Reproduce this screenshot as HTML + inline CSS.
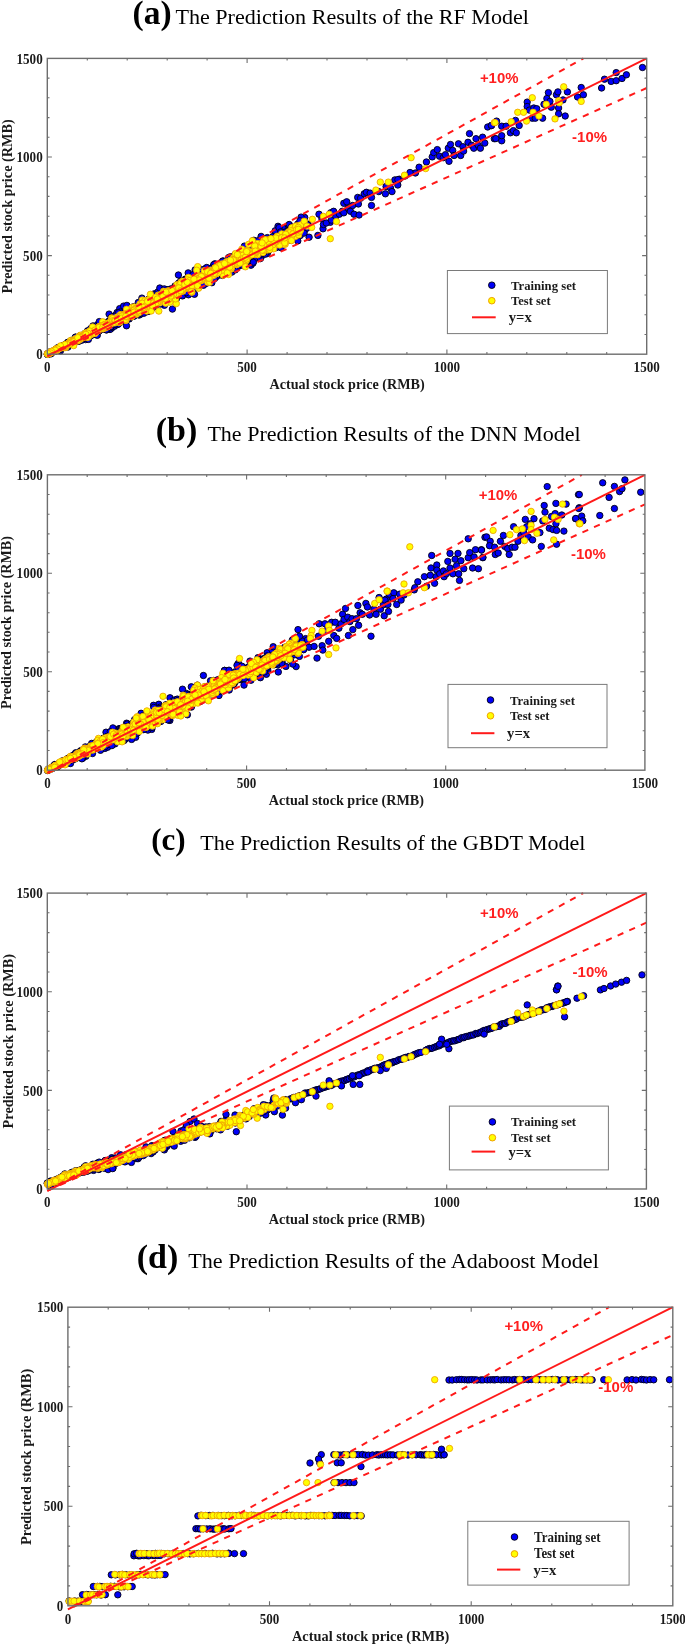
<!DOCTYPE html><html><head><meta charset="utf-8"><title>Prediction Results</title><style>html,body{margin:0;padding:0;background:#fff;width:685px;height:1644px;overflow:hidden}svg{display:block;filter:blur(0.35px)}</style></head><body><svg width="685" height="1644" viewBox="0 0 685 1644">
<rect width="685" height="1644" fill="#fff"/>
<g>
<g fill="#0000f8" stroke="#000010" stroke-width="0.9">
<circle cx="247.8" cy="256.2" r="3.2"/><circle cx="164" cy="299.9" r="3.2"/><circle cx="209.8" cy="270.4" r="3.2"/><circle cx="203.6" cy="273.8" r="3.2"/><circle cx="241.6" cy="254.4" r="3.2"/><circle cx="162.5" cy="296.9" r="3.2"/><circle cx="167" cy="289.6" r="3.2"/><circle cx="53.8" cy="350.7" r="3.2"/><circle cx="109" cy="323.1" r="3.2"/><circle cx="237.9" cy="260.5" r="3.2"/><circle cx="54.2" cy="350.7" r="3.2"/><circle cx="75.7" cy="339.3" r="3.2"/><circle cx="116.4" cy="318.7" r="3.2"/><circle cx="83" cy="337" r="3.2"/><circle cx="118.8" cy="323.5" r="3.2"/><circle cx="251.5" cy="253.1" r="3.2"/><circle cx="181.4" cy="285.1" r="3.2"/><circle cx="146.2" cy="304.9" r="3.2"/><circle cx="177.4" cy="292.5" r="3.2"/><circle cx="88.3" cy="333.4" r="3.2"/><circle cx="203.2" cy="275.5" r="3.2"/><circle cx="138.8" cy="311.4" r="3.2"/><circle cx="258.1" cy="249.5" r="3.2"/><circle cx="211.6" cy="269.4" r="3.2"/><circle cx="95.3" cy="329.4" r="3.2"/><circle cx="92.2" cy="328.9" r="3.2"/><circle cx="55.7" cy="349.6" r="3.2"/><circle cx="105.2" cy="327.8" r="3.2"/><circle cx="172.9" cy="289.8" r="3.2"/><circle cx="257" cy="245.5" r="3.2"/><circle cx="171.6" cy="291.7" r="3.2"/><circle cx="281.8" cy="242.3" r="3.2"/><circle cx="76.2" cy="338.6" r="3.2"/><circle cx="278" cy="234.8" r="3.2"/><circle cx="287.8" cy="226.6" r="3.2"/><circle cx="175.5" cy="289.3" r="3.2"/><circle cx="105.8" cy="324.1" r="3.2"/><circle cx="237.8" cy="266.8" r="3.2"/><circle cx="268.1" cy="240.5" r="3.2"/><circle cx="92.1" cy="330.6" r="3.2"/><circle cx="223.6" cy="264.9" r="3.2"/><circle cx="255.6" cy="250.9" r="3.2"/><circle cx="67.2" cy="344.8" r="3.2"/><circle cx="60" cy="347.9" r="3.2"/><circle cx="47.5" cy="354.3" r="3.2"/><circle cx="235.5" cy="261" r="3.2"/><circle cx="243.7" cy="252.2" r="3.2"/><circle cx="111.6" cy="319.9" r="3.2"/><circle cx="85.7" cy="339.6" r="3.2"/><circle cx="244.4" cy="246.1" r="3.2"/><circle cx="103.4" cy="326.8" r="3.2"/><circle cx="162.2" cy="294.7" r="3.2"/><circle cx="171.6" cy="295.1" r="3.2"/><circle cx="98" cy="327.1" r="3.2"/><circle cx="118.3" cy="317.3" r="3.2"/><circle cx="248.7" cy="254" r="3.2"/><circle cx="147.6" cy="305.1" r="3.2"/><circle cx="126" cy="313.9" r="3.2"/><circle cx="54.1" cy="351.6" r="3.2"/><circle cx="121.5" cy="317.4" r="3.2"/><circle cx="101.5" cy="328" r="3.2"/><circle cx="235.1" cy="260.9" r="3.2"/><circle cx="291.3" cy="237.1" r="3.2"/><circle cx="65.7" cy="344.7" r="3.2"/><circle cx="76" cy="340.9" r="3.2"/><circle cx="197.8" cy="277.8" r="3.2"/><circle cx="211.2" cy="271.9" r="3.2"/><circle cx="127" cy="316.9" r="3.2"/><circle cx="274.6" cy="239.8" r="3.2"/><circle cx="272.1" cy="237.8" r="3.2"/><circle cx="289.9" cy="240.1" r="3.2"/><circle cx="181.6" cy="284.6" r="3.2"/><circle cx="75.2" cy="339.5" r="3.2"/><circle cx="74" cy="341" r="3.2"/><circle cx="221.6" cy="268.4" r="3.2"/><circle cx="146.6" cy="304.4" r="3.2"/><circle cx="252" cy="251.1" r="3.2"/><circle cx="113.8" cy="320.6" r="3.2"/><circle cx="90.7" cy="332.6" r="3.2"/><circle cx="111.9" cy="323.1" r="3.2"/><circle cx="76.8" cy="339" r="3.2"/><circle cx="146" cy="308.1" r="3.2"/><circle cx="89.2" cy="334.6" r="3.2"/><circle cx="290.9" cy="234.7" r="3.2"/><circle cx="154.1" cy="302.7" r="3.2"/><circle cx="188.7" cy="285.7" r="3.2"/><circle cx="165.2" cy="297.7" r="3.2"/><circle cx="79.4" cy="338.8" r="3.2"/><circle cx="183.5" cy="284.4" r="3.2"/><circle cx="263.6" cy="252.9" r="3.2"/><circle cx="250.2" cy="253.4" r="3.2"/><circle cx="284.6" cy="232.1" r="3.2"/><circle cx="93.1" cy="332.6" r="3.2"/><circle cx="166" cy="295.1" r="3.2"/><circle cx="71.2" cy="341.8" r="3.2"/><circle cx="52.1" cy="351.8" r="3.2"/><circle cx="280.8" cy="237.9" r="3.2"/><circle cx="132.8" cy="312.4" r="3.2"/><circle cx="264" cy="245.4" r="3.2"/><circle cx="208" cy="271.4" r="3.2"/><circle cx="99.7" cy="327.2" r="3.2"/><circle cx="179.6" cy="289.1" r="3.2"/><circle cx="252" cy="250.1" r="3.2"/><circle cx="63.6" cy="347.6" r="3.2"/><circle cx="149.7" cy="305.6" r="3.2"/><circle cx="239.4" cy="259.9" r="3.2"/><circle cx="232.4" cy="263.5" r="3.2"/><circle cx="226.3" cy="264" r="3.2"/><circle cx="287.1" cy="236.2" r="3.2"/><circle cx="212.5" cy="272" r="3.2"/><circle cx="95.8" cy="331.8" r="3.2"/><circle cx="174.3" cy="295.5" r="3.2"/><circle cx="113.3" cy="321.7" r="3.2"/><circle cx="47.4" cy="354.1" r="3.2"/><circle cx="156.8" cy="302.2" r="3.2"/><circle cx="230.1" cy="261.4" r="3.2"/><circle cx="144.1" cy="301.6" r="3.2"/><circle cx="62.8" cy="346.7" r="3.2"/><circle cx="188.2" cy="282.1" r="3.2"/><circle cx="51.3" cy="352.3" r="3.2"/><circle cx="114.8" cy="322.3" r="3.2"/><circle cx="179.5" cy="289.9" r="3.2"/><circle cx="277.3" cy="238.6" r="3.2"/><circle cx="164.7" cy="299.7" r="3.2"/><circle cx="233.7" cy="265.9" r="3.2"/><circle cx="54.7" cy="350.5" r="3.2"/><circle cx="74.1" cy="341.7" r="3.2"/><circle cx="211.4" cy="274.4" r="3.2"/><circle cx="263.6" cy="240.5" r="3.2"/><circle cx="270" cy="239.1" r="3.2"/><circle cx="282.6" cy="238.6" r="3.2"/><circle cx="65" cy="345.3" r="3.2"/><circle cx="55.5" cy="350.2" r="3.2"/><circle cx="254.3" cy="246.9" r="3.2"/><circle cx="83.9" cy="334.8" r="3.2"/><circle cx="222" cy="268.2" r="3.2"/><circle cx="107.1" cy="324.6" r="3.2"/><circle cx="137.8" cy="309.8" r="3.2"/><circle cx="191" cy="282.5" r="3.2"/><circle cx="76.7" cy="339.4" r="3.2"/><circle cx="150.8" cy="301.9" r="3.2"/><circle cx="128.9" cy="309.5" r="3.2"/><circle cx="57.5" cy="348.4" r="3.2"/><circle cx="132" cy="313.6" r="3.2"/><circle cx="236.5" cy="265.1" r="3.2"/><circle cx="51.1" cy="352.8" r="3.2"/><circle cx="87.4" cy="338.8" r="3.2"/><circle cx="123.2" cy="317.6" r="3.2"/><circle cx="273" cy="245.4" r="3.2"/><circle cx="112.7" cy="319.8" r="3.2"/><circle cx="109.7" cy="323.1" r="3.2"/><circle cx="230.4" cy="263.6" r="3.2"/><circle cx="133.8" cy="315.9" r="3.2"/><circle cx="302.5" cy="222" r="3.2"/><circle cx="184.3" cy="290.1" r="3.2"/><circle cx="65.2" cy="345.8" r="3.2"/><circle cx="264.5" cy="250.9" r="3.2"/><circle cx="144.6" cy="307.7" r="3.2"/><circle cx="87.2" cy="334.1" r="3.2"/><circle cx="124.5" cy="313.2" r="3.2"/><circle cx="199.6" cy="283" r="3.2"/><circle cx="51.8" cy="352.2" r="3.2"/><circle cx="192.6" cy="285.9" r="3.2"/><circle cx="273" cy="240.6" r="3.2"/><circle cx="106" cy="323.4" r="3.2"/><circle cx="140" cy="304.8" r="3.2"/><circle cx="260.5" cy="246.3" r="3.2"/><circle cx="233.8" cy="258" r="3.2"/><circle cx="77.3" cy="340.9" r="3.2"/><circle cx="192.5" cy="282.7" r="3.2"/><circle cx="79.7" cy="337.6" r="3.2"/><circle cx="164.5" cy="296.8" r="3.2"/><circle cx="200.8" cy="274.4" r="3.2"/><circle cx="212" cy="272.8" r="3.2"/><circle cx="56.6" cy="350.6" r="3.2"/><circle cx="122.1" cy="315.3" r="3.2"/><circle cx="242.1" cy="258.8" r="3.2"/><circle cx="75.7" cy="340.3" r="3.2"/><circle cx="80.6" cy="338.1" r="3.2"/><circle cx="245.9" cy="252.3" r="3.2"/><circle cx="254" cy="250.3" r="3.2"/><circle cx="208.2" cy="277.3" r="3.2"/><circle cx="196.5" cy="284.7" r="3.2"/><circle cx="285.7" cy="237.6" r="3.2"/><circle cx="225.8" cy="272.1" r="3.2"/><circle cx="289.2" cy="224.5" r="3.2"/><circle cx="166.9" cy="292.7" r="3.2"/><circle cx="261.3" cy="256.5" r="3.2"/><circle cx="200.4" cy="277.2" r="3.2"/><circle cx="167.6" cy="292.1" r="3.2"/><circle cx="80.6" cy="337.8" r="3.2"/><circle cx="133.7" cy="311" r="3.2"/><circle cx="97.4" cy="330.4" r="3.2"/><circle cx="173.5" cy="291.1" r="3.2"/><circle cx="107" cy="323.1" r="3.2"/><circle cx="175.6" cy="293.2" r="3.2"/><circle cx="125.1" cy="316.7" r="3.2"/><circle cx="50.3" cy="353.2" r="3.2"/><circle cx="267.3" cy="253.5" r="3.2"/><circle cx="192.4" cy="281.4" r="3.2"/><circle cx="144" cy="305.5" r="3.2"/><circle cx="74" cy="341.5" r="3.2"/><circle cx="57.4" cy="349.9" r="3.2"/><circle cx="71.2" cy="343.6" r="3.2"/><circle cx="272.8" cy="241.6" r="3.2"/><circle cx="226" cy="262.5" r="3.2"/><circle cx="142.8" cy="308.7" r="3.2"/><circle cx="206.6" cy="275.9" r="3.2"/><circle cx="201.1" cy="275.6" r="3.2"/><circle cx="165.6" cy="297" r="3.2"/><circle cx="220.5" cy="268.3" r="3.2"/><circle cx="156.9" cy="296" r="3.2"/><circle cx="271.3" cy="244.9" r="3.2"/><circle cx="224.9" cy="265.7" r="3.2"/><circle cx="297" cy="226.4" r="3.2"/><circle cx="62.1" cy="346.3" r="3.2"/><circle cx="148.5" cy="299.3" r="3.2"/><circle cx="111.6" cy="328.2" r="3.2"/><circle cx="58.8" cy="348.5" r="3.2"/><circle cx="208" cy="277.2" r="3.2"/><circle cx="146.1" cy="305.2" r="3.2"/><circle cx="139.1" cy="315.1" r="3.2"/><circle cx="122.2" cy="317.4" r="3.2"/><circle cx="139.3" cy="309.8" r="3.2"/><circle cx="103.3" cy="323.4" r="3.2"/><circle cx="57.7" cy="349.2" r="3.2"/><circle cx="288" cy="234.4" r="3.2"/><circle cx="268.5" cy="250.8" r="3.2"/><circle cx="184.7" cy="288.8" r="3.2"/><circle cx="277.1" cy="237.7" r="3.2"/><circle cx="83.8" cy="336.2" r="3.2"/><circle cx="86.2" cy="333" r="3.2"/><circle cx="158.8" cy="301" r="3.2"/><circle cx="258.1" cy="251.3" r="3.2"/><circle cx="163.9" cy="296.3" r="3.2"/><circle cx="78.4" cy="338.3" r="3.2"/><circle cx="210.4" cy="271" r="3.2"/><circle cx="100.5" cy="328.4" r="3.2"/><circle cx="73.6" cy="341.6" r="3.2"/><circle cx="194.7" cy="283.1" r="3.2"/><circle cx="225.3" cy="270.6" r="3.2"/><circle cx="278.5" cy="242.8" r="3.2"/><circle cx="165.3" cy="299" r="3.2"/><circle cx="153.1" cy="301.5" r="3.2"/><circle cx="127" cy="316.8" r="3.2"/><circle cx="218.5" cy="272.5" r="3.2"/><circle cx="105.3" cy="323.9" r="3.2"/><circle cx="299.6" cy="225" r="3.2"/><circle cx="296.5" cy="232.1" r="3.2"/><circle cx="69.6" cy="344.1" r="3.2"/><circle cx="129.5" cy="315" r="3.2"/><circle cx="170.7" cy="290.1" r="3.2"/><circle cx="93.1" cy="332.5" r="3.2"/><circle cx="220.8" cy="273.5" r="3.2"/><circle cx="145.3" cy="304.9" r="3.2"/><circle cx="47.6" cy="354.1" r="3.2"/><circle cx="65.4" cy="346.5" r="3.2"/><circle cx="296.3" cy="237.7" r="3.2"/><circle cx="100.7" cy="327.8" r="3.2"/><circle cx="157.1" cy="304.4" r="3.2"/><circle cx="163.8" cy="297.6" r="3.2"/><circle cx="64.8" cy="345.9" r="3.2"/><circle cx="194.8" cy="280.4" r="3.2"/><circle cx="90.3" cy="335.8" r="3.2"/><circle cx="252" cy="256.2" r="3.2"/><circle cx="91.5" cy="335.2" r="3.2"/><circle cx="66.3" cy="344.9" r="3.2"/><circle cx="235.5" cy="260.9" r="3.2"/><circle cx="70.8" cy="343.9" r="3.2"/><circle cx="231.1" cy="260.2" r="3.2"/><circle cx="273" cy="239.6" r="3.2"/><circle cx="198.3" cy="279.8" r="3.2"/><circle cx="182.6" cy="283.8" r="3.2"/><circle cx="128" cy="312.9" r="3.2"/><circle cx="278" cy="226.3" r="3.2"/><circle cx="214.6" cy="271.6" r="3.2"/><circle cx="280.4" cy="245.6" r="3.2"/><circle cx="126.1" cy="317.9" r="3.2"/><circle cx="185.4" cy="289.9" r="3.2"/><circle cx="95.2" cy="329.7" r="3.2"/><circle cx="63.2" cy="346.8" r="3.2"/><circle cx="84.5" cy="334" r="3.2"/><circle cx="106.5" cy="326.5" r="3.2"/><circle cx="224.4" cy="270.3" r="3.2"/><circle cx="191.5" cy="285.5" r="3.2"/><circle cx="160.4" cy="301.4" r="3.2"/><circle cx="224" cy="266.2" r="3.2"/><circle cx="89.8" cy="334.9" r="3.2"/><circle cx="297.8" cy="223.9" r="3.2"/><circle cx="255.1" cy="250" r="3.2"/><circle cx="234.8" cy="255" r="3.2"/><circle cx="213" cy="275.4" r="3.2"/><circle cx="278" cy="237.8" r="3.2"/><circle cx="121.1" cy="318.1" r="3.2"/><circle cx="175.8" cy="292" r="3.2"/><circle cx="251" cy="265.2" r="3.2"/><circle cx="181.1" cy="292.6" r="3.2"/><circle cx="50.2" cy="353" r="3.2"/><circle cx="80" cy="338.4" r="3.2"/><circle cx="133.4" cy="306.8" r="3.2"/><circle cx="72.6" cy="341.8" r="3.2"/><circle cx="128.1" cy="313.6" r="3.2"/><circle cx="151.1" cy="308.4" r="3.2"/><circle cx="275.9" cy="239.3" r="3.2"/><circle cx="109.6" cy="321.9" r="3.2"/><circle cx="261.3" cy="247.5" r="3.2"/><circle cx="74" cy="340.1" r="3.2"/><circle cx="121.8" cy="314.9" r="3.2"/><circle cx="136.6" cy="311.8" r="3.2"/><circle cx="276" cy="247.7" r="3.2"/><circle cx="273.1" cy="236.5" r="3.2"/><circle cx="196.3" cy="274.1" r="3.2"/><circle cx="97.1" cy="330.5" r="3.2"/><circle cx="246.5" cy="252.8" r="3.2"/><circle cx="154.4" cy="293.8" r="3.2"/><circle cx="191.2" cy="290.4" r="3.2"/><circle cx="140.5" cy="314.2" r="3.2"/><circle cx="141.1" cy="302.7" r="3.2"/><circle cx="158.7" cy="298.7" r="3.2"/><circle cx="253.6" cy="249.3" r="3.2"/><circle cx="220.6" cy="270.4" r="3.2"/><circle cx="97.3" cy="328.3" r="3.2"/><circle cx="198.8" cy="274.1" r="3.2"/><circle cx="73.1" cy="340" r="3.2"/><circle cx="87.5" cy="333" r="3.2"/><circle cx="81.5" cy="338.2" r="3.2"/><circle cx="208.6" cy="275.3" r="3.2"/><circle cx="89.8" cy="334.1" r="3.2"/><circle cx="281.1" cy="247.8" r="3.2"/><circle cx="154" cy="303.8" r="3.2"/><circle cx="88.3" cy="334.8" r="3.2"/><circle cx="195.1" cy="269.9" r="3.2"/><circle cx="185.6" cy="284.1" r="3.2"/><circle cx="171.2" cy="292.9" r="3.2"/><circle cx="77.2" cy="339.8" r="3.2"/><circle cx="115.7" cy="319.1" r="3.2"/><circle cx="111.7" cy="322.6" r="3.2"/><circle cx="103.6" cy="325.1" r="3.2"/><circle cx="56.6" cy="349" r="3.2"/><circle cx="156.8" cy="302" r="3.2"/><circle cx="286.7" cy="235.1" r="3.2"/><circle cx="76.2" cy="340.5" r="3.2"/><circle cx="215.6" cy="266" r="3.2"/><circle cx="113.6" cy="321.1" r="3.2"/><circle cx="93" cy="325.9" r="3.2"/><circle cx="198.8" cy="275.6" r="3.2"/><circle cx="86.5" cy="332.6" r="3.2"/><circle cx="121.2" cy="316.2" r="3.2"/><circle cx="76.6" cy="339.1" r="3.2"/><circle cx="246.9" cy="255.3" r="3.2"/><circle cx="49.8" cy="353.3" r="3.2"/><circle cx="184.4" cy="290.7" r="3.2"/><circle cx="85" cy="333.4" r="3.2"/><circle cx="70.5" cy="343.3" r="3.2"/><circle cx="297.3" cy="230.8" r="3.2"/><circle cx="60.7" cy="348.4" r="3.2"/><circle cx="162.3" cy="293.1" r="3.2"/><circle cx="183.4" cy="283.1" r="3.2"/><circle cx="67.1" cy="344.5" r="3.2"/><circle cx="119.4" cy="320.5" r="3.2"/><circle cx="80.8" cy="339.1" r="3.2"/><circle cx="50.3" cy="352.5" r="3.2"/><circle cx="196.1" cy="279.7" r="3.2"/><circle cx="229" cy="262.7" r="3.2"/><circle cx="66.3" cy="345" r="3.2"/><circle cx="181.5" cy="288.9" r="3.2"/><circle cx="183.3" cy="288.6" r="3.2"/><circle cx="220.3" cy="270.7" r="3.2"/><circle cx="148.2" cy="302.4" r="3.2"/><circle cx="178.9" cy="286.3" r="3.2"/><circle cx="254.3" cy="250.4" r="3.2"/><circle cx="152.8" cy="302.9" r="3.2"/><circle cx="79.3" cy="338.8" r="3.2"/><circle cx="231.4" cy="261.6" r="3.2"/><circle cx="48" cy="353.9" r="3.2"/><circle cx="282.9" cy="238.5" r="3.2"/><circle cx="74.7" cy="339.8" r="3.2"/><circle cx="171.1" cy="299.9" r="3.2"/><circle cx="49.9" cy="352.8" r="3.2"/><circle cx="272.4" cy="243" r="3.2"/><circle cx="229.1" cy="269.1" r="3.2"/><circle cx="101.1" cy="326.8" r="3.2"/><circle cx="54.8" cy="350.1" r="3.2"/><circle cx="80.4" cy="337.7" r="3.2"/><circle cx="119.7" cy="308.6" r="3.2"/><circle cx="219.9" cy="264.8" r="3.2"/><circle cx="53.3" cy="351.2" r="3.2"/><circle cx="175.6" cy="290.9" r="3.2"/><circle cx="188.3" cy="284.7" r="3.2"/><circle cx="202.9" cy="276.5" r="3.2"/><circle cx="165.2" cy="295.2" r="3.2"/><circle cx="201.3" cy="269.5" r="3.2"/><circle cx="95.4" cy="329.4" r="3.2"/><circle cx="290.9" cy="237.5" r="3.2"/><circle cx="292.1" cy="232.3" r="3.2"/><circle cx="73.7" cy="343.5" r="3.2"/><circle cx="82.7" cy="337" r="3.2"/><circle cx="145" cy="306.2" r="3.2"/><circle cx="125.7" cy="313.7" r="3.2"/><circle cx="178" cy="289.1" r="3.2"/><circle cx="65.9" cy="344.6" r="3.2"/><circle cx="267.7" cy="246.6" r="3.2"/><circle cx="129.1" cy="318.9" r="3.2"/><circle cx="87.6" cy="333.7" r="3.2"/><circle cx="272.4" cy="241.2" r="3.2"/><circle cx="264.6" cy="250" r="3.2"/><circle cx="75.6" cy="337.3" r="3.2"/><circle cx="90.8" cy="331.5" r="3.2"/><circle cx="94.3" cy="331.8" r="3.2"/><circle cx="95.8" cy="328.6" r="3.2"/><circle cx="50.4" cy="352.6" r="3.2"/><circle cx="83.8" cy="337.2" r="3.2"/><circle cx="223.5" cy="266.1" r="3.2"/><circle cx="298.9" cy="230.6" r="3.2"/><circle cx="269.3" cy="241.5" r="3.2"/><circle cx="142.8" cy="309.3" r="3.2"/><circle cx="136" cy="310.5" r="3.2"/><circle cx="210.9" cy="272.7" r="3.2"/><circle cx="91.4" cy="334.2" r="3.2"/><circle cx="64.7" cy="346.2" r="3.2"/><circle cx="191.1" cy="285.3" r="3.2"/><circle cx="145.1" cy="303.6" r="3.2"/><circle cx="133.1" cy="312.6" r="3.2"/><circle cx="154.5" cy="298" r="3.2"/><circle cx="272.9" cy="242.3" r="3.2"/><circle cx="145.1" cy="306.9" r="3.2"/><circle cx="230.5" cy="256.8" r="3.2"/><circle cx="152.4" cy="299.9" r="3.2"/><circle cx="92.3" cy="331.8" r="3.2"/><circle cx="187.1" cy="283.9" r="3.2"/><circle cx="89.8" cy="333.8" r="3.2"/><circle cx="267.4" cy="237.6" r="3.2"/><circle cx="66.2" cy="344.6" r="3.2"/><circle cx="81.4" cy="336.3" r="3.2"/><circle cx="77" cy="340.2" r="3.2"/><circle cx="252.9" cy="263.2" r="3.2"/><circle cx="143.9" cy="313.2" r="3.2"/><circle cx="227.6" cy="263.1" r="3.2"/><circle cx="139" cy="313.9" r="3.2"/><circle cx="288.1" cy="230.4" r="3.2"/><circle cx="185.9" cy="291.8" r="3.2"/><circle cx="278.8" cy="240" r="3.2"/><circle cx="120.9" cy="318.2" r="3.2"/><circle cx="152" cy="304.7" r="3.2"/><circle cx="133.1" cy="311.9" r="3.2"/><circle cx="54.7" cy="350.5" r="3.2"/><circle cx="215.9" cy="269.5" r="3.2"/><circle cx="178.2" cy="292.6" r="3.2"/><circle cx="88.4" cy="334.2" r="3.2"/><circle cx="85.7" cy="335.5" r="3.2"/><circle cx="199.6" cy="281.1" r="3.2"/><circle cx="117.6" cy="319.8" r="3.2"/><circle cx="97.4" cy="324.8" r="3.2"/><circle cx="114.9" cy="323.6" r="3.2"/><circle cx="186.4" cy="280.8" r="3.2"/><circle cx="73.4" cy="341.1" r="3.2"/><circle cx="136.2" cy="307.9" r="3.2"/><circle cx="254.9" cy="248.4" r="3.2"/><circle cx="227.1" cy="263.7" r="3.2"/><circle cx="131.9" cy="312.3" r="3.2"/><circle cx="105.7" cy="327.6" r="3.2"/><circle cx="89.9" cy="334.1" r="3.2"/><circle cx="134.4" cy="310.9" r="3.2"/><circle cx="294" cy="230.7" r="3.2"/><circle cx="64.2" cy="345.3" r="3.2"/><circle cx="163.2" cy="303.7" r="3.2"/><circle cx="207.1" cy="274.3" r="3.2"/><circle cx="181.9" cy="286.5" r="3.2"/><circle cx="64.8" cy="346" r="3.2"/><circle cx="81.5" cy="336.9" r="3.2"/><circle cx="77.8" cy="340" r="3.2"/><circle cx="78.7" cy="340.4" r="3.2"/><circle cx="120.4" cy="315.3" r="3.2"/><circle cx="120.8" cy="317.6" r="3.2"/><circle cx="287" cy="236.7" r="3.2"/><circle cx="270.3" cy="244.6" r="3.2"/><circle cx="57.6" cy="349.1" r="3.2"/><circle cx="162.6" cy="300.2" r="3.2"/><circle cx="127.4" cy="317" r="3.2"/><circle cx="153.7" cy="302.5" r="3.2"/><circle cx="80.8" cy="339.5" r="3.2"/><circle cx="109.3" cy="325.5" r="3.2"/><circle cx="85.6" cy="334.8" r="3.2"/><circle cx="188.2" cy="272.9" r="3.2"/><circle cx="172.1" cy="295.9" r="3.2"/><circle cx="81.9" cy="338.1" r="3.2"/><circle cx="80.9" cy="336.3" r="3.2"/><circle cx="116.5" cy="320.7" r="3.2"/><circle cx="300.2" cy="235.6" r="3.2"/><circle cx="165.3" cy="292.2" r="3.2"/><circle cx="156.5" cy="301.8" r="3.2"/><circle cx="182.3" cy="287.8" r="3.2"/><circle cx="215.7" cy="270.2" r="3.2"/><circle cx="161.1" cy="302.5" r="3.2"/><circle cx="244.7" cy="256.5" r="3.2"/><circle cx="233.1" cy="268.3" r="3.2"/><circle cx="98.1" cy="329.9" r="3.2"/><circle cx="109.1" cy="314.1" r="3.2"/><circle cx="114.3" cy="321.5" r="3.2"/><circle cx="135.4" cy="311.9" r="3.2"/><circle cx="92.9" cy="328.5" r="3.2"/><circle cx="77.1" cy="338.2" r="3.2"/><circle cx="260.2" cy="244.7" r="3.2"/><circle cx="47.4" cy="354.2" r="3.2"/><circle cx="61.1" cy="347.7" r="3.2"/><circle cx="248.3" cy="250.9" r="3.2"/><circle cx="240.7" cy="258.9" r="3.2"/><circle cx="215.9" cy="272.9" r="3.2"/><circle cx="82.2" cy="336.6" r="3.2"/><circle cx="107.6" cy="323" r="3.2"/><circle cx="209.5" cy="280" r="3.2"/><circle cx="58.3" cy="349.1" r="3.2"/><circle cx="88.6" cy="333" r="3.2"/><circle cx="133.2" cy="314.3" r="3.2"/><circle cx="296.9" cy="236.1" r="3.2"/><circle cx="91.3" cy="332.3" r="3.2"/><circle cx="212" cy="278.1" r="3.2"/><circle cx="79.9" cy="335.8" r="3.2"/><circle cx="104.8" cy="327.5" r="3.2"/><circle cx="188.2" cy="289" r="3.2"/><circle cx="185.3" cy="279.1" r="3.2"/><circle cx="172" cy="291.9" r="3.2"/><circle cx="291.4" cy="227.1" r="3.2"/><circle cx="245.9" cy="255.7" r="3.2"/><circle cx="256.6" cy="258" r="3.2"/><circle cx="251.1" cy="253.4" r="3.2"/><circle cx="93.6" cy="333.7" r="3.2"/><circle cx="67.9" cy="347.1" r="3.2"/><circle cx="229.9" cy="263.2" r="3.2"/><circle cx="162.7" cy="292.7" r="3.2"/><circle cx="184.4" cy="286.8" r="3.2"/><circle cx="166.9" cy="297.5" r="3.2"/><circle cx="147.7" cy="311.6" r="3.2"/><circle cx="177" cy="286" r="3.2"/><circle cx="127.1" cy="315.9" r="3.2"/><circle cx="114.2" cy="318.5" r="3.2"/><circle cx="234.2" cy="259.2" r="3.2"/><circle cx="231.9" cy="272.1" r="3.2"/><circle cx="65.8" cy="344.8" r="3.2"/><circle cx="96.7" cy="332" r="3.2"/><circle cx="141" cy="306.2" r="3.2"/><circle cx="82.6" cy="338.1" r="3.2"/><circle cx="198.4" cy="287.6" r="3.2"/><circle cx="78.4" cy="339.4" r="3.2"/><circle cx="213.6" cy="269.1" r="3.2"/><circle cx="171.8" cy="292.1" r="3.2"/><circle cx="61" cy="346.9" r="3.2"/><circle cx="273" cy="238.5" r="3.2"/><circle cx="76.8" cy="340.7" r="3.2"/><circle cx="70.9" cy="341.7" r="3.2"/><circle cx="83.1" cy="335.5" r="3.2"/><circle cx="250.4" cy="254.9" r="3.2"/><circle cx="129.3" cy="314.5" r="3.2"/><circle cx="86.3" cy="335.8" r="3.2"/><circle cx="93" cy="327.2" r="3.2"/><circle cx="261.1" cy="236.4" r="3.2"/><circle cx="202.8" cy="276.4" r="3.2"/><circle cx="218.9" cy="272.8" r="3.2"/><circle cx="236.9" cy="259.7" r="3.2"/><circle cx="149" cy="311.1" r="3.2"/><circle cx="183.5" cy="281.7" r="3.2"/><circle cx="79.5" cy="336.4" r="3.2"/><circle cx="157.4" cy="303.6" r="3.2"/><circle cx="167.1" cy="300.1" r="3.2"/><circle cx="90" cy="333.2" r="3.2"/><circle cx="219.5" cy="268.5" r="3.2"/><circle cx="237.3" cy="261.9" r="3.2"/><circle cx="96.7" cy="330.1" r="3.2"/><circle cx="222.2" cy="266.1" r="3.2"/><circle cx="145.9" cy="306.6" r="3.2"/><circle cx="73.1" cy="341.4" r="3.2"/><circle cx="104.4" cy="325.5" r="3.2"/><circle cx="190.1" cy="285.2" r="3.2"/><circle cx="224.8" cy="266.7" r="3.2"/><circle cx="110.4" cy="323" r="3.2"/><circle cx="258.6" cy="241.1" r="3.2"/><circle cx="218.2" cy="265.6" r="3.2"/><circle cx="179.3" cy="287.7" r="3.2"/><circle cx="223.7" cy="266.2" r="3.2"/><circle cx="229.7" cy="269.1" r="3.2"/><circle cx="72.2" cy="341.5" r="3.2"/><circle cx="158.7" cy="297.2" r="3.2"/><circle cx="57.2" cy="349.3" r="3.2"/><circle cx="168.5" cy="293" r="3.2"/><circle cx="104.8" cy="326.3" r="3.2"/><circle cx="105" cy="322.5" r="3.2"/><circle cx="87.8" cy="331.4" r="3.2"/><circle cx="98.9" cy="328.8" r="3.2"/><circle cx="197.2" cy="274.4" r="3.2"/><circle cx="88.6" cy="332.9" r="3.2"/><circle cx="158.1" cy="300.2" r="3.2"/><circle cx="113.9" cy="319.7" r="3.2"/><circle cx="55.5" cy="349.8" r="3.2"/><circle cx="116.1" cy="322.1" r="3.2"/><circle cx="62.1" cy="347.1" r="3.2"/><circle cx="251.3" cy="250.1" r="3.2"/><circle cx="64.7" cy="345.6" r="3.2"/><circle cx="82.6" cy="336.1" r="3.2"/><circle cx="281.1" cy="241.1" r="3.2"/><circle cx="210.5" cy="270.7" r="3.2"/><circle cx="300.4" cy="225.5" r="3.2"/><circle cx="53.7" cy="351" r="3.2"/><circle cx="231.3" cy="265.9" r="3.2"/><circle cx="280.4" cy="239.2" r="3.2"/><circle cx="290.9" cy="233.5" r="3.2"/><circle cx="179.7" cy="287.7" r="3.2"/><circle cx="277.8" cy="239.2" r="3.2"/><circle cx="243.7" cy="258" r="3.2"/><circle cx="174.7" cy="292.6" r="3.2"/><circle cx="50.5" cy="352.8" r="3.2"/><circle cx="250" cy="253" r="3.2"/><circle cx="57.4" cy="348.4" r="3.2"/><circle cx="184" cy="287.2" r="3.2"/><circle cx="68.4" cy="343" r="3.2"/><circle cx="250.1" cy="254.9" r="3.2"/><circle cx="184.8" cy="284.1" r="3.2"/><circle cx="145.2" cy="303.7" r="3.2"/><circle cx="196.2" cy="282" r="3.2"/><circle cx="97.7" cy="330.9" r="3.2"/><circle cx="127.5" cy="310.1" r="3.2"/><circle cx="157.9" cy="296.1" r="3.2"/><circle cx="301.1" cy="229.9" r="3.2"/><circle cx="247.6" cy="253.5" r="3.2"/><circle cx="108.7" cy="321.4" r="3.2"/><circle cx="67.8" cy="342.3" r="3.2"/><circle cx="149.3" cy="306.8" r="3.2"/><circle cx="199.2" cy="278.5" r="3.2"/><circle cx="115.3" cy="317.6" r="3.2"/><circle cx="47.8" cy="353.7" r="3.2"/><circle cx="88.2" cy="334.9" r="3.2"/><circle cx="238.2" cy="258.9" r="3.2"/><circle cx="250" cy="255.3" r="3.2"/><circle cx="212.6" cy="267.2" r="3.2"/><circle cx="194.4" cy="280.6" r="3.2"/><circle cx="288.9" cy="237.7" r="3.2"/><circle cx="72.4" cy="340.6" r="3.2"/><circle cx="50.9" cy="353.9" r="3.2"/><circle cx="252.2" cy="255.3" r="3.2"/><circle cx="248.6" cy="257.1" r="3.2"/><circle cx="297.2" cy="235.7" r="3.2"/><circle cx="103.5" cy="327" r="3.2"/><circle cx="78.9" cy="338.6" r="3.2"/><circle cx="259.9" cy="249.6" r="3.2"/><circle cx="254.3" cy="249.3" r="3.2"/><circle cx="139.6" cy="304.4" r="3.2"/><circle cx="123.2" cy="315.3" r="3.2"/><circle cx="106.4" cy="326.5" r="3.2"/><circle cx="265.2" cy="254.2" r="3.2"/><circle cx="224.5" cy="267" r="3.2"/><circle cx="195.9" cy="275.5" r="3.2"/><circle cx="258.4" cy="252.4" r="3.2"/><circle cx="171.5" cy="295.2" r="3.2"/><circle cx="116.1" cy="315" r="3.2"/><circle cx="120.8" cy="320.7" r="3.2"/><circle cx="177.3" cy="290.4" r="3.2"/><circle cx="156.8" cy="294.9" r="3.2"/><circle cx="147" cy="305.7" r="3.2"/><circle cx="200.7" cy="283.3" r="3.2"/><circle cx="249.5" cy="254.8" r="3.2"/><circle cx="113" cy="323.5" r="3.2"/><circle cx="226.6" cy="271" r="3.2"/><circle cx="120.7" cy="319.2" r="3.2"/><circle cx="149.2" cy="304" r="3.2"/><circle cx="156.9" cy="301.8" r="3.2"/><circle cx="199.8" cy="276.4" r="3.2"/><circle cx="162.4" cy="291.2" r="3.2"/><circle cx="154.1" cy="300.7" r="3.2"/><circle cx="55" cy="350.2" r="3.2"/><circle cx="235.3" cy="265.3" r="3.2"/><circle cx="158.7" cy="298.1" r="3.2"/><circle cx="298.1" cy="228.5" r="3.2"/><circle cx="122.2" cy="318.6" r="3.2"/><circle cx="167.4" cy="295.7" r="3.2"/><circle cx="276" cy="244.5" r="3.2"/><circle cx="115.9" cy="315.7" r="3.2"/><circle cx="101.6" cy="325.4" r="3.2"/><circle cx="145.2" cy="301.1" r="3.2"/><circle cx="167.2" cy="293.1" r="3.2"/><circle cx="228.7" cy="257.5" r="3.2"/><circle cx="136.4" cy="308.8" r="3.2"/><circle cx="292.2" cy="235.4" r="3.2"/><circle cx="138.5" cy="309.9" r="3.2"/><circle cx="145.6" cy="304.7" r="3.2"/><circle cx="75.4" cy="339.1" r="3.2"/><circle cx="146.4" cy="306.7" r="3.2"/><circle cx="76.4" cy="340.2" r="3.2"/><circle cx="143.3" cy="300.4" r="3.2"/><circle cx="150.3" cy="308.4" r="3.2"/><circle cx="183.8" cy="287.8" r="3.2"/><circle cx="134.1" cy="307.3" r="3.2"/><circle cx="150.2" cy="302.5" r="3.2"/><circle cx="225.4" cy="262.7" r="3.2"/><circle cx="110.2" cy="321" r="3.2"/><circle cx="209.9" cy="273" r="3.2"/><circle cx="214.9" cy="263.8" r="3.2"/><circle cx="133.7" cy="309.2" r="3.2"/><circle cx="57.6" cy="349" r="3.2"/><circle cx="110" cy="323.6" r="3.2"/><circle cx="145.8" cy="306.9" r="3.2"/><circle cx="55.9" cy="350.2" r="3.2"/><circle cx="66.9" cy="344.1" r="3.2"/><circle cx="164.4" cy="305.3" r="3.2"/><circle cx="153.6" cy="300.6" r="3.2"/><circle cx="48.1" cy="354.2" r="3.2"/><circle cx="179.6" cy="289.8" r="3.2"/><circle cx="93.2" cy="331.6" r="3.2"/><circle cx="100.6" cy="328" r="3.2"/><circle cx="131.5" cy="312" r="3.2"/><circle cx="240.3" cy="261.8" r="3.2"/><circle cx="57.6" cy="350.1" r="3.2"/><circle cx="149" cy="302.3" r="3.2"/><circle cx="64.9" cy="347.2" r="3.2"/><circle cx="101.6" cy="329.6" r="3.2"/><circle cx="134.9" cy="314.3" r="3.2"/><circle cx="172.1" cy="294.5" r="3.2"/><circle cx="150.6" cy="304.3" r="3.2"/><circle cx="110" cy="329.5" r="3.2"/><circle cx="96.6" cy="328.8" r="3.2"/><circle cx="98.8" cy="325.6" r="3.2"/><circle cx="103" cy="326.8" r="3.2"/><circle cx="237.7" cy="266.6" r="3.2"/><circle cx="59.7" cy="347.4" r="3.2"/><circle cx="144.9" cy="309.5" r="3.2"/><circle cx="161.1" cy="297.6" r="3.2"/><circle cx="213.2" cy="272.4" r="3.2"/><circle cx="119.5" cy="315.8" r="3.2"/><circle cx="284.7" cy="239" r="3.2"/><circle cx="78.9" cy="341.3" r="3.2"/><circle cx="109.3" cy="320.9" r="3.2"/><circle cx="56.2" cy="349.2" r="3.2"/><circle cx="71" cy="341.8" r="3.2"/><circle cx="242" cy="261.1" r="3.2"/><circle cx="153.8" cy="303.4" r="3.2"/><circle cx="172.2" cy="294" r="3.2"/><circle cx="96" cy="330.7" r="3.2"/><circle cx="154.2" cy="303.6" r="3.2"/><circle cx="260.4" cy="243.9" r="3.2"/><circle cx="86.3" cy="336.3" r="3.2"/><circle cx="290.1" cy="232.7" r="3.2"/><circle cx="207.4" cy="277.2" r="3.2"/><circle cx="184.7" cy="280.2" r="3.2"/><circle cx="118" cy="318.7" r="3.2"/><circle cx="170.8" cy="288.9" r="3.2"/><circle cx="186" cy="279.9" r="3.2"/><circle cx="72.7" cy="340.7" r="3.2"/><circle cx="131.3" cy="312.1" r="3.2"/><circle cx="243.7" cy="251.7" r="3.2"/><circle cx="277.2" cy="234.9" r="3.2"/><circle cx="167.1" cy="292" r="3.2"/><circle cx="227.4" cy="268.8" r="3.2"/><circle cx="211.9" cy="282.7" r="3.2"/><circle cx="211.5" cy="268.5" r="3.2"/><circle cx="260.4" cy="258.6" r="3.2"/><circle cx="245.4" cy="256.6" r="3.2"/><circle cx="145.8" cy="302.7" r="3.2"/><circle cx="83.6" cy="335.7" r="3.2"/><circle cx="187" cy="279.8" r="3.2"/><circle cx="175.7" cy="288.8" r="3.2"/><circle cx="150.2" cy="302.4" r="3.2"/><circle cx="239.2" cy="254.5" r="3.2"/><circle cx="251.4" cy="254.5" r="3.2"/><circle cx="185.1" cy="290.2" r="3.2"/><circle cx="70.1" cy="343" r="3.2"/><circle cx="121.2" cy="319.9" r="3.2"/><circle cx="265.9" cy="250.7" r="3.2"/><circle cx="137.2" cy="309.8" r="3.2"/><circle cx="197" cy="277.4" r="3.2"/><circle cx="143.3" cy="307.1" r="3.2"/><circle cx="201" cy="278.9" r="3.2"/><circle cx="122" cy="319.1" r="3.2"/><circle cx="288.1" cy="235.7" r="3.2"/><circle cx="273.5" cy="238.6" r="3.2"/><circle cx="229.9" cy="262.3" r="3.2"/><circle cx="213.7" cy="264.7" r="3.2"/><circle cx="243.7" cy="257.2" r="3.2"/><circle cx="199.4" cy="278.9" r="3.2"/><circle cx="50.3" cy="351.7" r="3.2"/><circle cx="188.3" cy="290.9" r="3.2"/><circle cx="54.4" cy="350.6" r="3.2"/><circle cx="214.5" cy="273.7" r="3.2"/><circle cx="185.6" cy="288.7" r="3.2"/><circle cx="143.1" cy="306.3" r="3.2"/><circle cx="67.6" cy="342.8" r="3.2"/><circle cx="58.1" cy="348.1" r="3.2"/><circle cx="215.5" cy="275.4" r="3.2"/><circle cx="157.8" cy="292" r="3.2"/><circle cx="75.7" cy="341.8" r="3.2"/><circle cx="150" cy="306.3" r="3.2"/><circle cx="143.9" cy="305.2" r="3.2"/><circle cx="161.2" cy="289.9" r="3.2"/><circle cx="194.8" cy="282" r="3.2"/><circle cx="280.2" cy="240.7" r="3.2"/><circle cx="120.4" cy="319.4" r="3.2"/><circle cx="211.7" cy="272.4" r="3.2"/><circle cx="58.2" cy="348.8" r="3.2"/><circle cx="146.1" cy="305.6" r="3.2"/><circle cx="109.9" cy="325.1" r="3.2"/><circle cx="96.3" cy="329.2" r="3.2"/><circle cx="114" cy="321" r="3.2"/><circle cx="159.7" cy="297.8" r="3.2"/><circle cx="120" cy="320.2" r="3.2"/><circle cx="87.6" cy="330.8" r="3.2"/><circle cx="64.2" cy="345.9" r="3.2"/><circle cx="280" cy="243" r="3.2"/><circle cx="76.4" cy="341.2" r="3.2"/><circle cx="93.6" cy="331.2" r="3.2"/><circle cx="109.4" cy="327.3" r="3.2"/><circle cx="56.1" cy="350.7" r="3.2"/><circle cx="114.5" cy="326.2" r="3.2"/><circle cx="281.6" cy="236" r="3.2"/><circle cx="266.7" cy="244.5" r="3.2"/><circle cx="295.9" cy="234.8" r="3.2"/><circle cx="304.2" cy="230.9" r="3.2"/><circle cx="114.6" cy="319.1" r="3.2"/><circle cx="224.7" cy="262.2" r="3.2"/><circle cx="77.1" cy="337.5" r="3.2"/><circle cx="93.4" cy="331.2" r="3.2"/><circle cx="141.9" cy="304.4" r="3.2"/><circle cx="71" cy="341.5" r="3.2"/><circle cx="303.5" cy="228.3" r="3.2"/><circle cx="98.1" cy="329.7" r="3.2"/><circle cx="65.6" cy="344.3" r="3.2"/><circle cx="93.5" cy="331.5" r="3.2"/><circle cx="195.3" cy="281.4" r="3.2"/><circle cx="242.8" cy="265.5" r="3.2"/><circle cx="206.7" cy="274" r="3.2"/><circle cx="116.5" cy="314.8" r="3.2"/><circle cx="249" cy="252.3" r="3.2"/><circle cx="76.2" cy="339.8" r="3.2"/><circle cx="60.4" cy="351" r="3.2"/><circle cx="229.6" cy="265.2" r="3.2"/><circle cx="195.9" cy="279.8" r="3.2"/><circle cx="188.9" cy="285.4" r="3.2"/><circle cx="88" cy="333.7" r="3.2"/><circle cx="91" cy="335.2" r="3.2"/><circle cx="75.9" cy="338.2" r="3.2"/><circle cx="198.1" cy="285.5" r="3.2"/><circle cx="290.4" cy="237.2" r="3.2"/><circle cx="261" cy="249.3" r="3.2"/><circle cx="117.4" cy="318.2" r="3.2"/><circle cx="146.1" cy="308.5" r="3.2"/><circle cx="248.6" cy="254.9" r="3.2"/><circle cx="98.8" cy="331" r="3.2"/><circle cx="171.4" cy="292.5" r="3.2"/><circle cx="232.4" cy="262.4" r="3.2"/><circle cx="156.2" cy="301.7" r="3.2"/><circle cx="166.4" cy="299.4" r="3.2"/><circle cx="161.9" cy="298" r="3.2"/><circle cx="232.3" cy="261" r="3.2"/><circle cx="249.3" cy="256.8" r="3.2"/><circle cx="55.9" cy="349.9" r="3.2"/><circle cx="228.9" cy="265.7" r="3.2"/><circle cx="101.8" cy="324.4" r="3.2"/><circle cx="150.4" cy="306.2" r="3.2"/><circle cx="179.4" cy="288.6" r="3.2"/><circle cx="265.3" cy="243.4" r="3.2"/><circle cx="58.4" cy="348.9" r="3.2"/><circle cx="133.9" cy="316.3" r="3.2"/><circle cx="99.7" cy="329" r="3.2"/><circle cx="260.3" cy="243.5" r="3.2"/><circle cx="203.4" cy="276" r="3.2"/><circle cx="205.7" cy="268.4" r="3.2"/><circle cx="179.7" cy="287.6" r="3.2"/><circle cx="172.4" cy="290.7" r="3.2"/><circle cx="167.8" cy="297.1" r="3.2"/><circle cx="191.2" cy="284" r="3.2"/><circle cx="60.5" cy="349.3" r="3.2"/><circle cx="109.8" cy="323.1" r="3.2"/><circle cx="63.1" cy="347.2" r="3.2"/><circle cx="114.9" cy="320" r="3.2"/><circle cx="277.8" cy="239.4" r="3.2"/><circle cx="222.2" cy="271.2" r="3.2"/><circle cx="137.6" cy="308.9" r="3.2"/><circle cx="243.9" cy="255.8" r="3.2"/><circle cx="220.2" cy="270.2" r="3.2"/><circle cx="222.5" cy="269.1" r="3.2"/><circle cx="135.1" cy="312.4" r="3.2"/><circle cx="297.5" cy="230.2" r="3.2"/><circle cx="126.1" cy="315.8" r="3.2"/><circle cx="123.6" cy="306.1" r="3.2"/><circle cx="180.5" cy="283.3" r="3.2"/><circle cx="190" cy="282.2" r="3.2"/><circle cx="213.7" cy="272.8" r="3.2"/><circle cx="63.7" cy="346.9" r="3.2"/><circle cx="211" cy="274.4" r="3.2"/><circle cx="109" cy="322.4" r="3.2"/><circle cx="59.4" cy="348.7" r="3.2"/><circle cx="111.8" cy="324.6" r="3.2"/><circle cx="212" cy="270.3" r="3.2"/><circle cx="168.7" cy="292" r="3.2"/><circle cx="60.1" cy="348" r="3.2"/><circle cx="134.9" cy="307.7" r="3.2"/><circle cx="256.4" cy="247.7" r="3.2"/><circle cx="293.8" cy="230.2" r="3.2"/><circle cx="59.1" cy="348.8" r="3.2"/><circle cx="292.7" cy="236.9" r="3.2"/><circle cx="202.5" cy="279.4" r="3.2"/><circle cx="68" cy="345.6" r="3.2"/><circle cx="106.4" cy="325.4" r="3.2"/><circle cx="93.3" cy="332.6" r="3.2"/><circle cx="157.3" cy="296.5" r="3.2"/><circle cx="51.6" cy="352.1" r="3.2"/><circle cx="117.4" cy="321.9" r="3.2"/><circle cx="56.2" cy="349.3" r="3.2"/><circle cx="223.2" cy="264.5" r="3.2"/><circle cx="124" cy="313.9" r="3.2"/><circle cx="67.7" cy="343.7" r="3.2"/><circle cx="168.4" cy="293.4" r="3.2"/><circle cx="120.2" cy="311.9" r="3.2"/><circle cx="205.1" cy="277.2" r="3.2"/><circle cx="205.5" cy="278.2" r="3.2"/><circle cx="211.6" cy="273.2" r="3.2"/><circle cx="198.3" cy="277.2" r="3.2"/><circle cx="92.4" cy="332.4" r="3.2"/><circle cx="276.2" cy="244.6" r="3.2"/><circle cx="62.3" cy="347.4" r="3.2"/><circle cx="47.9" cy="354.4" r="3.2"/><circle cx="223.2" cy="271.6" r="3.2"/><circle cx="237.8" cy="255.9" r="3.2"/><circle cx="101.2" cy="328.7" r="3.2"/><circle cx="302.4" cy="231.4" r="3.2"/><circle cx="270.6" cy="246.7" r="3.2"/><circle cx="283.5" cy="229.3" r="3.2"/><circle cx="125.1" cy="321.6" r="3.2"/><circle cx="269.4" cy="239" r="3.2"/><circle cx="199.6" cy="279.3" r="3.2"/><circle cx="268" cy="243.6" r="3.2"/><circle cx="80.6" cy="337.8" r="3.2"/><circle cx="80.5" cy="337.1" r="3.2"/><circle cx="288" cy="233.6" r="3.2"/><circle cx="232.1" cy="262" r="3.2"/><circle cx="60.8" cy="347.1" r="3.2"/><circle cx="51.1" cy="352.1" r="3.2"/><circle cx="59.9" cy="348.3" r="3.2"/><circle cx="260.1" cy="254.9" r="3.2"/><circle cx="146.7" cy="304.3" r="3.2"/><circle cx="150.6" cy="304.6" r="3.2"/><circle cx="114.5" cy="322.3" r="3.2"/><circle cx="75.4" cy="337.1" r="3.2"/><circle cx="129" cy="318.9" r="3.2"/><circle cx="70" cy="343.3" r="3.2"/><circle cx="141.4" cy="302.3" r="3.2"/><circle cx="202.5" cy="282.5" r="3.2"/><circle cx="150.9" cy="304" r="3.2"/><circle cx="158.1" cy="299" r="3.2"/><circle cx="294.9" cy="228.8" r="3.2"/><circle cx="255.6" cy="251.5" r="3.2"/><circle cx="81.7" cy="340.2" r="3.2"/><circle cx="162.7" cy="296.9" r="3.2"/><circle cx="144" cy="305.4" r="3.2"/><circle cx="304.7" cy="217.5" r="3.2"/><circle cx="286.1" cy="234.5" r="3.2"/><circle cx="276.2" cy="238.4" r="3.2"/><circle cx="290.9" cy="231.8" r="3.2"/><circle cx="87.6" cy="334.5" r="3.2"/><circle cx="145" cy="303.1" r="3.2"/><circle cx="117.8" cy="324.5" r="3.2"/><circle cx="301.1" cy="217.1" r="3.2"/><circle cx="99.7" cy="327" r="3.2"/><circle cx="127.4" cy="318.8" r="3.2"/><circle cx="232.7" cy="264.4" r="3.2"/><circle cx="217.3" cy="274.4" r="3.2"/><circle cx="233.6" cy="262.9" r="3.2"/><circle cx="193.5" cy="278.6" r="3.2"/><circle cx="207.2" cy="271.4" r="3.2"/><circle cx="58.9" cy="350.2" r="3.2"/><circle cx="269.6" cy="240.8" r="3.2"/><circle cx="242.9" cy="258.7" r="3.2"/><circle cx="110.3" cy="327.8" r="3.2"/><circle cx="232.6" cy="261.9" r="3.2"/><circle cx="231.9" cy="263" r="3.2"/><circle cx="68.5" cy="344.2" r="3.2"/><circle cx="95.7" cy="328.9" r="3.2"/><circle cx="257.2" cy="252.4" r="3.2"/><circle cx="52.9" cy="351.8" r="3.2"/><circle cx="84.3" cy="336.3" r="3.2"/><circle cx="283" cy="228.3" r="3.2"/><circle cx="93.9" cy="330.8" r="3.2"/><circle cx="64.8" cy="346.2" r="3.2"/><circle cx="287.1" cy="231.6" r="3.2"/><circle cx="179.3" cy="293" r="3.2"/><circle cx="282.1" cy="237.6" r="3.2"/><circle cx="114.6" cy="316.9" r="3.2"/><circle cx="272.5" cy="242" r="3.2"/><circle cx="53.4" cy="351.5" r="3.2"/><circle cx="223.6" cy="270" r="3.2"/><circle cx="244.3" cy="256.3" r="3.2"/><circle cx="153.1" cy="304.1" r="3.2"/><circle cx="223" cy="263.8" r="3.2"/><circle cx="79.6" cy="338.8" r="3.2"/><circle cx="103.4" cy="325.4" r="3.2"/><circle cx="258" cy="251.8" r="3.2"/><circle cx="193.3" cy="278.9" r="3.2"/><circle cx="77.5" cy="341.2" r="3.2"/><circle cx="183.2" cy="284.7" r="3.2"/><circle cx="162.2" cy="300.1" r="3.2"/><circle cx="275.4" cy="243.7" r="3.2"/><circle cx="246.8" cy="257.9" r="3.2"/><circle cx="189.1" cy="284.5" r="3.2"/><circle cx="146.5" cy="304.4" r="3.2"/><circle cx="117.1" cy="312.5" r="3.2"/><circle cx="297.5" cy="231.5" r="3.2"/><circle cx="48.7" cy="353.5" r="3.2"/><circle cx="134.1" cy="308.5" r="3.2"/><circle cx="266.1" cy="242.5" r="3.2"/><circle cx="205.2" cy="273.7" r="3.2"/><circle cx="147" cy="300.3" r="3.2"/><circle cx="68.7" cy="342.6" r="3.2"/><circle cx="151.7" cy="299.6" r="3.2"/><circle cx="73.1" cy="340.9" r="3.2"/><circle cx="71.6" cy="341.7" r="3.2"/><circle cx="123.7" cy="314.5" r="3.2"/><circle cx="66.6" cy="344.6" r="3.2"/><circle cx="299.7" cy="228.5" r="3.2"/><circle cx="230.3" cy="266.3" r="3.2"/><circle cx="128.6" cy="314" r="3.2"/><circle cx="181.3" cy="285" r="3.2"/><circle cx="120.1" cy="317.2" r="3.2"/><circle cx="186.5" cy="287.3" r="3.2"/><circle cx="191.7" cy="284.3" r="3.2"/><circle cx="122.4" cy="317.6" r="3.2"/><circle cx="188.6" cy="287.7" r="3.2"/><circle cx="216.7" cy="276.4" r="3.2"/><circle cx="123" cy="316.3" r="3.2"/><circle cx="113.1" cy="322.4" r="3.2"/><circle cx="70.5" cy="342.2" r="3.2"/><circle cx="253.3" cy="262.2" r="3.2"/><circle cx="126.5" cy="325.8" r="3.2"/><circle cx="159.2" cy="301.2" r="3.2"/><circle cx="269.8" cy="249.1" r="3.2"/><circle cx="254.5" cy="244.8" r="3.2"/><circle cx="96.1" cy="330.5" r="3.2"/><circle cx="97.6" cy="329.3" r="3.2"/><circle cx="153.1" cy="300.2" r="3.2"/><circle cx="52.4" cy="351.6" r="3.2"/><circle cx="210.7" cy="271.7" r="3.2"/><circle cx="72.9" cy="342.4" r="3.2"/><circle cx="175.1" cy="293.9" r="3.2"/><circle cx="244.1" cy="256.1" r="3.2"/><circle cx="52.6" cy="351.8" r="3.2"/><circle cx="97.3" cy="335.3" r="3.2"/><circle cx="179.9" cy="290.5" r="3.2"/><circle cx="54.6" cy="350.5" r="3.2"/><circle cx="111.9" cy="322.7" r="3.2"/><circle cx="254.2" cy="251.6" r="3.2"/><circle cx="89.8" cy="334.1" r="3.2"/><circle cx="105.1" cy="327.4" r="3.2"/><circle cx="239.5" cy="255.1" r="3.2"/><circle cx="74.8" cy="340.8" r="3.2"/><circle cx="111" cy="326.8" r="3.2"/><circle cx="154.7" cy="294.8" r="3.2"/><circle cx="203.7" cy="274.2" r="3.2"/><circle cx="207.4" cy="277.3" r="3.2"/><circle cx="220.1" cy="271" r="3.2"/><circle cx="188.2" cy="284.3" r="3.2"/><circle cx="256.7" cy="249.2" r="3.2"/><circle cx="120.7" cy="318.8" r="3.2"/><circle cx="113.3" cy="318.8" r="3.2"/><circle cx="269.5" cy="246.8" r="3.2"/><circle cx="141.9" cy="298.1" r="3.2"/><circle cx="86.5" cy="335.7" r="3.2"/><circle cx="143.4" cy="307.4" r="3.2"/><circle cx="131.3" cy="316.9" r="3.2"/><circle cx="106.9" cy="325.1" r="3.2"/><circle cx="134.6" cy="309.9" r="3.2"/><circle cx="152.2" cy="301.9" r="3.2"/><circle cx="51.3" cy="352" r="3.2"/><circle cx="165.6" cy="294.8" r="3.2"/><circle cx="275.2" cy="230.8" r="3.2"/><circle cx="70" cy="344.2" r="3.2"/><circle cx="113.4" cy="322.4" r="3.2"/><circle cx="82.6" cy="337.1" r="3.2"/><circle cx="245.8" cy="254.4" r="3.2"/><circle cx="161.8" cy="299.7" r="3.2"/><circle cx="81.1" cy="337.2" r="3.2"/><circle cx="194.7" cy="286.4" r="3.2"/><circle cx="191.5" cy="285" r="3.2"/><circle cx="78.2" cy="338.5" r="3.2"/><circle cx="224.6" cy="270.6" r="3.2"/><circle cx="268" cy="249.8" r="3.2"/><circle cx="80.1" cy="338.4" r="3.2"/><circle cx="195.5" cy="279.3" r="3.2"/><circle cx="83.6" cy="337.2" r="3.2"/><circle cx="96.5" cy="329.9" r="3.2"/><circle cx="235.3" cy="259.1" r="3.2"/><circle cx="139.1" cy="308.1" r="3.2"/><circle cx="169.4" cy="296.1" r="3.2"/><circle cx="57.7" cy="349.1" r="3.2"/><circle cx="233.6" cy="262.7" r="3.2"/><circle cx="54.9" cy="351.3" r="3.2"/><circle cx="234" cy="267.4" r="3.2"/><circle cx="233.7" cy="261.9" r="3.2"/><circle cx="235.2" cy="269.9" r="3.2"/><circle cx="177.6" cy="293.3" r="3.2"/><circle cx="146.7" cy="305.3" r="3.2"/><circle cx="60.1" cy="346.8" r="3.2"/><circle cx="200.6" cy="282.2" r="3.2"/><circle cx="229.3" cy="266.8" r="3.2"/><circle cx="165.1" cy="296.4" r="3.2"/><circle cx="111" cy="322" r="3.2"/><circle cx="99.1" cy="331" r="3.2"/><circle cx="70" cy="342.4" r="3.2"/><circle cx="64.8" cy="344.9" r="3.2"/><circle cx="184.3" cy="285.5" r="3.2"/><circle cx="165.7" cy="292.8" r="3.2"/><circle cx="199.3" cy="276.8" r="3.2"/><circle cx="59.8" cy="348" r="3.2"/><circle cx="196" cy="276.7" r="3.2"/><circle cx="268.1" cy="241" r="3.2"/><circle cx="87.5" cy="335.3" r="3.2"/><circle cx="90.5" cy="332.3" r="3.2"/><circle cx="159.8" cy="288" r="3.2"/><circle cx="211.3" cy="269.8" r="3.2"/><circle cx="279.6" cy="235.1" r="3.2"/><circle cx="63.5" cy="345.6" r="3.2"/><circle cx="152.7" cy="301.9" r="3.2"/><circle cx="198.9" cy="282.8" r="3.2"/><circle cx="63.1" cy="347.4" r="3.2"/><circle cx="154.7" cy="306.5" r="3.2"/><circle cx="92.5" cy="334.8" r="3.2"/><circle cx="261" cy="253" r="3.2"/><circle cx="184.4" cy="285.7" r="3.2"/><circle cx="156.6" cy="297.8" r="3.2"/><circle cx="66.6" cy="346" r="3.2"/><circle cx="279.1" cy="227.6" r="3.2"/><circle cx="179.4" cy="291.6" r="3.2"/><circle cx="266.3" cy="242" r="3.2"/><circle cx="52.2" cy="351.9" r="3.2"/><circle cx="251.1" cy="255.1" r="3.2"/><circle cx="91.2" cy="331.4" r="3.2"/><circle cx="73.5" cy="341.4" r="3.2"/><circle cx="170.7" cy="289.9" r="3.2"/><circle cx="181.3" cy="292.7" r="3.2"/><circle cx="215.2" cy="274.5" r="3.2"/><circle cx="54.5" cy="350.1" r="3.2"/><circle cx="256.5" cy="252.3" r="3.2"/><circle cx="258.7" cy="246.2" r="3.2"/><circle cx="250.7" cy="254.1" r="3.2"/><circle cx="161.5" cy="303.4" r="3.2"/><circle cx="204.4" cy="272.4" r="3.2"/><circle cx="156.8" cy="297.9" r="3.2"/><circle cx="131.6" cy="314.2" r="3.2"/><circle cx="100.4" cy="330" r="3.2"/><circle cx="73.6" cy="341.8" r="3.2"/><circle cx="91.5" cy="331" r="3.2"/><circle cx="272" cy="244.3" r="3.2"/><circle cx="133.4" cy="309.4" r="3.2"/><circle cx="124.3" cy="316.2" r="3.2"/><circle cx="172.4" cy="309.1" r="3.2"/><circle cx="280.7" cy="231.9" r="3.2"/><circle cx="50" cy="353" r="3.2"/><circle cx="90.1" cy="331.7" r="3.2"/><circle cx="269.8" cy="240.7" r="3.2"/><circle cx="75.7" cy="340.3" r="3.2"/><circle cx="97.3" cy="331.7" r="3.2"/><circle cx="61.8" cy="346.2" r="3.2"/><circle cx="175" cy="286" r="3.2"/><circle cx="245.3" cy="256.9" r="3.2"/><circle cx="48.2" cy="354" r="3.2"/><circle cx="248" cy="257.5" r="3.2"/><circle cx="290.2" cy="235.9" r="3.2"/><circle cx="52.7" cy="351.6" r="3.2"/><circle cx="165.9" cy="296.8" r="3.2"/><circle cx="218.4" cy="272.1" r="3.2"/><circle cx="57.7" cy="347.7" r="3.2"/><circle cx="117.1" cy="321" r="3.2"/><circle cx="206.1" cy="283.4" r="3.2"/><circle cx="231.7" cy="263.3" r="3.2"/><circle cx="187.9" cy="287.6" r="3.2"/><circle cx="120.2" cy="322.3" r="3.2"/><circle cx="103.9" cy="327.2" r="3.2"/><circle cx="209.9" cy="270.3" r="3.2"/><circle cx="180" cy="288" r="3.2"/><circle cx="191.9" cy="283.9" r="3.2"/><circle cx="239" cy="261.5" r="3.2"/><circle cx="127.6" cy="313.1" r="3.2"/><circle cx="50.9" cy="352.3" r="3.2"/><circle cx="121.2" cy="321.2" r="3.2"/><circle cx="133.1" cy="308.4" r="3.2"/><circle cx="232.6" cy="258.7" r="3.2"/><circle cx="184.8" cy="284.6" r="3.2"/><circle cx="257.2" cy="250.4" r="3.2"/><circle cx="254.3" cy="244" r="3.2"/><circle cx="303.4" cy="222.1" r="3.2"/><circle cx="129.4" cy="315.7" r="3.2"/><circle cx="107.7" cy="327.1" r="3.2"/><circle cx="99.3" cy="321.6" r="3.2"/><circle cx="180.6" cy="281.2" r="3.2"/><circle cx="76.1" cy="341.3" r="3.2"/><circle cx="195.6" cy="282.1" r="3.2"/><circle cx="68.3" cy="343.3" r="3.2"/><circle cx="97.3" cy="331.1" r="3.2"/><circle cx="143.6" cy="307.3" r="3.2"/><circle cx="252.6" cy="252" r="3.2"/><circle cx="138.3" cy="302.5" r="3.2"/><circle cx="252.3" cy="249.3" r="3.2"/><circle cx="158.7" cy="295.8" r="3.2"/><circle cx="134.2" cy="312.4" r="3.2"/><circle cx="65.2" cy="346" r="3.2"/><circle cx="223.1" cy="268.3" r="3.2"/><circle cx="193" cy="284.9" r="3.2"/><circle cx="217.2" cy="268.9" r="3.2"/><circle cx="74.7" cy="341.1" r="3.2"/><circle cx="123.7" cy="314.9" r="3.2"/><circle cx="183.4" cy="280.6" r="3.2"/><circle cx="195.1" cy="276.1" r="3.2"/><circle cx="63.9" cy="345.6" r="3.2"/><circle cx="84.6" cy="336.9" r="3.2"/><circle cx="235.4" cy="260" r="3.2"/><circle cx="82.7" cy="336.6" r="3.2"/><circle cx="231.1" cy="259.9" r="3.2"/><circle cx="232.1" cy="263.9" r="3.2"/><circle cx="178.4" cy="275" r="3.2"/><circle cx="204.3" cy="272.1" r="3.2"/><circle cx="277.1" cy="236.6" r="3.2"/><circle cx="59.1" cy="347.6" r="3.2"/><circle cx="275.6" cy="239.3" r="3.2"/><circle cx="82.3" cy="335.9" r="3.2"/><circle cx="63.6" cy="345.3" r="3.2"/><circle cx="132.8" cy="313" r="3.2"/><circle cx="65.5" cy="345.2" r="3.2"/><circle cx="271.8" cy="246.5" r="3.2"/><circle cx="82.4" cy="337" r="3.2"/><circle cx="220.6" cy="266.7" r="3.2"/><circle cx="231.5" cy="268.5" r="3.2"/><circle cx="164.4" cy="297.7" r="3.2"/><circle cx="223.2" cy="260.9" r="3.2"/><circle cx="260.7" cy="250.6" r="3.2"/><circle cx="292" cy="231.8" r="3.2"/><circle cx="267.5" cy="241.9" r="3.2"/><circle cx="164.2" cy="297.7" r="3.2"/><circle cx="145.3" cy="306.1" r="3.2"/><circle cx="156.1" cy="299.8" r="3.2"/><circle cx="210.4" cy="270.7" r="3.2"/><circle cx="172.9" cy="290.1" r="3.2"/><circle cx="159.8" cy="296.5" r="3.2"/><circle cx="70.6" cy="342.8" r="3.2"/><circle cx="161.9" cy="299.7" r="3.2"/><circle cx="128.7" cy="311.4" r="3.2"/><circle cx="131.9" cy="314.1" r="3.2"/><circle cx="94.9" cy="329.2" r="3.2"/><circle cx="113.7" cy="324.6" r="3.2"/><circle cx="120.8" cy="316.8" r="3.2"/><circle cx="176.1" cy="297.3" r="3.2"/><circle cx="126.9" cy="314" r="3.2"/><circle cx="72.4" cy="341" r="3.2"/><circle cx="231.4" cy="257.4" r="3.2"/><circle cx="179.8" cy="287.6" r="3.2"/><circle cx="216.3" cy="270.7" r="3.2"/><circle cx="178.4" cy="283.3" r="3.2"/><circle cx="82.4" cy="337.9" r="3.2"/><circle cx="280.9" cy="241.5" r="3.2"/><circle cx="201.4" cy="278.2" r="3.2"/><circle cx="106.7" cy="329.9" r="3.2"/><circle cx="81" cy="337.6" r="3.2"/><circle cx="80.1" cy="338.9" r="3.2"/><circle cx="124.7" cy="314.7" r="3.2"/><circle cx="229.6" cy="267.2" r="3.2"/><circle cx="233.4" cy="265.7" r="3.2"/><circle cx="154.5" cy="302.7" r="3.2"/><circle cx="200.6" cy="276.9" r="3.2"/><circle cx="206.7" cy="267.5" r="3.2"/><circle cx="203.2" cy="281.7" r="3.2"/><circle cx="194.5" cy="294.3" r="3.2"/><circle cx="105.4" cy="324.9" r="3.2"/><circle cx="100.5" cy="329.1" r="3.2"/><circle cx="227.5" cy="266.2" r="3.2"/><circle cx="179.8" cy="283.9" r="3.2"/><circle cx="74.3" cy="340.4" r="3.2"/><circle cx="89.2" cy="335" r="3.2"/><circle cx="124.3" cy="317.7" r="3.2"/><circle cx="106.6" cy="324.3" r="3.2"/><circle cx="95.1" cy="329.8" r="3.2"/><circle cx="142.2" cy="306" r="3.2"/><circle cx="57.8" cy="348.4" r="3.2"/><circle cx="176.4" cy="298.8" r="3.2"/><circle cx="298" cy="229.8" r="3.2"/><circle cx="131.1" cy="315.1" r="3.2"/><circle cx="80.1" cy="338.1" r="3.2"/><circle cx="299.7" cy="223" r="3.2"/><circle cx="204.4" cy="280.6" r="3.2"/><circle cx="262.8" cy="248.3" r="3.2"/><circle cx="253.9" cy="240.3" r="3.2"/><circle cx="281.7" cy="239.7" r="3.2"/><circle cx="128.5" cy="307.7" r="3.2"/><circle cx="301.6" cy="229.2" r="3.2"/><circle cx="180.5" cy="288.1" r="3.2"/><circle cx="58.7" cy="348.9" r="3.2"/><circle cx="134.2" cy="311.9" r="3.2"/><circle cx="182.5" cy="295.9" r="3.2"/><circle cx="75.1" cy="341.1" r="3.2"/><circle cx="257.9" cy="249" r="3.2"/><circle cx="233" cy="262.3" r="3.2"/><circle cx="277" cy="242.2" r="3.2"/><circle cx="164.3" cy="288.9" r="3.2"/><circle cx="194.4" cy="281.5" r="3.2"/><circle cx="188.5" cy="294.8" r="3.2"/><circle cx="55.8" cy="349.3" r="3.2"/><circle cx="134" cy="313.4" r="3.2"/><circle cx="104.6" cy="326.1" r="3.2"/><circle cx="123.6" cy="317.6" r="3.2"/><circle cx="225.1" cy="265.1" r="3.2"/><circle cx="199.8" cy="281.9" r="3.2"/><circle cx="239.1" cy="262.5" r="3.2"/><circle cx="114.3" cy="316.3" r="3.2"/><circle cx="258" cy="240.8" r="3.2"/><circle cx="161.6" cy="301.9" r="3.2"/><circle cx="297.3" cy="225.8" r="3.2"/><circle cx="176.2" cy="290.3" r="3.2"/><circle cx="232.6" cy="265.6" r="3.2"/><circle cx="195.2" cy="275.7" r="3.2"/><circle cx="179.1" cy="287.6" r="3.2"/><circle cx="250.6" cy="251.8" r="3.2"/><circle cx="177" cy="289.9" r="3.2"/><circle cx="59.9" cy="348" r="3.2"/><circle cx="136.5" cy="311" r="3.2"/><circle cx="189.4" cy="285.8" r="3.2"/><circle cx="113.2" cy="322.9" r="3.2"/><circle cx="155" cy="297.3" r="3.2"/><circle cx="123.2" cy="316.1" r="3.2"/><circle cx="219.7" cy="269.4" r="3.2"/><circle cx="111" cy="319.6" r="3.2"/><circle cx="186.1" cy="281.2" r="3.2"/><circle cx="277.6" cy="237.6" r="3.2"/><circle cx="151.5" cy="305.8" r="3.2"/><circle cx="106.2" cy="329.9" r="3.2"/><circle cx="294.8" cy="236.1" r="3.2"/><circle cx="292.2" cy="238.9" r="3.2"/><circle cx="210.7" cy="277.1" r="3.2"/><circle cx="203.9" cy="279.5" r="3.2"/><circle cx="88.4" cy="339.4" r="3.2"/><circle cx="242.6" cy="258.9" r="3.2"/><circle cx="192.1" cy="279.9" r="3.2"/><circle cx="271.5" cy="247.9" r="3.2"/><circle cx="224.8" cy="269.2" r="3.2"/><circle cx="57.5" cy="348.7" r="3.2"/><circle cx="263.5" cy="252.6" r="3.2"/><circle cx="130.7" cy="313.6" r="3.2"/><circle cx="259.2" cy="249" r="3.2"/><circle cx="250.8" cy="255.3" r="3.2"/><circle cx="123.8" cy="319.9" r="3.2"/><circle cx="141.6" cy="302.5" r="3.2"/><circle cx="71.3" cy="342" r="3.2"/><circle cx="62.3" cy="347" r="3.2"/><circle cx="89.1" cy="335.7" r="3.2"/><circle cx="149.1" cy="303.6" r="3.2"/><circle cx="121.6" cy="317.6" r="3.2"/><circle cx="297.8" cy="240.9" r="3.2"/><circle cx="115.1" cy="324.2" r="3.2"/><circle cx="117.3" cy="320.4" r="3.2"/><circle cx="219.7" cy="265.2" r="3.2"/><circle cx="132.2" cy="308.2" r="3.2"/><circle cx="62.6" cy="346.7" r="3.2"/><circle cx="143.8" cy="309" r="3.2"/><circle cx="148.2" cy="304.2" r="3.2"/><circle cx="222.4" cy="275.4" r="3.2"/><circle cx="80.8" cy="336.2" r="3.2"/><circle cx="59.5" cy="347.7" r="3.2"/><circle cx="134.2" cy="311.8" r="3.2"/><circle cx="115.4" cy="320.2" r="3.2"/><circle cx="175.7" cy="286.4" r="3.2"/><circle cx="111.2" cy="317.4" r="3.2"/><circle cx="172.5" cy="295.7" r="3.2"/><circle cx="279.3" cy="236.9" r="3.2"/><circle cx="104.6" cy="326.3" r="3.2"/><circle cx="152.4" cy="307.9" r="3.2"/><circle cx="245.4" cy="262.9" r="3.2"/><circle cx="118.5" cy="312.8" r="3.2"/><circle cx="51.6" cy="352.3" r="3.2"/><circle cx="189.3" cy="281.5" r="3.2"/><circle cx="146.1" cy="305.7" r="3.2"/><circle cx="84.2" cy="337.9" r="3.2"/><circle cx="256.7" cy="247.3" r="3.2"/><circle cx="154.9" cy="296" r="3.2"/><circle cx="220" cy="264.4" r="3.2"/><circle cx="214.7" cy="278.4" r="3.2"/><circle cx="262.4" cy="252.9" r="3.2"/><circle cx="134.4" cy="311.2" r="3.2"/><circle cx="270.3" cy="243.5" r="3.2"/><circle cx="306.4" cy="225.1" r="3.2"/><circle cx="91.1" cy="333.8" r="3.2"/><circle cx="233.2" cy="263.4" r="3.2"/><circle cx="71.3" cy="340.6" r="3.2"/><circle cx="89" cy="334.2" r="3.2"/><circle cx="115.1" cy="321" r="3.2"/><circle cx="115.8" cy="321.3" r="3.2"/><circle cx="220.2" cy="270.8" r="3.2"/><circle cx="246.1" cy="262.3" r="3.2"/><circle cx="91.3" cy="330.8" r="3.2"/><circle cx="157.4" cy="303.9" r="3.2"/><circle cx="294.9" cy="231.8" r="3.2"/><circle cx="97.5" cy="328.2" r="3.2"/><circle cx="130.1" cy="314.3" r="3.2"/><circle cx="185" cy="286.8" r="3.2"/><circle cx="103.3" cy="326.3" r="3.2"/><circle cx="268.4" cy="240.8" r="3.2"/><circle cx="287.9" cy="238.1" r="3.2"/><circle cx="74.9" cy="341.1" r="3.2"/><circle cx="285.2" cy="232.5" r="3.2"/><circle cx="108" cy="324.1" r="3.2"/><circle cx="254" cy="254" r="3.2"/><circle cx="137" cy="309.6" r="3.2"/><circle cx="47.4" cy="353.9" r="3.2"/><circle cx="85" cy="335.4" r="3.2"/><circle cx="126.9" cy="305.4" r="3.2"/><circle cx="125.7" cy="312.2" r="3.2"/><circle cx="58.7" cy="349.3" r="3.2"/><circle cx="298.9" cy="232.7" r="3.2"/><circle cx="264.8" cy="251" r="3.2"/><circle cx="126.2" cy="311.2" r="3.2"/><circle cx="203.5" cy="285.3" r="3.2"/><circle cx="306.1" cy="226.6" r="3.2"/><circle cx="161.3" cy="300.7" r="3.2"/><circle cx="132.8" cy="312.3" r="3.2"/><circle cx="117.2" cy="320.4" r="3.2"/><circle cx="94.8" cy="331" r="3.2"/><circle cx="242.5" cy="258.9" r="3.2"/><circle cx="296.9" cy="230.3" r="3.2"/><circle cx="191.8" cy="282.4" r="3.2"/><circle cx="274.7" cy="243.2" r="3.2"/><circle cx="56.6" cy="348.9" r="3.2"/><circle cx="68.6" cy="343.8" r="3.2"/><circle cx="85.1" cy="334.8" r="3.2"/><circle cx="268" cy="244.4" r="3.2"/><circle cx="239" cy="259.2" r="3.2"/><circle cx="54.2" cy="351.6" r="3.2"/><circle cx="181.4" cy="290" r="3.2"/><circle cx="85" cy="336.3" r="3.2"/><circle cx="117" cy="320.6" r="3.2"/><circle cx="193" cy="274.7" r="3.2"/><circle cx="126.9" cy="316.1" r="3.2"/><circle cx="246.1" cy="262.3" r="3.2"/><circle cx="288.7" cy="235.8" r="3.2"/><circle cx="49.1" cy="353.1" r="3.2"/><circle cx="250.7" cy="255.5" r="3.2"/><circle cx="74.9" cy="340.3" r="3.2"/><circle cx="290.6" cy="238.9" r="3.2"/><circle cx="228.8" cy="264.7" r="3.2"/><circle cx="128.9" cy="310.9" r="3.2"/><circle cx="141.1" cy="307.3" r="3.2"/><circle cx="90.8" cy="328.5" r="3.2"/><circle cx="246.5" cy="259.3" r="3.2"/><circle cx="48.5" cy="353.2" r="3.2"/><circle cx="104.3" cy="325.7" r="3.2"/><circle cx="140.4" cy="306.8" r="3.2"/><circle cx="224.1" cy="265.6" r="3.2"/><circle cx="172.3" cy="294.7" r="3.2"/><circle cx="207" cy="277.5" r="3.2"/><circle cx="87.1" cy="332.1" r="3.2"/><circle cx="55.3" cy="350.2" r="3.2"/><circle cx="137.9" cy="308.3" r="3.2"/><circle cx="299" cy="231.8" r="3.2"/><circle cx="211.3" cy="268.3" r="3.2"/><circle cx="262.3" cy="249.5" r="3.2"/><circle cx="160.4" cy="304" r="3.2"/><circle cx="285.2" cy="232.1" r="3.2"/><circle cx="296.9" cy="230.5" r="3.2"/><circle cx="285" cy="234.1" r="3.2"/><circle cx="179.3" cy="286.9" r="3.2"/><circle cx="288.6" cy="235.5" r="3.2"/><circle cx="189.1" cy="283.8" r="3.2"/><circle cx="111.1" cy="322.5" r="3.2"/><circle cx="119.6" cy="322.3" r="3.2"/><circle cx="195.8" cy="287.7" r="3.2"/><circle cx="212.5" cy="273.7" r="3.2"/><circle cx="301.9" cy="227.2" r="3.2"/><circle cx="227.6" cy="266.2" r="3.2"/><circle cx="74.8" cy="340.6" r="3.2"/><circle cx="288.5" cy="238.4" r="3.2"/><circle cx="183.5" cy="286.4" r="3.2"/><circle cx="222.4" cy="261.3" r="3.2"/><circle cx="164" cy="290.9" r="3.2"/><circle cx="186.3" cy="292.6" r="3.2"/><circle cx="49.2" cy="353.4" r="3.2"/><circle cx="78.9" cy="338.3" r="3.2"/><circle cx="127.9" cy="312.2" r="3.2"/><circle cx="180.4" cy="289.4" r="3.2"/><circle cx="216.9" cy="269.9" r="3.2"/><circle cx="214.3" cy="267.6" r="3.2"/><circle cx="72.4" cy="342.4" r="3.2"/><circle cx="194.1" cy="278" r="3.2"/><circle cx="255.7" cy="250.8" r="3.2"/><circle cx="114.1" cy="322.7" r="3.2"/><circle cx="53.3" cy="351.3" r="3.2"/><circle cx="83.8" cy="337.8" r="3.2"/><circle cx="170" cy="291.2" r="3.2"/><circle cx="204.7" cy="271.3" r="3.2"/><circle cx="66.9" cy="345.7" r="3.2"/><circle cx="301.3" cy="224.1" r="3.2"/><circle cx="106.3" cy="326.9" r="3.2"/><circle cx="106.8" cy="326.4" r="3.2"/><circle cx="152" cy="299.7" r="3.2"/><circle cx="146.5" cy="310.4" r="3.2"/><circle cx="52.1" cy="351.8" r="3.2"/><circle cx="226.4" cy="266.7" r="3.2"/><circle cx="306.8" cy="228.2" r="3.2"/><circle cx="197.5" cy="282.2" r="3.2"/><circle cx="296.4" cy="235.7" r="3.2"/><circle cx="104.6" cy="326.3" r="3.2"/><circle cx="304.1" cy="233.1" r="3.2"/><circle cx="105.1" cy="324.6" r="3.2"/><circle cx="143.9" cy="306.8" r="3.2"/><circle cx="66.2" cy="344.9" r="3.2"/><circle cx="265.9" cy="249.4" r="3.2"/><circle cx="59.3" cy="349.5" r="3.2"/><circle cx="51.8" cy="352.1" r="3.2"/><circle cx="273" cy="247.7" r="3.2"/><circle cx="197.3" cy="281.3" r="3.2"/><circle cx="289.8" cy="232.9" r="3.2"/><circle cx="82.7" cy="338.5" r="3.2"/><circle cx="309.1" cy="237.2" r="3.2"/><circle cx="317.9" cy="235.4" r="3.2"/><circle cx="323" cy="228.8" r="3.2"/><circle cx="330.3" cy="222.3" r="3.2"/><circle cx="308" cy="224.1" r="3.2"/><circle cx="300" cy="220.8" r="3.2"/><circle cx="307.3" cy="224.5" r="3.2"/><circle cx="319" cy="214.2" r="3.2"/><circle cx="321.9" cy="218.6" r="3.2"/><circle cx="323.4" cy="224.5" r="3.2"/><circle cx="326.3" cy="223" r="3.2"/><circle cx="330.7" cy="212.8" r="3.2"/><circle cx="333.6" cy="211.3" r="3.2"/><circle cx="331.4" cy="220.1" r="3.2"/><circle cx="335.8" cy="216.4" r="3.2"/><circle cx="339.4" cy="214.2" r="3.2"/><circle cx="342.3" cy="211.3" r="3.2"/><circle cx="343.8" cy="203.3" r="3.2"/><circle cx="346.7" cy="201.8" r="3.2"/><circle cx="348.2" cy="208.4" r="3.2"/><circle cx="343.8" cy="212.8" r="3.2"/><circle cx="350.4" cy="211.3" r="3.2"/><circle cx="352.6" cy="205.5" r="3.2"/><circle cx="354" cy="214.2" r="3.2"/><circle cx="358.4" cy="204" r="3.2"/><circle cx="359.1" cy="215" r="3.2"/><circle cx="357.7" cy="197.4" r="3.2"/><circle cx="360.6" cy="198.2" r="3.2"/><circle cx="364.2" cy="193.8" r="3.2"/><circle cx="366.4" cy="192.3" r="3.2"/><circle cx="370.1" cy="193.1" r="3.2"/><circle cx="371.5" cy="205.5" r="3.2"/><circle cx="371.5" cy="197.4" r="3.2"/><circle cx="378.8" cy="191.6" r="3.2"/><circle cx="385.4" cy="193.8" r="3.2"/><circle cx="386.1" cy="186.5" r="3.2"/><circle cx="390.5" cy="188" r="3.2"/><circle cx="392" cy="191.6" r="3.2"/><circle cx="394.9" cy="179.9" r="3.2"/><circle cx="397.8" cy="185" r="3.2"/><circle cx="399.3" cy="179.2" r="3.2"/><circle cx="415.4" cy="173" r="3.2"/><circle cx="419.1" cy="167.2" r="3.2"/><circle cx="426.4" cy="162" r="3.2"/><circle cx="432.2" cy="156.9" r="3.2"/><circle cx="433.7" cy="152.6" r="3.2"/><circle cx="437.3" cy="149.6" r="3.2"/><circle cx="439.5" cy="156.2" r="3.2"/><circle cx="443.2" cy="157.7" r="3.2"/><circle cx="445.4" cy="154.7" r="3.2"/><circle cx="448.3" cy="148.2" r="3.2"/><circle cx="450.5" cy="144.5" r="3.2"/><circle cx="452.7" cy="150.4" r="3.2"/><circle cx="449" cy="161.3" r="3.2"/><circle cx="454.1" cy="155.5" r="3.2"/><circle cx="458.5" cy="143.8" r="3.2"/><circle cx="460.7" cy="155.5" r="3.2"/><circle cx="462.9" cy="146.7" r="3.2"/><circle cx="463.6" cy="151.1" r="3.2"/><circle cx="468" cy="142.3" r="3.2"/><circle cx="469.5" cy="133.6" r="3.2"/><circle cx="471.6" cy="145.3" r="3.2"/><circle cx="473.8" cy="148.2" r="3.2"/><circle cx="476" cy="138.7" r="3.2"/><circle cx="478.2" cy="145.3" r="3.2"/><circle cx="480.4" cy="148.2" r="3.2"/><circle cx="482.6" cy="137.2" r="3.2"/><circle cx="484.8" cy="143.1" r="3.2"/><circle cx="487.7" cy="127" r="3.2"/><circle cx="491.4" cy="125.5" r="3.2"/><circle cx="494.3" cy="138.7" r="3.2"/><circle cx="397.9" cy="179.6" r="3.2"/><circle cx="405" cy="176" r="3.2"/><circle cx="410" cy="172.5" r="3.2"/><circle cx="491.5" cy="125.5" r="3.2"/><circle cx="496.6" cy="121.1" r="3.2"/><circle cx="495.8" cy="138.6" r="3.2"/><circle cx="501.7" cy="140.8" r="3.2"/><circle cx="501.7" cy="135.7" r="3.2"/><circle cx="501.7" cy="126.2" r="3.2"/><circle cx="506.1" cy="126.2" r="3.2"/><circle cx="510.4" cy="132.8" r="3.2"/><circle cx="513.4" cy="130.6" r="3.2"/><circle cx="516.3" cy="132.8" r="3.2"/><circle cx="515.5" cy="120.4" r="3.2"/><circle cx="519.2" cy="125.5" r="3.2"/><circle cx="527.2" cy="102.1" r="3.2"/><circle cx="527.2" cy="106.5" r="3.2"/><circle cx="529.4" cy="110.1" r="3.2"/><circle cx="532.3" cy="118.2" r="3.2"/><circle cx="533.8" cy="108" r="3.2"/><circle cx="536.7" cy="108.7" r="3.2"/><circle cx="535.3" cy="118.2" r="3.2"/><circle cx="542.6" cy="118.2" r="3.2"/><circle cx="544" cy="104.3" r="3.2"/><circle cx="546.9" cy="98.5" r="3.2"/><circle cx="548.4" cy="92.6" r="3.2"/><circle cx="549.9" cy="101.4" r="3.2"/><circle cx="551.3" cy="107.2" r="3.2"/><circle cx="556.4" cy="94.8" r="3.2"/><circle cx="557.9" cy="91.9" r="3.2"/><circle cx="558.6" cy="108" r="3.2"/><circle cx="558.6" cy="113.8" r="3.2"/><circle cx="563" cy="99.9" r="3.2"/><circle cx="565.2" cy="116" r="3.2"/><circle cx="567.4" cy="91.9" r="3.2"/><circle cx="577.6" cy="97" r="3.2"/><circle cx="581.2" cy="87.5" r="3.2"/><circle cx="583.4" cy="94.8" r="3.2"/><circle cx="601.6" cy="88" r="3.2"/><circle cx="604.5" cy="79.2" r="3.2"/><circle cx="611.1" cy="81.4" r="3.2"/><circle cx="616.2" cy="72.6" r="3.2"/><circle cx="616.2" cy="80.7" r="3.2"/><circle cx="622" cy="78.5" r="3.2"/><circle cx="626.4" cy="74.8" r="3.2"/><circle cx="642.5" cy="67.5" r="3.2"/>
</g>
<g fill="#ffff00" stroke="#f0a000" stroke-width="0.85">
<circle cx="169.9" cy="302.2" r="3.2"/><circle cx="184.7" cy="285.1" r="3.2"/><circle cx="58.6" cy="348.8" r="3.2"/><circle cx="266" cy="241" r="3.2"/><circle cx="80.3" cy="338.2" r="3.2"/><circle cx="166.4" cy="299.7" r="3.2"/><circle cx="260.9" cy="249.7" r="3.2"/><circle cx="102.6" cy="326.6" r="3.2"/><circle cx="68.7" cy="343.5" r="3.2"/><circle cx="280.4" cy="242" r="3.2"/><circle cx="92.8" cy="333.4" r="3.2"/><circle cx="217.6" cy="268" r="3.2"/><circle cx="92.7" cy="332.5" r="3.2"/><circle cx="140.2" cy="306.3" r="3.2"/><circle cx="259.7" cy="249.6" r="3.2"/><circle cx="178.4" cy="289.3" r="3.2"/><circle cx="61" cy="347.7" r="3.2"/><circle cx="132.2" cy="307.4" r="3.2"/><circle cx="60.8" cy="347.6" r="3.2"/><circle cx="191.6" cy="283.2" r="3.2"/><circle cx="65.7" cy="347.5" r="3.2"/><circle cx="271.7" cy="241" r="3.2"/><circle cx="94.9" cy="331.7" r="3.2"/><circle cx="197.8" cy="275.5" r="3.2"/><circle cx="190.1" cy="286.3" r="3.2"/><circle cx="100" cy="327.9" r="3.2"/><circle cx="131.6" cy="316.8" r="3.2"/><circle cx="281.7" cy="233.9" r="3.2"/><circle cx="284.3" cy="236.2" r="3.2"/><circle cx="78.7" cy="338.8" r="3.2"/><circle cx="197.7" cy="266.6" r="3.2"/><circle cx="78.6" cy="338.2" r="3.2"/><circle cx="109.1" cy="325.8" r="3.2"/><circle cx="160.8" cy="294.4" r="3.2"/><circle cx="98.8" cy="329.5" r="3.2"/><circle cx="50.5" cy="353" r="3.2"/><circle cx="65.5" cy="345.2" r="3.2"/><circle cx="76.9" cy="341.1" r="3.2"/><circle cx="79" cy="338" r="3.2"/><circle cx="70.9" cy="342.2" r="3.2"/><circle cx="82.6" cy="335.6" r="3.2"/><circle cx="102.7" cy="328.9" r="3.2"/><circle cx="231" cy="260.6" r="3.2"/><circle cx="248.7" cy="244.3" r="3.2"/><circle cx="286.3" cy="234.9" r="3.2"/><circle cx="81.6" cy="337.7" r="3.2"/><circle cx="299.2" cy="229.5" r="3.2"/><circle cx="265.6" cy="248.6" r="3.2"/><circle cx="287.6" cy="233.8" r="3.2"/><circle cx="52.9" cy="351.7" r="3.2"/><circle cx="289.9" cy="235.3" r="3.2"/><circle cx="130.6" cy="312.7" r="3.2"/><circle cx="83.9" cy="335.1" r="3.2"/><circle cx="208.7" cy="271.4" r="3.2"/><circle cx="110.9" cy="321.3" r="3.2"/><circle cx="280.6" cy="237.8" r="3.2"/><circle cx="182.9" cy="290.7" r="3.2"/><circle cx="135.1" cy="313.3" r="3.2"/><circle cx="82.4" cy="336.4" r="3.2"/><circle cx="83" cy="336.3" r="3.2"/><circle cx="293.5" cy="234" r="3.2"/><circle cx="76.1" cy="340.2" r="3.2"/><circle cx="163.6" cy="291.3" r="3.2"/><circle cx="251.4" cy="253.1" r="3.2"/><circle cx="47.4" cy="353.8" r="3.2"/><circle cx="226.5" cy="265.8" r="3.2"/><circle cx="226.4" cy="261.8" r="3.2"/><circle cx="66.8" cy="344.9" r="3.2"/><circle cx="142.8" cy="304.3" r="3.2"/><circle cx="289.5" cy="236.9" r="3.2"/><circle cx="219.2" cy="264.9" r="3.2"/><circle cx="267.4" cy="247.2" r="3.2"/><circle cx="96" cy="331.9" r="3.2"/><circle cx="246.5" cy="252.7" r="3.2"/><circle cx="114" cy="320.9" r="3.2"/><circle cx="101.6" cy="327.3" r="3.2"/><circle cx="181.1" cy="285.9" r="3.2"/><circle cx="56.8" cy="349.4" r="3.2"/><circle cx="262.6" cy="247.3" r="3.2"/><circle cx="241.6" cy="256.2" r="3.2"/><circle cx="256.5" cy="250.8" r="3.2"/><circle cx="146.7" cy="302.6" r="3.2"/><circle cx="271" cy="242.8" r="3.2"/><circle cx="143.7" cy="306.4" r="3.2"/><circle cx="162" cy="295.6" r="3.2"/><circle cx="159.5" cy="302.9" r="3.2"/><circle cx="242.5" cy="260.1" r="3.2"/><circle cx="111.3" cy="322.4" r="3.2"/><circle cx="61.8" cy="346.6" r="3.2"/><circle cx="65.1" cy="345" r="3.2"/><circle cx="240.1" cy="260.7" r="3.2"/><circle cx="158.6" cy="301.7" r="3.2"/><circle cx="90.8" cy="332.3" r="3.2"/><circle cx="271.9" cy="243.7" r="3.2"/><circle cx="258.6" cy="247.3" r="3.2"/><circle cx="65.6" cy="345.1" r="3.2"/><circle cx="105.3" cy="326.5" r="3.2"/><circle cx="141.8" cy="303.1" r="3.2"/><circle cx="246.2" cy="260.7" r="3.2"/><circle cx="210.8" cy="270.2" r="3.2"/><circle cx="290.9" cy="238.6" r="3.2"/><circle cx="98.9" cy="328.1" r="3.2"/><circle cx="271" cy="243.1" r="3.2"/><circle cx="63.3" cy="346.1" r="3.2"/><circle cx="282.6" cy="239.2" r="3.2"/><circle cx="184" cy="285.4" r="3.2"/><circle cx="191.9" cy="292.2" r="3.2"/><circle cx="182.6" cy="291.2" r="3.2"/><circle cx="86.1" cy="335.7" r="3.2"/><circle cx="153.3" cy="300.6" r="3.2"/><circle cx="69.4" cy="342.4" r="3.2"/><circle cx="63.8" cy="346.4" r="3.2"/><circle cx="146.6" cy="311.1" r="3.2"/><circle cx="64.9" cy="346" r="3.2"/><circle cx="278.7" cy="238.3" r="3.2"/><circle cx="77.4" cy="339.1" r="3.2"/><circle cx="175.1" cy="289.1" r="3.2"/><circle cx="260.6" cy="248.9" r="3.2"/><circle cx="201" cy="280.3" r="3.2"/><circle cx="155.4" cy="303.1" r="3.2"/><circle cx="174.8" cy="293.2" r="3.2"/><circle cx="162.2" cy="295.2" r="3.2"/><circle cx="57.8" cy="348.9" r="3.2"/><circle cx="142.3" cy="300" r="3.2"/><circle cx="71.8" cy="341.7" r="3.2"/><circle cx="207.8" cy="282.3" r="3.2"/><circle cx="268.5" cy="239.7" r="3.2"/><circle cx="136.4" cy="314.3" r="3.2"/><circle cx="230.5" cy="262.2" r="3.2"/><circle cx="214.3" cy="271.9" r="3.2"/><circle cx="239.2" cy="258.1" r="3.2"/><circle cx="57.1" cy="350.2" r="3.2"/><circle cx="269.6" cy="242.8" r="3.2"/><circle cx="142.1" cy="307.7" r="3.2"/><circle cx="205.6" cy="274.3" r="3.2"/><circle cx="188.5" cy="283.9" r="3.2"/><circle cx="223.3" cy="264.2" r="3.2"/><circle cx="138.4" cy="308.5" r="3.2"/><circle cx="106.1" cy="323.8" r="3.2"/><circle cx="64" cy="347.8" r="3.2"/><circle cx="196.7" cy="270.2" r="3.2"/><circle cx="84.1" cy="335.2" r="3.2"/><circle cx="233.6" cy="257.4" r="3.2"/><circle cx="193.2" cy="280" r="3.2"/><circle cx="233.4" cy="262.1" r="3.2"/><circle cx="192.3" cy="282.2" r="3.2"/><circle cx="145.7" cy="305.3" r="3.2"/><circle cx="263.5" cy="249" r="3.2"/><circle cx="120.8" cy="315" r="3.2"/><circle cx="242.1" cy="255.6" r="3.2"/><circle cx="224.8" cy="267.3" r="3.2"/><circle cx="261.3" cy="249.7" r="3.2"/><circle cx="286.7" cy="236.9" r="3.2"/><circle cx="77" cy="339.2" r="3.2"/><circle cx="281.5" cy="241.5" r="3.2"/><circle cx="225.5" cy="266.6" r="3.2"/><circle cx="223.6" cy="270.6" r="3.2"/><circle cx="271.2" cy="241" r="3.2"/><circle cx="207.8" cy="270.7" r="3.2"/><circle cx="79.9" cy="339.2" r="3.2"/><circle cx="118.4" cy="319" r="3.2"/><circle cx="75.2" cy="338.8" r="3.2"/><circle cx="74.5" cy="340.5" r="3.2"/><circle cx="49.5" cy="353" r="3.2"/><circle cx="260.5" cy="246.5" r="3.2"/><circle cx="56.5" cy="349.1" r="3.2"/><circle cx="241.9" cy="249.1" r="3.2"/><circle cx="232.7" cy="260.8" r="3.2"/><circle cx="51.7" cy="352" r="3.2"/><circle cx="125.6" cy="316" r="3.2"/><circle cx="126.6" cy="309.3" r="3.2"/><circle cx="160.1" cy="299.1" r="3.2"/><circle cx="298.6" cy="231" r="3.2"/><circle cx="228.5" cy="274.5" r="3.2"/><circle cx="292.8" cy="229.6" r="3.2"/><circle cx="161.1" cy="299.8" r="3.2"/><circle cx="213.4" cy="275.6" r="3.2"/><circle cx="214.6" cy="271.9" r="3.2"/><circle cx="118.5" cy="318.6" r="3.2"/><circle cx="116" cy="319.3" r="3.2"/><circle cx="139.9" cy="307.9" r="3.2"/><circle cx="270.3" cy="244.5" r="3.2"/><circle cx="123.5" cy="314.7" r="3.2"/><circle cx="182.6" cy="288.9" r="3.2"/><circle cx="66.4" cy="345.1" r="3.2"/><circle cx="233.5" cy="262" r="3.2"/><circle cx="206.1" cy="275.5" r="3.2"/><circle cx="286.3" cy="237.2" r="3.2"/><circle cx="50.3" cy="353" r="3.2"/><circle cx="168.4" cy="295.4" r="3.2"/><circle cx="249.5" cy="254.9" r="3.2"/><circle cx="170.9" cy="295.9" r="3.2"/><circle cx="225.7" cy="267.9" r="3.2"/><circle cx="61.7" cy="346.8" r="3.2"/><circle cx="294.7" cy="231.5" r="3.2"/><circle cx="87.4" cy="335.6" r="3.2"/><circle cx="209.8" cy="273.8" r="3.2"/><circle cx="207.4" cy="275.8" r="3.2"/><circle cx="201.2" cy="279" r="3.2"/><circle cx="76.9" cy="338.8" r="3.2"/><circle cx="150.6" cy="298.3" r="3.2"/><circle cx="92.8" cy="333.7" r="3.2"/><circle cx="263.3" cy="250.7" r="3.2"/><circle cx="165.7" cy="303.2" r="3.2"/><circle cx="75.7" cy="340.6" r="3.2"/><circle cx="277.2" cy="236.2" r="3.2"/><circle cx="181.2" cy="285.4" r="3.2"/><circle cx="273.8" cy="243" r="3.2"/><circle cx="92.3" cy="330.5" r="3.2"/><circle cx="80.9" cy="335.6" r="3.2"/><circle cx="134.2" cy="307" r="3.2"/><circle cx="295.3" cy="236.5" r="3.2"/><circle cx="140.2" cy="303.7" r="3.2"/><circle cx="191.8" cy="280.4" r="3.2"/><circle cx="195.7" cy="283" r="3.2"/><circle cx="76.9" cy="339.6" r="3.2"/><circle cx="276.1" cy="245" r="3.2"/><circle cx="105.1" cy="328.1" r="3.2"/><circle cx="120.3" cy="314.7" r="3.2"/><circle cx="106.5" cy="323.6" r="3.2"/><circle cx="119.9" cy="322.3" r="3.2"/><circle cx="210" cy="274.2" r="3.2"/><circle cx="288.7" cy="231.7" r="3.2"/><circle cx="173.3" cy="293.1" r="3.2"/><circle cx="279.2" cy="241.4" r="3.2"/><circle cx="59.7" cy="348.1" r="3.2"/><circle cx="125.7" cy="320.3" r="3.2"/><circle cx="66.7" cy="345.7" r="3.2"/><circle cx="134.7" cy="310.1" r="3.2"/><circle cx="71.6" cy="341.9" r="3.2"/><circle cx="77.5" cy="338.1" r="3.2"/><circle cx="209.7" cy="282.3" r="3.2"/><circle cx="224.6" cy="268.8" r="3.2"/><circle cx="89.1" cy="335.8" r="3.2"/><circle cx="158.1" cy="295.2" r="3.2"/><circle cx="66.5" cy="344.7" r="3.2"/><circle cx="157.4" cy="299.3" r="3.2"/><circle cx="107.1" cy="327" r="3.2"/><circle cx="239.5" cy="263" r="3.2"/><circle cx="162.7" cy="295.1" r="3.2"/><circle cx="154.6" cy="297.9" r="3.2"/><circle cx="73.2" cy="340.7" r="3.2"/><circle cx="259.9" cy="249.6" r="3.2"/><circle cx="244.9" cy="255.4" r="3.2"/><circle cx="76.1" cy="340.3" r="3.2"/><circle cx="107.9" cy="324.8" r="3.2"/><circle cx="185.6" cy="283.3" r="3.2"/><circle cx="277.9" cy="239.6" r="3.2"/><circle cx="168.1" cy="295.8" r="3.2"/><circle cx="163.1" cy="298" r="3.2"/><circle cx="200.8" cy="280.7" r="3.2"/><circle cx="146.7" cy="304.4" r="3.2"/><circle cx="72.9" cy="342.6" r="3.2"/><circle cx="226.7" cy="267.2" r="3.2"/><circle cx="197.8" cy="281.2" r="3.2"/><circle cx="168.5" cy="297.3" r="3.2"/><circle cx="153.8" cy="301.1" r="3.2"/><circle cx="84.5" cy="334.5" r="3.2"/><circle cx="101.2" cy="326.7" r="3.2"/><circle cx="297.6" cy="225.7" r="3.2"/><circle cx="222.3" cy="271.3" r="3.2"/><circle cx="202.6" cy="276.3" r="3.2"/><circle cx="185.7" cy="288.5" r="3.2"/><circle cx="94.3" cy="330.1" r="3.2"/><circle cx="187.4" cy="287.5" r="3.2"/><circle cx="135.5" cy="311.9" r="3.2"/><circle cx="284.4" cy="240.1" r="3.2"/><circle cx="267.6" cy="244.5" r="3.2"/><circle cx="119.1" cy="319.1" r="3.2"/><circle cx="257.1" cy="249.5" r="3.2"/><circle cx="272.2" cy="241.5" r="3.2"/><circle cx="133.3" cy="314.7" r="3.2"/><circle cx="179.8" cy="288.2" r="3.2"/><circle cx="182" cy="287.3" r="3.2"/><circle cx="160.3" cy="295.9" r="3.2"/><circle cx="285.9" cy="240.7" r="3.2"/><circle cx="55.5" cy="350" r="3.2"/><circle cx="161.6" cy="296.4" r="3.2"/><circle cx="249" cy="253" r="3.2"/><circle cx="166" cy="296.7" r="3.2"/><circle cx="117.8" cy="320.3" r="3.2"/><circle cx="218.8" cy="268.7" r="3.2"/><circle cx="212.8" cy="274.7" r="3.2"/><circle cx="120.6" cy="318.9" r="3.2"/><circle cx="93.4" cy="331.3" r="3.2"/><circle cx="99.8" cy="328.7" r="3.2"/><circle cx="92.2" cy="333.2" r="3.2"/><circle cx="140.8" cy="308.3" r="3.2"/><circle cx="79.3" cy="337.1" r="3.2"/><circle cx="238.8" cy="261.1" r="3.2"/><circle cx="243.8" cy="260.7" r="3.2"/><circle cx="146.7" cy="306.2" r="3.2"/><circle cx="205.6" cy="277.6" r="3.2"/><circle cx="89.6" cy="333.7" r="3.2"/><circle cx="256.4" cy="250.7" r="3.2"/><circle cx="237.9" cy="257.1" r="3.2"/><circle cx="125.9" cy="316.9" r="3.2"/><circle cx="152.5" cy="303.7" r="3.2"/><circle cx="257.5" cy="254.7" r="3.2"/><circle cx="290.1" cy="238.8" r="3.2"/><circle cx="246.6" cy="250.6" r="3.2"/><circle cx="82.3" cy="337.9" r="3.2"/><circle cx="106.2" cy="324.2" r="3.2"/><circle cx="87.1" cy="333.1" r="3.2"/><circle cx="104" cy="327" r="3.2"/><circle cx="231.2" cy="269" r="3.2"/><circle cx="144.2" cy="306.5" r="3.2"/><circle cx="217.3" cy="273" r="3.2"/><circle cx="184.9" cy="284.7" r="3.2"/><circle cx="257.5" cy="243.5" r="3.2"/><circle cx="216.3" cy="272.1" r="3.2"/><circle cx="145.7" cy="304.1" r="3.2"/><circle cx="122.3" cy="317.2" r="3.2"/><circle cx="207.5" cy="273.9" r="3.2"/><circle cx="47.8" cy="354.1" r="3.2"/><circle cx="216.6" cy="269.5" r="3.2"/><circle cx="98.6" cy="327" r="3.2"/><circle cx="285.2" cy="244.2" r="3.2"/><circle cx="267.4" cy="250" r="3.2"/><circle cx="59.9" cy="348.1" r="3.2"/><circle cx="50.6" cy="352.2" r="3.2"/><circle cx="206.3" cy="273.3" r="3.2"/><circle cx="95.4" cy="329.6" r="3.2"/><circle cx="64.5" cy="345.4" r="3.2"/><circle cx="51.5" cy="351.9" r="3.2"/><circle cx="80.4" cy="335.2" r="3.2"/><circle cx="140.2" cy="305.7" r="3.2"/><circle cx="236.7" cy="264.7" r="3.2"/><circle cx="289.3" cy="239.6" r="3.2"/><circle cx="273.9" cy="243.2" r="3.2"/><circle cx="213.3" cy="270.1" r="3.2"/><circle cx="177" cy="294.2" r="3.2"/><circle cx="237.8" cy="254.6" r="3.2"/><circle cx="154.2" cy="298" r="3.2"/><circle cx="108.1" cy="325.7" r="3.2"/><circle cx="173.5" cy="291.9" r="3.2"/><circle cx="243.2" cy="257.8" r="3.2"/><circle cx="71.4" cy="342.4" r="3.2"/><circle cx="62.4" cy="347.1" r="3.2"/><circle cx="115.7" cy="321.8" r="3.2"/><circle cx="254.4" cy="253.7" r="3.2"/><circle cx="189.5" cy="286.9" r="3.2"/><circle cx="147.8" cy="304.5" r="3.2"/><circle cx="198.1" cy="278.7" r="3.2"/><circle cx="118.3" cy="320.4" r="3.2"/><circle cx="110.6" cy="322.3" r="3.2"/><circle cx="182.1" cy="287.1" r="3.2"/><circle cx="300.5" cy="229.7" r="3.2"/><circle cx="58" cy="348.9" r="3.2"/><circle cx="53.1" cy="351.4" r="3.2"/><circle cx="70.7" cy="340.4" r="3.2"/><circle cx="295.2" cy="230.1" r="3.2"/><circle cx="277.9" cy="239.9" r="3.2"/><circle cx="135.5" cy="308.4" r="3.2"/><circle cx="288.3" cy="234" r="3.2"/><circle cx="91.4" cy="333.6" r="3.2"/><circle cx="298.7" cy="234.9" r="3.2"/><circle cx="198.4" cy="279.6" r="3.2"/><circle cx="166.1" cy="296.3" r="3.2"/><circle cx="90.4" cy="330.7" r="3.2"/><circle cx="243.5" cy="257.9" r="3.2"/><circle cx="285" cy="236.1" r="3.2"/><circle cx="61.2" cy="347.2" r="3.2"/><circle cx="122.6" cy="316.4" r="3.2"/><circle cx="229" cy="264.9" r="3.2"/><circle cx="196.5" cy="280" r="3.2"/><circle cx="159.4" cy="297.5" r="3.2"/><circle cx="118.4" cy="322" r="3.2"/><circle cx="89.7" cy="334.2" r="3.2"/><circle cx="209.4" cy="272.4" r="3.2"/><circle cx="193.7" cy="280.3" r="3.2"/><circle cx="144.1" cy="309.6" r="3.2"/><circle cx="228.4" cy="262.4" r="3.2"/><circle cx="84.2" cy="335.7" r="3.2"/><circle cx="238.3" cy="260.5" r="3.2"/><circle cx="59.6" cy="348.1" r="3.2"/><circle cx="168.9" cy="293" r="3.2"/><circle cx="244.4" cy="259.9" r="3.2"/><circle cx="217.1" cy="272" r="3.2"/><circle cx="189.6" cy="283.4" r="3.2"/><circle cx="78" cy="340.8" r="3.2"/><circle cx="97.4" cy="329.8" r="3.2"/><circle cx="264.7" cy="249.9" r="3.2"/><circle cx="211.2" cy="274.5" r="3.2"/><circle cx="69.9" cy="343.6" r="3.2"/><circle cx="198.6" cy="288.2" r="3.2"/><circle cx="182.2" cy="290.8" r="3.2"/><circle cx="54.2" cy="350.5" r="3.2"/><circle cx="82.3" cy="337.8" r="3.2"/><circle cx="92.8" cy="331.2" r="3.2"/><circle cx="97.6" cy="328.2" r="3.2"/><circle cx="66.8" cy="345.7" r="3.2"/><circle cx="171.2" cy="290.3" r="3.2"/><circle cx="120.6" cy="317.6" r="3.2"/><circle cx="225.2" cy="263.9" r="3.2"/><circle cx="102.7" cy="321.8" r="3.2"/><circle cx="147" cy="303.7" r="3.2"/><circle cx="108" cy="326.5" r="3.2"/><circle cx="65.7" cy="345.1" r="3.2"/><circle cx="120.9" cy="317.3" r="3.2"/><circle cx="291.8" cy="227.7" r="3.2"/><circle cx="51.1" cy="352" r="3.2"/><circle cx="250.4" cy="251.6" r="3.2"/><circle cx="216.5" cy="273.8" r="3.2"/><circle cx="64.8" cy="345.5" r="3.2"/><circle cx="175.8" cy="297.4" r="3.2"/><circle cx="240.6" cy="255.3" r="3.2"/><circle cx="223.1" cy="266.1" r="3.2"/><circle cx="90.5" cy="332.9" r="3.2"/><circle cx="104" cy="326" r="3.2"/><circle cx="135.7" cy="313.1" r="3.2"/><circle cx="293.3" cy="233.7" r="3.2"/><circle cx="55" cy="350" r="3.2"/><circle cx="283.7" cy="237.1" r="3.2"/><circle cx="210.5" cy="277" r="3.2"/><circle cx="130.4" cy="315.7" r="3.2"/><circle cx="191.6" cy="278.8" r="3.2"/><circle cx="149.2" cy="305" r="3.2"/><circle cx="291.4" cy="236.8" r="3.2"/><circle cx="214" cy="272.8" r="3.2"/><circle cx="259.6" cy="246.7" r="3.2"/><circle cx="133.8" cy="313.1" r="3.2"/><circle cx="216.8" cy="273.6" r="3.2"/><circle cx="191.5" cy="281.6" r="3.2"/><circle cx="272.8" cy="247" r="3.2"/><circle cx="146.6" cy="301.8" r="3.2"/><circle cx="178.6" cy="288.3" r="3.2"/><circle cx="204.7" cy="273.5" r="3.2"/><circle cx="153.6" cy="303.7" r="3.2"/><circle cx="62.3" cy="345.9" r="3.2"/><circle cx="152.9" cy="303.1" r="3.2"/><circle cx="126" cy="315.6" r="3.2"/><circle cx="150.4" cy="294.3" r="3.2"/><circle cx="70.8" cy="343.6" r="3.2"/><circle cx="186.4" cy="286.2" r="3.2"/><circle cx="200.8" cy="276" r="3.2"/><circle cx="109" cy="322.8" r="3.2"/><circle cx="236.1" cy="261.9" r="3.2"/><circle cx="99.4" cy="327" r="3.2"/><circle cx="245.4" cy="266.8" r="3.2"/><circle cx="168.3" cy="290.8" r="3.2"/><circle cx="151.6" cy="307" r="3.2"/><circle cx="262" cy="250.5" r="3.2"/><circle cx="120" cy="319.3" r="3.2"/><circle cx="237" cy="260.7" r="3.2"/><circle cx="183.1" cy="286.1" r="3.2"/><circle cx="295.3" cy="226.9" r="3.2"/><circle cx="70.2" cy="342.7" r="3.2"/><circle cx="79.4" cy="338.8" r="3.2"/><circle cx="130" cy="314.3" r="3.2"/><circle cx="111.4" cy="323.4" r="3.2"/><circle cx="202.5" cy="276.2" r="3.2"/><circle cx="182.1" cy="287.7" r="3.2"/><circle cx="149.4" cy="305.1" r="3.2"/><circle cx="234" cy="262.9" r="3.2"/><circle cx="203.1" cy="278.5" r="3.2"/><circle cx="230.9" cy="261.1" r="3.2"/><circle cx="182.6" cy="281.3" r="3.2"/><circle cx="143.9" cy="308.3" r="3.2"/><circle cx="207.2" cy="273.7" r="3.2"/><circle cx="137.9" cy="309.6" r="3.2"/><circle cx="168.8" cy="293.8" r="3.2"/><circle cx="225.9" cy="268" r="3.2"/><circle cx="113.1" cy="319.2" r="3.2"/><circle cx="124.4" cy="314.4" r="3.2"/><circle cx="291.1" cy="231.7" r="3.2"/><circle cx="203.1" cy="277.9" r="3.2"/><circle cx="168.8" cy="299.4" r="3.2"/><circle cx="196.2" cy="280.3" r="3.2"/><circle cx="128.8" cy="314.1" r="3.2"/><circle cx="202" cy="278.8" r="3.2"/><circle cx="100.1" cy="326.2" r="3.2"/><circle cx="260.9" cy="249.4" r="3.2"/><circle cx="95.3" cy="332.2" r="3.2"/><circle cx="47.8" cy="354.1" r="3.2"/><circle cx="119.6" cy="319.3" r="3.2"/><circle cx="48" cy="353.7" r="3.2"/><circle cx="56.6" cy="349.8" r="3.2"/><circle cx="149.3" cy="305.6" r="3.2"/><circle cx="176.4" cy="292.3" r="3.2"/><circle cx="130.2" cy="313" r="3.2"/><circle cx="96.5" cy="331.6" r="3.2"/><circle cx="57.3" cy="348.7" r="3.2"/><circle cx="204.3" cy="273.5" r="3.2"/><circle cx="141.3" cy="304.3" r="3.2"/><circle cx="65.5" cy="344.7" r="3.2"/><circle cx="138.2" cy="310" r="3.2"/><circle cx="245.2" cy="257" r="3.2"/><circle cx="56.8" cy="349.5" r="3.2"/><circle cx="155" cy="301.2" r="3.2"/><circle cx="262.2" cy="247.8" r="3.2"/><circle cx="85.7" cy="335.1" r="3.2"/><circle cx="232.1" cy="264.3" r="3.2"/><circle cx="123.5" cy="317.6" r="3.2"/><circle cx="97.4" cy="329.3" r="3.2"/><circle cx="123.9" cy="316.4" r="3.2"/><circle cx="197.4" cy="281.7" r="3.2"/><circle cx="163.5" cy="298.4" r="3.2"/><circle cx="79.4" cy="338.2" r="3.2"/><circle cx="68.3" cy="343.2" r="3.2"/><circle cx="91.3" cy="333.4" r="3.2"/><circle cx="135.9" cy="308.8" r="3.2"/><circle cx="96.7" cy="330.3" r="3.2"/><circle cx="144.8" cy="300.7" r="3.2"/><circle cx="119.1" cy="317" r="3.2"/><circle cx="223.3" cy="275.2" r="3.2"/><circle cx="104.8" cy="325.6" r="3.2"/><circle cx="171.5" cy="293.2" r="3.2"/><circle cx="291" cy="230.8" r="3.2"/><circle cx="283.4" cy="241.5" r="3.2"/><circle cx="256.9" cy="250.5" r="3.2"/><circle cx="172.5" cy="293.2" r="3.2"/><circle cx="130.2" cy="315.3" r="3.2"/><circle cx="210.8" cy="273.2" r="3.2"/><circle cx="129.5" cy="314.7" r="3.2"/><circle cx="168.2" cy="294.6" r="3.2"/><circle cx="298.4" cy="232.2" r="3.2"/><circle cx="233.2" cy="260.4" r="3.2"/><circle cx="120.6" cy="319.3" r="3.2"/><circle cx="269.3" cy="248.3" r="3.2"/><circle cx="162.1" cy="294.8" r="3.2"/><circle cx="131.3" cy="310.9" r="3.2"/><circle cx="84.7" cy="333.6" r="3.2"/><circle cx="60.6" cy="347.6" r="3.2"/><circle cx="90" cy="334.8" r="3.2"/><circle cx="126.6" cy="318" r="3.2"/><circle cx="239.3" cy="261.9" r="3.2"/><circle cx="121" cy="318.3" r="3.2"/><circle cx="197.8" cy="281" r="3.2"/><circle cx="56.3" cy="350.4" r="3.2"/><circle cx="139.3" cy="312.4" r="3.2"/><circle cx="268.9" cy="247.3" r="3.2"/><circle cx="117.3" cy="316.9" r="3.2"/><circle cx="248.2" cy="256.7" r="3.2"/><circle cx="262.9" cy="245.6" r="3.2"/><circle cx="72.5" cy="341.3" r="3.2"/><circle cx="167.4" cy="294.1" r="3.2"/><circle cx="110.1" cy="323.9" r="3.2"/><circle cx="283.9" cy="241.7" r="3.2"/><circle cx="216.9" cy="268.4" r="3.2"/><circle cx="64.6" cy="346.8" r="3.2"/><circle cx="284" cy="244.2" r="3.2"/><circle cx="82.2" cy="338" r="3.2"/><circle cx="85.2" cy="336.4" r="3.2"/><circle cx="179.1" cy="292.8" r="3.2"/><circle cx="103.5" cy="327.1" r="3.2"/><circle cx="75.8" cy="340.3" r="3.2"/><circle cx="142.8" cy="306" r="3.2"/><circle cx="266.5" cy="246.6" r="3.2"/><circle cx="209" cy="273" r="3.2"/><circle cx="252.1" cy="254.1" r="3.2"/><circle cx="139" cy="310.2" r="3.2"/><circle cx="82.7" cy="335.8" r="3.2"/><circle cx="99.6" cy="328.7" r="3.2"/><circle cx="176.3" cy="303.6" r="3.2"/><circle cx="169" cy="295.5" r="3.2"/><circle cx="206.9" cy="274" r="3.2"/><circle cx="108.8" cy="325" r="3.2"/><circle cx="295.7" cy="226.1" r="3.2"/><circle cx="91.2" cy="331.5" r="3.2"/><circle cx="149" cy="301.3" r="3.2"/><circle cx="47.8" cy="354" r="3.2"/><circle cx="61.8" cy="347" r="3.2"/><circle cx="279.7" cy="245.1" r="3.2"/><circle cx="85.8" cy="333.2" r="3.2"/><circle cx="202.1" cy="280.1" r="3.2"/><circle cx="266.1" cy="245.8" r="3.2"/><circle cx="89.9" cy="332.7" r="3.2"/><circle cx="157.5" cy="296.2" r="3.2"/><circle cx="215.2" cy="272.3" r="3.2"/><circle cx="127.5" cy="313.8" r="3.2"/><circle cx="62.6" cy="346.7" r="3.2"/><circle cx="50.9" cy="352.4" r="3.2"/><circle cx="204.6" cy="274.6" r="3.2"/><circle cx="263.3" cy="246.6" r="3.2"/><circle cx="97.6" cy="328.9" r="3.2"/><circle cx="126.6" cy="313.7" r="3.2"/><circle cx="137.3" cy="311.4" r="3.2"/><circle cx="208.5" cy="275.6" r="3.2"/><circle cx="231.3" cy="267.7" r="3.2"/><circle cx="50.5" cy="352.9" r="3.2"/><circle cx="188.4" cy="277.4" r="3.2"/><circle cx="150.4" cy="304.2" r="3.2"/><circle cx="126.1" cy="316.8" r="3.2"/><circle cx="236.3" cy="258.2" r="3.2"/><circle cx="80.1" cy="339.4" r="3.2"/><circle cx="76.1" cy="341" r="3.2"/><circle cx="92.1" cy="331.4" r="3.2"/><circle cx="255.2" cy="254.2" r="3.2"/><circle cx="125.6" cy="315.9" r="3.2"/><circle cx="276" cy="241.9" r="3.2"/><circle cx="300.1" cy="231" r="3.2"/><circle cx="90.7" cy="333.3" r="3.2"/><circle cx="235.6" cy="263.6" r="3.2"/><circle cx="300.6" cy="224.9" r="3.2"/><circle cx="222.8" cy="267.2" r="3.2"/><circle cx="235.5" cy="258.4" r="3.2"/><circle cx="114.8" cy="318.8" r="3.2"/><circle cx="129.2" cy="314.5" r="3.2"/><circle cx="58" cy="349.5" r="3.2"/><circle cx="242" cy="256.1" r="3.2"/><circle cx="215.1" cy="267.8" r="3.2"/><circle cx="181.3" cy="288.2" r="3.2"/><circle cx="92.3" cy="332.6" r="3.2"/><circle cx="158" cy="296.1" r="3.2"/><circle cx="104.4" cy="325.6" r="3.2"/><circle cx="77.3" cy="340.5" r="3.2"/><circle cx="147.5" cy="305.6" r="3.2"/><circle cx="104" cy="327.5" r="3.2"/><circle cx="100.2" cy="327.5" r="3.2"/><circle cx="197.2" cy="279.4" r="3.2"/><circle cx="176.8" cy="284.8" r="3.2"/><circle cx="220" cy="265.9" r="3.2"/><circle cx="54.3" cy="350.7" r="3.2"/><circle cx="281" cy="239.9" r="3.2"/><circle cx="83" cy="336.6" r="3.2"/><circle cx="125.1" cy="317.2" r="3.2"/><circle cx="197.3" cy="284.6" r="3.2"/><circle cx="267" cy="247.7" r="3.2"/><circle cx="140.2" cy="306.9" r="3.2"/><circle cx="181" cy="282.1" r="3.2"/><circle cx="181" cy="287.9" r="3.2"/><circle cx="202.8" cy="275.4" r="3.2"/><circle cx="82.3" cy="336.9" r="3.2"/><circle cx="165.8" cy="295.4" r="3.2"/><circle cx="85.3" cy="336.4" r="3.2"/><circle cx="255.3" cy="252.7" r="3.2"/><circle cx="176.2" cy="289.3" r="3.2"/><circle cx="178.3" cy="289.9" r="3.2"/><circle cx="289.7" cy="232.7" r="3.2"/><circle cx="233.8" cy="259.1" r="3.2"/><circle cx="95.3" cy="331.7" r="3.2"/><circle cx="271.1" cy="245.3" r="3.2"/><circle cx="49" cy="353.4" r="3.2"/><circle cx="100" cy="326.1" r="3.2"/><circle cx="124.8" cy="317.3" r="3.2"/><circle cx="60.7" cy="347.4" r="3.2"/><circle cx="79.1" cy="337.7" r="3.2"/><circle cx="284.2" cy="240.4" r="3.2"/><circle cx="124.2" cy="314.9" r="3.2"/><circle cx="226.3" cy="267.2" r="3.2"/><circle cx="132.2" cy="313.3" r="3.2"/><circle cx="133" cy="313.3" r="3.2"/><circle cx="214.9" cy="268.1" r="3.2"/><circle cx="229.1" cy="267.2" r="3.2"/><circle cx="111.5" cy="322.8" r="3.2"/><circle cx="102.7" cy="327.4" r="3.2"/><circle cx="128.1" cy="314.2" r="3.2"/><circle cx="53.1" cy="351.1" r="3.2"/><circle cx="68.3" cy="343.7" r="3.2"/><circle cx="247.4" cy="255.3" r="3.2"/><circle cx="240.3" cy="261" r="3.2"/><circle cx="91.8" cy="333.7" r="3.2"/><circle cx="192.5" cy="285.6" r="3.2"/><circle cx="127.4" cy="315.5" r="3.2"/><circle cx="175.5" cy="298.9" r="3.2"/><circle cx="180.8" cy="290.2" r="3.2"/><circle cx="63.9" cy="346.4" r="3.2"/><circle cx="124.2" cy="315.7" r="3.2"/><circle cx="49.9" cy="352.5" r="3.2"/><circle cx="105.4" cy="327" r="3.2"/><circle cx="111.7" cy="317.9" r="3.2"/><circle cx="118.1" cy="319.1" r="3.2"/><circle cx="266.9" cy="247.6" r="3.2"/><circle cx="213.3" cy="275.1" r="3.2"/><circle cx="232.7" cy="259.8" r="3.2"/><circle cx="162.4" cy="295.6" r="3.2"/><circle cx="54.1" cy="350.4" r="3.2"/><circle cx="175.3" cy="293.7" r="3.2"/><circle cx="260" cy="249.9" r="3.2"/><circle cx="286.3" cy="239.4" r="3.2"/><circle cx="186.1" cy="286.2" r="3.2"/><circle cx="133" cy="313.4" r="3.2"/><circle cx="159.3" cy="299.8" r="3.2"/><circle cx="222.8" cy="270.1" r="3.2"/><circle cx="296.4" cy="229.8" r="3.2"/><circle cx="178.4" cy="288.7" r="3.2"/><circle cx="195.1" cy="280.3" r="3.2"/><circle cx="171.9" cy="294.1" r="3.2"/><circle cx="245.4" cy="257.6" r="3.2"/><circle cx="148.2" cy="304.2" r="3.2"/><circle cx="151.6" cy="304.9" r="3.2"/><circle cx="269.3" cy="244.3" r="3.2"/><circle cx="204.3" cy="270.7" r="3.2"/><circle cx="120.9" cy="320" r="3.2"/><circle cx="125.5" cy="315.2" r="3.2"/><circle cx="86.2" cy="334" r="3.2"/><circle cx="197.9" cy="280.7" r="3.2"/><circle cx="257.6" cy="249.5" r="3.2"/><circle cx="191.3" cy="291.8" r="3.2"/><circle cx="179.4" cy="284.7" r="3.2"/><circle cx="273.6" cy="248.8" r="3.2"/><circle cx="151.1" cy="311" r="3.2"/><circle cx="78.6" cy="338.7" r="3.2"/><circle cx="260.5" cy="248.7" r="3.2"/><circle cx="152.4" cy="300.5" r="3.2"/><circle cx="259.6" cy="248.6" r="3.2"/><circle cx="64.3" cy="346.2" r="3.2"/><circle cx="208" cy="278" r="3.2"/><circle cx="180.8" cy="283.2" r="3.2"/><circle cx="280" cy="238.5" r="3.2"/><circle cx="260.2" cy="249.3" r="3.2"/><circle cx="285.5" cy="234" r="3.2"/><circle cx="242.4" cy="255.4" r="3.2"/><circle cx="118.5" cy="317.7" r="3.2"/><circle cx="86.2" cy="334.8" r="3.2"/><circle cx="157.4" cy="299" r="3.2"/><circle cx="132" cy="311.5" r="3.2"/><circle cx="248.7" cy="256.2" r="3.2"/><circle cx="208.4" cy="271.5" r="3.2"/><circle cx="80.6" cy="338.4" r="3.2"/><circle cx="64.3" cy="346.2" r="3.2"/><circle cx="162.1" cy="294.8" r="3.2"/><circle cx="221.4" cy="264" r="3.2"/><circle cx="71.6" cy="342.8" r="3.2"/><circle cx="155.1" cy="298.2" r="3.2"/><circle cx="169.4" cy="291.3" r="3.2"/><circle cx="118.6" cy="318.4" r="3.2"/><circle cx="166.3" cy="294.9" r="3.2"/><circle cx="63.4" cy="346.8" r="3.2"/><circle cx="142.1" cy="308.9" r="3.2"/><circle cx="186" cy="284.3" r="3.2"/><circle cx="195.6" cy="283.4" r="3.2"/><circle cx="254.9" cy="245.1" r="3.2"/><circle cx="155" cy="302.2" r="3.2"/><circle cx="70.1" cy="343.6" r="3.2"/><circle cx="201.3" cy="280.1" r="3.2"/><circle cx="78.7" cy="336.8" r="3.2"/><circle cx="264.4" cy="247.1" r="3.2"/><circle cx="190.4" cy="283.9" r="3.2"/><circle cx="241.2" cy="260.1" r="3.2"/><circle cx="182.6" cy="289.2" r="3.2"/><circle cx="256.4" cy="251.2" r="3.2"/><circle cx="64.5" cy="345.7" r="3.2"/><circle cx="112.5" cy="322.4" r="3.2"/><circle cx="125.9" cy="320.3" r="3.2"/><circle cx="255.6" cy="251.9" r="3.2"/><circle cx="82.5" cy="336.9" r="3.2"/><circle cx="150.8" cy="303.1" r="3.2"/><circle cx="263.4" cy="248" r="3.2"/><circle cx="125.2" cy="319.2" r="3.2"/><circle cx="263" cy="252.5" r="3.2"/><circle cx="197.5" cy="279.2" r="3.2"/><circle cx="51.2" cy="351.9" r="3.2"/><circle cx="166.9" cy="295.1" r="3.2"/><circle cx="90.5" cy="333.6" r="3.2"/><circle cx="111.2" cy="320.6" r="3.2"/><circle cx="62" cy="347.7" r="3.2"/><circle cx="131.1" cy="314.7" r="3.2"/><circle cx="181.9" cy="288" r="3.2"/><circle cx="254.9" cy="247.1" r="3.2"/><circle cx="141.1" cy="306.7" r="3.2"/><circle cx="53" cy="351.7" r="3.2"/><circle cx="48.7" cy="353.2" r="3.2"/><circle cx="89.7" cy="334.1" r="3.2"/><circle cx="202.5" cy="278.1" r="3.2"/><circle cx="182.7" cy="289.2" r="3.2"/><circle cx="263.8" cy="250.2" r="3.2"/><circle cx="284.7" cy="242.9" r="3.2"/><circle cx="175.9" cy="294.4" r="3.2"/><circle cx="117.8" cy="321" r="3.2"/><circle cx="268.7" cy="247.3" r="3.2"/><circle cx="215" cy="269.8" r="3.2"/><circle cx="259.5" cy="248.1" r="3.2"/><circle cx="71.2" cy="341.8" r="3.2"/><circle cx="263.8" cy="244.8" r="3.2"/><circle cx="144.6" cy="306.6" r="3.2"/><circle cx="73.7" cy="345.6" r="3.2"/><circle cx="178.8" cy="287.9" r="3.2"/><circle cx="112.6" cy="322.3" r="3.2"/><circle cx="131.4" cy="315.1" r="3.2"/><circle cx="189.8" cy="282.1" r="3.2"/><circle cx="158.9" cy="297.9" r="3.2"/><circle cx="286.9" cy="236.6" r="3.2"/><circle cx="194.5" cy="279.2" r="3.2"/><circle cx="209" cy="274.9" r="3.2"/><circle cx="101" cy="327.6" r="3.2"/><circle cx="72.3" cy="341.7" r="3.2"/><circle cx="172.9" cy="295.3" r="3.2"/><circle cx="185.1" cy="283.8" r="3.2"/><circle cx="118.6" cy="319.7" r="3.2"/><circle cx="88.1" cy="335.6" r="3.2"/><circle cx="221.1" cy="265.2" r="3.2"/><circle cx="104.5" cy="324.6" r="3.2"/><circle cx="207.6" cy="271.8" r="3.2"/><circle cx="130.5" cy="312.2" r="3.2"/><circle cx="117.7" cy="320" r="3.2"/><circle cx="163.4" cy="292.8" r="3.2"/><circle cx="120.2" cy="316.3" r="3.2"/><circle cx="139.8" cy="304.4" r="3.2"/><circle cx="124.2" cy="315.5" r="3.2"/><circle cx="113" cy="322.6" r="3.2"/><circle cx="65.9" cy="345.5" r="3.2"/><circle cx="231.9" cy="264.2" r="3.2"/><circle cx="272.8" cy="244.8" r="3.2"/><circle cx="195.4" cy="281.1" r="3.2"/><circle cx="86.7" cy="335.4" r="3.2"/><circle cx="78.4" cy="340.1" r="3.2"/><circle cx="218.8" cy="264.3" r="3.2"/><circle cx="187.5" cy="279.9" r="3.2"/><circle cx="91.5" cy="334.2" r="3.2"/><circle cx="82.5" cy="337.1" r="3.2"/><circle cx="235.4" cy="253.6" r="3.2"/><circle cx="292.9" cy="233.9" r="3.2"/><circle cx="86.2" cy="332.7" r="3.2"/><circle cx="218.3" cy="271.3" r="3.2"/><circle cx="255" cy="250.1" r="3.2"/><circle cx="70.5" cy="342.6" r="3.2"/><circle cx="269.7" cy="249.6" r="3.2"/><circle cx="57.2" cy="349.6" r="3.2"/><circle cx="114.5" cy="320.6" r="3.2"/><circle cx="263.9" cy="239.6" r="3.2"/><circle cx="149.6" cy="303.8" r="3.2"/><circle cx="252" cy="254.9" r="3.2"/><circle cx="59.1" cy="348" r="3.2"/><circle cx="112.6" cy="318.6" r="3.2"/><circle cx="298.3" cy="227.4" r="3.2"/><circle cx="199.3" cy="278.1" r="3.2"/><circle cx="66.5" cy="344.6" r="3.2"/><circle cx="218.6" cy="272.2" r="3.2"/><circle cx="62.8" cy="346.2" r="3.2"/><circle cx="150.3" cy="303.6" r="3.2"/><circle cx="243.5" cy="258.3" r="3.2"/><circle cx="159.6" cy="301.6" r="3.2"/><circle cx="235.9" cy="262" r="3.2"/><circle cx="172.7" cy="295.5" r="3.2"/><circle cx="265.4" cy="239.7" r="3.2"/><circle cx="134.2" cy="310.2" r="3.2"/><circle cx="159.7" cy="299.5" r="3.2"/><circle cx="216.4" cy="270.8" r="3.2"/><circle cx="274.8" cy="241.9" r="3.2"/><circle cx="129.7" cy="312.9" r="3.2"/><circle cx="113" cy="320.7" r="3.2"/><circle cx="114.3" cy="322.9" r="3.2"/><circle cx="285.7" cy="234.3" r="3.2"/><circle cx="126" cy="317.4" r="3.2"/><circle cx="223.2" cy="267.1" r="3.2"/><circle cx="102.3" cy="327.4" r="3.2"/><circle cx="275.8" cy="237.9" r="3.2"/><circle cx="157.8" cy="302.9" r="3.2"/><circle cx="93.6" cy="332.4" r="3.2"/><circle cx="90.8" cy="332.7" r="3.2"/><circle cx="126.1" cy="313.9" r="3.2"/><circle cx="118.3" cy="318.4" r="3.2"/><circle cx="81.9" cy="336.9" r="3.2"/><circle cx="84" cy="335.4" r="3.2"/><circle cx="209" cy="278.2" r="3.2"/><circle cx="60.7" cy="347.1" r="3.2"/><circle cx="247.3" cy="250.8" r="3.2"/><circle cx="246.7" cy="256.3" r="3.2"/><circle cx="153.6" cy="302.9" r="3.2"/><circle cx="219.8" cy="265.6" r="3.2"/><circle cx="91.5" cy="332.9" r="3.2"/><circle cx="281.8" cy="237.7" r="3.2"/><circle cx="65" cy="344.6" r="3.2"/><circle cx="88.8" cy="334.5" r="3.2"/><circle cx="103.6" cy="325.3" r="3.2"/><circle cx="114.7" cy="320.5" r="3.2"/><circle cx="101.3" cy="328.4" r="3.2"/><circle cx="94.2" cy="332.9" r="3.2"/><circle cx="260.1" cy="245.8" r="3.2"/><circle cx="87.3" cy="337.5" r="3.2"/><circle cx="92.6" cy="327" r="3.2"/><circle cx="52.7" cy="351.4" r="3.2"/><circle cx="89.7" cy="331" r="3.2"/><circle cx="246.7" cy="259" r="3.2"/><circle cx="135" cy="313.2" r="3.2"/><circle cx="171.5" cy="295.3" r="3.2"/><circle cx="262.3" cy="250.1" r="3.2"/><circle cx="101.4" cy="326.1" r="3.2"/><circle cx="199.4" cy="281.1" r="3.2"/><circle cx="158.7" cy="297.2" r="3.2"/><circle cx="87.8" cy="333.2" r="3.2"/><circle cx="85.5" cy="335.1" r="3.2"/><circle cx="186.8" cy="285.5" r="3.2"/><circle cx="165.5" cy="298.5" r="3.2"/><circle cx="194.5" cy="279" r="3.2"/><circle cx="284.6" cy="237.9" r="3.2"/><circle cx="60.5" cy="345.9" r="3.2"/><circle cx="304.2" cy="221.2" r="3.2"/><circle cx="156.1" cy="303.3" r="3.2"/><circle cx="55.9" cy="348.9" r="3.2"/><circle cx="232.9" cy="260.2" r="3.2"/><circle cx="298.4" cy="229.3" r="3.2"/><circle cx="156.6" cy="302.9" r="3.2"/><circle cx="254.7" cy="245.8" r="3.2"/><circle cx="115.3" cy="320.3" r="3.2"/><circle cx="95.1" cy="330" r="3.2"/><circle cx="167.7" cy="293.7" r="3.2"/><circle cx="240" cy="263.1" r="3.2"/><circle cx="229.9" cy="260.8" r="3.2"/><circle cx="140.1" cy="309.7" r="3.2"/><circle cx="173.6" cy="294.2" r="3.2"/><circle cx="214.3" cy="273.4" r="3.2"/><circle cx="237.4" cy="254.6" r="3.2"/><circle cx="145.6" cy="305.5" r="3.2"/><circle cx="162.2" cy="295" r="3.2"/><circle cx="103.7" cy="325.3" r="3.2"/><circle cx="190.1" cy="280.4" r="3.2"/><circle cx="98.4" cy="330.6" r="3.2"/><circle cx="49.8" cy="352.9" r="3.2"/><circle cx="142.3" cy="303.3" r="3.2"/><circle cx="118.4" cy="322.2" r="3.2"/><circle cx="187.3" cy="286.1" r="3.2"/><circle cx="171.2" cy="295.5" r="3.2"/><circle cx="81.4" cy="337.9" r="3.2"/><circle cx="180.8" cy="290.8" r="3.2"/><circle cx="57.7" cy="349" r="3.2"/><circle cx="134.3" cy="312.1" r="3.2"/><circle cx="146.3" cy="308.4" r="3.2"/><circle cx="170.8" cy="296" r="3.2"/><circle cx="155.8" cy="297.3" r="3.2"/><circle cx="131.9" cy="316.3" r="3.2"/><circle cx="75.6" cy="340.3" r="3.2"/><circle cx="117.3" cy="321.3" r="3.2"/><circle cx="169.3" cy="293.9" r="3.2"/><circle cx="194.6" cy="280.8" r="3.2"/><circle cx="232.7" cy="261.6" r="3.2"/><circle cx="127.9" cy="313" r="3.2"/><circle cx="139.1" cy="306.4" r="3.2"/><circle cx="245.4" cy="257.3" r="3.2"/><circle cx="201.7" cy="276.3" r="3.2"/><circle cx="52" cy="351.8" r="3.2"/><circle cx="201.4" cy="276.5" r="3.2"/><circle cx="105.6" cy="327.3" r="3.2"/><circle cx="146.5" cy="306.8" r="3.2"/><circle cx="48.5" cy="353.8" r="3.2"/><circle cx="227.9" cy="261.9" r="3.2"/><circle cx="145" cy="306.3" r="3.2"/><circle cx="83.1" cy="336.9" r="3.2"/><circle cx="74.4" cy="341.1" r="3.2"/><circle cx="134.2" cy="312.2" r="3.2"/><circle cx="72.2" cy="342.3" r="3.2"/><circle cx="158.9" cy="299.2" r="3.2"/><circle cx="72.1" cy="341.9" r="3.2"/><circle cx="72.7" cy="341.9" r="3.2"/><circle cx="99.1" cy="327.4" r="3.2"/><circle cx="80.3" cy="337.7" r="3.2"/><circle cx="125.5" cy="319.4" r="3.2"/><circle cx="122" cy="316" r="3.2"/><circle cx="88.1" cy="337.1" r="3.2"/><circle cx="162.8" cy="296.5" r="3.2"/><circle cx="246.6" cy="251.6" r="3.2"/><circle cx="215.6" cy="267.7" r="3.2"/><circle cx="269.8" cy="247.3" r="3.2"/><circle cx="184.8" cy="284.6" r="3.2"/><circle cx="142.6" cy="307.7" r="3.2"/><circle cx="158.8" cy="311.1" r="3.2"/><circle cx="157.1" cy="303.2" r="3.2"/><circle cx="95.1" cy="333.4" r="3.2"/><circle cx="166.1" cy="292.1" r="3.2"/><circle cx="86" cy="335" r="3.2"/><circle cx="126.6" cy="316.9" r="3.2"/><circle cx="210.7" cy="273.3" r="3.2"/><circle cx="194.8" cy="285.6" r="3.2"/><circle cx="143.2" cy="307.5" r="3.2"/><circle cx="121.3" cy="318.2" r="3.2"/><circle cx="233.3" cy="260.1" r="3.2"/><circle cx="125.7" cy="316.5" r="3.2"/><circle cx="147.8" cy="300" r="3.2"/><circle cx="199.3" cy="280" r="3.2"/><circle cx="187.3" cy="282.3" r="3.2"/><circle cx="271" cy="238.6" r="3.2"/><circle cx="291.5" cy="240.6" r="3.2"/><circle cx="255.4" cy="251.1" r="3.2"/><circle cx="227.3" cy="272.9" r="3.2"/><circle cx="138.4" cy="310.8" r="3.2"/><circle cx="171.9" cy="290.6" r="3.2"/><circle cx="70.6" cy="343.7" r="3.2"/><circle cx="157.3" cy="299" r="3.2"/><circle cx="229.8" cy="267.1" r="3.2"/><circle cx="230.5" cy="260.2" r="3.2"/><circle cx="55.3" cy="350.2" r="3.2"/><circle cx="47.4" cy="353.9" r="3.2"/><circle cx="192" cy="285.6" r="3.2"/><circle cx="155.8" cy="304.5" r="3.2"/><circle cx="85.9" cy="334.4" r="3.2"/><circle cx="261.2" cy="246.3" r="3.2"/><circle cx="147.6" cy="301.4" r="3.2"/><circle cx="138.8" cy="306.8" r="3.2"/><circle cx="193.9" cy="279.2" r="3.2"/><circle cx="51.4" cy="351.4" r="3.2"/><circle cx="102.9" cy="327.2" r="3.2"/><circle cx="262.1" cy="242.9" r="3.2"/><circle cx="105.2" cy="326.3" r="3.2"/><circle cx="306.9" cy="226.1" r="3.2"/><circle cx="50.4" cy="352.9" r="3.2"/><circle cx="252.4" cy="240.6" r="3.2"/><circle cx="224.5" cy="263.5" r="3.2"/><circle cx="73.9" cy="341.7" r="3.2"/><circle cx="197.5" cy="285.7" r="3.2"/><circle cx="48.1" cy="353.6" r="3.2"/><circle cx="77.8" cy="337.7" r="3.2"/><circle cx="152.7" cy="305.8" r="3.2"/><circle cx="107.4" cy="325.6" r="3.2"/><circle cx="330.3" cy="238.7" r="3.2"/><circle cx="312.4" cy="219.3" r="3.2"/><circle cx="311.7" cy="227.4" r="3.2"/><circle cx="323.4" cy="216.4" r="3.2"/><circle cx="329.2" cy="214.2" r="3.2"/><circle cx="336.5" cy="221.5" r="3.2"/><circle cx="375.9" cy="190.1" r="3.2"/><circle cx="380.3" cy="182.1" r="3.2"/><circle cx="388.3" cy="182.1" r="3.2"/><circle cx="411.1" cy="157.7" r="3.2"/><circle cx="404.5" cy="175.2" r="3.2"/><circle cx="425.7" cy="168.6" r="3.2"/><circle cx="494.3" cy="122.6" r="3.2"/><circle cx="495.1" cy="122.6" r="3.2"/><circle cx="511.2" cy="121.8" r="3.2"/><circle cx="517.7" cy="112.3" r="3.2"/><circle cx="523.6" cy="112.3" r="3.2"/><circle cx="526.5" cy="121.1" r="3.2"/><circle cx="532.3" cy="97.7" r="3.2"/><circle cx="533.1" cy="112.3" r="3.2"/><circle cx="538.9" cy="116" r="3.2"/><circle cx="546.2" cy="104.3" r="3.2"/><circle cx="555" cy="118.9" r="3.2"/><circle cx="558.6" cy="100.7" r="3.2"/><circle cx="559.3" cy="102.8" r="3.2"/><circle cx="563.7" cy="86.8" r="3.2"/><circle cx="581.2" cy="101.4" r="3.2"/>
</g>
</g>
<g stroke="#ff1a1a" stroke-width="2" fill="none">
<line x1="47.3" y1="356" x2="583.4" y2="58.4" stroke-dasharray="6.3 6.428" stroke-dashoffset="0.15"/>
<line x1="47.3" y1="356" x2="646.7" y2="88" stroke-dasharray="6.3 6.428" stroke-dashoffset="-1.15"/>
<line x1="47.3" y1="356" x2="646.7" y2="58.4"/>
</g>
<rect x="47.3" y="58.4" width="599.4" height="295.8" fill="none" stroke="#6e6e6e" stroke-width="1.4"/>
<path d="M87.3 354.2v-2.2M87.3 58.4v2.2M47.3 334.5h2.2M646.7 334.5h-2.2M127.2 354.2v-2.2M127.2 58.4v2.2M47.3 314.8h2.2M646.7 314.8h-2.2M167.2 354.2v-2.2M167.2 58.4v2.2M47.3 295h2.2M646.7 295h-2.2M207.1 354.2v-2.2M207.1 58.4v2.2M47.3 275.3h2.2M646.7 275.3h-2.2M247.1 354.2v-4.6M247.1 58.4v4.6M47.3 255.6h4.6M646.7 255.6h-4.6M287.1 354.2v-2.2M287.1 58.4v2.2M47.3 235.9h2.2M646.7 235.9h-2.2M327 354.2v-2.2M327 58.4v2.2M47.3 216.2h2.2M646.7 216.2h-2.2M367 354.2v-2.2M367 58.4v2.2M47.3 196.4h2.2M646.7 196.4h-2.2M406.9 354.2v-2.2M406.9 58.4v2.2M47.3 176.7h2.2M646.7 176.7h-2.2M446.9 354.2v-4.6M446.9 58.4v4.6M47.3 157h4.6M646.7 157h-4.6M486.9 354.2v-2.2M486.9 58.4v2.2M47.3 137.3h2.2M646.7 137.3h-2.2M526.8 354.2v-2.2M526.8 58.4v2.2M47.3 117.6h2.2M646.7 117.6h-2.2M566.8 354.2v-2.2M566.8 58.4v2.2M47.3 97.8h2.2M646.7 97.8h-2.2M606.7 354.2v-2.2M606.7 58.4v2.2M47.3 78.1h2.2M646.7 78.1h-2.2" stroke="#6e6e6e" stroke-width="1.1" fill="none"/>
<g font-family="Liberation Serif" font-weight="bold" font-size="14.6" fill="#1a1a1a"><text x="47.3" y="372.1" text-anchor="middle" textLength="6.5" lengthAdjust="spacingAndGlyphs">0</text><text x="42.7" y="359.3" text-anchor="end" textLength="6.5" lengthAdjust="spacingAndGlyphs">0</text><text x="247.1" y="372.1" text-anchor="middle" textLength="19.6" lengthAdjust="spacingAndGlyphs">500</text><text x="42.7" y="260.7" text-anchor="end" textLength="19.6" lengthAdjust="spacingAndGlyphs">500</text><text x="446.9" y="372.1" text-anchor="middle" textLength="26.2" lengthAdjust="spacingAndGlyphs">1000</text><text x="42.7" y="162.1" text-anchor="end" textLength="26.2" lengthAdjust="spacingAndGlyphs">1000</text><text x="646.7" y="372.1" text-anchor="middle" textLength="26.2" lengthAdjust="spacingAndGlyphs">1500</text><text x="42.7" y="63.5" text-anchor="end" textLength="26.2" lengthAdjust="spacingAndGlyphs">1500</text></g>
<text x="269.5" y="388.6" font-family="Liberation Serif" font-weight="bold" font-size="15.0" fill="#1a1a1a" textLength="155.2" lengthAdjust="spacingAndGlyphs">Actual stock price (RMB)</text>
<text transform="translate(12.3 293.5) rotate(-90)" font-family="Liberation Serif" font-weight="bold" font-size="14.8" fill="#1a1a1a" textLength="174.3" lengthAdjust="spacingAndGlyphs">Predicted stock price (RMB)</text>
<text x="132.6" y="24" font-family="Liberation Serif" font-weight="bold" font-size="33.5" fill="#000">(a)</text>
<text x="175.4" y="24" font-family="Liberation Serif" font-size="22" fill="#000" textLength="353.6" lengthAdjust="spacingAndGlyphs">The Prediction Results of the RF Model</text>
<g font-family="Liberation Sans" font-weight="bold" font-size="14.4" fill="#ff2020"><text x="479.9" y="82.8" textLength="38.6" lengthAdjust="spacingAndGlyphs">+10%</text><text x="572.1" y="141.9" textLength="35" lengthAdjust="spacingAndGlyphs">-10%</text></g>
<rect x="447.4" y="270.5" width="160" height="63.1" fill="#fff" stroke="#7a7a7a" stroke-width="1"/>
<circle cx="491.8" cy="285.2" r="3.3" fill="#0000f8" stroke="#000010" stroke-width="0.9"/>
<circle cx="491.8" cy="300.7" r="3.3" fill="#ffff00" stroke="#f0a000" stroke-width="1.0"/>
<line x1="472" y1="317.3" x2="495.7" y2="317.3" stroke="#ff1a1a" stroke-width="2"/>
<g font-family="Liberation Serif" font-weight="bold" font-size="12.7" fill="#1a1a1a"><text x="511" y="289.7" font-size="13.5" textLength="65" lengthAdjust="spacingAndGlyphs">Training set</text><text x="511" y="305.2" font-size="13.5" textLength="39.6" lengthAdjust="spacingAndGlyphs">Test set</text><text x="508.8" y="322.3" font-size="14.6">y=x</text></g>
<g>
<g fill="#0000f8" stroke="#000010" stroke-width="0.9">
<circle cx="177.5" cy="707.7" r="3.2"/><circle cx="174.8" cy="705.1" r="3.2"/><circle cx="240" cy="679.6" r="3.2"/><circle cx="143.6" cy="721.3" r="3.2"/><circle cx="213.2" cy="688.2" r="3.2"/><circle cx="101.9" cy="743.6" r="3.2"/><circle cx="298.3" cy="641.1" r="3.2"/><circle cx="264" cy="664.6" r="3.2"/><circle cx="99.8" cy="740.3" r="3.2"/><circle cx="51.2" cy="768" r="3.2"/><circle cx="187.3" cy="696.8" r="3.2"/><circle cx="203.8" cy="699.2" r="3.2"/><circle cx="200.3" cy="698.3" r="3.2"/><circle cx="76.2" cy="755" r="3.2"/><circle cx="199.1" cy="688.6" r="3.2"/><circle cx="227.9" cy="676.3" r="3.2"/><circle cx="124.2" cy="732.2" r="3.2"/><circle cx="230.6" cy="685.8" r="3.2"/><circle cx="182.4" cy="704.6" r="3.2"/><circle cx="139.9" cy="716.9" r="3.2"/><circle cx="298.1" cy="643.6" r="3.2"/><circle cx="142.6" cy="728" r="3.2"/><circle cx="222.4" cy="687.1" r="3.2"/><circle cx="221.5" cy="685.9" r="3.2"/><circle cx="283.4" cy="655.5" r="3.2"/><circle cx="144.8" cy="724.4" r="3.2"/><circle cx="119.5" cy="736.5" r="3.2"/><circle cx="103.1" cy="744.8" r="3.2"/><circle cx="198.7" cy="698.7" r="3.2"/><circle cx="72.4" cy="758.6" r="3.2"/><circle cx="109.2" cy="737.7" r="3.2"/><circle cx="156.5" cy="712.4" r="3.2"/><circle cx="183.8" cy="706.2" r="3.2"/><circle cx="73.8" cy="757" r="3.2"/><circle cx="105.4" cy="741" r="3.2"/><circle cx="168.8" cy="712.8" r="3.2"/><circle cx="69.6" cy="759.3" r="3.2"/><circle cx="118.5" cy="735" r="3.2"/><circle cx="104.3" cy="741.7" r="3.2"/><circle cx="165.4" cy="716.2" r="3.2"/><circle cx="234.5" cy="675.3" r="3.2"/><circle cx="92.6" cy="747.2" r="3.2"/><circle cx="150.6" cy="716.9" r="3.2"/><circle cx="122" cy="734.7" r="3.2"/><circle cx="247.7" cy="667.4" r="3.2"/><circle cx="110" cy="736.8" r="3.2"/><circle cx="184.7" cy="703.3" r="3.2"/><circle cx="160.9" cy="721.4" r="3.2"/><circle cx="51.2" cy="768.5" r="3.2"/><circle cx="202.6" cy="694.5" r="3.2"/><circle cx="125.3" cy="739" r="3.2"/><circle cx="197" cy="699.3" r="3.2"/><circle cx="88.9" cy="752.7" r="3.2"/><circle cx="123" cy="737" r="3.2"/><circle cx="150.2" cy="716.1" r="3.2"/><circle cx="269.1" cy="659.1" r="3.2"/><circle cx="74.3" cy="754.6" r="3.2"/><circle cx="123.6" cy="729" r="3.2"/><circle cx="78.9" cy="754.4" r="3.2"/><circle cx="56.4" cy="765.2" r="3.2"/><circle cx="191" cy="700.2" r="3.2"/><circle cx="115" cy="733.4" r="3.2"/><circle cx="174" cy="708.3" r="3.2"/><circle cx="107.7" cy="740.6" r="3.2"/><circle cx="78.6" cy="757.3" r="3.2"/><circle cx="175.1" cy="706.7" r="3.2"/><circle cx="131.3" cy="732.1" r="3.2"/><circle cx="217.6" cy="690.4" r="3.2"/><circle cx="130.8" cy="731.1" r="3.2"/><circle cx="147.2" cy="724" r="3.2"/><circle cx="116.4" cy="736.7" r="3.2"/><circle cx="106" cy="732.2" r="3.2"/><circle cx="166.3" cy="712.6" r="3.2"/><circle cx="292.1" cy="644.8" r="3.2"/><circle cx="193.3" cy="692.4" r="3.2"/><circle cx="120.3" cy="728.5" r="3.2"/><circle cx="235" cy="677.6" r="3.2"/><circle cx="189.5" cy="694.6" r="3.2"/><circle cx="219.1" cy="682" r="3.2"/><circle cx="261.3" cy="662.6" r="3.2"/><circle cx="181.3" cy="703.2" r="3.2"/><circle cx="213.6" cy="680.5" r="3.2"/><circle cx="95.5" cy="745" r="3.2"/><circle cx="160.6" cy="711.8" r="3.2"/><circle cx="136.6" cy="724.7" r="3.2"/><circle cx="269.7" cy="662.2" r="3.2"/><circle cx="122" cy="731.9" r="3.2"/><circle cx="103.3" cy="743.5" r="3.2"/><circle cx="103.8" cy="739.8" r="3.2"/><circle cx="218.5" cy="682.6" r="3.2"/><circle cx="126.6" cy="723.2" r="3.2"/><circle cx="117.7" cy="732.1" r="3.2"/><circle cx="215.6" cy="687.7" r="3.2"/><circle cx="55.7" cy="766.4" r="3.2"/><circle cx="131.8" cy="729.4" r="3.2"/><circle cx="159.7" cy="716.3" r="3.2"/><circle cx="207.3" cy="687.1" r="3.2"/><circle cx="78.8" cy="753.2" r="3.2"/><circle cx="232.6" cy="676" r="3.2"/><circle cx="52.6" cy="767.3" r="3.2"/><circle cx="131.6" cy="728" r="3.2"/><circle cx="241.8" cy="674" r="3.2"/><circle cx="241.7" cy="670.3" r="3.2"/><circle cx="275.4" cy="657.5" r="3.2"/><circle cx="61.3" cy="763.2" r="3.2"/><circle cx="262.3" cy="664.8" r="3.2"/><circle cx="105.4" cy="745.9" r="3.2"/><circle cx="243.4" cy="674" r="3.2"/><circle cx="84.6" cy="750.3" r="3.2"/><circle cx="210.9" cy="691.1" r="3.2"/><circle cx="113.5" cy="735.8" r="3.2"/><circle cx="94.1" cy="747.2" r="3.2"/><circle cx="53.7" cy="765.7" r="3.2"/><circle cx="281.9" cy="656.8" r="3.2"/><circle cx="78.9" cy="753.1" r="3.2"/><circle cx="249.5" cy="669.7" r="3.2"/><circle cx="173.7" cy="706.6" r="3.2"/><circle cx="114.3" cy="734.7" r="3.2"/><circle cx="281.5" cy="654.7" r="3.2"/><circle cx="142.5" cy="722.1" r="3.2"/><circle cx="178.5" cy="707" r="3.2"/><circle cx="99.3" cy="746.8" r="3.2"/><circle cx="282.9" cy="649.1" r="3.2"/><circle cx="63.5" cy="763.5" r="3.2"/><circle cx="86.3" cy="752.5" r="3.2"/><circle cx="211.3" cy="693.8" r="3.2"/><circle cx="47.9" cy="770.2" r="3.2"/><circle cx="62.1" cy="764" r="3.2"/><circle cx="49.3" cy="769.1" r="3.2"/><circle cx="273.3" cy="657.6" r="3.2"/><circle cx="250.2" cy="671.2" r="3.2"/><circle cx="154" cy="715.7" r="3.2"/><circle cx="256.7" cy="665.8" r="3.2"/><circle cx="198.8" cy="700.8" r="3.2"/><circle cx="67.9" cy="760.7" r="3.2"/><circle cx="147.9" cy="719" r="3.2"/><circle cx="135.7" cy="737.3" r="3.2"/><circle cx="230" cy="677.9" r="3.2"/><circle cx="84.9" cy="750.3" r="3.2"/><circle cx="222.5" cy="681.6" r="3.2"/><circle cx="98.5" cy="745.1" r="3.2"/><circle cx="246.1" cy="669.2" r="3.2"/><circle cx="166.4" cy="708.7" r="3.2"/><circle cx="159.6" cy="716.3" r="3.2"/><circle cx="235.9" cy="677.1" r="3.2"/><circle cx="233.2" cy="681.5" r="3.2"/><circle cx="183.2" cy="712.7" r="3.2"/><circle cx="115" cy="740.3" r="3.2"/><circle cx="90.2" cy="749.8" r="3.2"/><circle cx="57.2" cy="766.4" r="3.2"/><circle cx="202.5" cy="690.6" r="3.2"/><circle cx="105.4" cy="740.7" r="3.2"/><circle cx="217.7" cy="688.6" r="3.2"/><circle cx="146.6" cy="722.7" r="3.2"/><circle cx="241.3" cy="676.8" r="3.2"/><circle cx="114.4" cy="737.6" r="3.2"/><circle cx="122.7" cy="739.1" r="3.2"/><circle cx="260" cy="670.1" r="3.2"/><circle cx="105.3" cy="738.5" r="3.2"/><circle cx="193" cy="698" r="3.2"/><circle cx="113.5" cy="738.6" r="3.2"/><circle cx="255.7" cy="664.9" r="3.2"/><circle cx="132.8" cy="733.1" r="3.2"/><circle cx="50.9" cy="768.4" r="3.2"/><circle cx="63.2" cy="763.1" r="3.2"/><circle cx="121.1" cy="734.3" r="3.2"/><circle cx="160.6" cy="707.2" r="3.2"/><circle cx="141.4" cy="720.4" r="3.2"/><circle cx="93.4" cy="748.4" r="3.2"/><circle cx="93.6" cy="747" r="3.2"/><circle cx="151.7" cy="729.4" r="3.2"/><circle cx="260.1" cy="668" r="3.2"/><circle cx="181.2" cy="708.8" r="3.2"/><circle cx="61.5" cy="762.6" r="3.2"/><circle cx="66.7" cy="760.7" r="3.2"/><circle cx="65.5" cy="761" r="3.2"/><circle cx="234.9" cy="678.6" r="3.2"/><circle cx="182.5" cy="702.1" r="3.2"/><circle cx="140" cy="722.7" r="3.2"/><circle cx="194.5" cy="701.2" r="3.2"/><circle cx="70.2" cy="758.2" r="3.2"/><circle cx="293.2" cy="647.5" r="3.2"/><circle cx="251.5" cy="669.6" r="3.2"/><circle cx="152.1" cy="715.4" r="3.2"/><circle cx="290.5" cy="660.2" r="3.2"/><circle cx="116.9" cy="735.7" r="3.2"/><circle cx="126.1" cy="732.8" r="3.2"/><circle cx="80.2" cy="753.1" r="3.2"/><circle cx="159.3" cy="718.6" r="3.2"/><circle cx="266.3" cy="667.9" r="3.2"/><circle cx="70.6" cy="758.5" r="3.2"/><circle cx="255.3" cy="668.7" r="3.2"/><circle cx="106.8" cy="741.7" r="3.2"/><circle cx="156.9" cy="716.7" r="3.2"/><circle cx="270.2" cy="657.1" r="3.2"/><circle cx="156" cy="715.8" r="3.2"/><circle cx="110.3" cy="744.6" r="3.2"/><circle cx="60.7" cy="764" r="3.2"/><circle cx="220.6" cy="685.2" r="3.2"/><circle cx="75.7" cy="757.1" r="3.2"/><circle cx="111.4" cy="733.3" r="3.2"/><circle cx="287.2" cy="653.4" r="3.2"/><circle cx="47.5" cy="770.5" r="3.2"/><circle cx="201.3" cy="698.2" r="3.2"/><circle cx="131.7" cy="728.2" r="3.2"/><circle cx="128" cy="728.7" r="3.2"/><circle cx="199.8" cy="695.7" r="3.2"/><circle cx="130.1" cy="730" r="3.2"/><circle cx="158.8" cy="704.3" r="3.2"/><circle cx="118.8" cy="735.2" r="3.2"/><circle cx="294.4" cy="648.6" r="3.2"/><circle cx="59.3" cy="765.3" r="3.2"/><circle cx="69.6" cy="758.6" r="3.2"/><circle cx="109.9" cy="736.5" r="3.2"/><circle cx="237.3" cy="674.8" r="3.2"/><circle cx="191.3" cy="686.8" r="3.2"/><circle cx="175.5" cy="706.2" r="3.2"/><circle cx="71.3" cy="758" r="3.2"/><circle cx="93.8" cy="747.7" r="3.2"/><circle cx="274.9" cy="657.8" r="3.2"/><circle cx="229.5" cy="676.6" r="3.2"/><circle cx="147.9" cy="730.1" r="3.2"/><circle cx="180.5" cy="705.9" r="3.2"/><circle cx="65.7" cy="760" r="3.2"/><circle cx="122.8" cy="733.7" r="3.2"/><circle cx="78.4" cy="755.6" r="3.2"/><circle cx="293" cy="649.5" r="3.2"/><circle cx="256" cy="666.2" r="3.2"/><circle cx="121.8" cy="733.9" r="3.2"/><circle cx="48.3" cy="770.2" r="3.2"/><circle cx="106.2" cy="738.8" r="3.2"/><circle cx="162.9" cy="710.2" r="3.2"/><circle cx="114" cy="737.1" r="3.2"/><circle cx="223.4" cy="682.9" r="3.2"/><circle cx="152.2" cy="716.9" r="3.2"/><circle cx="59.3" cy="764" r="3.2"/><circle cx="242.3" cy="670.1" r="3.2"/><circle cx="102.7" cy="742.7" r="3.2"/><circle cx="140.1" cy="720.2" r="3.2"/><circle cx="48.2" cy="769.9" r="3.2"/><circle cx="134.9" cy="727.8" r="3.2"/><circle cx="81.4" cy="753.3" r="3.2"/><circle cx="134.5" cy="733.5" r="3.2"/><circle cx="251.6" cy="663" r="3.2"/><circle cx="293.7" cy="648.8" r="3.2"/><circle cx="193.1" cy="695" r="3.2"/><circle cx="132" cy="729.3" r="3.2"/><circle cx="99.6" cy="744.5" r="3.2"/><circle cx="161.2" cy="717.4" r="3.2"/><circle cx="236.7" cy="677.2" r="3.2"/><circle cx="179.3" cy="710.2" r="3.2"/><circle cx="285.9" cy="666.4" r="3.2"/><circle cx="72.3" cy="755.8" r="3.2"/><circle cx="123" cy="732.4" r="3.2"/><circle cx="129.2" cy="734.9" r="3.2"/><circle cx="206" cy="690.6" r="3.2"/><circle cx="171.2" cy="710.5" r="3.2"/><circle cx="247.2" cy="676.3" r="3.2"/><circle cx="217.1" cy="689.1" r="3.2"/><circle cx="154.8" cy="722.1" r="3.2"/><circle cx="128.8" cy="732.9" r="3.2"/><circle cx="280.8" cy="654.7" r="3.2"/><circle cx="201.7" cy="695.8" r="3.2"/><circle cx="92.2" cy="746.2" r="3.2"/><circle cx="93.8" cy="747" r="3.2"/><circle cx="185.7" cy="704.8" r="3.2"/><circle cx="197.3" cy="685.1" r="3.2"/><circle cx="122.6" cy="734.6" r="3.2"/><circle cx="220.3" cy="680.6" r="3.2"/><circle cx="109.5" cy="739.9" r="3.2"/><circle cx="285" cy="654" r="3.2"/><circle cx="236.3" cy="676" r="3.2"/><circle cx="202.5" cy="694.4" r="3.2"/><circle cx="223.9" cy="682.7" r="3.2"/><circle cx="205.8" cy="687.7" r="3.2"/><circle cx="224.5" cy="670.4" r="3.2"/><circle cx="131.3" cy="728.3" r="3.2"/><circle cx="141.5" cy="724.5" r="3.2"/><circle cx="251.8" cy="668.3" r="3.2"/><circle cx="171.4" cy="707.5" r="3.2"/><circle cx="233.9" cy="676.1" r="3.2"/><circle cx="210.9" cy="690.5" r="3.2"/><circle cx="118.8" cy="728.8" r="3.2"/><circle cx="276.5" cy="656.7" r="3.2"/><circle cx="235.4" cy="681.5" r="3.2"/><circle cx="160.7" cy="711.1" r="3.2"/><circle cx="85.3" cy="746.9" r="3.2"/><circle cx="289.9" cy="654.1" r="3.2"/><circle cx="126.9" cy="733.3" r="3.2"/><circle cx="235.5" cy="673.7" r="3.2"/><circle cx="110.3" cy="739.1" r="3.2"/><circle cx="92.8" cy="748.1" r="3.2"/><circle cx="290.4" cy="655.9" r="3.2"/><circle cx="212.4" cy="688.1" r="3.2"/><circle cx="82.8" cy="754" r="3.2"/><circle cx="92.1" cy="751.6" r="3.2"/><circle cx="66.1" cy="760.1" r="3.2"/><circle cx="224.1" cy="683.2" r="3.2"/><circle cx="219" cy="695.5" r="3.2"/><circle cx="153.5" cy="715.8" r="3.2"/><circle cx="189.3" cy="704.5" r="3.2"/><circle cx="104.2" cy="744.9" r="3.2"/><circle cx="212.6" cy="686.8" r="3.2"/><circle cx="295.9" cy="650.6" r="3.2"/><circle cx="85.9" cy="756.3" r="3.2"/><circle cx="170" cy="697.8" r="3.2"/><circle cx="179.5" cy="699.9" r="3.2"/><circle cx="105.6" cy="744.6" r="3.2"/><circle cx="55.5" cy="766" r="3.2"/><circle cx="135.2" cy="724.9" r="3.2"/><circle cx="189" cy="706" r="3.2"/><circle cx="53.2" cy="767.2" r="3.2"/><circle cx="173.2" cy="709.3" r="3.2"/><circle cx="47.9" cy="769.6" r="3.2"/><circle cx="275.6" cy="650.9" r="3.2"/><circle cx="104" cy="741.2" r="3.2"/><circle cx="69.5" cy="759" r="3.2"/><circle cx="93.8" cy="747.5" r="3.2"/><circle cx="119.7" cy="729.8" r="3.2"/><circle cx="223.2" cy="687.5" r="3.2"/><circle cx="60.2" cy="763.7" r="3.2"/><circle cx="85.1" cy="751.4" r="3.2"/><circle cx="249" cy="671.7" r="3.2"/><circle cx="59.4" cy="763.4" r="3.2"/><circle cx="172.3" cy="713.3" r="3.2"/><circle cx="239.7" cy="674.5" r="3.2"/><circle cx="48.5" cy="769.8" r="3.2"/><circle cx="72.2" cy="759.4" r="3.2"/><circle cx="162.9" cy="712.3" r="3.2"/><circle cx="69.7" cy="759.9" r="3.2"/><circle cx="151.5" cy="721.1" r="3.2"/><circle cx="85.5" cy="751.7" r="3.2"/><circle cx="210.9" cy="687.8" r="3.2"/><circle cx="234.2" cy="683.6" r="3.2"/><circle cx="95.1" cy="744.6" r="3.2"/><circle cx="163" cy="713.3" r="3.2"/><circle cx="87.1" cy="752.4" r="3.2"/><circle cx="186.8" cy="703.2" r="3.2"/><circle cx="257.2" cy="663.3" r="3.2"/><circle cx="147.1" cy="718.3" r="3.2"/><circle cx="111.3" cy="739.7" r="3.2"/><circle cx="151.3" cy="725.9" r="3.2"/><circle cx="84.4" cy="751.4" r="3.2"/><circle cx="77.2" cy="755.2" r="3.2"/><circle cx="126.2" cy="732.2" r="3.2"/><circle cx="85.3" cy="753.1" r="3.2"/><circle cx="215.9" cy="682.2" r="3.2"/><circle cx="216.3" cy="683.4" r="3.2"/><circle cx="182" cy="700.8" r="3.2"/><circle cx="132.3" cy="728.7" r="3.2"/><circle cx="171.9" cy="709.4" r="3.2"/><circle cx="191.9" cy="693.7" r="3.2"/><circle cx="52.2" cy="768.3" r="3.2"/><circle cx="183.1" cy="703.3" r="3.2"/><circle cx="50.9" cy="768.9" r="3.2"/><circle cx="205.9" cy="693.8" r="3.2"/><circle cx="56.4" cy="766.4" r="3.2"/><circle cx="153.5" cy="714.5" r="3.2"/><circle cx="297.8" cy="646.3" r="3.2"/><circle cx="110.5" cy="735.7" r="3.2"/><circle cx="224.8" cy="687" r="3.2"/><circle cx="88.2" cy="751.9" r="3.2"/><circle cx="226.4" cy="687" r="3.2"/><circle cx="169.9" cy="720.4" r="3.2"/><circle cx="108.4" cy="740.6" r="3.2"/><circle cx="149.2" cy="719.1" r="3.2"/><circle cx="76.1" cy="756.6" r="3.2"/><circle cx="195.9" cy="694.9" r="3.2"/><circle cx="72.2" cy="758" r="3.2"/><circle cx="278.4" cy="651.4" r="3.2"/><circle cx="69.5" cy="758.2" r="3.2"/><circle cx="179.7" cy="705" r="3.2"/><circle cx="196.4" cy="694.9" r="3.2"/><circle cx="223.9" cy="684.7" r="3.2"/><circle cx="220.3" cy="681.5" r="3.2"/><circle cx="301.2" cy="640.7" r="3.2"/><circle cx="71.2" cy="757.8" r="3.2"/><circle cx="217" cy="685.2" r="3.2"/><circle cx="149.2" cy="722.1" r="3.2"/><circle cx="243.2" cy="671.2" r="3.2"/><circle cx="110" cy="741.6" r="3.2"/><circle cx="68.5" cy="759.8" r="3.2"/><circle cx="97.1" cy="743.8" r="3.2"/><circle cx="137.8" cy="729.6" r="3.2"/><circle cx="264.7" cy="664.9" r="3.2"/><circle cx="206.5" cy="687.1" r="3.2"/><circle cx="106.4" cy="741.7" r="3.2"/><circle cx="118.9" cy="729.6" r="3.2"/><circle cx="109.3" cy="739.1" r="3.2"/><circle cx="214.6" cy="685.3" r="3.2"/><circle cx="66.3" cy="762.3" r="3.2"/><circle cx="261.7" cy="671" r="3.2"/><circle cx="227.7" cy="677.4" r="3.2"/><circle cx="137.1" cy="725.8" r="3.2"/><circle cx="136" cy="723.4" r="3.2"/><circle cx="166.4" cy="712.8" r="3.2"/><circle cx="236.7" cy="678.4" r="3.2"/><circle cx="279.5" cy="657.8" r="3.2"/><circle cx="273" cy="662" r="3.2"/><circle cx="117.1" cy="738.2" r="3.2"/><circle cx="132.1" cy="731.9" r="3.2"/><circle cx="223.1" cy="680.2" r="3.2"/><circle cx="294.6" cy="654.8" r="3.2"/><circle cx="222.1" cy="680.4" r="3.2"/><circle cx="172.7" cy="702.8" r="3.2"/><circle cx="124.2" cy="731.9" r="3.2"/><circle cx="295.1" cy="649.8" r="3.2"/><circle cx="115.9" cy="735.6" r="3.2"/><circle cx="171.9" cy="704.6" r="3.2"/><circle cx="202.8" cy="690.6" r="3.2"/><circle cx="231.3" cy="680.4" r="3.2"/><circle cx="267.1" cy="652.7" r="3.2"/><circle cx="197.9" cy="691.7" r="3.2"/><circle cx="126.8" cy="729.7" r="3.2"/><circle cx="160.3" cy="707.1" r="3.2"/><circle cx="274" cy="655.6" r="3.2"/><circle cx="240.7" cy="679.5" r="3.2"/><circle cx="66.2" cy="760.9" r="3.2"/><circle cx="291.5" cy="646.8" r="3.2"/><circle cx="191.4" cy="707.1" r="3.2"/><circle cx="144" cy="723.2" r="3.2"/><circle cx="112.9" cy="735.7" r="3.2"/><circle cx="208.4" cy="691.3" r="3.2"/><circle cx="243.1" cy="674.1" r="3.2"/><circle cx="187.5" cy="695.3" r="3.2"/><circle cx="153.2" cy="719.2" r="3.2"/><circle cx="160.1" cy="713.5" r="3.2"/><circle cx="148.1" cy="725.9" r="3.2"/><circle cx="277.7" cy="664.8" r="3.2"/><circle cx="289.3" cy="652" r="3.2"/><circle cx="202.8" cy="690.5" r="3.2"/><circle cx="51.5" cy="768.2" r="3.2"/><circle cx="162.1" cy="718.2" r="3.2"/><circle cx="200.5" cy="693" r="3.2"/><circle cx="59.7" cy="763.7" r="3.2"/><circle cx="54.2" cy="767.6" r="3.2"/><circle cx="99.4" cy="748.3" r="3.2"/><circle cx="157.9" cy="708.3" r="3.2"/><circle cx="154.2" cy="716.1" r="3.2"/><circle cx="57.7" cy="766.7" r="3.2"/><circle cx="123.9" cy="731.8" r="3.2"/><circle cx="158.5" cy="716.7" r="3.2"/><circle cx="239" cy="667.2" r="3.2"/><circle cx="79.3" cy="754.6" r="3.2"/><circle cx="137.7" cy="728" r="3.2"/><circle cx="110.6" cy="738.5" r="3.2"/><circle cx="97.4" cy="744.4" r="3.2"/><circle cx="144.7" cy="725.1" r="3.2"/><circle cx="272" cy="657.3" r="3.2"/><circle cx="186.5" cy="698.3" r="3.2"/><circle cx="243.5" cy="671.3" r="3.2"/><circle cx="280" cy="661.2" r="3.2"/><circle cx="102.1" cy="748.4" r="3.2"/><circle cx="182.9" cy="702.8" r="3.2"/><circle cx="282.2" cy="662.5" r="3.2"/><circle cx="252.2" cy="663.5" r="3.2"/><circle cx="64.4" cy="762.2" r="3.2"/><circle cx="242.4" cy="670.1" r="3.2"/><circle cx="165" cy="714" r="3.2"/><circle cx="168.3" cy="707.8" r="3.2"/><circle cx="292.5" cy="649.1" r="3.2"/><circle cx="188.3" cy="702" r="3.2"/><circle cx="215.2" cy="691.3" r="3.2"/><circle cx="266.4" cy="674.3" r="3.2"/><circle cx="89.6" cy="750" r="3.2"/><circle cx="113.1" cy="735.2" r="3.2"/><circle cx="63" cy="762.2" r="3.2"/><circle cx="94.7" cy="746.1" r="3.2"/><circle cx="70.2" cy="758.3" r="3.2"/><circle cx="242.5" cy="675.4" r="3.2"/><circle cx="132.4" cy="727.5" r="3.2"/><circle cx="186.3" cy="693.4" r="3.2"/><circle cx="100.5" cy="743" r="3.2"/><circle cx="117.8" cy="733.5" r="3.2"/><circle cx="245.5" cy="670.7" r="3.2"/><circle cx="199.8" cy="696.4" r="3.2"/><circle cx="231.8" cy="679.4" r="3.2"/><circle cx="68.2" cy="763.1" r="3.2"/><circle cx="91.6" cy="752.1" r="3.2"/><circle cx="81.7" cy="752" r="3.2"/><circle cx="57.3" cy="766.9" r="3.2"/><circle cx="64.2" cy="762" r="3.2"/><circle cx="108" cy="742" r="3.2"/><circle cx="145.9" cy="722" r="3.2"/><circle cx="124.7" cy="732.3" r="3.2"/><circle cx="169.7" cy="707.6" r="3.2"/><circle cx="173.1" cy="708" r="3.2"/><circle cx="164.2" cy="713.2" r="3.2"/><circle cx="161.7" cy="716.6" r="3.2"/><circle cx="225.5" cy="681.5" r="3.2"/><circle cx="269.1" cy="665.1" r="3.2"/><circle cx="81.7" cy="751.3" r="3.2"/><circle cx="172.7" cy="701.1" r="3.2"/><circle cx="285.5" cy="650.7" r="3.2"/><circle cx="53.4" cy="766.9" r="3.2"/><circle cx="186.8" cy="694.8" r="3.2"/><circle cx="209.6" cy="692.2" r="3.2"/><circle cx="253.3" cy="666.7" r="3.2"/><circle cx="47.9" cy="770" r="3.2"/><circle cx="149.8" cy="718.7" r="3.2"/><circle cx="153.5" cy="705.3" r="3.2"/><circle cx="285" cy="656.2" r="3.2"/><circle cx="210.8" cy="689.7" r="3.2"/><circle cx="188.4" cy="698.3" r="3.2"/><circle cx="106.9" cy="736.5" r="3.2"/><circle cx="160.4" cy="714.7" r="3.2"/><circle cx="226.3" cy="687.7" r="3.2"/><circle cx="80.4" cy="750.9" r="3.2"/><circle cx="288" cy="650.8" r="3.2"/><circle cx="214.1" cy="688.7" r="3.2"/><circle cx="220.9" cy="684.2" r="3.2"/><circle cx="274.3" cy="659.7" r="3.2"/><circle cx="57.7" cy="765.5" r="3.2"/><circle cx="219.1" cy="680.8" r="3.2"/><circle cx="148.9" cy="721.2" r="3.2"/><circle cx="156.1" cy="716.4" r="3.2"/><circle cx="47.6" cy="770.1" r="3.2"/><circle cx="155.7" cy="719.7" r="3.2"/><circle cx="244.6" cy="675.2" r="3.2"/><circle cx="61.6" cy="764.3" r="3.2"/><circle cx="102.3" cy="743.8" r="3.2"/><circle cx="145.1" cy="722.1" r="3.2"/><circle cx="292.3" cy="640.1" r="3.2"/><circle cx="175.5" cy="701" r="3.2"/><circle cx="291.3" cy="649.5" r="3.2"/><circle cx="104.9" cy="741.8" r="3.2"/><circle cx="134.7" cy="730.6" r="3.2"/><circle cx="101.2" cy="740" r="3.2"/><circle cx="130.7" cy="726.2" r="3.2"/><circle cx="114.6" cy="737.7" r="3.2"/><circle cx="234.7" cy="679.5" r="3.2"/><circle cx="261.2" cy="661.9" r="3.2"/><circle cx="119.1" cy="730.7" r="3.2"/><circle cx="190.7" cy="702.6" r="3.2"/><circle cx="131.6" cy="739.4" r="3.2"/><circle cx="230.2" cy="684.4" r="3.2"/><circle cx="100" cy="741.2" r="3.2"/><circle cx="181.8" cy="711.4" r="3.2"/><circle cx="247.7" cy="672.6" r="3.2"/><circle cx="233.2" cy="679.1" r="3.2"/><circle cx="251.8" cy="669.6" r="3.2"/><circle cx="196.3" cy="698.1" r="3.2"/><circle cx="76.2" cy="755.1" r="3.2"/><circle cx="204" cy="697.3" r="3.2"/><circle cx="271.4" cy="658" r="3.2"/><circle cx="166.1" cy="711.9" r="3.2"/><circle cx="147.6" cy="723.2" r="3.2"/><circle cx="258.1" cy="664" r="3.2"/><circle cx="130.9" cy="725.1" r="3.2"/><circle cx="254.9" cy="675" r="3.2"/><circle cx="120" cy="730.9" r="3.2"/><circle cx="90.7" cy="747.5" r="3.2"/><circle cx="176.3" cy="700" r="3.2"/><circle cx="254.5" cy="663.7" r="3.2"/><circle cx="148.3" cy="721.8" r="3.2"/><circle cx="62.5" cy="762.6" r="3.2"/><circle cx="88.1" cy="752.6" r="3.2"/><circle cx="230.2" cy="680" r="3.2"/><circle cx="186.8" cy="702.4" r="3.2"/><circle cx="71.7" cy="759" r="3.2"/><circle cx="201.5" cy="696.2" r="3.2"/><circle cx="51.3" cy="768.5" r="3.2"/><circle cx="272.3" cy="650.4" r="3.2"/><circle cx="213.2" cy="692" r="3.2"/><circle cx="75.3" cy="757.7" r="3.2"/><circle cx="71.8" cy="757" r="3.2"/><circle cx="102.9" cy="744.2" r="3.2"/><circle cx="100.5" cy="741.5" r="3.2"/><circle cx="233.7" cy="683.8" r="3.2"/><circle cx="252.1" cy="670.9" r="3.2"/><circle cx="166.1" cy="710.7" r="3.2"/><circle cx="51" cy="768.8" r="3.2"/><circle cx="303" cy="644.5" r="3.2"/><circle cx="243.6" cy="669" r="3.2"/><circle cx="49.5" cy="768.9" r="3.2"/><circle cx="239.8" cy="677" r="3.2"/><circle cx="271.9" cy="664.5" r="3.2"/><circle cx="127.4" cy="731.8" r="3.2"/><circle cx="61.7" cy="763" r="3.2"/><circle cx="136.2" cy="725.6" r="3.2"/><circle cx="187.7" cy="696.5" r="3.2"/><circle cx="89.2" cy="749.4" r="3.2"/><circle cx="241.3" cy="676.7" r="3.2"/><circle cx="278.3" cy="672" r="3.2"/><circle cx="297.1" cy="650.5" r="3.2"/><circle cx="242.4" cy="678.9" r="3.2"/><circle cx="141.1" cy="713.3" r="3.2"/><circle cx="70.5" cy="763.5" r="3.2"/><circle cx="229" cy="679.1" r="3.2"/><circle cx="174.5" cy="700" r="3.2"/><circle cx="49.1" cy="769.9" r="3.2"/><circle cx="73.8" cy="757.4" r="3.2"/><circle cx="226.2" cy="679" r="3.2"/><circle cx="104.9" cy="748.4" r="3.2"/><circle cx="251.7" cy="667.7" r="3.2"/><circle cx="179.6" cy="704.3" r="3.2"/><circle cx="167" cy="708.4" r="3.2"/><circle cx="76.5" cy="753.9" r="3.2"/><circle cx="132.7" cy="729.9" r="3.2"/><circle cx="239.1" cy="676.6" r="3.2"/><circle cx="69.8" cy="758.6" r="3.2"/><circle cx="193.7" cy="697.2" r="3.2"/><circle cx="305" cy="644.3" r="3.2"/><circle cx="217.3" cy="682.8" r="3.2"/><circle cx="48.6" cy="769.5" r="3.2"/><circle cx="290.8" cy="647.3" r="3.2"/><circle cx="78.4" cy="754.7" r="3.2"/><circle cx="88.7" cy="749.7" r="3.2"/><circle cx="128.3" cy="728.1" r="3.2"/><circle cx="259" cy="666.7" r="3.2"/><circle cx="234.9" cy="674.2" r="3.2"/><circle cx="223.7" cy="677.4" r="3.2"/><circle cx="284.4" cy="650.7" r="3.2"/><circle cx="204.1" cy="696.6" r="3.2"/><circle cx="107.1" cy="742.8" r="3.2"/><circle cx="134.2" cy="728.9" r="3.2"/><circle cx="48.2" cy="769.4" r="3.2"/><circle cx="104" cy="741.4" r="3.2"/><circle cx="108.2" cy="742.2" r="3.2"/><circle cx="163" cy="718.3" r="3.2"/><circle cx="177.8" cy="706.9" r="3.2"/><circle cx="129.6" cy="727.5" r="3.2"/><circle cx="61.8" cy="763" r="3.2"/><circle cx="248.7" cy="669.9" r="3.2"/><circle cx="229.5" cy="686.4" r="3.2"/><circle cx="112" cy="735.9" r="3.2"/><circle cx="100.3" cy="746.4" r="3.2"/><circle cx="96.1" cy="746.1" r="3.2"/><circle cx="65.6" cy="761.3" r="3.2"/><circle cx="74.1" cy="759.1" r="3.2"/><circle cx="288.6" cy="652.6" r="3.2"/><circle cx="231.8" cy="677.8" r="3.2"/><circle cx="279.8" cy="654.8" r="3.2"/><circle cx="252.7" cy="666.9" r="3.2"/><circle cx="148.3" cy="727.7" r="3.2"/><circle cx="207.5" cy="686.3" r="3.2"/><circle cx="179.6" cy="707.8" r="3.2"/><circle cx="121" cy="738.1" r="3.2"/><circle cx="53.6" cy="767.4" r="3.2"/><circle cx="161" cy="713.9" r="3.2"/><circle cx="298.6" cy="644.9" r="3.2"/><circle cx="298.1" cy="646" r="3.2"/><circle cx="75.7" cy="752.8" r="3.2"/><circle cx="183.3" cy="700.4" r="3.2"/><circle cx="107.2" cy="737.1" r="3.2"/><circle cx="107.9" cy="742" r="3.2"/><circle cx="150.2" cy="718.6" r="3.2"/><circle cx="196.7" cy="697.5" r="3.2"/><circle cx="182.5" cy="689.2" r="3.2"/><circle cx="190.8" cy="704.2" r="3.2"/><circle cx="52.8" cy="767.2" r="3.2"/><circle cx="295.4" cy="646.3" r="3.2"/><circle cx="185.1" cy="704.2" r="3.2"/><circle cx="243.2" cy="673.8" r="3.2"/><circle cx="109.5" cy="740.5" r="3.2"/><circle cx="168.1" cy="712.5" r="3.2"/><circle cx="92.9" cy="750.8" r="3.2"/><circle cx="127" cy="732.2" r="3.2"/><circle cx="152.1" cy="719.7" r="3.2"/><circle cx="272.1" cy="659" r="3.2"/><circle cx="237.4" cy="677.6" r="3.2"/><circle cx="245.6" cy="671.8" r="3.2"/><circle cx="127.1" cy="724" r="3.2"/><circle cx="55.5" cy="765.9" r="3.2"/><circle cx="274.1" cy="664.8" r="3.2"/><circle cx="48.4" cy="769.7" r="3.2"/><circle cx="134.3" cy="725.3" r="3.2"/><circle cx="167.3" cy="715.8" r="3.2"/><circle cx="123.9" cy="739.2" r="3.2"/><circle cx="179.3" cy="708.4" r="3.2"/><circle cx="200.3" cy="694" r="3.2"/><circle cx="112.6" cy="735.1" r="3.2"/><circle cx="158.3" cy="712.4" r="3.2"/><circle cx="114.9" cy="736.1" r="3.2"/><circle cx="268.8" cy="657.9" r="3.2"/><circle cx="289" cy="651.8" r="3.2"/><circle cx="107" cy="744.5" r="3.2"/><circle cx="146" cy="716.5" r="3.2"/><circle cx="85.8" cy="750" r="3.2"/><circle cx="208.7" cy="688" r="3.2"/><circle cx="70" cy="758.5" r="3.2"/><circle cx="267" cy="655.9" r="3.2"/><circle cx="157.3" cy="719.4" r="3.2"/><circle cx="173.5" cy="708.5" r="3.2"/><circle cx="144.4" cy="725.4" r="3.2"/><circle cx="142.7" cy="728.8" r="3.2"/><circle cx="237.3" cy="673.8" r="3.2"/><circle cx="85.9" cy="751.6" r="3.2"/><circle cx="264.4" cy="669.6" r="3.2"/><circle cx="232.8" cy="679.2" r="3.2"/><circle cx="165" cy="711.5" r="3.2"/><circle cx="62.7" cy="760.7" r="3.2"/><circle cx="81.2" cy="757.2" r="3.2"/><circle cx="124.4" cy="737.9" r="3.2"/><circle cx="66.2" cy="760.5" r="3.2"/><circle cx="162.6" cy="707.4" r="3.2"/><circle cx="160.6" cy="715.2" r="3.2"/><circle cx="299.5" cy="645.4" r="3.2"/><circle cx="133.1" cy="726.8" r="3.2"/><circle cx="248.1" cy="672.4" r="3.2"/><circle cx="289" cy="654.7" r="3.2"/><circle cx="284" cy="655.2" r="3.2"/><circle cx="284.7" cy="649.4" r="3.2"/><circle cx="146.1" cy="725.2" r="3.2"/><circle cx="297.9" cy="641.2" r="3.2"/><circle cx="111.6" cy="737.3" r="3.2"/><circle cx="203.4" cy="690.7" r="3.2"/><circle cx="95.5" cy="747.7" r="3.2"/><circle cx="137.4" cy="724.9" r="3.2"/><circle cx="122.5" cy="736.2" r="3.2"/><circle cx="147.2" cy="721.6" r="3.2"/><circle cx="261.5" cy="662.8" r="3.2"/><circle cx="196.9" cy="696.8" r="3.2"/><circle cx="192.8" cy="700" r="3.2"/><circle cx="92.5" cy="746.4" r="3.2"/><circle cx="164" cy="716.7" r="3.2"/><circle cx="230.1" cy="677.3" r="3.2"/><circle cx="249.7" cy="666.6" r="3.2"/><circle cx="296.4" cy="643.3" r="3.2"/><circle cx="99.7" cy="745.1" r="3.2"/><circle cx="152.1" cy="727.4" r="3.2"/><circle cx="90.8" cy="747.2" r="3.2"/><circle cx="52.5" cy="767.6" r="3.2"/><circle cx="154.3" cy="719.6" r="3.2"/><circle cx="212.4" cy="693.8" r="3.2"/><circle cx="252.6" cy="671.6" r="3.2"/><circle cx="206.5" cy="688.7" r="3.2"/><circle cx="51.6" cy="768.6" r="3.2"/><circle cx="284.9" cy="655.8" r="3.2"/><circle cx="226.2" cy="682.1" r="3.2"/><circle cx="121.8" cy="738" r="3.2"/><circle cx="60.1" cy="763.1" r="3.2"/><circle cx="276.8" cy="655.1" r="3.2"/><circle cx="273.4" cy="655.1" r="3.2"/><circle cx="220.6" cy="680.4" r="3.2"/><circle cx="93" cy="748.2" r="3.2"/><circle cx="189.3" cy="700" r="3.2"/><circle cx="250.9" cy="666.8" r="3.2"/><circle cx="241.3" cy="673.7" r="3.2"/><circle cx="253.5" cy="664.8" r="3.2"/><circle cx="218.5" cy="691.7" r="3.2"/><circle cx="203.4" cy="693.9" r="3.2"/><circle cx="49.2" cy="769.7" r="3.2"/><circle cx="240.8" cy="678.5" r="3.2"/><circle cx="104.8" cy="739.9" r="3.2"/><circle cx="55.6" cy="765.7" r="3.2"/><circle cx="250.9" cy="665.5" r="3.2"/><circle cx="101.2" cy="742.4" r="3.2"/><circle cx="143.5" cy="718" r="3.2"/><circle cx="81.4" cy="755.2" r="3.2"/><circle cx="133.5" cy="732.5" r="3.2"/><circle cx="214.7" cy="693.4" r="3.2"/><circle cx="154.3" cy="718.4" r="3.2"/><circle cx="218.4" cy="686" r="3.2"/><circle cx="232.6" cy="675.4" r="3.2"/><circle cx="224.4" cy="680" r="3.2"/><circle cx="155.2" cy="717.7" r="3.2"/><circle cx="172" cy="709.5" r="3.2"/><circle cx="185" cy="701.4" r="3.2"/><circle cx="210.9" cy="687.7" r="3.2"/><circle cx="92" cy="748.2" r="3.2"/><circle cx="85.8" cy="749.4" r="3.2"/><circle cx="94" cy="747.6" r="3.2"/><circle cx="230.9" cy="677.6" r="3.2"/><circle cx="119.8" cy="736.9" r="3.2"/><circle cx="145.4" cy="719.3" r="3.2"/><circle cx="54.8" cy="765" r="3.2"/><circle cx="72.7" cy="756.9" r="3.2"/><circle cx="125.5" cy="734" r="3.2"/><circle cx="229.6" cy="679.6" r="3.2"/><circle cx="300.5" cy="649.9" r="3.2"/><circle cx="125.5" cy="728.8" r="3.2"/><circle cx="122.2" cy="732.3" r="3.2"/><circle cx="91.7" cy="743.4" r="3.2"/><circle cx="82.9" cy="758" r="3.2"/><circle cx="247.3" cy="671.1" r="3.2"/><circle cx="251.2" cy="673.6" r="3.2"/><circle cx="78.4" cy="756.1" r="3.2"/><circle cx="59.4" cy="764.7" r="3.2"/><circle cx="48.1" cy="769.8" r="3.2"/><circle cx="257" cy="669.2" r="3.2"/><circle cx="297.9" cy="649.7" r="3.2"/><circle cx="103.4" cy="738.2" r="3.2"/><circle cx="211.4" cy="689.9" r="3.2"/><circle cx="200" cy="694.8" r="3.2"/><circle cx="100.5" cy="750.3" r="3.2"/><circle cx="214" cy="693.1" r="3.2"/><circle cx="276.4" cy="659.7" r="3.2"/><circle cx="188.5" cy="700.3" r="3.2"/><circle cx="267.8" cy="670.2" r="3.2"/><circle cx="94.4" cy="745.6" r="3.2"/><circle cx="117.1" cy="736.6" r="3.2"/><circle cx="110.8" cy="739.3" r="3.2"/><circle cx="98.9" cy="745.9" r="3.2"/><circle cx="113.5" cy="735.7" r="3.2"/><circle cx="114.7" cy="741.9" r="3.2"/><circle cx="121" cy="734.1" r="3.2"/><circle cx="264.5" cy="667.2" r="3.2"/><circle cx="296.1" cy="666.6" r="3.2"/><circle cx="98.4" cy="746.8" r="3.2"/><circle cx="148.1" cy="718.9" r="3.2"/><circle cx="203" cy="692.6" r="3.2"/><circle cx="224.2" cy="683.3" r="3.2"/><circle cx="204.3" cy="694.4" r="3.2"/><circle cx="187.4" cy="700.8" r="3.2"/><circle cx="282.1" cy="654" r="3.2"/><circle cx="204.9" cy="688.8" r="3.2"/><circle cx="222.8" cy="684.5" r="3.2"/><circle cx="240" cy="675.6" r="3.2"/><circle cx="143.2" cy="723" r="3.2"/><circle cx="92.2" cy="749.5" r="3.2"/><circle cx="136.2" cy="726.8" r="3.2"/><circle cx="144.2" cy="722.8" r="3.2"/><circle cx="269.4" cy="658.2" r="3.2"/><circle cx="140.4" cy="725" r="3.2"/><circle cx="76.9" cy="753.8" r="3.2"/><circle cx="235.3" cy="671.8" r="3.2"/><circle cx="237.2" cy="679.6" r="3.2"/><circle cx="130.8" cy="735.6" r="3.2"/><circle cx="222" cy="686" r="3.2"/><circle cx="143.2" cy="719.5" r="3.2"/><circle cx="137" cy="728" r="3.2"/><circle cx="152.1" cy="724.9" r="3.2"/><circle cx="135.3" cy="723.6" r="3.2"/><circle cx="84.1" cy="752.3" r="3.2"/><circle cx="259.2" cy="664" r="3.2"/><circle cx="86.7" cy="752.4" r="3.2"/><circle cx="85.7" cy="754.6" r="3.2"/><circle cx="125.6" cy="735.4" r="3.2"/><circle cx="51.1" cy="768" r="3.2"/><circle cx="55.2" cy="766.5" r="3.2"/><circle cx="200.2" cy="695.2" r="3.2"/><circle cx="90.2" cy="749.1" r="3.2"/><circle cx="94.5" cy="748.2" r="3.2"/><circle cx="157.4" cy="716.5" r="3.2"/><circle cx="94.5" cy="746.1" r="3.2"/><circle cx="293.2" cy="643.7" r="3.2"/><circle cx="124.1" cy="740.5" r="3.2"/><circle cx="177.3" cy="709.7" r="3.2"/><circle cx="263" cy="661.1" r="3.2"/><circle cx="168.8" cy="708.3" r="3.2"/><circle cx="113.5" cy="733.2" r="3.2"/><circle cx="189.7" cy="706.8" r="3.2"/><circle cx="143.4" cy="715.6" r="3.2"/><circle cx="269.4" cy="660.1" r="3.2"/><circle cx="214.1" cy="685.2" r="3.2"/><circle cx="260.7" cy="670.7" r="3.2"/><circle cx="57.2" cy="765.7" r="3.2"/><circle cx="137.3" cy="724.7" r="3.2"/><circle cx="223.1" cy="681" r="3.2"/><circle cx="74.6" cy="757.6" r="3.2"/><circle cx="162.5" cy="713.3" r="3.2"/><circle cx="162" cy="713.5" r="3.2"/><circle cx="204.9" cy="693.7" r="3.2"/><circle cx="53.4" cy="766.5" r="3.2"/><circle cx="164" cy="718.4" r="3.2"/><circle cx="250.1" cy="676.4" r="3.2"/><circle cx="185.7" cy="703.4" r="3.2"/><circle cx="55.2" cy="765.6" r="3.2"/><circle cx="176.2" cy="706.7" r="3.2"/><circle cx="288" cy="657.1" r="3.2"/><circle cx="169.8" cy="710.8" r="3.2"/><circle cx="73.2" cy="757.1" r="3.2"/><circle cx="96.4" cy="745.5" r="3.2"/><circle cx="196.8" cy="695.6" r="3.2"/><circle cx="224.9" cy="682.3" r="3.2"/><circle cx="220.1" cy="683" r="3.2"/><circle cx="145.3" cy="719.9" r="3.2"/><circle cx="189.1" cy="696" r="3.2"/><circle cx="299.4" cy="656.4" r="3.2"/><circle cx="146.5" cy="719.6" r="3.2"/><circle cx="284.7" cy="647.2" r="3.2"/><circle cx="169.7" cy="705.6" r="3.2"/><circle cx="172.3" cy="711.1" r="3.2"/><circle cx="165.2" cy="712.5" r="3.2"/><circle cx="50.8" cy="768.3" r="3.2"/><circle cx="187.4" cy="698.6" r="3.2"/><circle cx="118.2" cy="740.3" r="3.2"/><circle cx="185.9" cy="699.3" r="3.2"/><circle cx="88.7" cy="747.9" r="3.2"/><circle cx="247.7" cy="673.9" r="3.2"/><circle cx="162.6" cy="715.7" r="3.2"/><circle cx="260.8" cy="662.3" r="3.2"/><circle cx="161.8" cy="711.6" r="3.2"/><circle cx="134.4" cy="726.1" r="3.2"/><circle cx="71.9" cy="759.7" r="3.2"/><circle cx="192.7" cy="693" r="3.2"/><circle cx="54.9" cy="766.4" r="3.2"/><circle cx="53.1" cy="767.4" r="3.2"/><circle cx="71" cy="758.2" r="3.2"/><circle cx="234.5" cy="677.6" r="3.2"/><circle cx="266.1" cy="657.8" r="3.2"/><circle cx="238.4" cy="663.1" r="3.2"/><circle cx="129.7" cy="728" r="3.2"/><circle cx="197.2" cy="696.2" r="3.2"/><circle cx="111.2" cy="738.3" r="3.2"/><circle cx="107.6" cy="739.1" r="3.2"/><circle cx="65.9" cy="761.5" r="3.2"/><circle cx="60.3" cy="763.4" r="3.2"/><circle cx="303" cy="643.8" r="3.2"/><circle cx="298" cy="643.6" r="3.2"/><circle cx="287.2" cy="653" r="3.2"/><circle cx="229.2" cy="690" r="3.2"/><circle cx="246.9" cy="669.4" r="3.2"/><circle cx="177.3" cy="713.2" r="3.2"/><circle cx="55.8" cy="765.2" r="3.2"/><circle cx="111.2" cy="732.2" r="3.2"/><circle cx="114.2" cy="737.9" r="3.2"/><circle cx="182.7" cy="703.1" r="3.2"/><circle cx="285.9" cy="655.7" r="3.2"/><circle cx="81.2" cy="752.7" r="3.2"/><circle cx="293.1" cy="650" r="3.2"/><circle cx="262.9" cy="664.9" r="3.2"/><circle cx="270.5" cy="660" r="3.2"/><circle cx="198.1" cy="688.7" r="3.2"/><circle cx="159.9" cy="716.5" r="3.2"/><circle cx="198.8" cy="695" r="3.2"/><circle cx="122.1" cy="730.6" r="3.2"/><circle cx="117.3" cy="739.4" r="3.2"/><circle cx="272" cy="663.9" r="3.2"/><circle cx="160.5" cy="715" r="3.2"/><circle cx="214.2" cy="684.7" r="3.2"/><circle cx="126.6" cy="729.5" r="3.2"/><circle cx="142.6" cy="724.9" r="3.2"/><circle cx="278.2" cy="656" r="3.2"/><circle cx="84.2" cy="752.8" r="3.2"/><circle cx="112.5" cy="738.2" r="3.2"/><circle cx="211.9" cy="691.4" r="3.2"/><circle cx="193.1" cy="694.5" r="3.2"/><circle cx="57.8" cy="764.5" r="3.2"/><circle cx="250.6" cy="677.3" r="3.2"/><circle cx="50.5" cy="768.8" r="3.2"/><circle cx="71.7" cy="758.5" r="3.2"/><circle cx="51.8" cy="767.7" r="3.2"/><circle cx="86" cy="751.8" r="3.2"/><circle cx="126.1" cy="729" r="3.2"/><circle cx="182.7" cy="701.8" r="3.2"/><circle cx="189.1" cy="704.5" r="3.2"/><circle cx="118.4" cy="733.6" r="3.2"/><circle cx="112.9" cy="727.9" r="3.2"/><circle cx="129.9" cy="728.2" r="3.2"/><circle cx="140.5" cy="725.4" r="3.2"/><circle cx="80.7" cy="752.7" r="3.2"/><circle cx="174" cy="707.6" r="3.2"/><circle cx="75.9" cy="756.5" r="3.2"/><circle cx="67.3" cy="758.9" r="3.2"/><circle cx="159" cy="715.9" r="3.2"/><circle cx="75.9" cy="754.6" r="3.2"/><circle cx="217.8" cy="679.7" r="3.2"/><circle cx="174.6" cy="705.6" r="3.2"/><circle cx="225.9" cy="685.5" r="3.2"/><circle cx="250" cy="661.1" r="3.2"/><circle cx="306.1" cy="643.7" r="3.2"/><circle cx="211.9" cy="688.8" r="3.2"/><circle cx="121.3" cy="734.9" r="3.2"/><circle cx="167.4" cy="715.1" r="3.2"/><circle cx="176.7" cy="707.1" r="3.2"/><circle cx="135.6" cy="729.6" r="3.2"/><circle cx="54.5" cy="767" r="3.2"/><circle cx="129.1" cy="731.8" r="3.2"/><circle cx="305.2" cy="639.9" r="3.2"/><circle cx="143.6" cy="728.9" r="3.2"/><circle cx="296" cy="650.2" r="3.2"/><circle cx="168.4" cy="709.2" r="3.2"/><circle cx="95.8" cy="748.6" r="3.2"/><circle cx="174.5" cy="712.1" r="3.2"/><circle cx="183.2" cy="704.8" r="3.2"/><circle cx="114.9" cy="739.6" r="3.2"/><circle cx="134.8" cy="731.4" r="3.2"/><circle cx="85" cy="751.2" r="3.2"/><circle cx="228.8" cy="674.3" r="3.2"/><circle cx="158.1" cy="710.4" r="3.2"/><circle cx="300.5" cy="640.8" r="3.2"/><circle cx="90.9" cy="746.3" r="3.2"/><circle cx="161.8" cy="714.1" r="3.2"/><circle cx="245.9" cy="668.5" r="3.2"/><circle cx="108.3" cy="740" r="3.2"/><circle cx="53.9" cy="767" r="3.2"/><circle cx="75.5" cy="758.8" r="3.2"/><circle cx="100.7" cy="744.5" r="3.2"/><circle cx="99" cy="744" r="3.2"/><circle cx="237" cy="665.3" r="3.2"/><circle cx="176.5" cy="704.4" r="3.2"/><circle cx="78.1" cy="755.4" r="3.2"/><circle cx="254.9" cy="667.1" r="3.2"/><circle cx="107.7" cy="747.2" r="3.2"/><circle cx="233.2" cy="684.7" r="3.2"/><circle cx="280" cy="649.6" r="3.2"/><circle cx="249.9" cy="667.9" r="3.2"/><circle cx="227.1" cy="680.4" r="3.2"/><circle cx="164.7" cy="709.2" r="3.2"/><circle cx="139.7" cy="723.1" r="3.2"/><circle cx="173.3" cy="706.4" r="3.2"/><circle cx="185.6" cy="702.8" r="3.2"/><circle cx="281.6" cy="663.3" r="3.2"/><circle cx="78.1" cy="755.7" r="3.2"/><circle cx="145.4" cy="720.4" r="3.2"/><circle cx="285.2" cy="649.8" r="3.2"/><circle cx="151.5" cy="723.7" r="3.2"/><circle cx="244.5" cy="670.7" r="3.2"/><circle cx="215.1" cy="688.3" r="3.2"/><circle cx="241.4" cy="671.7" r="3.2"/><circle cx="108.8" cy="739.3" r="3.2"/><circle cx="281.4" cy="651.4" r="3.2"/><circle cx="125.5" cy="732" r="3.2"/><circle cx="148.3" cy="725" r="3.2"/><circle cx="164" cy="716.7" r="3.2"/><circle cx="169.1" cy="705.4" r="3.2"/><circle cx="140.8" cy="727.4" r="3.2"/><circle cx="145.8" cy="724.7" r="3.2"/><circle cx="252.9" cy="668.5" r="3.2"/><circle cx="64.3" cy="761.3" r="3.2"/><circle cx="201.9" cy="694.1" r="3.2"/><circle cx="207.3" cy="686.9" r="3.2"/><circle cx="288.5" cy="646.2" r="3.2"/><circle cx="136.9" cy="728.3" r="3.2"/><circle cx="255.1" cy="667" r="3.2"/><circle cx="137.6" cy="733" r="3.2"/><circle cx="54.7" cy="766.4" r="3.2"/><circle cx="134.6" cy="719.6" r="3.2"/><circle cx="80.4" cy="751.4" r="3.2"/><circle cx="54.8" cy="764.5" r="3.2"/><circle cx="253" cy="671.7" r="3.2"/><circle cx="183" cy="699.9" r="3.2"/><circle cx="133.2" cy="723.3" r="3.2"/><circle cx="162.1" cy="712.8" r="3.2"/><circle cx="58.8" cy="765.3" r="3.2"/><circle cx="118.7" cy="739.4" r="3.2"/><circle cx="77.5" cy="755.3" r="3.2"/><circle cx="108.3" cy="738.9" r="3.2"/><circle cx="173.2" cy="709" r="3.2"/><circle cx="83.6" cy="752.6" r="3.2"/><circle cx="92.5" cy="753.5" r="3.2"/><circle cx="159.3" cy="721.8" r="3.2"/><circle cx="181.2" cy="708.2" r="3.2"/><circle cx="86.7" cy="750.7" r="3.2"/><circle cx="71.4" cy="759.7" r="3.2"/><circle cx="142.2" cy="719.3" r="3.2"/><circle cx="239.5" cy="669.7" r="3.2"/><circle cx="57.3" cy="765.1" r="3.2"/><circle cx="220.2" cy="686" r="3.2"/><circle cx="179" cy="709.2" r="3.2"/><circle cx="131.6" cy="728.1" r="3.2"/><circle cx="224.7" cy="670.4" r="3.2"/><circle cx="96.7" cy="746.9" r="3.2"/><circle cx="257.2" cy="671.6" r="3.2"/><circle cx="201.9" cy="693.8" r="3.2"/><circle cx="132.2" cy="725.8" r="3.2"/><circle cx="162.6" cy="708.8" r="3.2"/><circle cx="58.1" cy="765.4" r="3.2"/><circle cx="62.3" cy="762" r="3.2"/><circle cx="55.1" cy="765.7" r="3.2"/><circle cx="198.8" cy="694.1" r="3.2"/><circle cx="155" cy="715.3" r="3.2"/><circle cx="100.5" cy="746.1" r="3.2"/><circle cx="177.3" cy="699.1" r="3.2"/><circle cx="155.6" cy="713.9" r="3.2"/><circle cx="305.6" cy="638.6" r="3.2"/><circle cx="56.6" cy="764.4" r="3.2"/><circle cx="78.3" cy="754.8" r="3.2"/><circle cx="187.4" cy="701.1" r="3.2"/><circle cx="196.5" cy="689.4" r="3.2"/><circle cx="205.6" cy="689.5" r="3.2"/><circle cx="84.4" cy="751.6" r="3.2"/><circle cx="169.8" cy="704.2" r="3.2"/><circle cx="61.8" cy="762.6" r="3.2"/><circle cx="65.6" cy="761.3" r="3.2"/><circle cx="108" cy="744.5" r="3.2"/><circle cx="115.4" cy="738.7" r="3.2"/><circle cx="52.4" cy="767.9" r="3.2"/><circle cx="87.6" cy="750.7" r="3.2"/><circle cx="146" cy="716.5" r="3.2"/><circle cx="240.9" cy="676.3" r="3.2"/><circle cx="120.7" cy="733.8" r="3.2"/><circle cx="185.9" cy="702.7" r="3.2"/><circle cx="61.7" cy="763.1" r="3.2"/><circle cx="252.2" cy="673.1" r="3.2"/><circle cx="174" cy="710.3" r="3.2"/><circle cx="48.5" cy="769.3" r="3.2"/><circle cx="153.8" cy="707.4" r="3.2"/><circle cx="235" cy="677.2" r="3.2"/><circle cx="278.9" cy="654.3" r="3.2"/><circle cx="119.3" cy="735.6" r="3.2"/><circle cx="85.9" cy="753.5" r="3.2"/><circle cx="281.9" cy="656.1" r="3.2"/><circle cx="300.6" cy="644.8" r="3.2"/><circle cx="274.8" cy="656.7" r="3.2"/><circle cx="70.3" cy="757" r="3.2"/><circle cx="259.3" cy="667.9" r="3.2"/><circle cx="135.4" cy="726.3" r="3.2"/><circle cx="147.7" cy="716.3" r="3.2"/><circle cx="106" cy="740.9" r="3.2"/><circle cx="237.9" cy="676.5" r="3.2"/><circle cx="229.1" cy="678.2" r="3.2"/><circle cx="79.1" cy="753.2" r="3.2"/><circle cx="69.6" cy="759.5" r="3.2"/><circle cx="182.4" cy="703" r="3.2"/><circle cx="111" cy="739.4" r="3.2"/><circle cx="53" cy="767.1" r="3.2"/><circle cx="294.4" cy="652.3" r="3.2"/><circle cx="201.4" cy="698.3" r="3.2"/><circle cx="206.3" cy="699" r="3.2"/><circle cx="280.9" cy="659.1" r="3.2"/><circle cx="152.2" cy="722.3" r="3.2"/><circle cx="255.4" cy="668.8" r="3.2"/><circle cx="208.9" cy="693.9" r="3.2"/><circle cx="181.1" cy="711.5" r="3.2"/><circle cx="55.9" cy="765.2" r="3.2"/><circle cx="92.4" cy="745.5" r="3.2"/><circle cx="200.4" cy="701.4" r="3.2"/><circle cx="194.9" cy="696.6" r="3.2"/><circle cx="88.5" cy="749.7" r="3.2"/><circle cx="271" cy="659.8" r="3.2"/><circle cx="64.6" cy="761" r="3.2"/><circle cx="51.3" cy="769" r="3.2"/><circle cx="108" cy="741.5" r="3.2"/><circle cx="136.7" cy="725.5" r="3.2"/><circle cx="96.6" cy="741.7" r="3.2"/><circle cx="127.4" cy="731.9" r="3.2"/><circle cx="224.1" cy="675" r="3.2"/><circle cx="149.4" cy="724.6" r="3.2"/><circle cx="59.5" cy="764.5" r="3.2"/><circle cx="200.8" cy="694" r="3.2"/><circle cx="188.4" cy="703.5" r="3.2"/><circle cx="106.1" cy="743.4" r="3.2"/><circle cx="73.1" cy="758.2" r="3.2"/><circle cx="194.7" cy="698.7" r="3.2"/><circle cx="219.3" cy="690.8" r="3.2"/><circle cx="276.6" cy="656.8" r="3.2"/><circle cx="212.5" cy="689.8" r="3.2"/><circle cx="261.5" cy="662.2" r="3.2"/><circle cx="277.8" cy="658.8" r="3.2"/><circle cx="208.7" cy="688" r="3.2"/><circle cx="273.5" cy="657.8" r="3.2"/><circle cx="79.9" cy="753.8" r="3.2"/><circle cx="257" cy="668" r="3.2"/><circle cx="168.8" cy="720" r="3.2"/><circle cx="82.2" cy="751.8" r="3.2"/><circle cx="177.1" cy="707.3" r="3.2"/><circle cx="69.1" cy="759.1" r="3.2"/><circle cx="97.5" cy="747" r="3.2"/><circle cx="287.9" cy="647.5" r="3.2"/><circle cx="87.8" cy="751" r="3.2"/><circle cx="297.6" cy="647.8" r="3.2"/><circle cx="68.5" cy="758.7" r="3.2"/><circle cx="59" cy="763.6" r="3.2"/><circle cx="120.2" cy="731.9" r="3.2"/><circle cx="67.7" cy="760" r="3.2"/><circle cx="67.8" cy="760.3" r="3.2"/><circle cx="169.4" cy="713.9" r="3.2"/><circle cx="68.9" cy="759.1" r="3.2"/><circle cx="281.5" cy="658.1" r="3.2"/><circle cx="86.1" cy="749.7" r="3.2"/><circle cx="84.4" cy="752.6" r="3.2"/><circle cx="196.6" cy="696.8" r="3.2"/><circle cx="48.6" cy="769.2" r="3.2"/><circle cx="257.2" cy="668.1" r="3.2"/><circle cx="66.7" cy="759.5" r="3.2"/><circle cx="179.2" cy="705.7" r="3.2"/><circle cx="110.9" cy="738.4" r="3.2"/><circle cx="88.1" cy="748.2" r="3.2"/><circle cx="146.2" cy="721.2" r="3.2"/><circle cx="63.5" cy="762" r="3.2"/><circle cx="107.5" cy="736.5" r="3.2"/><circle cx="281.2" cy="655.3" r="3.2"/><circle cx="189.5" cy="697.9" r="3.2"/><circle cx="170" cy="712.8" r="3.2"/><circle cx="142.7" cy="723.3" r="3.2"/><circle cx="275.5" cy="654.9" r="3.2"/><circle cx="137.8" cy="721.8" r="3.2"/><circle cx="100.1" cy="741.6" r="3.2"/><circle cx="121.7" cy="734.6" r="3.2"/><circle cx="76.2" cy="756.9" r="3.2"/><circle cx="104.4" cy="739.6" r="3.2"/><circle cx="137.3" cy="722.2" r="3.2"/><circle cx="105.9" cy="739.1" r="3.2"/><circle cx="188.7" cy="704.4" r="3.2"/><circle cx="62.2" cy="763" r="3.2"/><circle cx="209" cy="691.6" r="3.2"/><circle cx="93.2" cy="749.1" r="3.2"/><circle cx="102" cy="744.8" r="3.2"/><circle cx="137.7" cy="722.6" r="3.2"/><circle cx="263.8" cy="664.7" r="3.2"/><circle cx="258" cy="657.6" r="3.2"/><circle cx="101.9" cy="743.6" r="3.2"/><circle cx="225.5" cy="682.5" r="3.2"/><circle cx="85.7" cy="749.5" r="3.2"/><circle cx="102.1" cy="743.2" r="3.2"/><circle cx="212.1" cy="686.6" r="3.2"/><circle cx="288" cy="651.6" r="3.2"/><circle cx="156.7" cy="716.5" r="3.2"/><circle cx="245.6" cy="669.4" r="3.2"/><circle cx="240.1" cy="674" r="3.2"/><circle cx="151.3" cy="715.8" r="3.2"/><circle cx="82.2" cy="750" r="3.2"/><circle cx="219.3" cy="684.1" r="3.2"/><circle cx="63.2" cy="762" r="3.2"/><circle cx="156.9" cy="719.7" r="3.2"/><circle cx="273.5" cy="658.5" r="3.2"/><circle cx="306" cy="641.5" r="3.2"/><circle cx="104.8" cy="741.6" r="3.2"/><circle cx="148.7" cy="719.1" r="3.2"/><circle cx="86" cy="749.8" r="3.2"/><circle cx="206.5" cy="697.7" r="3.2"/><circle cx="231.8" cy="681.4" r="3.2"/><circle cx="104.4" cy="741.2" r="3.2"/><circle cx="158" cy="708.8" r="3.2"/><circle cx="91.9" cy="748" r="3.2"/><circle cx="196.5" cy="694.8" r="3.2"/><circle cx="53.6" cy="766.7" r="3.2"/><circle cx="241.1" cy="669.9" r="3.2"/><circle cx="52.8" cy="767.6" r="3.2"/><circle cx="100.6" cy="744.3" r="3.2"/><circle cx="185.6" cy="700.5" r="3.2"/><circle cx="144.8" cy="723" r="3.2"/><circle cx="234.4" cy="675.4" r="3.2"/><circle cx="291.5" cy="644.8" r="3.2"/><circle cx="176.3" cy="705.7" r="3.2"/><circle cx="148" cy="721.5" r="3.2"/><circle cx="142.6" cy="726.1" r="3.2"/><circle cx="203" cy="698.2" r="3.2"/><circle cx="266.5" cy="668.6" r="3.2"/><circle cx="291" cy="651.9" r="3.2"/><circle cx="54.3" cy="767.3" r="3.2"/><circle cx="181.1" cy="700.2" r="3.2"/><circle cx="138" cy="726" r="3.2"/><circle cx="68.5" cy="760.1" r="3.2"/><circle cx="276.3" cy="663.6" r="3.2"/><circle cx="267.2" cy="662.9" r="3.2"/><circle cx="202.8" cy="696.2" r="3.2"/><circle cx="267.1" cy="661.7" r="3.2"/><circle cx="62.6" cy="763" r="3.2"/><circle cx="167.6" cy="719.8" r="3.2"/><circle cx="131.1" cy="724" r="3.2"/><circle cx="132.4" cy="728.3" r="3.2"/><circle cx="105.1" cy="746.6" r="3.2"/><circle cx="86.3" cy="751.8" r="3.2"/><circle cx="127.2" cy="731.7" r="3.2"/><circle cx="114.8" cy="736.8" r="3.2"/><circle cx="225.7" cy="685.8" r="3.2"/><circle cx="259.2" cy="659.5" r="3.2"/><circle cx="208.2" cy="690.7" r="3.2"/><circle cx="205.1" cy="686.7" r="3.2"/><circle cx="102.6" cy="742.2" r="3.2"/><circle cx="240.7" cy="670.7" r="3.2"/><circle cx="143.1" cy="723.4" r="3.2"/><circle cx="271.4" cy="660.8" r="3.2"/><circle cx="282" cy="650.8" r="3.2"/><circle cx="268.9" cy="658" r="3.2"/><circle cx="207.7" cy="689.1" r="3.2"/><circle cx="131.6" cy="732.8" r="3.2"/><circle cx="227.2" cy="679.7" r="3.2"/><circle cx="131.8" cy="728.7" r="3.2"/><circle cx="61.3" cy="763" r="3.2"/><circle cx="142.2" cy="729.4" r="3.2"/><circle cx="74.1" cy="756.5" r="3.2"/><circle cx="281.9" cy="655.9" r="3.2"/><circle cx="260.4" cy="677.7" r="3.2"/><circle cx="77" cy="754.5" r="3.2"/><circle cx="91.1" cy="747.9" r="3.2"/><circle cx="130.8" cy="730" r="3.2"/><circle cx="273.2" cy="646.7" r="3.2"/><circle cx="115" cy="743.9" r="3.2"/><circle cx="164.5" cy="708.8" r="3.2"/><circle cx="254.6" cy="668.2" r="3.2"/><circle cx="220.2" cy="683.8" r="3.2"/><circle cx="258.5" cy="671.4" r="3.2"/><circle cx="189.6" cy="697.6" r="3.2"/><circle cx="113" cy="738.2" r="3.2"/><circle cx="303.6" cy="649.7" r="3.2"/><circle cx="288.5" cy="650.1" r="3.2"/><circle cx="174.5" cy="704.6" r="3.2"/><circle cx="208.3" cy="690.1" r="3.2"/><circle cx="178.4" cy="709.2" r="3.2"/><circle cx="63.3" cy="762.9" r="3.2"/><circle cx="100.2" cy="744" r="3.2"/><circle cx="102.8" cy="740.9" r="3.2"/><circle cx="286.6" cy="654.6" r="3.2"/><circle cx="267.2" cy="666.6" r="3.2"/><circle cx="171.3" cy="706.8" r="3.2"/><circle cx="225.3" cy="685.6" r="3.2"/><circle cx="172.9" cy="706.3" r="3.2"/><circle cx="131.1" cy="728.4" r="3.2"/><circle cx="84.2" cy="755.7" r="3.2"/><circle cx="287" cy="647.7" r="3.2"/><circle cx="133.5" cy="722.8" r="3.2"/><circle cx="286.7" cy="648.5" r="3.2"/><circle cx="263.1" cy="658.8" r="3.2"/><circle cx="239.6" cy="672.7" r="3.2"/><circle cx="203.4" cy="675.5" r="3.2"/><circle cx="178.3" cy="700.3" r="3.2"/><circle cx="269.8" cy="659.7" r="3.2"/><circle cx="160.4" cy="716.8" r="3.2"/><circle cx="264.9" cy="663.6" r="3.2"/><circle cx="282.4" cy="653.4" r="3.2"/><circle cx="178.2" cy="709" r="3.2"/><circle cx="223.5" cy="681.3" r="3.2"/><circle cx="168.6" cy="712" r="3.2"/><circle cx="247.4" cy="669" r="3.2"/><circle cx="48.5" cy="769.8" r="3.2"/><circle cx="75.9" cy="754.7" r="3.2"/><circle cx="113.2" cy="735.1" r="3.2"/><circle cx="293.3" cy="645.7" r="3.2"/><circle cx="89.8" cy="746.2" r="3.2"/><circle cx="86.1" cy="753" r="3.2"/><circle cx="174.6" cy="704.7" r="3.2"/><circle cx="106.6" cy="740.1" r="3.2"/><circle cx="248.6" cy="675.9" r="3.2"/><circle cx="172.7" cy="709" r="3.2"/><circle cx="90.5" cy="749.1" r="3.2"/><circle cx="148.4" cy="718.9" r="3.2"/><circle cx="244.3" cy="678.8" r="3.2"/><circle cx="63.6" cy="762.5" r="3.2"/><circle cx="242.7" cy="672.9" r="3.2"/><circle cx="165.9" cy="704.7" r="3.2"/><circle cx="148.8" cy="717.9" r="3.2"/><circle cx="70.1" cy="759.4" r="3.2"/><circle cx="110.4" cy="741.5" r="3.2"/><circle cx="59" cy="764.1" r="3.2"/><circle cx="156.8" cy="711.8" r="3.2"/><circle cx="64.2" cy="761.2" r="3.2"/><circle cx="171.4" cy="711.6" r="3.2"/><circle cx="193.7" cy="696.1" r="3.2"/><circle cx="224.2" cy="688.6" r="3.2"/><circle cx="176.7" cy="703.4" r="3.2"/><circle cx="122.8" cy="734" r="3.2"/><circle cx="94.7" cy="748.2" r="3.2"/><circle cx="294.8" cy="651.9" r="3.2"/><circle cx="111.9" cy="745.6" r="3.2"/><circle cx="78.5" cy="753" r="3.2"/><circle cx="262.1" cy="662.5" r="3.2"/><circle cx="188" cy="704.3" r="3.2"/><circle cx="184.2" cy="705.6" r="3.2"/><circle cx="68.3" cy="758.1" r="3.2"/><circle cx="80" cy="754.5" r="3.2"/><circle cx="98.5" cy="743.7" r="3.2"/><circle cx="56.6" cy="766.2" r="3.2"/><circle cx="185.8" cy="705.4" r="3.2"/><circle cx="103" cy="742.8" r="3.2"/><circle cx="170.5" cy="710" r="3.2"/><circle cx="90" cy="747.6" r="3.2"/><circle cx="83.6" cy="753.6" r="3.2"/><circle cx="92.7" cy="747.2" r="3.2"/><circle cx="239" cy="678.1" r="3.2"/><circle cx="187.4" cy="714.8" r="3.2"/><circle cx="77.5" cy="753.8" r="3.2"/><circle cx="59.7" cy="763.4" r="3.2"/><circle cx="132" cy="725.3" r="3.2"/><circle cx="130.2" cy="728.4" r="3.2"/><circle cx="101.2" cy="745.1" r="3.2"/><circle cx="250.1" cy="672.3" r="3.2"/><circle cx="69.1" cy="759" r="3.2"/><circle cx="96.1" cy="747.2" r="3.2"/><circle cx="143.8" cy="719.6" r="3.2"/><circle cx="176.3" cy="702.1" r="3.2"/><circle cx="303.5" cy="643" r="3.2"/><circle cx="66.8" cy="759.8" r="3.2"/><circle cx="79.9" cy="755.4" r="3.2"/><circle cx="266.4" cy="659.9" r="3.2"/><circle cx="154.8" cy="714.4" r="3.2"/><circle cx="110.2" cy="739.2" r="3.2"/><circle cx="54.3" cy="766.8" r="3.2"/><circle cx="236.4" cy="678.3" r="3.2"/><circle cx="273.6" cy="657.1" r="3.2"/><circle cx="129.3" cy="732.4" r="3.2"/><circle cx="244" cy="685.1" r="3.2"/><circle cx="78.7" cy="754.9" r="3.2"/><circle cx="259.8" cy="668.9" r="3.2"/><circle cx="111.5" cy="738.1" r="3.2"/><circle cx="266.4" cy="667.6" r="3.2"/><circle cx="166" cy="714.3" r="3.2"/><circle cx="263.1" cy="659.5" r="3.2"/><circle cx="87.1" cy="750.5" r="3.2"/><circle cx="182.4" cy="704.2" r="3.2"/><circle cx="103.3" cy="742.9" r="3.2"/><circle cx="188.9" cy="703.9" r="3.2"/><circle cx="52.1" cy="768.5" r="3.2"/><circle cx="269.6" cy="656.7" r="3.2"/><circle cx="136.1" cy="727.2" r="3.2"/><circle cx="123.3" cy="731.2" r="3.2"/><circle cx="148.7" cy="717" r="3.2"/><circle cx="302.1" cy="644.8" r="3.2"/><circle cx="143.7" cy="729.6" r="3.2"/><circle cx="250.8" cy="671.9" r="3.2"/><circle cx="95.2" cy="746.5" r="3.2"/><circle cx="160.8" cy="716.1" r="3.2"/><circle cx="78.8" cy="753.3" r="3.2"/><circle cx="76.8" cy="755.5" r="3.2"/><circle cx="73.3" cy="756.4" r="3.2"/><circle cx="282.4" cy="651.5" r="3.2"/><circle cx="110.3" cy="731.6" r="3.2"/><circle cx="225" cy="680.9" r="3.2"/><circle cx="264.4" cy="671.9" r="3.2"/><circle cx="102.4" cy="744.1" r="3.2"/><circle cx="253.4" cy="672.2" r="3.2"/><circle cx="49.6" cy="769.5" r="3.2"/><circle cx="65.6" cy="761.2" r="3.2"/><circle cx="197.7" cy="688.6" r="3.2"/><circle cx="251.7" cy="667.4" r="3.2"/><circle cx="248.9" cy="666.7" r="3.2"/><circle cx="292.4" cy="648.1" r="3.2"/><circle cx="140.1" cy="724.3" r="3.2"/><circle cx="213.4" cy="688.4" r="3.2"/><circle cx="77.7" cy="754.5" r="3.2"/><circle cx="48.9" cy="768.6" r="3.2"/><circle cx="299.1" cy="645.6" r="3.2"/><circle cx="211.9" cy="689.6" r="3.2"/><circle cx="279.2" cy="650.7" r="3.2"/><circle cx="183.1" cy="704.3" r="3.2"/><circle cx="302.4" cy="641.1" r="3.2"/><circle cx="88.8" cy="751.8" r="3.2"/><circle cx="244.9" cy="669.7" r="3.2"/><circle cx="251" cy="680.2" r="3.2"/><circle cx="55" cy="767.5" r="3.2"/><circle cx="127" cy="726.6" r="3.2"/><circle cx="81.9" cy="758.8" r="3.2"/><circle cx="50.4" cy="769" r="3.2"/><circle cx="264" cy="667.3" r="3.2"/><circle cx="106.4" cy="739" r="3.2"/><circle cx="71.8" cy="758.2" r="3.2"/><circle cx="275.1" cy="660" r="3.2"/><circle cx="75.8" cy="753.9" r="3.2"/><circle cx="225.2" cy="684.5" r="3.2"/><circle cx="150.7" cy="716.8" r="3.2"/><circle cx="274.2" cy="661" r="3.2"/><circle cx="149.2" cy="719.8" r="3.2"/><circle cx="293.4" cy="652.1" r="3.2"/><circle cx="100.9" cy="745.7" r="3.2"/><circle cx="211.3" cy="690.1" r="3.2"/><circle cx="130.5" cy="728.6" r="3.2"/><circle cx="67.7" cy="760" r="3.2"/><circle cx="195" cy="700.1" r="3.2"/><circle cx="218.3" cy="681.4" r="3.2"/><circle cx="197.5" cy="697.4" r="3.2"/><circle cx="194.9" cy="699.8" r="3.2"/><circle cx="241.9" cy="666.2" r="3.2"/><circle cx="278" cy="660.4" r="3.2"/><circle cx="198.4" cy="696" r="3.2"/><circle cx="165" cy="714.2" r="3.2"/><circle cx="210.5" cy="680.8" r="3.2"/><circle cx="101.9" cy="742.6" r="3.2"/><circle cx="52.2" cy="767.7" r="3.2"/><circle cx="136.2" cy="728.7" r="3.2"/><circle cx="238.6" cy="669.6" r="3.2"/><circle cx="223" cy="680.3" r="3.2"/><circle cx="245.3" cy="670.4" r="3.2"/><circle cx="193.7" cy="691.9" r="3.2"/><circle cx="77" cy="754.9" r="3.2"/><circle cx="286.6" cy="654.8" r="3.2"/><circle cx="69.6" cy="760.4" r="3.2"/><circle cx="89.3" cy="747.7" r="3.2"/><circle cx="52.8" cy="767" r="3.2"/><circle cx="88.9" cy="749.6" r="3.2"/><circle cx="55.8" cy="766.6" r="3.2"/><circle cx="205.5" cy="687.6" r="3.2"/><circle cx="232.7" cy="673.2" r="3.2"/><circle cx="292.8" cy="664.1" r="3.2"/><circle cx="140.1" cy="728.6" r="3.2"/><circle cx="284.8" cy="652.9" r="3.2"/><circle cx="118.8" cy="738.3" r="3.2"/><circle cx="59.4" cy="764.3" r="3.2"/><circle cx="146.2" cy="717.8" r="3.2"/><circle cx="254.2" cy="668.7" r="3.2"/><circle cx="208.6" cy="692.8" r="3.2"/><circle cx="73.3" cy="759.4" r="3.2"/><circle cx="193.7" cy="697.6" r="3.2"/><circle cx="76.6" cy="756.2" r="3.2"/><circle cx="90.5" cy="750.7" r="3.2"/><circle cx="305.1" cy="643.9" r="3.2"/><circle cx="200.9" cy="693.7" r="3.2"/><circle cx="123" cy="740.4" r="3.2"/><circle cx="78.5" cy="755.4" r="3.2"/><circle cx="269.6" cy="663.9" r="3.2"/><circle cx="255.8" cy="671.9" r="3.2"/><circle cx="222.4" cy="687.4" r="3.2"/><circle cx="63.9" cy="762.8" r="3.2"/><circle cx="214.9" cy="686.8" r="3.2"/><circle cx="165.1" cy="708.1" r="3.2"/><circle cx="229" cy="670.2" r="3.2"/><circle cx="82.8" cy="751" r="3.2"/><circle cx="298" cy="629.6" r="3.2"/><circle cx="299.5" cy="636.2" r="3.2"/><circle cx="307.5" cy="639.9" r="3.2"/><circle cx="309" cy="647.2" r="3.2"/><circle cx="314.1" cy="646.4" r="3.2"/><circle cx="317" cy="658.1" r="3.2"/><circle cx="319.2" cy="623.8" r="3.2"/><circle cx="318.5" cy="636.2" r="3.2"/><circle cx="322.1" cy="645.7" r="3.2"/><circle cx="322.8" cy="650.1" r="3.2"/><circle cx="325" cy="623.8" r="3.2"/><circle cx="326.5" cy="630.4" r="3.2"/><circle cx="328.7" cy="641.3" r="3.2"/><circle cx="331.6" cy="622.3" r="3.2"/><circle cx="333.8" cy="635.5" r="3.2"/><circle cx="335.3" cy="622.3" r="3.2"/><circle cx="336.7" cy="638.4" r="3.2"/><circle cx="338.9" cy="628.2" r="3.2"/><circle cx="341.1" cy="623.8" r="3.2"/><circle cx="342.6" cy="614.3" r="3.2"/><circle cx="344" cy="619.4" r="3.2"/><circle cx="345.5" cy="608.5" r="3.2"/><circle cx="347.7" cy="617.2" r="3.2"/><circle cx="348.4" cy="635.5" r="3.2"/><circle cx="349.9" cy="621.6" r="3.2"/><circle cx="352.8" cy="629.6" r="3.2"/><circle cx="352" cy="618.7" r="3.2"/><circle cx="356.4" cy="618.7" r="3.2"/><circle cx="357.9" cy="605.5" r="3.2"/><circle cx="358.6" cy="625.3" r="3.2"/><circle cx="360.1" cy="612.8" r="3.2"/><circle cx="362.3" cy="614.3" r="3.2"/><circle cx="365.9" cy="603.4" r="3.2"/><circle cx="367.4" cy="607" r="3.2"/><circle cx="369.6" cy="615" r="3.2"/><circle cx="371" cy="636.2" r="3.2"/><circle cx="373.9" cy="609.2" r="3.2"/><circle cx="376.1" cy="614.3" r="3.2"/><circle cx="379.1" cy="597.5" r="3.2"/><circle cx="380.5" cy="609.2" r="3.2"/><circle cx="383.4" cy="604.8" r="3.2"/><circle cx="384.2" cy="615.8" r="3.2"/><circle cx="386.4" cy="599" r="3.2"/><circle cx="388.5" cy="611.4" r="3.2"/><circle cx="385" cy="600.1" r="3.2"/><circle cx="387.9" cy="604.5" r="3.2"/><circle cx="389.4" cy="594.2" r="3.2"/><circle cx="393.8" cy="592.8" r="3.2"/><circle cx="393" cy="598.6" r="3.2"/><circle cx="396.7" cy="604.5" r="3.2"/><circle cx="399.6" cy="594.2" r="3.2"/><circle cx="401.1" cy="600.1" r="3.2"/><circle cx="404" cy="595" r="3.2"/><circle cx="414.2" cy="589.9" r="3.2"/><circle cx="414.9" cy="587.7" r="3.2"/><circle cx="417.8" cy="581.8" r="3.2"/><circle cx="424.4" cy="576.7" r="3.2"/><circle cx="426.6" cy="586.2" r="3.2"/><circle cx="430.3" cy="575.3" r="3.2"/><circle cx="431" cy="568" r="3.2"/><circle cx="431.7" cy="555.5" r="3.2"/><circle cx="434.6" cy="583.3" r="3.2"/><circle cx="436.1" cy="576.7" r="3.2"/><circle cx="436.8" cy="565" r="3.2"/><circle cx="436.8" cy="570.1" r="3.2"/><circle cx="439.7" cy="573.8" r="3.2"/><circle cx="443.4" cy="570.9" r="3.2"/><circle cx="444.1" cy="576.7" r="3.2"/><circle cx="446.3" cy="573.8" r="3.2"/><circle cx="447.8" cy="561.4" r="3.2"/><circle cx="450" cy="553.4" r="3.2"/><circle cx="450" cy="568" r="3.2"/><circle cx="452.9" cy="573.8" r="3.2"/><circle cx="455.1" cy="559.2" r="3.2"/><circle cx="456.5" cy="565.8" r="3.2"/><circle cx="458" cy="553.4" r="3.2"/><circle cx="458.7" cy="573.8" r="3.2"/><circle cx="460.9" cy="560.7" r="3.2"/><circle cx="459.5" cy="580.4" r="3.2"/><circle cx="463.8" cy="568.7" r="3.2"/><circle cx="468.2" cy="538.8" r="3.2"/><circle cx="468.2" cy="557.7" r="3.2"/><circle cx="469.7" cy="552.6" r="3.2"/><circle cx="472.6" cy="568" r="3.2"/><circle cx="474.1" cy="557" r="3.2"/><circle cx="475.5" cy="549.7" r="3.2"/><circle cx="478.4" cy="568.7" r="3.2"/><circle cx="481.4" cy="549.7" r="3.2"/><circle cx="482.8" cy="557.7" r="3.2"/><circle cx="485" cy="537.3" r="3.2"/><circle cx="481.5" cy="550.1" r="3.2"/><circle cx="482.9" cy="557.4" r="3.2"/><circle cx="486.6" cy="536.9" r="3.2"/><circle cx="490.2" cy="541.3" r="3.2"/><circle cx="489.5" cy="545.7" r="3.2"/><circle cx="494.6" cy="547.2" r="3.2"/><circle cx="495.3" cy="554.5" r="3.2"/><circle cx="498.2" cy="553" r="3.2"/><circle cx="500.4" cy="541.3" r="3.2"/><circle cx="503.4" cy="535.5" r="3.2"/><circle cx="504.8" cy="546.4" r="3.2"/><circle cx="507.7" cy="548.6" r="3.2"/><circle cx="509.2" cy="554.5" r="3.2"/><circle cx="512.1" cy="547.2" r="3.2"/><circle cx="513.6" cy="526.7" r="3.2"/><circle cx="515" cy="547.2" r="3.2"/><circle cx="518" cy="541.3" r="3.2"/><circle cx="520.9" cy="535.5" r="3.2"/><circle cx="523.8" cy="532.6" r="3.2"/><circle cx="525.3" cy="519.4" r="3.2"/><circle cx="526.7" cy="526.7" r="3.2"/><circle cx="528.2" cy="536.9" r="3.2"/><circle cx="530.4" cy="523.8" r="3.2"/><circle cx="532.6" cy="539.9" r="3.2"/><circle cx="534" cy="518.7" r="3.2"/><circle cx="539.9" cy="532.6" r="3.2"/><circle cx="541.3" cy="546.4" r="3.2"/><circle cx="542.8" cy="520.9" r="3.2"/><circle cx="544.2" cy="505.5" r="3.2"/><circle cx="545" cy="512.1" r="3.2"/><circle cx="547.2" cy="486.6" r="3.2"/><circle cx="549.3" cy="528.2" r="3.2"/><circle cx="551.5" cy="516.5" r="3.2"/><circle cx="553" cy="529.6" r="3.2"/><circle cx="555.2" cy="513.6" r="3.2"/><circle cx="555.9" cy="503.4" r="3.2"/><circle cx="555.9" cy="523.8" r="3.2"/><circle cx="556.6" cy="530.4" r="3.2"/><circle cx="556.6" cy="544.2" r="3.2"/><circle cx="561.8" cy="515" r="3.2"/><circle cx="563.9" cy="531.1" r="3.2"/><circle cx="566.1" cy="504.1" r="3.2"/><circle cx="575.6" cy="518.7" r="3.2"/><circle cx="578.5" cy="494.6" r="3.2"/><circle cx="579.3" cy="507.7" r="3.2"/><circle cx="579.3" cy="494.5" r="3.2"/><circle cx="578.8" cy="508.5" r="3.2"/><circle cx="575.8" cy="518.5" r="3.2"/><circle cx="581.7" cy="516.1" r="3.2"/><circle cx="582.8" cy="520.8" r="3.2"/><circle cx="599.8" cy="515.5" r="3.2"/><circle cx="602.7" cy="482.8" r="3.2"/><circle cx="609.1" cy="497.4" r="3.2"/><circle cx="614.4" cy="486.4" r="3.2"/><circle cx="614.4" cy="508.5" r="3.2"/><circle cx="619.6" cy="491.6" r="3.2"/><circle cx="622" cy="488.7" r="3.2"/><circle cx="624.9" cy="479.9" r="3.2"/><circle cx="640.7" cy="492.2" r="3.2"/>
</g>
<g fill="#ffff00" stroke="#f0a000" stroke-width="0.85">
<circle cx="117.6" cy="741.8" r="3.2"/><circle cx="187.9" cy="701.1" r="3.2"/><circle cx="128.2" cy="728.4" r="3.2"/><circle cx="57.5" cy="765.1" r="3.2"/><circle cx="235.1" cy="673.6" r="3.2"/><circle cx="70" cy="758.9" r="3.2"/><circle cx="296.5" cy="646.3" r="3.2"/><circle cx="151" cy="716.3" r="3.2"/><circle cx="239.5" cy="658.5" r="3.2"/><circle cx="101.3" cy="741.7" r="3.2"/><circle cx="172.4" cy="705.3" r="3.2"/><circle cx="233.3" cy="677" r="3.2"/><circle cx="201.8" cy="699.6" r="3.2"/><circle cx="220" cy="686" r="3.2"/><circle cx="185.9" cy="713.8" r="3.2"/><circle cx="79.5" cy="755.9" r="3.2"/><circle cx="161.9" cy="716.9" r="3.2"/><circle cx="158.6" cy="716.7" r="3.2"/><circle cx="157.6" cy="715.8" r="3.2"/><circle cx="288.1" cy="649.6" r="3.2"/><circle cx="179" cy="708.9" r="3.2"/><circle cx="98.8" cy="746.2" r="3.2"/><circle cx="244.5" cy="671.8" r="3.2"/><circle cx="195.4" cy="692.5" r="3.2"/><circle cx="283.7" cy="651" r="3.2"/><circle cx="149.9" cy="720.1" r="3.2"/><circle cx="205.5" cy="690" r="3.2"/><circle cx="263.7" cy="665.1" r="3.2"/><circle cx="78.5" cy="753.4" r="3.2"/><circle cx="102.1" cy="743.6" r="3.2"/><circle cx="276.7" cy="661.1" r="3.2"/><circle cx="63.6" cy="762.4" r="3.2"/><circle cx="251.5" cy="665.5" r="3.2"/><circle cx="195.8" cy="692.4" r="3.2"/><circle cx="149.3" cy="716.7" r="3.2"/><circle cx="152" cy="722.3" r="3.2"/><circle cx="52.8" cy="767.8" r="3.2"/><circle cx="75.8" cy="756.2" r="3.2"/><circle cx="296.1" cy="649.7" r="3.2"/><circle cx="184.9" cy="707.8" r="3.2"/><circle cx="157.5" cy="714.2" r="3.2"/><circle cx="85" cy="751.9" r="3.2"/><circle cx="114.3" cy="735.9" r="3.2"/><circle cx="105.7" cy="743.4" r="3.2"/><circle cx="61.8" cy="764.1" r="3.2"/><circle cx="99.5" cy="744.5" r="3.2"/><circle cx="177.7" cy="715.3" r="3.2"/><circle cx="253.7" cy="677.7" r="3.2"/><circle cx="171.6" cy="711.6" r="3.2"/><circle cx="65.6" cy="762" r="3.2"/><circle cx="151" cy="716.4" r="3.2"/><circle cx="263.1" cy="663.6" r="3.2"/><circle cx="273.4" cy="663.4" r="3.2"/><circle cx="128.7" cy="730.4" r="3.2"/><circle cx="99" cy="743.2" r="3.2"/><circle cx="228.4" cy="678" r="3.2"/><circle cx="138" cy="725" r="3.2"/><circle cx="76" cy="755.5" r="3.2"/><circle cx="216" cy="692.7" r="3.2"/><circle cx="165" cy="705.8" r="3.2"/><circle cx="272.4" cy="665" r="3.2"/><circle cx="115.8" cy="737.7" r="3.2"/><circle cx="200.8" cy="695.2" r="3.2"/><circle cx="164.9" cy="708.9" r="3.2"/><circle cx="224.1" cy="679.3" r="3.2"/><circle cx="256.3" cy="668.9" r="3.2"/><circle cx="216.8" cy="685.1" r="3.2"/><circle cx="110" cy="737" r="3.2"/><circle cx="139.2" cy="728.4" r="3.2"/><circle cx="238" cy="673.2" r="3.2"/><circle cx="271.9" cy="662.4" r="3.2"/><circle cx="279.3" cy="648.4" r="3.2"/><circle cx="210.2" cy="688.9" r="3.2"/><circle cx="142.3" cy="722.8" r="3.2"/><circle cx="216.9" cy="685.2" r="3.2"/><circle cx="160.5" cy="714.9" r="3.2"/><circle cx="95.8" cy="746.3" r="3.2"/><circle cx="182.6" cy="697.9" r="3.2"/><circle cx="210.9" cy="693.1" r="3.2"/><circle cx="198.8" cy="698.8" r="3.2"/><circle cx="258.5" cy="662.2" r="3.2"/><circle cx="240.6" cy="674.8" r="3.2"/><circle cx="207.9" cy="694.3" r="3.2"/><circle cx="102" cy="742.2" r="3.2"/><circle cx="137.2" cy="716.7" r="3.2"/><circle cx="82.6" cy="753.3" r="3.2"/><circle cx="53.2" cy="767.6" r="3.2"/><circle cx="133.7" cy="727" r="3.2"/><circle cx="55.1" cy="766.5" r="3.2"/><circle cx="138.8" cy="721.3" r="3.2"/><circle cx="269.7" cy="661.6" r="3.2"/><circle cx="236.5" cy="678.1" r="3.2"/><circle cx="201.4" cy="694.3" r="3.2"/><circle cx="197.7" cy="695.9" r="3.2"/><circle cx="183.4" cy="705.6" r="3.2"/><circle cx="224.2" cy="682.2" r="3.2"/><circle cx="63.5" cy="762.1" r="3.2"/><circle cx="92.5" cy="747.8" r="3.2"/><circle cx="188.9" cy="696.4" r="3.2"/><circle cx="254.4" cy="667.8" r="3.2"/><circle cx="241.9" cy="671.1" r="3.2"/><circle cx="172.3" cy="709.4" r="3.2"/><circle cx="123.9" cy="733.7" r="3.2"/><circle cx="83.9" cy="752" r="3.2"/><circle cx="257.6" cy="664.4" r="3.2"/><circle cx="247.1" cy="669.3" r="3.2"/><circle cx="163.4" cy="710.7" r="3.2"/><circle cx="48.2" cy="769.6" r="3.2"/><circle cx="62.9" cy="762.7" r="3.2"/><circle cx="164" cy="711.8" r="3.2"/><circle cx="90.4" cy="749.1" r="3.2"/><circle cx="173.8" cy="705.8" r="3.2"/><circle cx="223.7" cy="683.1" r="3.2"/><circle cx="233.2" cy="678.6" r="3.2"/><circle cx="90.5" cy="748.2" r="3.2"/><circle cx="123.8" cy="729.4" r="3.2"/><circle cx="265.8" cy="662.4" r="3.2"/><circle cx="220.4" cy="680.7" r="3.2"/><circle cx="51.4" cy="767.4" r="3.2"/><circle cx="125.2" cy="730" r="3.2"/><circle cx="246.7" cy="672.2" r="3.2"/><circle cx="55.7" cy="765.3" r="3.2"/><circle cx="84.4" cy="748.1" r="3.2"/><circle cx="191.8" cy="699.4" r="3.2"/><circle cx="229.2" cy="682" r="3.2"/><circle cx="127.5" cy="732.1" r="3.2"/><circle cx="122.5" cy="735.2" r="3.2"/><circle cx="197.4" cy="685.1" r="3.2"/><circle cx="251" cy="669.3" r="3.2"/><circle cx="191.8" cy="701.6" r="3.2"/><circle cx="247.7" cy="670" r="3.2"/><circle cx="261.9" cy="664.8" r="3.2"/><circle cx="75" cy="756.2" r="3.2"/><circle cx="207.1" cy="691.2" r="3.2"/><circle cx="172.9" cy="713.4" r="3.2"/><circle cx="151.9" cy="724.6" r="3.2"/><circle cx="55.6" cy="765.8" r="3.2"/><circle cx="222.4" cy="682.5" r="3.2"/><circle cx="232.4" cy="679.7" r="3.2"/><circle cx="180.8" cy="716" r="3.2"/><circle cx="95.1" cy="745.6" r="3.2"/><circle cx="83.6" cy="751.9" r="3.2"/><circle cx="60" cy="763.8" r="3.2"/><circle cx="280.4" cy="649.4" r="3.2"/><circle cx="156.6" cy="720.1" r="3.2"/><circle cx="81.9" cy="754.5" r="3.2"/><circle cx="93.5" cy="746.4" r="3.2"/><circle cx="67.4" cy="761.7" r="3.2"/><circle cx="250.8" cy="666.8" r="3.2"/><circle cx="148.3" cy="721.1" r="3.2"/><circle cx="241.9" cy="675.4" r="3.2"/><circle cx="250.6" cy="667.3" r="3.2"/><circle cx="85" cy="752" r="3.2"/><circle cx="54.7" cy="766.3" r="3.2"/><circle cx="56.4" cy="765.1" r="3.2"/><circle cx="85.5" cy="750.4" r="3.2"/><circle cx="238.4" cy="678.3" r="3.2"/><circle cx="50.9" cy="768.6" r="3.2"/><circle cx="61.4" cy="763.6" r="3.2"/><circle cx="194.9" cy="688.1" r="3.2"/><circle cx="92.8" cy="750" r="3.2"/><circle cx="293.4" cy="649.2" r="3.2"/><circle cx="72.1" cy="757.6" r="3.2"/><circle cx="202.8" cy="695.6" r="3.2"/><circle cx="162.7" cy="714.5" r="3.2"/><circle cx="260.1" cy="662.1" r="3.2"/><circle cx="297.8" cy="653.5" r="3.2"/><circle cx="266.1" cy="664.6" r="3.2"/><circle cx="145.8" cy="720.5" r="3.2"/><circle cx="88.3" cy="750.9" r="3.2"/><circle cx="142.8" cy="723.5" r="3.2"/><circle cx="248.8" cy="672.4" r="3.2"/><circle cx="295.1" cy="638.8" r="3.2"/><circle cx="171.8" cy="710.1" r="3.2"/><circle cx="268.8" cy="660.8" r="3.2"/><circle cx="181" cy="704.2" r="3.2"/><circle cx="186.2" cy="704.4" r="3.2"/><circle cx="48.9" cy="768.9" r="3.2"/><circle cx="147.2" cy="726.3" r="3.2"/><circle cx="102.2" cy="742.5" r="3.2"/><circle cx="86.1" cy="753.6" r="3.2"/><circle cx="275.3" cy="656.3" r="3.2"/><circle cx="215.8" cy="686.4" r="3.2"/><circle cx="102.6" cy="741.9" r="3.2"/><circle cx="93.7" cy="745.4" r="3.2"/><circle cx="60.7" cy="763.3" r="3.2"/><circle cx="173.2" cy="708.3" r="3.2"/><circle cx="128.2" cy="727.8" r="3.2"/><circle cx="197.7" cy="696" r="3.2"/><circle cx="71.5" cy="758.4" r="3.2"/><circle cx="286.4" cy="652.4" r="3.2"/><circle cx="290.6" cy="643.1" r="3.2"/><circle cx="177.4" cy="706.9" r="3.2"/><circle cx="63.3" cy="762.5" r="3.2"/><circle cx="135.3" cy="730" r="3.2"/><circle cx="263.3" cy="661" r="3.2"/><circle cx="64.1" cy="761.6" r="3.2"/><circle cx="257.9" cy="668" r="3.2"/><circle cx="193.7" cy="703.5" r="3.2"/><circle cx="268.7" cy="664.8" r="3.2"/><circle cx="205.8" cy="689.2" r="3.2"/><circle cx="182.4" cy="708.2" r="3.2"/><circle cx="212.6" cy="687.8" r="3.2"/><circle cx="54.6" cy="767.3" r="3.2"/><circle cx="137.6" cy="728.1" r="3.2"/><circle cx="272.4" cy="663.1" r="3.2"/><circle cx="165.5" cy="713.6" r="3.2"/><circle cx="100.1" cy="746.7" r="3.2"/><circle cx="53.7" cy="767.3" r="3.2"/><circle cx="146.4" cy="716.9" r="3.2"/><circle cx="169.8" cy="713.3" r="3.2"/><circle cx="171.1" cy="711.3" r="3.2"/><circle cx="244.8" cy="669.5" r="3.2"/><circle cx="97.8" cy="746.9" r="3.2"/><circle cx="80.2" cy="752.4" r="3.2"/><circle cx="277" cy="657.6" r="3.2"/><circle cx="233.4" cy="680.2" r="3.2"/><circle cx="52.4" cy="767.7" r="3.2"/><circle cx="60.4" cy="764.8" r="3.2"/><circle cx="84.2" cy="752.2" r="3.2"/><circle cx="278.5" cy="659.6" r="3.2"/><circle cx="188.5" cy="701.9" r="3.2"/><circle cx="229.7" cy="679.9" r="3.2"/><circle cx="112.3" cy="736.6" r="3.2"/><circle cx="72.6" cy="757.5" r="3.2"/><circle cx="47.5" cy="770.2" r="3.2"/><circle cx="116" cy="735.9" r="3.2"/><circle cx="143.1" cy="723" r="3.2"/><circle cx="302.1" cy="644.5" r="3.2"/><circle cx="201.5" cy="699.1" r="3.2"/><circle cx="193.7" cy="690.3" r="3.2"/><circle cx="184.6" cy="703" r="3.2"/><circle cx="183.6" cy="700.5" r="3.2"/><circle cx="63.7" cy="761.1" r="3.2"/><circle cx="90.4" cy="748.8" r="3.2"/><circle cx="130.3" cy="728.6" r="3.2"/><circle cx="191" cy="700.5" r="3.2"/><circle cx="63.4" cy="761.9" r="3.2"/><circle cx="289.1" cy="644.2" r="3.2"/><circle cx="121.1" cy="733.8" r="3.2"/><circle cx="296.1" cy="648.6" r="3.2"/><circle cx="66.7" cy="761.1" r="3.2"/><circle cx="253.8" cy="667.8" r="3.2"/><circle cx="260.1" cy="668.8" r="3.2"/><circle cx="93.9" cy="745.9" r="3.2"/><circle cx="158.3" cy="712.4" r="3.2"/><circle cx="98.3" cy="747" r="3.2"/><circle cx="99.8" cy="745.5" r="3.2"/><circle cx="57" cy="765.3" r="3.2"/><circle cx="269.4" cy="658.6" r="3.2"/><circle cx="248.9" cy="672.7" r="3.2"/><circle cx="254.9" cy="664.3" r="3.2"/><circle cx="160.2" cy="710.1" r="3.2"/><circle cx="157.5" cy="723.7" r="3.2"/><circle cx="73.3" cy="757.4" r="3.2"/><circle cx="177.1" cy="708.6" r="3.2"/><circle cx="58.8" cy="764.5" r="3.2"/><circle cx="193.1" cy="695.1" r="3.2"/><circle cx="172.8" cy="715.4" r="3.2"/><circle cx="60.3" cy="763.6" r="3.2"/><circle cx="65.6" cy="761.1" r="3.2"/><circle cx="131.6" cy="729.8" r="3.2"/><circle cx="146" cy="722.9" r="3.2"/><circle cx="51" cy="768.5" r="3.2"/><circle cx="63" cy="762.1" r="3.2"/><circle cx="87.6" cy="754" r="3.2"/><circle cx="127.4" cy="731.8" r="3.2"/><circle cx="204.3" cy="686.6" r="3.2"/><circle cx="63.3" cy="761.9" r="3.2"/><circle cx="132.6" cy="735.4" r="3.2"/><circle cx="211.5" cy="684.9" r="3.2"/><circle cx="150.4" cy="721.3" r="3.2"/><circle cx="139.5" cy="726.2" r="3.2"/><circle cx="139.9" cy="722.5" r="3.2"/><circle cx="119.9" cy="734.2" r="3.2"/><circle cx="114.6" cy="738.2" r="3.2"/><circle cx="149.9" cy="721.6" r="3.2"/><circle cx="50.5" cy="768.5" r="3.2"/><circle cx="72.6" cy="757.3" r="3.2"/><circle cx="104.6" cy="741.2" r="3.2"/><circle cx="93.4" cy="746.6" r="3.2"/><circle cx="108.7" cy="738.3" r="3.2"/><circle cx="221.6" cy="682.8" r="3.2"/><circle cx="94.9" cy="748.7" r="3.2"/><circle cx="149.8" cy="716.8" r="3.2"/><circle cx="178.3" cy="704.9" r="3.2"/><circle cx="86" cy="749" r="3.2"/><circle cx="137.1" cy="726" r="3.2"/><circle cx="224" cy="682.6" r="3.2"/><circle cx="226.5" cy="677.4" r="3.2"/><circle cx="188.8" cy="699.3" r="3.2"/><circle cx="211.5" cy="689.3" r="3.2"/><circle cx="119.8" cy="736.2" r="3.2"/><circle cx="135" cy="725.5" r="3.2"/><circle cx="111.1" cy="740.1" r="3.2"/><circle cx="247.1" cy="672.7" r="3.2"/><circle cx="225.6" cy="683" r="3.2"/><circle cx="233" cy="679.4" r="3.2"/><circle cx="244.2" cy="672.6" r="3.2"/><circle cx="78.3" cy="756" r="3.2"/><circle cx="67.4" cy="760.2" r="3.2"/><circle cx="260.5" cy="666.6" r="3.2"/><circle cx="233.9" cy="678.5" r="3.2"/><circle cx="155.2" cy="710" r="3.2"/><circle cx="48.9" cy="769.5" r="3.2"/><circle cx="74.4" cy="758.3" r="3.2"/><circle cx="66" cy="759.8" r="3.2"/><circle cx="218" cy="687.8" r="3.2"/><circle cx="259.3" cy="666.2" r="3.2"/><circle cx="175" cy="705.5" r="3.2"/><circle cx="233.2" cy="676.5" r="3.2"/><circle cx="146.9" cy="710.9" r="3.2"/><circle cx="183" cy="704.9" r="3.2"/><circle cx="175.6" cy="706" r="3.2"/><circle cx="215.6" cy="684.6" r="3.2"/><circle cx="222.8" cy="682.3" r="3.2"/><circle cx="92.5" cy="748.3" r="3.2"/><circle cx="282.3" cy="655" r="3.2"/><circle cx="236.6" cy="679.5" r="3.2"/><circle cx="268.2" cy="657.4" r="3.2"/><circle cx="96.6" cy="742.7" r="3.2"/><circle cx="201.6" cy="694.1" r="3.2"/><circle cx="202.2" cy="691.4" r="3.2"/><circle cx="228.1" cy="683.5" r="3.2"/><circle cx="212.9" cy="694.2" r="3.2"/><circle cx="51.5" cy="768.5" r="3.2"/><circle cx="248.1" cy="675.1" r="3.2"/><circle cx="128.6" cy="728.7" r="3.2"/><circle cx="167.5" cy="709.6" r="3.2"/><circle cx="144.7" cy="722.8" r="3.2"/><circle cx="158.7" cy="716.6" r="3.2"/><circle cx="219.3" cy="687.2" r="3.2"/><circle cx="100.2" cy="744.2" r="3.2"/><circle cx="70.7" cy="759.3" r="3.2"/><circle cx="118.5" cy="737.5" r="3.2"/><circle cx="121.1" cy="733.3" r="3.2"/><circle cx="211.4" cy="687.1" r="3.2"/><circle cx="103.6" cy="742.1" r="3.2"/><circle cx="256.2" cy="670.5" r="3.2"/><circle cx="257" cy="659.8" r="3.2"/><circle cx="250.1" cy="668.2" r="3.2"/><circle cx="170" cy="707.8" r="3.2"/><circle cx="128.1" cy="726.9" r="3.2"/><circle cx="193.9" cy="700.2" r="3.2"/><circle cx="264.7" cy="664.8" r="3.2"/><circle cx="197.5" cy="693.6" r="3.2"/><circle cx="119.9" cy="734.2" r="3.2"/><circle cx="210.1" cy="687.1" r="3.2"/><circle cx="63.8" cy="763" r="3.2"/><circle cx="279.3" cy="654.7" r="3.2"/><circle cx="116.7" cy="736.6" r="3.2"/><circle cx="95.7" cy="743.9" r="3.2"/><circle cx="214.4" cy="685.9" r="3.2"/><circle cx="148.2" cy="723.2" r="3.2"/><circle cx="197" cy="696.4" r="3.2"/><circle cx="87.7" cy="749.2" r="3.2"/><circle cx="134.3" cy="728.5" r="3.2"/><circle cx="170.7" cy="708.5" r="3.2"/><circle cx="74.6" cy="756.3" r="3.2"/><circle cx="166.1" cy="710.1" r="3.2"/><circle cx="253.9" cy="669.2" r="3.2"/><circle cx="51.4" cy="768.5" r="3.2"/><circle cx="225.5" cy="682" r="3.2"/><circle cx="247.7" cy="670.6" r="3.2"/><circle cx="62.1" cy="763.3" r="3.2"/><circle cx="59.5" cy="764" r="3.2"/><circle cx="117.5" cy="734.3" r="3.2"/><circle cx="241.6" cy="675.4" r="3.2"/><circle cx="298.5" cy="652.8" r="3.2"/><circle cx="226.2" cy="684.4" r="3.2"/><circle cx="62.7" cy="762.1" r="3.2"/><circle cx="135.5" cy="727.4" r="3.2"/><circle cx="190.2" cy="702.2" r="3.2"/><circle cx="185.1" cy="703.7" r="3.2"/><circle cx="301" cy="647.4" r="3.2"/><circle cx="256.3" cy="672.5" r="3.2"/><circle cx="91.6" cy="749.4" r="3.2"/><circle cx="290.9" cy="648.2" r="3.2"/><circle cx="250" cy="673.7" r="3.2"/><circle cx="70.4" cy="759.6" r="3.2"/><circle cx="224.5" cy="676.5" r="3.2"/><circle cx="171.5" cy="709.7" r="3.2"/><circle cx="229.9" cy="680.5" r="3.2"/><circle cx="114.3" cy="738.1" r="3.2"/><circle cx="172.2" cy="712.9" r="3.2"/><circle cx="98.4" cy="738.4" r="3.2"/><circle cx="89.5" cy="750.6" r="3.2"/><circle cx="234.6" cy="675.5" r="3.2"/><circle cx="207.6" cy="687.6" r="3.2"/><circle cx="69.1" cy="759.1" r="3.2"/><circle cx="149.5" cy="724.8" r="3.2"/><circle cx="291.4" cy="646" r="3.2"/><circle cx="55" cy="766.2" r="3.2"/><circle cx="57.7" cy="765" r="3.2"/><circle cx="133.9" cy="722.6" r="3.2"/><circle cx="162.6" cy="719.8" r="3.2"/><circle cx="174.6" cy="707.5" r="3.2"/><circle cx="121.6" cy="731.4" r="3.2"/><circle cx="230.5" cy="675.6" r="3.2"/><circle cx="157.2" cy="714" r="3.2"/><circle cx="48.8" cy="769.2" r="3.2"/><circle cx="154.9" cy="722.5" r="3.2"/><circle cx="58.8" cy="764.2" r="3.2"/><circle cx="173.8" cy="702.8" r="3.2"/><circle cx="169.1" cy="711.1" r="3.2"/><circle cx="265.3" cy="666.6" r="3.2"/><circle cx="279.4" cy="658.2" r="3.2"/><circle cx="90.8" cy="746" r="3.2"/><circle cx="298.1" cy="647.3" r="3.2"/><circle cx="151.6" cy="715.7" r="3.2"/><circle cx="124.1" cy="733.6" r="3.2"/><circle cx="53.5" cy="767.2" r="3.2"/><circle cx="118.1" cy="736.7" r="3.2"/><circle cx="267.3" cy="662.1" r="3.2"/><circle cx="67.8" cy="760.3" r="3.2"/><circle cx="252.5" cy="665" r="3.2"/><circle cx="104.5" cy="741.3" r="3.2"/><circle cx="82.6" cy="751.7" r="3.2"/><circle cx="124.1" cy="732.5" r="3.2"/><circle cx="141.7" cy="724.5" r="3.2"/><circle cx="142.1" cy="725.9" r="3.2"/><circle cx="264.6" cy="660.1" r="3.2"/><circle cx="107.5" cy="741.9" r="3.2"/><circle cx="146.3" cy="718.4" r="3.2"/><circle cx="184" cy="704.3" r="3.2"/><circle cx="206.5" cy="697.4" r="3.2"/><circle cx="283.8" cy="656.7" r="3.2"/><circle cx="123.1" cy="730.3" r="3.2"/><circle cx="288.7" cy="653.5" r="3.2"/><circle cx="157.7" cy="714" r="3.2"/><circle cx="223.1" cy="690.5" r="3.2"/><circle cx="192.6" cy="698.4" r="3.2"/><circle cx="268.9" cy="656.8" r="3.2"/><circle cx="75.3" cy="758.6" r="3.2"/><circle cx="68" cy="760.2" r="3.2"/><circle cx="71.9" cy="758.3" r="3.2"/><circle cx="88.1" cy="750.2" r="3.2"/><circle cx="105.2" cy="742.9" r="3.2"/><circle cx="218.5" cy="686" r="3.2"/><circle cx="174.6" cy="706.1" r="3.2"/><circle cx="108" cy="737" r="3.2"/><circle cx="238.4" cy="677.2" r="3.2"/><circle cx="142.9" cy="716.4" r="3.2"/><circle cx="60.8" cy="763.4" r="3.2"/><circle cx="190.3" cy="701.1" r="3.2"/><circle cx="74" cy="756.6" r="3.2"/><circle cx="81.8" cy="754.1" r="3.2"/><circle cx="119.5" cy="736.2" r="3.2"/><circle cx="276.4" cy="653.2" r="3.2"/><circle cx="76.6" cy="754.1" r="3.2"/><circle cx="197.2" cy="696.7" r="3.2"/><circle cx="292.1" cy="648.4" r="3.2"/><circle cx="228.6" cy="688.1" r="3.2"/><circle cx="141.2" cy="725.7" r="3.2"/><circle cx="97.2" cy="748.3" r="3.2"/><circle cx="165" cy="715.9" r="3.2"/><circle cx="84.8" cy="753.5" r="3.2"/><circle cx="89.7" cy="748" r="3.2"/><circle cx="262.6" cy="671" r="3.2"/><circle cx="105.6" cy="740.2" r="3.2"/><circle cx="265.7" cy="658.9" r="3.2"/><circle cx="227.2" cy="679.7" r="3.2"/><circle cx="174.3" cy="710.2" r="3.2"/><circle cx="140.1" cy="723.2" r="3.2"/><circle cx="236.7" cy="678.8" r="3.2"/><circle cx="235.4" cy="674.8" r="3.2"/><circle cx="49.7" cy="769.5" r="3.2"/><circle cx="169.7" cy="703.2" r="3.2"/><circle cx="208.8" cy="688.7" r="3.2"/><circle cx="222.9" cy="673.2" r="3.2"/><circle cx="132.1" cy="731.6" r="3.2"/><circle cx="170.9" cy="712.8" r="3.2"/><circle cx="91.7" cy="748.5" r="3.2"/><circle cx="191.3" cy="699.3" r="3.2"/><circle cx="299.9" cy="645.8" r="3.2"/><circle cx="101" cy="741.8" r="3.2"/><circle cx="129" cy="728.7" r="3.2"/><circle cx="149.5" cy="722.2" r="3.2"/><circle cx="238.1" cy="675.5" r="3.2"/><circle cx="126.8" cy="736.2" r="3.2"/><circle cx="193.9" cy="699.4" r="3.2"/><circle cx="242.7" cy="673.1" r="3.2"/><circle cx="70.1" cy="759.3" r="3.2"/><circle cx="65.1" cy="764.8" r="3.2"/><circle cx="132.8" cy="725.8" r="3.2"/><circle cx="232.5" cy="683.6" r="3.2"/><circle cx="98.2" cy="744.2" r="3.2"/><circle cx="197.7" cy="689.6" r="3.2"/><circle cx="256.5" cy="665.6" r="3.2"/><circle cx="112.5" cy="732.2" r="3.2"/><circle cx="280.7" cy="654.9" r="3.2"/><circle cx="267.1" cy="659.4" r="3.2"/><circle cx="134.8" cy="725.1" r="3.2"/><circle cx="234.8" cy="678.5" r="3.2"/><circle cx="231.2" cy="680.5" r="3.2"/><circle cx="102.4" cy="742.5" r="3.2"/><circle cx="157.7" cy="716.8" r="3.2"/><circle cx="77.9" cy="753.2" r="3.2"/><circle cx="260.3" cy="669.4" r="3.2"/><circle cx="153.6" cy="712" r="3.2"/><circle cx="127.3" cy="734.1" r="3.2"/><circle cx="75.1" cy="757.4" r="3.2"/><circle cx="266.8" cy="658.7" r="3.2"/><circle cx="268.9" cy="657.7" r="3.2"/><circle cx="258.8" cy="666.1" r="3.2"/><circle cx="281.9" cy="655.5" r="3.2"/><circle cx="265.1" cy="662.2" r="3.2"/><circle cx="139.3" cy="731.5" r="3.2"/><circle cx="200.2" cy="689.3" r="3.2"/><circle cx="77.8" cy="754.6" r="3.2"/><circle cx="152.4" cy="726.1" r="3.2"/><circle cx="137.2" cy="725.4" r="3.2"/><circle cx="216.4" cy="688.1" r="3.2"/><circle cx="267" cy="664.7" r="3.2"/><circle cx="120.8" cy="736" r="3.2"/><circle cx="143.1" cy="722.7" r="3.2"/><circle cx="135.5" cy="723.5" r="3.2"/><circle cx="197.8" cy="694.1" r="3.2"/><circle cx="231.5" cy="679.2" r="3.2"/><circle cx="134" cy="722" r="3.2"/><circle cx="168.1" cy="707.2" r="3.2"/><circle cx="186.9" cy="704.2" r="3.2"/><circle cx="190.7" cy="703.9" r="3.2"/><circle cx="90.4" cy="749" r="3.2"/><circle cx="113.8" cy="735.5" r="3.2"/><circle cx="182.7" cy="702.7" r="3.2"/><circle cx="221.4" cy="677.6" r="3.2"/><circle cx="97.8" cy="740.3" r="3.2"/><circle cx="233.6" cy="677.4" r="3.2"/><circle cx="107.3" cy="741" r="3.2"/><circle cx="229.9" cy="684.2" r="3.2"/><circle cx="110.4" cy="737.8" r="3.2"/><circle cx="225.2" cy="684.8" r="3.2"/><circle cx="152.9" cy="720.7" r="3.2"/><circle cx="250.8" cy="671.6" r="3.2"/><circle cx="56.1" cy="766.3" r="3.2"/><circle cx="83.9" cy="752.1" r="3.2"/><circle cx="149.1" cy="721" r="3.2"/><circle cx="192.6" cy="698.3" r="3.2"/><circle cx="69.7" cy="759.1" r="3.2"/><circle cx="165.9" cy="710.4" r="3.2"/><circle cx="92.9" cy="749.3" r="3.2"/><circle cx="231.2" cy="680.5" r="3.2"/><circle cx="179.5" cy="709.8" r="3.2"/><circle cx="114.7" cy="736.9" r="3.2"/><circle cx="139.1" cy="723.1" r="3.2"/><circle cx="223.7" cy="681.4" r="3.2"/><circle cx="104.9" cy="738" r="3.2"/><circle cx="124" cy="731.7" r="3.2"/><circle cx="93.6" cy="748.5" r="3.2"/><circle cx="183.1" cy="695.2" r="3.2"/><circle cx="149.7" cy="720.8" r="3.2"/><circle cx="99.2" cy="745.6" r="3.2"/><circle cx="74.2" cy="757.5" r="3.2"/><circle cx="90.8" cy="749.1" r="3.2"/><circle cx="113.8" cy="737.9" r="3.2"/><circle cx="275.3" cy="656.5" r="3.2"/><circle cx="139" cy="725.6" r="3.2"/><circle cx="96.5" cy="744.2" r="3.2"/><circle cx="129.8" cy="730.1" r="3.2"/><circle cx="98.5" cy="743.4" r="3.2"/><circle cx="250.4" cy="668" r="3.2"/><circle cx="209.6" cy="691.9" r="3.2"/><circle cx="181.3" cy="706.6" r="3.2"/><circle cx="215.8" cy="687.5" r="3.2"/><circle cx="253.4" cy="662.3" r="3.2"/><circle cx="170.9" cy="708.5" r="3.2"/><circle cx="210.3" cy="689.3" r="3.2"/><circle cx="212.5" cy="692.4" r="3.2"/><circle cx="111.5" cy="739.8" r="3.2"/><circle cx="64.9" cy="761.7" r="3.2"/><circle cx="132.8" cy="727.5" r="3.2"/><circle cx="257" cy="666.2" r="3.2"/><circle cx="97.9" cy="747.4" r="3.2"/><circle cx="219.7" cy="681.3" r="3.2"/><circle cx="262.1" cy="663.3" r="3.2"/><circle cx="178" cy="706.2" r="3.2"/><circle cx="232.3" cy="675.6" r="3.2"/><circle cx="156.6" cy="716.3" r="3.2"/><circle cx="104.6" cy="739.9" r="3.2"/><circle cx="284.3" cy="655.7" r="3.2"/><circle cx="100.5" cy="742.7" r="3.2"/><circle cx="103.2" cy="742.5" r="3.2"/><circle cx="253" cy="667.4" r="3.2"/><circle cx="156.2" cy="711.1" r="3.2"/><circle cx="109.6" cy="738.1" r="3.2"/><circle cx="163" cy="696.3" r="3.2"/><circle cx="131.8" cy="727.8" r="3.2"/><circle cx="116.8" cy="735.5" r="3.2"/><circle cx="69.8" cy="758.2" r="3.2"/><circle cx="151.5" cy="718.9" r="3.2"/><circle cx="58.4" cy="765.2" r="3.2"/><circle cx="207.2" cy="686.3" r="3.2"/><circle cx="259.5" cy="667" r="3.2"/><circle cx="72.4" cy="757.8" r="3.2"/><circle cx="70.3" cy="756.4" r="3.2"/><circle cx="270.7" cy="663" r="3.2"/><circle cx="151.9" cy="720.9" r="3.2"/><circle cx="203.4" cy="689.1" r="3.2"/><circle cx="171.8" cy="715" r="3.2"/><circle cx="267.1" cy="665.3" r="3.2"/><circle cx="72.6" cy="757.7" r="3.2"/><circle cx="142.8" cy="723.9" r="3.2"/><circle cx="292.7" cy="651.7" r="3.2"/><circle cx="229.2" cy="680.9" r="3.2"/><circle cx="79.8" cy="753.9" r="3.2"/><circle cx="177.2" cy="709.5" r="3.2"/><circle cx="156.8" cy="714.9" r="3.2"/><circle cx="223.5" cy="681.4" r="3.2"/><circle cx="274.8" cy="655.2" r="3.2"/><circle cx="122.1" cy="741.8" r="3.2"/><circle cx="135.9" cy="723.2" r="3.2"/><circle cx="57.2" cy="765.5" r="3.2"/><circle cx="165.7" cy="710.5" r="3.2"/><circle cx="192.2" cy="699.8" r="3.2"/><circle cx="67.5" cy="759.1" r="3.2"/><circle cx="137" cy="723.9" r="3.2"/><circle cx="93" cy="745.7" r="3.2"/><circle cx="113.4" cy="735.6" r="3.2"/><circle cx="291.6" cy="648.2" r="3.2"/><circle cx="117.1" cy="735.6" r="3.2"/><circle cx="258.9" cy="666.9" r="3.2"/><circle cx="286.1" cy="646.8" r="3.2"/><circle cx="294" cy="647" r="3.2"/><circle cx="109.1" cy="740.8" r="3.2"/><circle cx="62.6" cy="762.8" r="3.2"/><circle cx="177.6" cy="705.4" r="3.2"/><circle cx="48" cy="770" r="3.2"/><circle cx="297.9" cy="646.5" r="3.2"/><circle cx="203.8" cy="688.6" r="3.2"/><circle cx="265" cy="660.6" r="3.2"/><circle cx="273.1" cy="659.1" r="3.2"/><circle cx="190.2" cy="700.7" r="3.2"/><circle cx="101" cy="743.7" r="3.2"/><circle cx="115.6" cy="735.7" r="3.2"/><circle cx="195.5" cy="696.8" r="3.2"/><circle cx="146.6" cy="725.1" r="3.2"/><circle cx="201.8" cy="695.3" r="3.2"/><circle cx="213.5" cy="690.3" r="3.2"/><circle cx="76.2" cy="755.3" r="3.2"/><circle cx="88.7" cy="749.8" r="3.2"/><circle cx="62.5" cy="761.2" r="3.2"/><circle cx="134.8" cy="727.1" r="3.2"/><circle cx="180.3" cy="707.9" r="3.2"/><circle cx="152.9" cy="714.8" r="3.2"/><circle cx="98.6" cy="744.6" r="3.2"/><circle cx="242.9" cy="673.9" r="3.2"/><circle cx="204.3" cy="695.3" r="3.2"/><circle cx="187.8" cy="708.1" r="3.2"/><circle cx="155.4" cy="722.2" r="3.2"/><circle cx="116.9" cy="737.3" r="3.2"/><circle cx="55.6" cy="766.1" r="3.2"/><circle cx="275.3" cy="660.6" r="3.2"/><circle cx="167.3" cy="712.4" r="3.2"/><circle cx="201.3" cy="691.7" r="3.2"/><circle cx="222.7" cy="682.6" r="3.2"/><circle cx="54.9" cy="766.5" r="3.2"/><circle cx="104.1" cy="743.2" r="3.2"/><circle cx="152" cy="716.5" r="3.2"/><circle cx="269.5" cy="659.3" r="3.2"/><circle cx="278.3" cy="657.1" r="3.2"/><circle cx="137.9" cy="724.3" r="3.2"/><circle cx="123.8" cy="733.4" r="3.2"/><circle cx="245.5" cy="670.5" r="3.2"/><circle cx="262.1" cy="665" r="3.2"/><circle cx="113.1" cy="738.6" r="3.2"/><circle cx="69.3" cy="758.7" r="3.2"/><circle cx="179.6" cy="712" r="3.2"/><circle cx="266.8" cy="665.7" r="3.2"/><circle cx="291" cy="650.7" r="3.2"/><circle cx="110.5" cy="739.7" r="3.2"/><circle cx="285.6" cy="650" r="3.2"/><circle cx="60.2" cy="763.7" r="3.2"/><circle cx="48.3" cy="770" r="3.2"/><circle cx="219.8" cy="684.3" r="3.2"/><circle cx="276.3" cy="653.8" r="3.2"/><circle cx="212.6" cy="690" r="3.2"/><circle cx="101.5" cy="747" r="3.2"/><circle cx="126.8" cy="730.2" r="3.2"/><circle cx="157.6" cy="714.1" r="3.2"/><circle cx="60.8" cy="763.2" r="3.2"/><circle cx="276.9" cy="652.8" r="3.2"/><circle cx="289.5" cy="659.2" r="3.2"/><circle cx="195.7" cy="698.6" r="3.2"/><circle cx="107.4" cy="740" r="3.2"/><circle cx="196.6" cy="695.8" r="3.2"/><circle cx="115.5" cy="733.1" r="3.2"/><circle cx="111.3" cy="737.2" r="3.2"/><circle cx="183.7" cy="696" r="3.2"/><circle cx="56.7" cy="765.2" r="3.2"/><circle cx="202.1" cy="695.8" r="3.2"/><circle cx="133" cy="726.4" r="3.2"/><circle cx="135.3" cy="726.2" r="3.2"/><circle cx="136.7" cy="725.8" r="3.2"/><circle cx="113.1" cy="739.8" r="3.2"/><circle cx="283.7" cy="657.8" r="3.2"/><circle cx="100.5" cy="743.6" r="3.2"/><circle cx="219.8" cy="682.9" r="3.2"/><circle cx="67" cy="761.2" r="3.2"/><circle cx="166.4" cy="705.6" r="3.2"/><circle cx="251.2" cy="663.6" r="3.2"/><circle cx="279.1" cy="653.1" r="3.2"/><circle cx="243" cy="671.9" r="3.2"/><circle cx="52.1" cy="768.1" r="3.2"/><circle cx="170.2" cy="711" r="3.2"/><circle cx="230.6" cy="674.5" r="3.2"/><circle cx="68.8" cy="759.1" r="3.2"/><circle cx="125.3" cy="732.2" r="3.2"/><circle cx="61.5" cy="763.7" r="3.2"/><circle cx="194.3" cy="697.5" r="3.2"/><circle cx="215.5" cy="688.6" r="3.2"/><circle cx="118.5" cy="736.4" r="3.2"/><circle cx="61.5" cy="761.4" r="3.2"/><circle cx="286.3" cy="651.9" r="3.2"/><circle cx="48.6" cy="769.4" r="3.2"/><circle cx="231.9" cy="679.4" r="3.2"/><circle cx="286.5" cy="652.8" r="3.2"/><circle cx="135.2" cy="723.9" r="3.2"/><circle cx="138.2" cy="722.4" r="3.2"/><circle cx="155.7" cy="717.3" r="3.2"/><circle cx="103.2" cy="739.7" r="3.2"/><circle cx="256.8" cy="668.2" r="3.2"/><circle cx="76.7" cy="755.8" r="3.2"/><circle cx="120.3" cy="734.1" r="3.2"/><circle cx="191.1" cy="699.1" r="3.2"/><circle cx="223.4" cy="682" r="3.2"/><circle cx="159.8" cy="720" r="3.2"/><circle cx="132.1" cy="731.1" r="3.2"/><circle cx="155" cy="719" r="3.2"/><circle cx="117.7" cy="734.8" r="3.2"/><circle cx="62.2" cy="763" r="3.2"/><circle cx="103.3" cy="745.2" r="3.2"/><circle cx="271.6" cy="663.8" r="3.2"/><circle cx="59.3" cy="764.9" r="3.2"/><circle cx="228.8" cy="679.4" r="3.2"/><circle cx="236.1" cy="675.3" r="3.2"/><circle cx="86.2" cy="748.4" r="3.2"/><circle cx="197.8" cy="703.1" r="3.2"/><circle cx="88.7" cy="749.5" r="3.2"/><circle cx="172.9" cy="714.2" r="3.2"/><circle cx="115.2" cy="738" r="3.2"/><circle cx="75.5" cy="756.6" r="3.2"/><circle cx="110" cy="738.6" r="3.2"/><circle cx="178.5" cy="703.1" r="3.2"/><circle cx="290.3" cy="648.9" r="3.2"/><circle cx="92.8" cy="749.7" r="3.2"/><circle cx="157.6" cy="712.7" r="3.2"/><circle cx="232.3" cy="674.5" r="3.2"/><circle cx="82.5" cy="754.4" r="3.2"/><circle cx="81.2" cy="753.2" r="3.2"/><circle cx="229" cy="674.4" r="3.2"/><circle cx="158.2" cy="721.2" r="3.2"/><circle cx="158" cy="710.4" r="3.2"/><circle cx="225.6" cy="682.5" r="3.2"/><circle cx="205.3" cy="690.9" r="3.2"/><circle cx="100.1" cy="741.5" r="3.2"/><circle cx="157.9" cy="719.3" r="3.2"/><circle cx="292.7" cy="651.7" r="3.2"/><circle cx="85.5" cy="749.1" r="3.2"/><circle cx="206" cy="695.6" r="3.2"/><circle cx="125.6" cy="728.6" r="3.2"/><circle cx="83.9" cy="752.6" r="3.2"/><circle cx="107.3" cy="741.4" r="3.2"/><circle cx="121.5" cy="736.1" r="3.2"/><circle cx="151" cy="716" r="3.2"/><circle cx="173.8" cy="708.5" r="3.2"/><circle cx="71.9" cy="756.9" r="3.2"/><circle cx="285.8" cy="650.5" r="3.2"/><circle cx="83.2" cy="751.4" r="3.2"/><circle cx="220.1" cy="685" r="3.2"/><circle cx="197.6" cy="692.7" r="3.2"/><circle cx="295.8" cy="645.4" r="3.2"/><circle cx="221.1" cy="682.8" r="3.2"/><circle cx="177.4" cy="701.8" r="3.2"/><circle cx="156.7" cy="715" r="3.2"/><circle cx="166" cy="706.8" r="3.2"/><circle cx="123.3" cy="736.5" r="3.2"/><circle cx="144.8" cy="722.1" r="3.2"/><circle cx="49.6" cy="769.6" r="3.2"/><circle cx="185.5" cy="699.8" r="3.2"/><circle cx="208.4" cy="700.8" r="3.2"/><circle cx="239.8" cy="674.6" r="3.2"/><circle cx="228.3" cy="681.6" r="3.2"/><circle cx="271.6" cy="662.2" r="3.2"/><circle cx="163.4" cy="711.1" r="3.2"/><circle cx="143.1" cy="722.4" r="3.2"/><circle cx="100.7" cy="744.2" r="3.2"/><circle cx="126.4" cy="733.1" r="3.2"/><circle cx="156.7" cy="712.5" r="3.2"/><circle cx="127.4" cy="731" r="3.2"/><circle cx="296.2" cy="646.1" r="3.2"/><circle cx="78.5" cy="754.2" r="3.2"/><circle cx="123.2" cy="727.3" r="3.2"/><circle cx="78.2" cy="756.6" r="3.2"/><circle cx="84.7" cy="753.1" r="3.2"/><circle cx="117.3" cy="736.5" r="3.2"/><circle cx="242.9" cy="669.2" r="3.2"/><circle cx="117.8" cy="735.6" r="3.2"/><circle cx="186.3" cy="700.9" r="3.2"/><circle cx="181.2" cy="704.7" r="3.2"/><circle cx="77.6" cy="755.8" r="3.2"/><circle cx="277.1" cy="657.5" r="3.2"/><circle cx="185.2" cy="702.4" r="3.2"/><circle cx="188" cy="696.9" r="3.2"/><circle cx="191.8" cy="699.2" r="3.2"/><circle cx="234.8" cy="677.5" r="3.2"/><circle cx="216.5" cy="688.1" r="3.2"/><circle cx="180.5" cy="706.2" r="3.2"/><circle cx="220.5" cy="684" r="3.2"/><circle cx="65.9" cy="759.6" r="3.2"/><circle cx="116.1" cy="736.6" r="3.2"/><circle cx="80.2" cy="753.2" r="3.2"/><circle cx="272.3" cy="657.5" r="3.2"/><circle cx="59.7" cy="763.4" r="3.2"/><circle cx="213.1" cy="680.8" r="3.2"/><circle cx="243.1" cy="675.6" r="3.2"/><circle cx="145.9" cy="727.4" r="3.2"/><circle cx="255.7" cy="667.4" r="3.2"/><circle cx="278.2" cy="654.5" r="3.2"/><circle cx="288.9" cy="653" r="3.2"/><circle cx="288.1" cy="648" r="3.2"/><circle cx="300.7" cy="645.5" r="3.2"/><circle cx="69.8" cy="759.3" r="3.2"/><circle cx="287.7" cy="648.8" r="3.2"/><circle cx="84.4" cy="750.3" r="3.2"/><circle cx="102.6" cy="739.2" r="3.2"/><circle cx="182.9" cy="705.9" r="3.2"/><circle cx="196.1" cy="697" r="3.2"/><circle cx="110.4" cy="736.6" r="3.2"/><circle cx="113.6" cy="734.2" r="3.2"/><circle cx="59.7" cy="762" r="3.2"/><circle cx="121.7" cy="734.2" r="3.2"/><circle cx="162.1" cy="715.4" r="3.2"/><circle cx="233.1" cy="682.7" r="3.2"/><circle cx="130.3" cy="729.5" r="3.2"/><circle cx="74.2" cy="757.5" r="3.2"/><circle cx="233.2" cy="675.2" r="3.2"/><circle cx="116.2" cy="735.6" r="3.2"/><circle cx="285.1" cy="653.3" r="3.2"/><circle cx="259" cy="669.3" r="3.2"/><circle cx="208.7" cy="689.3" r="3.2"/><circle cx="68" cy="759.7" r="3.2"/><circle cx="83.7" cy="751.7" r="3.2"/><circle cx="187.6" cy="701.2" r="3.2"/><circle cx="204" cy="691.8" r="3.2"/><circle cx="123" cy="735.8" r="3.2"/><circle cx="103.1" cy="742.7" r="3.2"/><circle cx="274.5" cy="654.5" r="3.2"/><circle cx="169.8" cy="707.6" r="3.2"/><circle cx="233.7" cy="678" r="3.2"/><circle cx="214.8" cy="689" r="3.2"/><circle cx="272.9" cy="657" r="3.2"/><circle cx="83.4" cy="749.2" r="3.2"/><circle cx="140.4" cy="723.7" r="3.2"/><circle cx="180.6" cy="704.8" r="3.2"/><circle cx="303" cy="647.2" r="3.2"/><circle cx="198.4" cy="695" r="3.2"/><circle cx="70.6" cy="758.4" r="3.2"/><circle cx="54.8" cy="765.8" r="3.2"/><circle cx="97.8" cy="743.6" r="3.2"/><circle cx="231.9" cy="682.7" r="3.2"/><circle cx="280.8" cy="655.7" r="3.2"/><circle cx="167.4" cy="711.7" r="3.2"/><circle cx="138.9" cy="722.6" r="3.2"/><circle cx="88.4" cy="750.6" r="3.2"/><circle cx="136.2" cy="718" r="3.2"/><circle cx="234.9" cy="680.8" r="3.2"/><circle cx="54.7" cy="767.3" r="3.2"/><circle cx="83.8" cy="749.7" r="3.2"/><circle cx="82.1" cy="753.9" r="3.2"/><circle cx="149" cy="719.6" r="3.2"/><circle cx="159.1" cy="712.5" r="3.2"/><circle cx="195.1" cy="694.9" r="3.2"/><circle cx="133.4" cy="730.2" r="3.2"/><circle cx="79.7" cy="754.8" r="3.2"/><circle cx="294.2" cy="649.7" r="3.2"/><circle cx="225" cy="679.5" r="3.2"/><circle cx="295.1" cy="638.4" r="3.2"/><circle cx="311.9" cy="630.4" r="3.2"/><circle cx="311.2" cy="635.5" r="3.2"/><circle cx="310.4" cy="638.4" r="3.2"/><circle cx="322.1" cy="631.1" r="3.2"/><circle cx="328.7" cy="626" r="3.2"/><circle cx="329.4" cy="630.4" r="3.2"/><circle cx="336" cy="647.9" r="3.2"/><circle cx="328.7" cy="654.5" r="3.2"/><circle cx="374.7" cy="603.4" r="3.2"/><circle cx="379.1" cy="599.7" r="3.2"/><circle cx="387.1" cy="591" r="3.2"/><circle cx="409.8" cy="546.8" r="3.2"/><circle cx="387.2" cy="591.3" r="3.2"/><circle cx="404" cy="584" r="3.2"/><circle cx="403.2" cy="592.8" r="3.2"/><circle cx="408.4" cy="592.8" r="3.2"/><circle cx="424.4" cy="587.7" r="3.2"/><circle cx="493.1" cy="530.4" r="3.2"/><circle cx="509.9" cy="534.7" r="3.2"/><circle cx="516.5" cy="529.6" r="3.2"/><circle cx="522.3" cy="528.9" r="3.2"/><circle cx="524.5" cy="540.6" r="3.2"/><circle cx="531.1" cy="511.4" r="3.2"/><circle cx="531.1" cy="525.3" r="3.2"/><circle cx="531.1" cy="529.6" r="3.2"/><circle cx="536.9" cy="533.3" r="3.2"/><circle cx="545" cy="519.4" r="3.2"/><circle cx="553.7" cy="539.9" r="3.2"/><circle cx="554.5" cy="517.2" r="3.2"/><circle cx="558.1" cy="519.4" r="3.2"/><circle cx="562.5" cy="504.1" r="3.2"/><circle cx="579.3" cy="523.8" r="3.2"/><circle cx="579.9" cy="523.7" r="3.2"/>
</g>
</g>
<g stroke="#ff1a1a" stroke-width="2" fill="none">
<line x1="47.4" y1="773" x2="581.8" y2="474.8" stroke-dasharray="6.3 6.428" stroke-dashoffset="1.06"/>
<line x1="47.4" y1="773" x2="644.9" y2="504.3" stroke-dasharray="6.3 6.428" stroke-dashoffset="-1.15"/>
<line x1="47.4" y1="773" x2="644.9" y2="474.8"/>
</g>
<rect x="47.4" y="474.8" width="597.5" height="295.4" fill="none" stroke="#6e6e6e" stroke-width="1.4"/>
<path d="M87.2 770.2v-2.2M87.2 474.8v2.2M47.4 750.5h2.2M644.9 750.5h-2.2M127.1 770.2v-2.2M127.1 474.8v2.2M47.4 730.8h2.2M644.9 730.8h-2.2M166.9 770.2v-2.2M166.9 474.8v2.2M47.4 711.1h2.2M644.9 711.1h-2.2M206.7 770.2v-2.2M206.7 474.8v2.2M47.4 691.4h2.2M644.9 691.4h-2.2M246.6 770.2v-4.6M246.6 474.8v4.6M47.4 671.7h4.6M644.9 671.7h-4.6M286.4 770.2v-2.2M286.4 474.8v2.2M47.4 652h2.2M644.9 652h-2.2M326.2 770.2v-2.2M326.2 474.8v2.2M47.4 632.3h2.2M644.9 632.3h-2.2M366.1 770.2v-2.2M366.1 474.8v2.2M47.4 612.7h2.2M644.9 612.7h-2.2M405.9 770.2v-2.2M405.9 474.8v2.2M47.4 593h2.2M644.9 593h-2.2M445.7 770.2v-4.6M445.7 474.8v4.6M47.4 573.3h4.6M644.9 573.3h-4.6M485.6 770.2v-2.2M485.6 474.8v2.2M47.4 553.6h2.2M644.9 553.6h-2.2M525.4 770.2v-2.2M525.4 474.8v2.2M47.4 533.9h2.2M644.9 533.9h-2.2M565.2 770.2v-2.2M565.2 474.8v2.2M47.4 514.2h2.2M644.9 514.2h-2.2M605.1 770.2v-2.2M605.1 474.8v2.2M47.4 494.5h2.2M644.9 494.5h-2.2" stroke="#6e6e6e" stroke-width="1.1" fill="none"/>
<g font-family="Liberation Serif" font-weight="bold" font-size="14.6" fill="#1a1a1a"><text x="47.4" y="788.1" text-anchor="middle" textLength="6.5" lengthAdjust="spacingAndGlyphs">0</text><text x="42.8" y="775.3" text-anchor="end" textLength="6.5" lengthAdjust="spacingAndGlyphs">0</text><text x="246.6" y="788.1" text-anchor="middle" textLength="19.6" lengthAdjust="spacingAndGlyphs">500</text><text x="42.8" y="676.8" text-anchor="end" textLength="19.6" lengthAdjust="spacingAndGlyphs">500</text><text x="445.7" y="788.1" text-anchor="middle" textLength="26.2" lengthAdjust="spacingAndGlyphs">1000</text><text x="42.8" y="578.4" text-anchor="end" textLength="26.2" lengthAdjust="spacingAndGlyphs">1000</text><text x="644.9" y="788.1" text-anchor="middle" textLength="26.2" lengthAdjust="spacingAndGlyphs">1500</text><text x="42.8" y="479.9" text-anchor="end" textLength="26.2" lengthAdjust="spacingAndGlyphs">1500</text></g>
<text x="268.7" y="805.2" font-family="Liberation Serif" font-weight="bold" font-size="15.0" fill="#1a1a1a" textLength="155.3" lengthAdjust="spacingAndGlyphs">Actual stock price (RMB)</text>
<text transform="translate(11 709) rotate(-90)" font-family="Liberation Serif" font-weight="bold" font-size="14.8" fill="#1a1a1a" textLength="173" lengthAdjust="spacingAndGlyphs">Predicted stock price (RMB)</text>
<text x="155.8" y="440.8" font-family="Liberation Serif" font-weight="bold" font-size="34.0" fill="#000">(b)</text>
<text x="207.4" y="440.8" font-family="Liberation Serif" font-size="22" fill="#000" textLength="373.3" lengthAdjust="spacingAndGlyphs">The Prediction Results of the DNN Model</text>
<g font-family="Liberation Sans" font-weight="bold" font-size="14.4" fill="#ff2020"><text x="478.7" y="499.7" textLength="38.6" lengthAdjust="spacingAndGlyphs">+10%</text><text x="570.9" y="559" textLength="35" lengthAdjust="spacingAndGlyphs">-10%</text></g>
<rect x="448" y="684.4" width="159" height="63.3" fill="#fff" stroke="#7a7a7a" stroke-width="1"/>
<circle cx="490.5" cy="700" r="3.3" fill="#0000f8" stroke="#000010" stroke-width="0.9"/>
<circle cx="490.5" cy="715.8" r="3.3" fill="#ffff00" stroke="#f0a000" stroke-width="1.0"/>
<line x1="471" y1="733.2" x2="494.4" y2="733.2" stroke="#ff1a1a" stroke-width="2"/>
<g font-family="Liberation Serif" font-weight="bold" font-size="12.7" fill="#1a1a1a"><text x="509.9" y="704.5" font-size="13.5" textLength="65" lengthAdjust="spacingAndGlyphs">Training set</text><text x="509.9" y="720.3" font-size="13.5" textLength="39.6" lengthAdjust="spacingAndGlyphs">Test set</text><text x="507.1" y="738.2" font-size="14.6">y=x</text></g>
<g>
<g fill="#0000f8" stroke="#000010" stroke-width="0.9">
<circle cx="206.4" cy="1127.4" r="3.2"/><circle cx="267.6" cy="1109.9" r="3.2"/><circle cx="272.5" cy="1104.3" r="3.2"/><circle cx="130.6" cy="1158.6" r="3.2"/><circle cx="64.5" cy="1177.9" r="3.2"/><circle cx="228.8" cy="1123.8" r="3.2"/><circle cx="92.5" cy="1166.2" r="3.2"/><circle cx="55.6" cy="1180.1" r="3.2"/><circle cx="85.3" cy="1170.5" r="3.2"/><circle cx="61.1" cy="1179.2" r="3.2"/><circle cx="56.3" cy="1180.7" r="3.2"/><circle cx="70.3" cy="1176.1" r="3.2"/><circle cx="177.3" cy="1138.9" r="3.2"/><circle cx="103.1" cy="1165.3" r="3.2"/><circle cx="51.9" cy="1181.4" r="3.2"/><circle cx="70.1" cy="1175.4" r="3.2"/><circle cx="135" cy="1155.6" r="3.2"/><circle cx="55.4" cy="1182.4" r="3.2"/><circle cx="195.9" cy="1130.9" r="3.2"/><circle cx="66" cy="1176.6" r="3.2"/><circle cx="196.6" cy="1131.7" r="3.2"/><circle cx="160.3" cy="1147.4" r="3.2"/><circle cx="122.7" cy="1157.6" r="3.2"/><circle cx="53.3" cy="1182.4" r="3.2"/><circle cx="103.2" cy="1164.5" r="3.2"/><circle cx="92.5" cy="1165.9" r="3.2"/><circle cx="60.9" cy="1178.1" r="3.2"/><circle cx="129.8" cy="1156" r="3.2"/><circle cx="86.6" cy="1169.6" r="3.2"/><circle cx="67.5" cy="1176.1" r="3.2"/><circle cx="90.9" cy="1166.6" r="3.2"/><circle cx="88.8" cy="1169.3" r="3.2"/><circle cx="104.9" cy="1160.9" r="3.2"/><circle cx="61.6" cy="1177.5" r="3.2"/><circle cx="134.6" cy="1155.2" r="3.2"/><circle cx="99.6" cy="1167.5" r="3.2"/><circle cx="220.5" cy="1125.2" r="3.2"/><circle cx="149.1" cy="1150.3" r="3.2"/><circle cx="76.2" cy="1173.8" r="3.2"/><circle cx="195" cy="1137.4" r="3.2"/><circle cx="240.5" cy="1118.9" r="3.2"/><circle cx="187.2" cy="1133.6" r="3.2"/><circle cx="113.4" cy="1161.1" r="3.2"/><circle cx="73.2" cy="1175.3" r="3.2"/><circle cx="163.5" cy="1142.7" r="3.2"/><circle cx="135" cy="1157" r="3.2"/><circle cx="153.7" cy="1150.5" r="3.2"/><circle cx="115.4" cy="1157.9" r="3.2"/><circle cx="55.4" cy="1179.9" r="3.2"/><circle cx="72.5" cy="1175.9" r="3.2"/><circle cx="88.3" cy="1170.8" r="3.2"/><circle cx="165.4" cy="1140.2" r="3.2"/><circle cx="83.8" cy="1168" r="3.2"/><circle cx="77.9" cy="1172.3" r="3.2"/><circle cx="106.9" cy="1162.1" r="3.2"/><circle cx="102.4" cy="1165.3" r="3.2"/><circle cx="220.3" cy="1125.8" r="3.2"/><circle cx="105.6" cy="1164.4" r="3.2"/><circle cx="111" cy="1161.7" r="3.2"/><circle cx="144.8" cy="1154.2" r="3.2"/><circle cx="77.4" cy="1173.5" r="3.2"/><circle cx="146" cy="1146.9" r="3.2"/><circle cx="53.8" cy="1181.1" r="3.2"/><circle cx="174.5" cy="1141.1" r="3.2"/><circle cx="96" cy="1166.9" r="3.2"/><circle cx="111.7" cy="1157.7" r="3.2"/><circle cx="54.8" cy="1182.6" r="3.2"/><circle cx="98.8" cy="1166.4" r="3.2"/><circle cx="164.3" cy="1149.9" r="3.2"/><circle cx="208.8" cy="1131.2" r="3.2"/><circle cx="225.7" cy="1120" r="3.2"/><circle cx="202.6" cy="1129" r="3.2"/><circle cx="83" cy="1170.4" r="3.2"/><circle cx="81.4" cy="1171.2" r="3.2"/><circle cx="105.9" cy="1160.8" r="3.2"/><circle cx="60.6" cy="1178.9" r="3.2"/><circle cx="99.6" cy="1164.7" r="3.2"/><circle cx="57.6" cy="1179.8" r="3.2"/><circle cx="264.4" cy="1106.3" r="3.2"/><circle cx="180.7" cy="1141.3" r="3.2"/><circle cx="60.4" cy="1178.3" r="3.2"/><circle cx="56.1" cy="1180.9" r="3.2"/><circle cx="67.6" cy="1176.4" r="3.2"/><circle cx="142.6" cy="1151.7" r="3.2"/><circle cx="202.3" cy="1129.4" r="3.2"/><circle cx="85.8" cy="1168.5" r="3.2"/><circle cx="112.1" cy="1161.4" r="3.2"/><circle cx="120.5" cy="1161.3" r="3.2"/><circle cx="70.7" cy="1175.3" r="3.2"/><circle cx="208.1" cy="1129.8" r="3.2"/><circle cx="123.5" cy="1159.1" r="3.2"/><circle cx="272.7" cy="1103.7" r="3.2"/><circle cx="145.5" cy="1151.5" r="3.2"/><circle cx="91.5" cy="1168.5" r="3.2"/><circle cx="221.9" cy="1123.5" r="3.2"/><circle cx="113" cy="1162.5" r="3.2"/><circle cx="53.3" cy="1183" r="3.2"/><circle cx="82.9" cy="1169.1" r="3.2"/><circle cx="105.8" cy="1165.1" r="3.2"/><circle cx="82.4" cy="1169.1" r="3.2"/><circle cx="226" cy="1114.4" r="3.2"/><circle cx="145.3" cy="1151.9" r="3.2"/><circle cx="72.8" cy="1174.7" r="3.2"/><circle cx="265.7" cy="1105.3" r="3.2"/><circle cx="158.1" cy="1146.2" r="3.2"/><circle cx="181" cy="1131" r="3.2"/><circle cx="76.1" cy="1171.2" r="3.2"/><circle cx="130.7" cy="1156.3" r="3.2"/><circle cx="52.8" cy="1182.6" r="3.2"/><circle cx="196.2" cy="1129.5" r="3.2"/><circle cx="153.2" cy="1148.2" r="3.2"/><circle cx="59.9" cy="1179.1" r="3.2"/><circle cx="137.1" cy="1155.8" r="3.2"/><circle cx="107.1" cy="1163.1" r="3.2"/><circle cx="70.6" cy="1175.7" r="3.2"/><circle cx="136.9" cy="1152.7" r="3.2"/><circle cx="138.3" cy="1153.4" r="3.2"/><circle cx="124.5" cy="1158.1" r="3.2"/><circle cx="274.4" cy="1111.7" r="3.2"/><circle cx="209.9" cy="1129" r="3.2"/><circle cx="84.3" cy="1167" r="3.2"/><circle cx="184.4" cy="1135.7" r="3.2"/><circle cx="164.3" cy="1143.9" r="3.2"/><circle cx="271.5" cy="1107.5" r="3.2"/><circle cx="63.5" cy="1178.3" r="3.2"/><circle cx="242.7" cy="1115.7" r="3.2"/><circle cx="161.8" cy="1145.5" r="3.2"/><circle cx="125.4" cy="1156" r="3.2"/><circle cx="109.5" cy="1164" r="3.2"/><circle cx="79.8" cy="1171.2" r="3.2"/><circle cx="193" cy="1132.7" r="3.2"/><circle cx="136" cy="1154.4" r="3.2"/><circle cx="100.8" cy="1165.5" r="3.2"/><circle cx="83.8" cy="1168.8" r="3.2"/><circle cx="109.4" cy="1165.1" r="3.2"/><circle cx="63.4" cy="1177.2" r="3.2"/><circle cx="73.1" cy="1175" r="3.2"/><circle cx="71.6" cy="1174.4" r="3.2"/><circle cx="68.5" cy="1176.4" r="3.2"/><circle cx="258.3" cy="1109.8" r="3.2"/><circle cx="128.8" cy="1155.9" r="3.2"/><circle cx="98.3" cy="1166" r="3.2"/><circle cx="138" cy="1158.7" r="3.2"/><circle cx="61.6" cy="1178.5" r="3.2"/><circle cx="222" cy="1125.1" r="3.2"/><circle cx="64.8" cy="1173.9" r="3.2"/><circle cx="236.3" cy="1131.7" r="3.2"/><circle cx="130.1" cy="1155.5" r="3.2"/><circle cx="121.2" cy="1159.8" r="3.2"/><circle cx="177.9" cy="1140.2" r="3.2"/><circle cx="170.2" cy="1143.4" r="3.2"/><circle cx="277" cy="1106.1" r="3.2"/><circle cx="79.4" cy="1170.7" r="3.2"/><circle cx="185.3" cy="1134.4" r="3.2"/><circle cx="124" cy="1159.5" r="3.2"/><circle cx="142.5" cy="1155" r="3.2"/><circle cx="83.7" cy="1172.2" r="3.2"/><circle cx="79.4" cy="1170.9" r="3.2"/><circle cx="112" cy="1160.9" r="3.2"/><circle cx="114.3" cy="1160.1" r="3.2"/><circle cx="81.5" cy="1170.1" r="3.2"/><circle cx="65" cy="1176.7" r="3.2"/><circle cx="135.5" cy="1154.2" r="3.2"/><circle cx="85.7" cy="1171" r="3.2"/><circle cx="51.1" cy="1182.4" r="3.2"/><circle cx="88.4" cy="1167" r="3.2"/><circle cx="169.8" cy="1143.4" r="3.2"/><circle cx="64.5" cy="1178" r="3.2"/><circle cx="52" cy="1182.5" r="3.2"/><circle cx="51.6" cy="1182.3" r="3.2"/><circle cx="74.2" cy="1173.8" r="3.2"/><circle cx="143.3" cy="1153.4" r="3.2"/><circle cx="93.5" cy="1170.4" r="3.2"/><circle cx="244" cy="1114.9" r="3.2"/><circle cx="115.5" cy="1162.2" r="3.2"/><circle cx="235.3" cy="1123" r="3.2"/><circle cx="91.2" cy="1166.5" r="3.2"/><circle cx="221" cy="1121.4" r="3.2"/><circle cx="251.7" cy="1112.2" r="3.2"/><circle cx="156.3" cy="1147.9" r="3.2"/><circle cx="114.1" cy="1160.3" r="3.2"/><circle cx="177.5" cy="1140.5" r="3.2"/><circle cx="161.5" cy="1144.5" r="3.2"/><circle cx="85.6" cy="1166.7" r="3.2"/><circle cx="178.6" cy="1139.8" r="3.2"/><circle cx="204.3" cy="1127.9" r="3.2"/><circle cx="119.1" cy="1157.6" r="3.2"/><circle cx="91.4" cy="1168.3" r="3.2"/><circle cx="64.6" cy="1177.5" r="3.2"/><circle cx="231.5" cy="1121.3" r="3.2"/><circle cx="110.9" cy="1164.5" r="3.2"/><circle cx="98.9" cy="1169.5" r="3.2"/><circle cx="84.4" cy="1170.1" r="3.2"/><circle cx="181.7" cy="1139.6" r="3.2"/><circle cx="75.2" cy="1174" r="3.2"/><circle cx="69.6" cy="1175.3" r="3.2"/><circle cx="227.5" cy="1126.2" r="3.2"/><circle cx="52.7" cy="1182.3" r="3.2"/><circle cx="180.1" cy="1135.8" r="3.2"/><circle cx="97.2" cy="1163.1" r="3.2"/><circle cx="105.2" cy="1160.5" r="3.2"/><circle cx="193.1" cy="1131.9" r="3.2"/><circle cx="94.1" cy="1166.4" r="3.2"/><circle cx="229.5" cy="1124.1" r="3.2"/><circle cx="159.6" cy="1143.5" r="3.2"/><circle cx="103.7" cy="1164.4" r="3.2"/><circle cx="211.1" cy="1130.8" r="3.2"/><circle cx="63.8" cy="1178.2" r="3.2"/><circle cx="88.4" cy="1168.9" r="3.2"/><circle cx="107.5" cy="1164.2" r="3.2"/><circle cx="52.8" cy="1181.6" r="3.2"/><circle cx="50.3" cy="1182.1" r="3.2"/><circle cx="186.1" cy="1126.7" r="3.2"/><circle cx="184.7" cy="1135.9" r="3.2"/><circle cx="63.6" cy="1177.5" r="3.2"/><circle cx="168.8" cy="1142.5" r="3.2"/><circle cx="217.2" cy="1125.8" r="3.2"/><circle cx="100.1" cy="1167.4" r="3.2"/><circle cx="49.7" cy="1183" r="3.2"/><circle cx="172.5" cy="1138.9" r="3.2"/><circle cx="94.9" cy="1166.6" r="3.2"/><circle cx="90.7" cy="1167.8" r="3.2"/><circle cx="125.4" cy="1157.8" r="3.2"/><circle cx="260.2" cy="1113" r="3.2"/><circle cx="145.5" cy="1151.7" r="3.2"/><circle cx="196.1" cy="1136.3" r="3.2"/><circle cx="237.7" cy="1118.3" r="3.2"/><circle cx="69.7" cy="1176.8" r="3.2"/><circle cx="51.5" cy="1182.5" r="3.2"/><circle cx="162.6" cy="1143.4" r="3.2"/><circle cx="54.3" cy="1181.4" r="3.2"/><circle cx="127.3" cy="1160.3" r="3.2"/><circle cx="103.4" cy="1164" r="3.2"/><circle cx="58.5" cy="1179.5" r="3.2"/><circle cx="220.5" cy="1129.9" r="3.2"/><circle cx="171.9" cy="1139.7" r="3.2"/><circle cx="105.3" cy="1164.6" r="3.2"/><circle cx="109.9" cy="1162.9" r="3.2"/><circle cx="73.8" cy="1172.2" r="3.2"/><circle cx="112.7" cy="1163.3" r="3.2"/><circle cx="90.4" cy="1168" r="3.2"/><circle cx="171" cy="1139.7" r="3.2"/><circle cx="62.2" cy="1176.4" r="3.2"/><circle cx="56.6" cy="1180.5" r="3.2"/><circle cx="88.2" cy="1168.3" r="3.2"/><circle cx="113.4" cy="1164" r="3.2"/><circle cx="68.5" cy="1177.3" r="3.2"/><circle cx="133.4" cy="1155.8" r="3.2"/><circle cx="53.9" cy="1180.8" r="3.2"/><circle cx="112.6" cy="1159.1" r="3.2"/><circle cx="49.4" cy="1184.5" r="3.2"/><circle cx="61.3" cy="1178.9" r="3.2"/><circle cx="119.3" cy="1160.6" r="3.2"/><circle cx="103.3" cy="1165.8" r="3.2"/><circle cx="73.7" cy="1173.6" r="3.2"/><circle cx="166.8" cy="1142.4" r="3.2"/><circle cx="93" cy="1166.4" r="3.2"/><circle cx="171.3" cy="1139.6" r="3.2"/><circle cx="109.4" cy="1161.5" r="3.2"/><circle cx="113.4" cy="1162.9" r="3.2"/><circle cx="118.3" cy="1159.3" r="3.2"/><circle cx="126.1" cy="1158.1" r="3.2"/><circle cx="49.7" cy="1182.5" r="3.2"/><circle cx="113" cy="1167.9" r="3.2"/><circle cx="63.1" cy="1177.1" r="3.2"/><circle cx="183.7" cy="1130.1" r="3.2"/><circle cx="50.6" cy="1181" r="3.2"/><circle cx="59.7" cy="1177.9" r="3.2"/><circle cx="51" cy="1183" r="3.2"/><circle cx="69.8" cy="1174.8" r="3.2"/><circle cx="59.5" cy="1178.6" r="3.2"/><circle cx="104.4" cy="1168.3" r="3.2"/><circle cx="66.8" cy="1177.6" r="3.2"/><circle cx="117.3" cy="1161.1" r="3.2"/><circle cx="56.1" cy="1180.3" r="3.2"/><circle cx="56.8" cy="1181.5" r="3.2"/><circle cx="108.4" cy="1162.8" r="3.2"/><circle cx="86.6" cy="1169.8" r="3.2"/><circle cx="56" cy="1181.3" r="3.2"/><circle cx="193.4" cy="1132.1" r="3.2"/><circle cx="188.7" cy="1134.3" r="3.2"/><circle cx="207.1" cy="1127.7" r="3.2"/><circle cx="113.7" cy="1164.3" r="3.2"/><circle cx="78" cy="1172.8" r="3.2"/><circle cx="85.6" cy="1165.8" r="3.2"/><circle cx="160.6" cy="1145.4" r="3.2"/><circle cx="78.5" cy="1171.2" r="3.2"/><circle cx="125.8" cy="1154.8" r="3.2"/><circle cx="120.6" cy="1159.6" r="3.2"/><circle cx="94.7" cy="1165.7" r="3.2"/><circle cx="49.5" cy="1182.8" r="3.2"/><circle cx="101.8" cy="1164.2" r="3.2"/><circle cx="68.7" cy="1175.7" r="3.2"/><circle cx="100.3" cy="1165.3" r="3.2"/><circle cx="139.1" cy="1157.3" r="3.2"/><circle cx="138.7" cy="1153.3" r="3.2"/><circle cx="76.5" cy="1173.4" r="3.2"/><circle cx="68.6" cy="1175.4" r="3.2"/><circle cx="141.3" cy="1151.3" r="3.2"/><circle cx="102.3" cy="1165.4" r="3.2"/><circle cx="58.1" cy="1179.3" r="3.2"/><circle cx="191.1" cy="1133.6" r="3.2"/><circle cx="273.3" cy="1100.2" r="3.2"/><circle cx="191.6" cy="1134.3" r="3.2"/><circle cx="209.3" cy="1126.6" r="3.2"/><circle cx="127.1" cy="1156.7" r="3.2"/><circle cx="147.4" cy="1150.2" r="3.2"/><circle cx="188.6" cy="1134.4" r="3.2"/><circle cx="91.4" cy="1167.3" r="3.2"/><circle cx="248.2" cy="1115.3" r="3.2"/><circle cx="111.7" cy="1162.1" r="3.2"/><circle cx="111.7" cy="1162.3" r="3.2"/><circle cx="98.5" cy="1165.4" r="3.2"/><circle cx="68.3" cy="1176.3" r="3.2"/><circle cx="166.7" cy="1142.1" r="3.2"/><circle cx="83.5" cy="1169.4" r="3.2"/><circle cx="125" cy="1161.9" r="3.2"/><circle cx="99.2" cy="1162.1" r="3.2"/><circle cx="70.2" cy="1175" r="3.2"/><circle cx="201.8" cy="1131.5" r="3.2"/><circle cx="208.3" cy="1128.6" r="3.2"/><circle cx="191.7" cy="1130.9" r="3.2"/><circle cx="142.4" cy="1151" r="3.2"/><circle cx="68.6" cy="1175.3" r="3.2"/><circle cx="189.1" cy="1137.9" r="3.2"/><circle cx="105.1" cy="1165.7" r="3.2"/><circle cx="75.5" cy="1170.8" r="3.2"/><circle cx="82.3" cy="1169.9" r="3.2"/><circle cx="112.5" cy="1164.3" r="3.2"/><circle cx="92.6" cy="1169.2" r="3.2"/><circle cx="186.8" cy="1136.9" r="3.2"/><circle cx="108.1" cy="1169.6" r="3.2"/><circle cx="139.1" cy="1151.4" r="3.2"/><circle cx="114.6" cy="1162.4" r="3.2"/><circle cx="90.8" cy="1166.9" r="3.2"/><circle cx="151.9" cy="1145.6" r="3.2"/><circle cx="152.8" cy="1150.5" r="3.2"/><circle cx="64.2" cy="1176.6" r="3.2"/><circle cx="235.2" cy="1118.3" r="3.2"/><circle cx="211.7" cy="1129.2" r="3.2"/><circle cx="94.6" cy="1167.2" r="3.2"/><circle cx="97.2" cy="1168" r="3.2"/><circle cx="136.7" cy="1154.5" r="3.2"/><circle cx="73.1" cy="1173" r="3.2"/><circle cx="164.6" cy="1141.8" r="3.2"/><circle cx="146.4" cy="1151.7" r="3.2"/><circle cx="65.2" cy="1177.1" r="3.2"/><circle cx="130" cy="1157" r="3.2"/><circle cx="104.9" cy="1162.2" r="3.2"/><circle cx="144.1" cy="1151" r="3.2"/><circle cx="128.6" cy="1158.7" r="3.2"/><circle cx="265.7" cy="1115" r="3.2"/><circle cx="164.4" cy="1140.5" r="3.2"/><circle cx="149.6" cy="1150.8" r="3.2"/><circle cx="133.7" cy="1156.7" r="3.2"/><circle cx="86.2" cy="1168.6" r="3.2"/><circle cx="150" cy="1151.3" r="3.2"/><circle cx="100.2" cy="1165.7" r="3.2"/><circle cx="60.4" cy="1179.9" r="3.2"/><circle cx="243.1" cy="1116.5" r="3.2"/><circle cx="123.1" cy="1158.4" r="3.2"/><circle cx="95.7" cy="1165" r="3.2"/><circle cx="130.1" cy="1159.4" r="3.2"/><circle cx="178.2" cy="1135.8" r="3.2"/><circle cx="126.2" cy="1158.7" r="3.2"/><circle cx="86" cy="1170.2" r="3.2"/><circle cx="81" cy="1171.5" r="3.2"/><circle cx="76" cy="1171.4" r="3.2"/><circle cx="240.6" cy="1119.3" r="3.2"/><circle cx="57.2" cy="1180.5" r="3.2"/><circle cx="72.1" cy="1174.9" r="3.2"/><circle cx="113.3" cy="1160" r="3.2"/><circle cx="160.4" cy="1143.7" r="3.2"/><circle cx="157.8" cy="1145.7" r="3.2"/><circle cx="265.2" cy="1109" r="3.2"/><circle cx="145.7" cy="1151.5" r="3.2"/><circle cx="131.4" cy="1158.4" r="3.2"/><circle cx="179.2" cy="1138.8" r="3.2"/><circle cx="153.2" cy="1148.4" r="3.2"/><circle cx="65.9" cy="1177.9" r="3.2"/><circle cx="50.6" cy="1183.1" r="3.2"/><circle cx="90" cy="1167.4" r="3.2"/><circle cx="137.3" cy="1154.9" r="3.2"/><circle cx="97.2" cy="1165.8" r="3.2"/><circle cx="142.3" cy="1151.5" r="3.2"/><circle cx="96.5" cy="1166.9" r="3.2"/><circle cx="67.2" cy="1176" r="3.2"/><circle cx="176.3" cy="1139.5" r="3.2"/><circle cx="270.6" cy="1105.8" r="3.2"/><circle cx="185.4" cy="1136.4" r="3.2"/><circle cx="58.3" cy="1180.4" r="3.2"/><circle cx="252" cy="1112.3" r="3.2"/><circle cx="53.5" cy="1181.4" r="3.2"/><circle cx="87.4" cy="1169.5" r="3.2"/><circle cx="120.3" cy="1160.7" r="3.2"/><circle cx="65.8" cy="1176.2" r="3.2"/><circle cx="103.3" cy="1165" r="3.2"/><circle cx="199.2" cy="1131" r="3.2"/><circle cx="185.9" cy="1134.3" r="3.2"/><circle cx="84.7" cy="1169.2" r="3.2"/><circle cx="60.6" cy="1177.6" r="3.2"/><circle cx="73.2" cy="1174.2" r="3.2"/><circle cx="69.1" cy="1174.5" r="3.2"/><circle cx="84.1" cy="1167.4" r="3.2"/><circle cx="71.3" cy="1176" r="3.2"/><circle cx="196.8" cy="1132.2" r="3.2"/><circle cx="147.5" cy="1150.9" r="3.2"/><circle cx="58.9" cy="1178.6" r="3.2"/><circle cx="139.1" cy="1152.4" r="3.2"/><circle cx="88.7" cy="1167.1" r="3.2"/><circle cx="56.7" cy="1179.9" r="3.2"/><circle cx="87.5" cy="1169.9" r="3.2"/><circle cx="75.5" cy="1171.3" r="3.2"/><circle cx="116.6" cy="1161" r="3.2"/><circle cx="130.5" cy="1156.8" r="3.2"/><circle cx="208.4" cy="1129.7" r="3.2"/><circle cx="61.8" cy="1179.9" r="3.2"/><circle cx="112.8" cy="1160.2" r="3.2"/><circle cx="164.9" cy="1146.9" r="3.2"/><circle cx="85.3" cy="1167.6" r="3.2"/><circle cx="147.7" cy="1150.5" r="3.2"/><circle cx="241" cy="1118.8" r="3.2"/><circle cx="49.1" cy="1185.4" r="3.2"/><circle cx="99" cy="1168.7" r="3.2"/><circle cx="95.3" cy="1166" r="3.2"/><circle cx="107.9" cy="1161.7" r="3.2"/><circle cx="164" cy="1142.9" r="3.2"/><circle cx="155.1" cy="1149.9" r="3.2"/><circle cx="235" cy="1115" r="3.2"/><circle cx="162.6" cy="1146.3" r="3.2"/><circle cx="71.6" cy="1172.4" r="3.2"/><circle cx="129.8" cy="1157.8" r="3.2"/><circle cx="143.4" cy="1151.7" r="3.2"/><circle cx="138.4" cy="1154.2" r="3.2"/><circle cx="124.1" cy="1158.6" r="3.2"/><circle cx="191.4" cy="1133.7" r="3.2"/><circle cx="92.9" cy="1164.2" r="3.2"/><circle cx="100.3" cy="1166" r="3.2"/><circle cx="169.2" cy="1144.1" r="3.2"/><circle cx="53.6" cy="1182.2" r="3.2"/><circle cx="109.8" cy="1162.1" r="3.2"/><circle cx="216.7" cy="1128.8" r="3.2"/><circle cx="119.8" cy="1160.2" r="3.2"/><circle cx="130.1" cy="1154.9" r="3.2"/><circle cx="188.8" cy="1136.8" r="3.2"/><circle cx="259.9" cy="1113.3" r="3.2"/><circle cx="57" cy="1180.9" r="3.2"/><circle cx="176.3" cy="1141" r="3.2"/><circle cx="63.4" cy="1178.6" r="3.2"/><circle cx="253.9" cy="1108.8" r="3.2"/><circle cx="74.1" cy="1175" r="3.2"/><circle cx="143.6" cy="1153.6" r="3.2"/><circle cx="75.3" cy="1171.7" r="3.2"/><circle cx="195" cy="1133.7" r="3.2"/><circle cx="182" cy="1137.4" r="3.2"/><circle cx="47.3" cy="1183.4" r="3.2"/><circle cx="84.4" cy="1168.6" r="3.2"/><circle cx="50.8" cy="1181.6" r="3.2"/><circle cx="58.7" cy="1181.4" r="3.2"/><circle cx="185.6" cy="1135.3" r="3.2"/><circle cx="62.8" cy="1178.9" r="3.2"/><circle cx="125" cy="1156.9" r="3.2"/><circle cx="49.5" cy="1182.3" r="3.2"/><circle cx="159.9" cy="1145.9" r="3.2"/><circle cx="80.9" cy="1169.9" r="3.2"/><circle cx="264.9" cy="1110.4" r="3.2"/><circle cx="132.5" cy="1156.2" r="3.2"/><circle cx="63.3" cy="1178" r="3.2"/><circle cx="50.5" cy="1183.8" r="3.2"/><circle cx="57.4" cy="1179" r="3.2"/><circle cx="273.8" cy="1098.1" r="3.2"/><circle cx="51.5" cy="1182.4" r="3.2"/><circle cx="76.3" cy="1172.9" r="3.2"/><circle cx="52.6" cy="1183" r="3.2"/><circle cx="218.8" cy="1125.8" r="3.2"/><circle cx="160.8" cy="1143.4" r="3.2"/><circle cx="263.2" cy="1111.9" r="3.2"/><circle cx="180.2" cy="1138.8" r="3.2"/><circle cx="90.3" cy="1167.7" r="3.2"/><circle cx="88.9" cy="1169" r="3.2"/><circle cx="61.6" cy="1177.7" r="3.2"/><circle cx="105.4" cy="1164.8" r="3.2"/><circle cx="197.6" cy="1129.6" r="3.2"/><circle cx="86.8" cy="1168.7" r="3.2"/><circle cx="88.6" cy="1169.5" r="3.2"/><circle cx="64.2" cy="1178.6" r="3.2"/><circle cx="60.4" cy="1178.3" r="3.2"/><circle cx="168" cy="1141.9" r="3.2"/><circle cx="120.3" cy="1160.1" r="3.2"/><circle cx="108.1" cy="1165.2" r="3.2"/><circle cx="182.3" cy="1135.6" r="3.2"/><circle cx="247.5" cy="1115.2" r="3.2"/><circle cx="53.1" cy="1181.1" r="3.2"/><circle cx="176" cy="1136.2" r="3.2"/><circle cx="84.6" cy="1169.4" r="3.2"/><circle cx="268.3" cy="1106.1" r="3.2"/><circle cx="215.5" cy="1127.2" r="3.2"/><circle cx="57.8" cy="1179.9" r="3.2"/><circle cx="110.8" cy="1163.8" r="3.2"/><circle cx="106.5" cy="1163.8" r="3.2"/><circle cx="101.2" cy="1166.7" r="3.2"/><circle cx="113.9" cy="1161.4" r="3.2"/><circle cx="169.1" cy="1140.1" r="3.2"/><circle cx="94.4" cy="1168.5" r="3.2"/><circle cx="165.3" cy="1145.3" r="3.2"/><circle cx="203.5" cy="1128" r="3.2"/><circle cx="132" cy="1156.6" r="3.2"/><circle cx="99.2" cy="1164.6" r="3.2"/><circle cx="139.1" cy="1154.8" r="3.2"/><circle cx="285.6" cy="1108.1" r="3.2"/><circle cx="131.6" cy="1156.5" r="3.2"/><circle cx="230.9" cy="1121.7" r="3.2"/><circle cx="83.7" cy="1169.7" r="3.2"/><circle cx="125.5" cy="1158.7" r="3.2"/><circle cx="136" cy="1158.6" r="3.2"/><circle cx="151.1" cy="1153.6" r="3.2"/><circle cx="144.2" cy="1152.3" r="3.2"/><circle cx="129.2" cy="1156.8" r="3.2"/><circle cx="177.3" cy="1140.1" r="3.2"/><circle cx="49.4" cy="1183.1" r="3.2"/><circle cx="101.4" cy="1166.3" r="3.2"/><circle cx="103.7" cy="1165.9" r="3.2"/><circle cx="55.1" cy="1181.2" r="3.2"/><circle cx="114.9" cy="1163.4" r="3.2"/><circle cx="103.2" cy="1165.4" r="3.2"/><circle cx="237.5" cy="1120.4" r="3.2"/><circle cx="101" cy="1164.7" r="3.2"/><circle cx="173" cy="1131.5" r="3.2"/><circle cx="114.9" cy="1164.1" r="3.2"/><circle cx="78.6" cy="1170.8" r="3.2"/><circle cx="211.8" cy="1129.6" r="3.2"/><circle cx="58.2" cy="1180.6" r="3.2"/><circle cx="249.2" cy="1116.6" r="3.2"/><circle cx="138.6" cy="1154.8" r="3.2"/><circle cx="123.2" cy="1157.9" r="3.2"/><circle cx="199.4" cy="1132.3" r="3.2"/><circle cx="57.4" cy="1179.9" r="3.2"/><circle cx="96" cy="1166" r="3.2"/><circle cx="62.9" cy="1178" r="3.2"/><circle cx="131.4" cy="1162.4" r="3.2"/><circle cx="62.8" cy="1178.9" r="3.2"/><circle cx="123.4" cy="1159.7" r="3.2"/><circle cx="225.2" cy="1122.2" r="3.2"/><circle cx="66.8" cy="1177.8" r="3.2"/><circle cx="143" cy="1151.7" r="3.2"/><circle cx="183.7" cy="1136.6" r="3.2"/><circle cx="166.8" cy="1146.4" r="3.2"/><circle cx="246" cy="1118.9" r="3.2"/><circle cx="103.1" cy="1165.4" r="3.2"/><circle cx="143.4" cy="1151" r="3.2"/><circle cx="242.5" cy="1117" r="3.2"/><circle cx="111.6" cy="1162.9" r="3.2"/><circle cx="80.4" cy="1171.4" r="3.2"/><circle cx="111.5" cy="1161.8" r="3.2"/><circle cx="153.1" cy="1151.9" r="3.2"/><circle cx="93.6" cy="1167.9" r="3.2"/><circle cx="79.5" cy="1170.2" r="3.2"/><circle cx="153.2" cy="1150.5" r="3.2"/><circle cx="144.4" cy="1150.4" r="3.2"/><circle cx="161.5" cy="1147.1" r="3.2"/><circle cx="118.9" cy="1161.7" r="3.2"/><circle cx="206.3" cy="1128.6" r="3.2"/><circle cx="61.3" cy="1180.2" r="3.2"/><circle cx="80.9" cy="1171.7" r="3.2"/><circle cx="149" cy="1151.4" r="3.2"/><circle cx="60.9" cy="1177.8" r="3.2"/><circle cx="163.1" cy="1145.9" r="3.2"/><circle cx="98.7" cy="1164.6" r="3.2"/><circle cx="67.7" cy="1175.7" r="3.2"/><circle cx="174.2" cy="1146.1" r="3.2"/><circle cx="70.8" cy="1175.5" r="3.2"/><circle cx="141" cy="1153.5" r="3.2"/><circle cx="159.6" cy="1145.9" r="3.2"/><circle cx="84.4" cy="1168.7" r="3.2"/><circle cx="97.2" cy="1167.1" r="3.2"/><circle cx="277.9" cy="1101.1" r="3.2"/><circle cx="176" cy="1136.8" r="3.2"/><circle cx="112.7" cy="1168.6" r="3.2"/><circle cx="148.9" cy="1152.6" r="3.2"/><circle cx="143.3" cy="1155.6" r="3.2"/><circle cx="183.1" cy="1136.6" r="3.2"/><circle cx="146.7" cy="1152.6" r="3.2"/><circle cx="123.5" cy="1156.8" r="3.2"/><circle cx="209.8" cy="1133.9" r="3.2"/><circle cx="116.1" cy="1161.6" r="3.2"/><circle cx="120.9" cy="1160.7" r="3.2"/><circle cx="184.4" cy="1134.4" r="3.2"/><circle cx="184.5" cy="1140.3" r="3.2"/><circle cx="64.1" cy="1178.1" r="3.2"/><circle cx="71.9" cy="1175" r="3.2"/><circle cx="136.3" cy="1153.4" r="3.2"/><circle cx="107.5" cy="1163.1" r="3.2"/><circle cx="134.2" cy="1156.7" r="3.2"/><circle cx="159.9" cy="1143.3" r="3.2"/><circle cx="86.7" cy="1171.3" r="3.2"/><circle cx="75.2" cy="1174.9" r="3.2"/><circle cx="205.5" cy="1127" r="3.2"/><circle cx="50.8" cy="1184.7" r="3.2"/><circle cx="88.2" cy="1168.8" r="3.2"/><circle cx="69.4" cy="1174.2" r="3.2"/><circle cx="118" cy="1159.6" r="3.2"/><circle cx="207.5" cy="1127.6" r="3.2"/><circle cx="165.1" cy="1147.8" r="3.2"/><circle cx="137.7" cy="1153.9" r="3.2"/><circle cx="69.1" cy="1175.7" r="3.2"/><circle cx="159.4" cy="1145.5" r="3.2"/><circle cx="147.2" cy="1150.3" r="3.2"/><circle cx="282.8" cy="1102.6" r="3.2"/><circle cx="158.5" cy="1146.8" r="3.2"/><circle cx="119.6" cy="1161.2" r="3.2"/><circle cx="77.9" cy="1173.6" r="3.2"/><circle cx="246.8" cy="1117" r="3.2"/><circle cx="243.4" cy="1117.7" r="3.2"/><circle cx="78.5" cy="1171.9" r="3.2"/><circle cx="54.1" cy="1181.9" r="3.2"/><circle cx="142.9" cy="1153.1" r="3.2"/><circle cx="50.8" cy="1181.9" r="3.2"/><circle cx="153.4" cy="1146.6" r="3.2"/><circle cx="72.5" cy="1172.9" r="3.2"/><circle cx="166.2" cy="1142.2" r="3.2"/><circle cx="134.3" cy="1157.3" r="3.2"/><circle cx="196.6" cy="1133.1" r="3.2"/><circle cx="239.6" cy="1117.5" r="3.2"/><circle cx="163.1" cy="1147.6" r="3.2"/><circle cx="157.2" cy="1147.7" r="3.2"/><circle cx="201.6" cy="1129.7" r="3.2"/><circle cx="49.8" cy="1183.5" r="3.2"/><circle cx="97.5" cy="1166.8" r="3.2"/><circle cx="189.6" cy="1133.4" r="3.2"/><circle cx="103" cy="1166.2" r="3.2"/><circle cx="102.8" cy="1164.6" r="3.2"/><circle cx="191" cy="1134.8" r="3.2"/><circle cx="122.4" cy="1156.7" r="3.2"/><circle cx="113.2" cy="1159.4" r="3.2"/><circle cx="84.8" cy="1168.6" r="3.2"/><circle cx="74.8" cy="1172.4" r="3.2"/><circle cx="163" cy="1142.6" r="3.2"/><circle cx="266.9" cy="1109.2" r="3.2"/><circle cx="63.5" cy="1178.6" r="3.2"/><circle cx="263.4" cy="1104.7" r="3.2"/><circle cx="134.7" cy="1157.5" r="3.2"/><circle cx="57.6" cy="1180" r="3.2"/><circle cx="47.3" cy="1183" r="3.2"/><circle cx="89.5" cy="1168.9" r="3.2"/><circle cx="74.7" cy="1175.5" r="3.2"/><circle cx="133.6" cy="1153.1" r="3.2"/><circle cx="285.2" cy="1099.6" r="3.2"/><circle cx="93.6" cy="1167.5" r="3.2"/><circle cx="74.4" cy="1172.2" r="3.2"/><circle cx="147.7" cy="1149.6" r="3.2"/><circle cx="62.9" cy="1178.5" r="3.2"/><circle cx="64.5" cy="1177.3" r="3.2"/><circle cx="80.5" cy="1172.6" r="3.2"/><circle cx="220" cy="1124" r="3.2"/><circle cx="161.4" cy="1146.1" r="3.2"/><circle cx="80.4" cy="1170.4" r="3.2"/><circle cx="128.7" cy="1156.9" r="3.2"/><circle cx="73" cy="1174" r="3.2"/><circle cx="164.6" cy="1147.9" r="3.2"/><circle cx="60.8" cy="1178.4" r="3.2"/><circle cx="157.3" cy="1146" r="3.2"/><circle cx="253" cy="1112.6" r="3.2"/><circle cx="120.6" cy="1154.8" r="3.2"/><circle cx="193.6" cy="1132.3" r="3.2"/><circle cx="115.2" cy="1161.7" r="3.2"/><circle cx="108.4" cy="1162.8" r="3.2"/><circle cx="223.3" cy="1122.7" r="3.2"/><circle cx="55.3" cy="1182.3" r="3.2"/><circle cx="177.6" cy="1138.7" r="3.2"/><circle cx="150.2" cy="1149.3" r="3.2"/><circle cx="213.7" cy="1127.6" r="3.2"/><circle cx="81" cy="1171" r="3.2"/><circle cx="290.3" cy="1098.9" r="3.2"/><circle cx="291.9" cy="1098.6" r="3.2"/><circle cx="293.5" cy="1097.5" r="3.2"/><circle cx="294.9" cy="1097.5" r="3.2"/><circle cx="296.9" cy="1096.9" r="3.2"/><circle cx="298.1" cy="1096.3" r="3.2"/><circle cx="299.8" cy="1095.7" r="3.2"/><circle cx="302" cy="1095.2" r="3.2"/><circle cx="303.6" cy="1094.6" r="3.2"/><circle cx="305.1" cy="1093" r="3.2"/><circle cx="307.3" cy="1093" r="3.2"/><circle cx="309" cy="1092.6" r="3.2"/><circle cx="310.5" cy="1092.1" r="3.2"/><circle cx="312.4" cy="1091.8" r="3.2"/><circle cx="313.8" cy="1090.7" r="3.2"/><circle cx="315.9" cy="1089.9" r="3.2"/><circle cx="317.5" cy="1089.7" r="3.2"/><circle cx="319" cy="1089.2" r="3.2"/><circle cx="320.5" cy="1088.8" r="3.2"/><circle cx="322.7" cy="1087.9" r="3.2"/><circle cx="324.3" cy="1087.3" r="3.2"/><circle cx="326.1" cy="1086.8" r="3.2"/><circle cx="327.2" cy="1086.1" r="3.2"/><circle cx="328.8" cy="1086" r="3.2"/><circle cx="331.2" cy="1085.5" r="3.2"/><circle cx="332.4" cy="1084.3" r="3.2"/><circle cx="334.2" cy="1083.9" r="3.2"/><circle cx="336.2" cy="1083.4" r="3.2"/><circle cx="337.4" cy="1083.2" r="3.2"/><circle cx="339" cy="1082" r="3.2"/><circle cx="341" cy="1081.2" r="3.2"/><circle cx="342.8" cy="1080.9" r="3.2"/><circle cx="344.6" cy="1080.5" r="3.2"/><circle cx="346.4" cy="1079.5" r="3.2"/><circle cx="347.7" cy="1079.2" r="3.2"/><circle cx="349.3" cy="1078.5" r="3.2"/><circle cx="351.4" cy="1077.4" r="3.2"/><circle cx="352.6" cy="1077.1" r="3.2"/><circle cx="354.2" cy="1076.9" r="3.2"/><circle cx="356.6" cy="1075.7" r="3.2"/><circle cx="357.9" cy="1075" r="3.2"/><circle cx="359.8" cy="1074.6" r="3.2"/><circle cx="361.4" cy="1074" r="3.2"/><circle cx="362.8" cy="1073.2" r="3.2"/><circle cx="364.8" cy="1072.7" r="3.2"/><circle cx="366.7" cy="1071.6" r="3.2"/><circle cx="367.9" cy="1070.7" r="3.2"/><circle cx="370" cy="1070.5" r="3.2"/><circle cx="371.3" cy="1069.6" r="3.2"/><circle cx="373.5" cy="1069.4" r="3.2"/><circle cx="374.6" cy="1068.3" r="3.2"/><circle cx="376.6" cy="1068.1" r="3.2"/><circle cx="378.1" cy="1067.7" r="3.2"/><circle cx="380.4" cy="1067.3" r="3.2"/><circle cx="381.9" cy="1066.2" r="3.2"/><circle cx="383.3" cy="1065.4" r="3.2"/><circle cx="385" cy="1064.6" r="3.2"/><circle cx="386.9" cy="1064.1" r="3.2"/><circle cx="388.5" cy="1063.7" r="3.2"/><circle cx="390" cy="1062.7" r="3.2"/><circle cx="392.3" cy="1062.8" r="3.2"/><circle cx="393.4" cy="1061.8" r="3.2"/><circle cx="395" cy="1061.5" r="3.2"/><circle cx="396.8" cy="1060.9" r="3.2"/><circle cx="398.7" cy="1059.8" r="3.2"/><circle cx="400.8" cy="1059.2" r="3.2"/><circle cx="401.9" cy="1059.2" r="3.2"/><circle cx="404" cy="1057.9" r="3.2"/><circle cx="405.8" cy="1057.4" r="3.2"/><circle cx="407.7" cy="1057.3" r="3.2"/><circle cx="408.9" cy="1056.5" r="3.2"/><circle cx="410.6" cy="1056.3" r="3.2"/><circle cx="412.5" cy="1056" r="3.2"/><circle cx="414.2" cy="1054.6" r="3.2"/><circle cx="415.6" cy="1054.1" r="3.2"/><circle cx="417.3" cy="1053.5" r="3.2"/><circle cx="418.9" cy="1052.7" r="3.2"/><circle cx="420.9" cy="1052.4" r="3.2"/><circle cx="425.8" cy="1050.3" r="3.2"/><circle cx="427.5" cy="1049.3" r="3.2"/><circle cx="429.5" cy="1048.5" r="3.2"/><circle cx="431" cy="1048.5" r="3.2"/><circle cx="432.4" cy="1048.1" r="3.2"/><circle cx="434.5" cy="1047.3" r="3.2"/><circle cx="436.2" cy="1046.6" r="3.2"/><circle cx="437.8" cy="1045.9" r="3.2"/><circle cx="439.3" cy="1045.8" r="3.2"/><circle cx="441.2" cy="1044.4" r="3.2"/><circle cx="443.2" cy="1043.8" r="3.2"/><circle cx="444.7" cy="1043.6" r="3.2"/><circle cx="446.7" cy="1043.2" r="3.2"/><circle cx="448" cy="1042.6" r="3.2"/><circle cx="450" cy="1041.6" r="3.2"/><circle cx="451.6" cy="1041.2" r="3.2"/><circle cx="453.4" cy="1040.8" r="3.2"/><circle cx="454.8" cy="1040.8" r="3.2"/><circle cx="456.9" cy="1040" r="3.2"/><circle cx="458.4" cy="1039.4" r="3.2"/><circle cx="459.6" cy="1039.1" r="3.2"/><circle cx="461.8" cy="1037.6" r="3.2"/><circle cx="463.7" cy="1037.7" r="3.2"/><circle cx="464.8" cy="1036.9" r="3.2"/><circle cx="466.9" cy="1036.4" r="3.2"/><circle cx="468.9" cy="1036.1" r="3.2"/><circle cx="470.2" cy="1035.4" r="3.2"/><circle cx="471.8" cy="1035.1" r="3.2"/><circle cx="473.6" cy="1034.9" r="3.2"/><circle cx="475.7" cy="1033.5" r="3.2"/><circle cx="477.1" cy="1033.6" r="3.2"/><circle cx="478.8" cy="1032.9" r="3.2"/><circle cx="480.5" cy="1032.5" r="3.2"/><circle cx="481.8" cy="1031.6" r="3.2"/><circle cx="483.8" cy="1030.5" r="3.2"/><circle cx="485.5" cy="1030.2" r="3.2"/><circle cx="487.2" cy="1029.6" r="3.2"/><circle cx="489.2" cy="1028.9" r="3.2"/><circle cx="490.6" cy="1028.6" r="3.2"/><circle cx="492.3" cy="1028.1" r="3.2"/><circle cx="493.7" cy="1026.9" r="3.2"/><circle cx="496" cy="1026.9" r="3.2"/><circle cx="497.7" cy="1026.2" r="3.2"/><circle cx="499.4" cy="1026.3" r="3.2"/><circle cx="501" cy="1024.3" r="3.2"/><circle cx="502.4" cy="1023.8" r="3.2"/><circle cx="504.4" cy="1023.4" r="3.2"/><circle cx="505.6" cy="1023.3" r="3.2"/><circle cx="507.7" cy="1021.9" r="3.2"/><circle cx="509" cy="1021.6" r="3.2"/><circle cx="511.1" cy="1020.9" r="3.2"/><circle cx="513" cy="1020.5" r="3.2"/><circle cx="514.5" cy="1019.6" r="3.2"/><circle cx="516" cy="1019.3" r="3.2"/><circle cx="517.4" cy="1018.2" r="3.2"/><circle cx="519.8" cy="1017.1" r="3.2"/><circle cx="521" cy="1017.3" r="3.2"/><circle cx="523.2" cy="1017.1" r="3.2"/><circle cx="524.6" cy="1016.2" r="3.2"/><circle cx="526" cy="1015.7" r="3.2"/><circle cx="527.9" cy="1014.7" r="3.2"/><circle cx="529.7" cy="1014.3" r="3.2"/><circle cx="531.3" cy="1013.5" r="3.2"/><circle cx="533.1" cy="1013.1" r="3.2"/><circle cx="534.7" cy="1012.6" r="3.2"/><circle cx="536.6" cy="1011.8" r="3.2"/><circle cx="538.5" cy="1011" r="3.2"/><circle cx="539.8" cy="1011.2" r="3.2"/><circle cx="541.3" cy="1009.7" r="3.2"/><circle cx="543.6" cy="1009.7" r="3.2"/><circle cx="545.3" cy="1009.4" r="3.2"/><circle cx="546.7" cy="1007.8" r="3.2"/><circle cx="548.8" cy="1007.1" r="3.2"/><circle cx="550.1" cy="1006.8" r="3.2"/><circle cx="552.1" cy="1006.5" r="3.2"/><circle cx="553.5" cy="1005.8" r="3.2"/><circle cx="555.3" cy="1005.4" r="3.2"/><circle cx="557" cy="1004.9" r="3.2"/><circle cx="558.5" cy="1004.6" r="3.2"/><circle cx="560.2" cy="1003.6" r="3.2"/><circle cx="562" cy="1003.2" r="3.2"/><circle cx="563.7" cy="1002.9" r="3.2"/><circle cx="565.1" cy="1002.3" r="3.2"/><circle cx="567.4" cy="1001.4" r="3.2"/><circle cx="190" cy="1121.5" r="3.2"/><circle cx="194" cy="1119" r="3.2"/><circle cx="197.5" cy="1123.5" r="3.2"/><circle cx="186.5" cy="1125" r="3.2"/><circle cx="201" cy="1126" r="3.2"/><circle cx="282.4" cy="1115.1" r="3.2"/><circle cx="295.5" cy="1102.7" r="3.2"/><circle cx="301.4" cy="1099.7" r="3.2"/><circle cx="316" cy="1096.1" r="3.2"/><circle cx="329.1" cy="1080.8" r="3.2"/><circle cx="341.5" cy="1085.9" r="3.2"/><circle cx="353.2" cy="1084.4" r="3.2"/><circle cx="359.8" cy="1084.4" r="3.2"/><circle cx="352.5" cy="1075.7" r="3.2"/><circle cx="359.1" cy="1075.7" r="3.2"/><circle cx="367.8" cy="1072" r="3.2"/><circle cx="380.3" cy="1070.6" r="3.2"/><circle cx="386.2" cy="1068.4" r="3.2"/><circle cx="441.6" cy="1039.2" r="3.2"/><circle cx="439.5" cy="1044.3" r="3.2"/><circle cx="448.9" cy="1048.7" r="3.2"/><circle cx="446.8" cy="1044.3" r="3.2"/><circle cx="484.1" cy="1034.1" r="3.2"/><circle cx="527.2" cy="1004.9" r="3.2"/><circle cx="556.4" cy="989.6" r="3.2"/><circle cx="557.8" cy="986" r="3.2"/><circle cx="556.6" cy="989.9" r="3.2"/><circle cx="558" cy="986.3" r="3.2"/><circle cx="564.6" cy="1016.9" r="3.2"/><circle cx="566.8" cy="1001.6" r="3.2"/><circle cx="577" cy="998.2" r="3.2"/><circle cx="583.6" cy="995.8" r="3.2"/><circle cx="600.4" cy="989.9" r="3.2"/><circle cx="604" cy="988.5" r="3.2"/><circle cx="610.6" cy="986" r="3.2"/><circle cx="615.7" cy="984.1" r="3.2"/><circle cx="621.5" cy="982.2" r="3.2"/><circle cx="626.6" cy="980.4" r="3.2"/><circle cx="642" cy="974.9" r="3.2"/>
</g>
<g fill="#ffff00" stroke="#f0a000" stroke-width="0.85">
<circle cx="183.9" cy="1134.4" r="3.2"/><circle cx="84.7" cy="1170.5" r="3.2"/><circle cx="207" cy="1133.3" r="3.2"/><circle cx="193" cy="1134.1" r="3.2"/><circle cx="86.2" cy="1170.3" r="3.2"/><circle cx="55.4" cy="1180.5" r="3.2"/><circle cx="67.7" cy="1176.5" r="3.2"/><circle cx="69.5" cy="1174.9" r="3.2"/><circle cx="161.6" cy="1143.1" r="3.2"/><circle cx="68.7" cy="1175.7" r="3.2"/><circle cx="142.7" cy="1153.6" r="3.2"/><circle cx="179.1" cy="1137.3" r="3.2"/><circle cx="87.6" cy="1167.9" r="3.2"/><circle cx="64.8" cy="1177.3" r="3.2"/><circle cx="97.7" cy="1168.4" r="3.2"/><circle cx="108.5" cy="1162.8" r="3.2"/><circle cx="138" cy="1153.9" r="3.2"/><circle cx="213.2" cy="1126.2" r="3.2"/><circle cx="185.8" cy="1138.1" r="3.2"/><circle cx="202.1" cy="1131.5" r="3.2"/><circle cx="106.4" cy="1164.6" r="3.2"/><circle cx="142.4" cy="1154.1" r="3.2"/><circle cx="73.2" cy="1172.8" r="3.2"/><circle cx="155.6" cy="1146.8" r="3.2"/><circle cx="127.8" cy="1158.7" r="3.2"/><circle cx="89.4" cy="1166.3" r="3.2"/><circle cx="239.5" cy="1118.8" r="3.2"/><circle cx="135.8" cy="1153.3" r="3.2"/><circle cx="91.6" cy="1166.2" r="3.2"/><circle cx="155.2" cy="1147.2" r="3.2"/><circle cx="105.3" cy="1164.3" r="3.2"/><circle cx="145.3" cy="1152.4" r="3.2"/><circle cx="198.5" cy="1131.8" r="3.2"/><circle cx="194.5" cy="1134.6" r="3.2"/><circle cx="106.8" cy="1164.4" r="3.2"/><circle cx="202.1" cy="1129.5" r="3.2"/><circle cx="195.3" cy="1132.8" r="3.2"/><circle cx="162.6" cy="1141.5" r="3.2"/><circle cx="251.1" cy="1113.1" r="3.2"/><circle cx="144.7" cy="1153.4" r="3.2"/><circle cx="143.6" cy="1151.1" r="3.2"/><circle cx="54.3" cy="1181" r="3.2"/><circle cx="173.5" cy="1141.4" r="3.2"/><circle cx="260.5" cy="1109.5" r="3.2"/><circle cx="79.4" cy="1171.3" r="3.2"/><circle cx="89" cy="1166.8" r="3.2"/><circle cx="60.6" cy="1179.1" r="3.2"/><circle cx="66.4" cy="1178.7" r="3.2"/><circle cx="144" cy="1151.6" r="3.2"/><circle cx="279.4" cy="1103.9" r="3.2"/><circle cx="157.8" cy="1146.9" r="3.2"/><circle cx="118.2" cy="1159.8" r="3.2"/><circle cx="65.9" cy="1177.4" r="3.2"/><circle cx="197.7" cy="1132.3" r="3.2"/><circle cx="104.6" cy="1164.4" r="3.2"/><circle cx="166.8" cy="1141.8" r="3.2"/><circle cx="169.4" cy="1140.8" r="3.2"/><circle cx="111.3" cy="1163.7" r="3.2"/><circle cx="229.9" cy="1125.2" r="3.2"/><circle cx="102.2" cy="1166" r="3.2"/><circle cx="58.2" cy="1180.1" r="3.2"/><circle cx="143.7" cy="1152" r="3.2"/><circle cx="286.5" cy="1103.2" r="3.2"/><circle cx="54.4" cy="1180.3" r="3.2"/><circle cx="212.8" cy="1128.8" r="3.2"/><circle cx="52.1" cy="1181.9" r="3.2"/><circle cx="71" cy="1175.4" r="3.2"/><circle cx="63.9" cy="1177.8" r="3.2"/><circle cx="157.9" cy="1145.9" r="3.2"/><circle cx="68.3" cy="1175.5" r="3.2"/><circle cx="58.6" cy="1179.8" r="3.2"/><circle cx="90" cy="1167.8" r="3.2"/><circle cx="73.6" cy="1173.2" r="3.2"/><circle cx="120.8" cy="1159.1" r="3.2"/><circle cx="123.4" cy="1158.3" r="3.2"/><circle cx="259.4" cy="1109" r="3.2"/><circle cx="112.9" cy="1161.9" r="3.2"/><circle cx="250.3" cy="1113.1" r="3.2"/><circle cx="180.9" cy="1135.6" r="3.2"/><circle cx="48" cy="1183.9" r="3.2"/><circle cx="59.2" cy="1178.5" r="3.2"/><circle cx="153" cy="1150.1" r="3.2"/><circle cx="80.2" cy="1172" r="3.2"/><circle cx="225.8" cy="1122.8" r="3.2"/><circle cx="97.2" cy="1167.3" r="3.2"/><circle cx="53.4" cy="1181.1" r="3.2"/><circle cx="85.4" cy="1171" r="3.2"/><circle cx="58.2" cy="1180" r="3.2"/><circle cx="157.1" cy="1147.3" r="3.2"/><circle cx="108" cy="1163.3" r="3.2"/><circle cx="54.4" cy="1181.8" r="3.2"/><circle cx="247.6" cy="1115.5" r="3.2"/><circle cx="124.5" cy="1158.2" r="3.2"/><circle cx="214.5" cy="1127.6" r="3.2"/><circle cx="189" cy="1135.1" r="3.2"/><circle cx="112.3" cy="1162.3" r="3.2"/><circle cx="61.6" cy="1177.7" r="3.2"/><circle cx="160" cy="1145.2" r="3.2"/><circle cx="185.1" cy="1138.5" r="3.2"/><circle cx="72" cy="1174.2" r="3.2"/><circle cx="106.2" cy="1164.2" r="3.2"/><circle cx="75.5" cy="1173.6" r="3.2"/><circle cx="191.5" cy="1134" r="3.2"/><circle cx="75.7" cy="1171" r="3.2"/><circle cx="108.3" cy="1164.2" r="3.2"/><circle cx="162.4" cy="1143" r="3.2"/><circle cx="188.9" cy="1135.1" r="3.2"/><circle cx="94.1" cy="1167.8" r="3.2"/><circle cx="239.5" cy="1122.5" r="3.2"/><circle cx="97.2" cy="1165.1" r="3.2"/><circle cx="123.4" cy="1157.8" r="3.2"/><circle cx="63.8" cy="1177.8" r="3.2"/><circle cx="78.5" cy="1172.3" r="3.2"/><circle cx="107" cy="1163.9" r="3.2"/><circle cx="66.2" cy="1175.9" r="3.2"/><circle cx="78.6" cy="1171.8" r="3.2"/><circle cx="264.2" cy="1109.6" r="3.2"/><circle cx="76.3" cy="1174.5" r="3.2"/><circle cx="244.4" cy="1118.2" r="3.2"/><circle cx="131.6" cy="1156.6" r="3.2"/><circle cx="239.9" cy="1118" r="3.2"/><circle cx="215.7" cy="1126.6" r="3.2"/><circle cx="111.5" cy="1162.8" r="3.2"/><circle cx="268.8" cy="1107.7" r="3.2"/><circle cx="57.5" cy="1179.7" r="3.2"/><circle cx="108.7" cy="1163.4" r="3.2"/><circle cx="86.8" cy="1169.7" r="3.2"/><circle cx="155.7" cy="1146.8" r="3.2"/><circle cx="214.7" cy="1126.2" r="3.2"/><circle cx="73.1" cy="1173.3" r="3.2"/><circle cx="105.2" cy="1162.5" r="3.2"/><circle cx="111.3" cy="1162.9" r="3.2"/><circle cx="114.7" cy="1162" r="3.2"/><circle cx="162.7" cy="1147" r="3.2"/><circle cx="161.5" cy="1143.6" r="3.2"/><circle cx="86.7" cy="1168.8" r="3.2"/><circle cx="140.7" cy="1154.1" r="3.2"/><circle cx="130.7" cy="1154.9" r="3.2"/><circle cx="56.2" cy="1180.8" r="3.2"/><circle cx="234.8" cy="1122.3" r="3.2"/><circle cx="58.2" cy="1181.8" r="3.2"/><circle cx="264.6" cy="1106.8" r="3.2"/><circle cx="87.8" cy="1166.7" r="3.2"/><circle cx="150.3" cy="1149.6" r="3.2"/><circle cx="118.9" cy="1160.2" r="3.2"/><circle cx="257.2" cy="1118.2" r="3.2"/><circle cx="185.2" cy="1138.9" r="3.2"/><circle cx="114.9" cy="1160.4" r="3.2"/><circle cx="216.3" cy="1127.5" r="3.2"/><circle cx="49" cy="1183.9" r="3.2"/><circle cx="64.3" cy="1177.1" r="3.2"/><circle cx="54.4" cy="1181.9" r="3.2"/><circle cx="59.1" cy="1178.7" r="3.2"/><circle cx="182.8" cy="1136.1" r="3.2"/><circle cx="136.9" cy="1153.7" r="3.2"/><circle cx="192.8" cy="1132.8" r="3.2"/><circle cx="116.9" cy="1162" r="3.2"/><circle cx="55.4" cy="1181.4" r="3.2"/><circle cx="217.3" cy="1126.5" r="3.2"/><circle cx="240.5" cy="1125.5" r="3.2"/><circle cx="55.8" cy="1181.2" r="3.2"/><circle cx="144.3" cy="1152.2" r="3.2"/><circle cx="260.7" cy="1110.1" r="3.2"/><circle cx="126.2" cy="1157.5" r="3.2"/><circle cx="140.2" cy="1151.6" r="3.2"/><circle cx="99" cy="1165" r="3.2"/><circle cx="143.8" cy="1152.6" r="3.2"/><circle cx="132.2" cy="1156.4" r="3.2"/><circle cx="64" cy="1178.3" r="3.2"/><circle cx="242.3" cy="1117.6" r="3.2"/><circle cx="101.9" cy="1167.7" r="3.2"/><circle cx="208.5" cy="1130.5" r="3.2"/><circle cx="132.5" cy="1156.5" r="3.2"/><circle cx="64.7" cy="1177.2" r="3.2"/><circle cx="76.1" cy="1174.1" r="3.2"/><circle cx="110.8" cy="1162" r="3.2"/><circle cx="104.4" cy="1163.1" r="3.2"/><circle cx="65.1" cy="1174.5" r="3.2"/><circle cx="80.4" cy="1171.3" r="3.2"/><circle cx="150.8" cy="1147.8" r="3.2"/><circle cx="226.5" cy="1126" r="3.2"/><circle cx="234.3" cy="1118.9" r="3.2"/><circle cx="188.5" cy="1135.8" r="3.2"/><circle cx="182.9" cy="1138.8" r="3.2"/><circle cx="76.5" cy="1175" r="3.2"/><circle cx="144.3" cy="1151.9" r="3.2"/><circle cx="56.5" cy="1180.8" r="3.2"/><circle cx="75" cy="1174.4" r="3.2"/><circle cx="184.9" cy="1138.6" r="3.2"/><circle cx="189" cy="1128.9" r="3.2"/><circle cx="95.8" cy="1165.4" r="3.2"/><circle cx="78.3" cy="1172.6" r="3.2"/><circle cx="124.1" cy="1159.4" r="3.2"/><circle cx="49.9" cy="1182.9" r="3.2"/><circle cx="125.4" cy="1158.1" r="3.2"/><circle cx="130.8" cy="1156.8" r="3.2"/><circle cx="170.2" cy="1138.6" r="3.2"/><circle cx="116.9" cy="1161.5" r="3.2"/><circle cx="196.5" cy="1133.4" r="3.2"/><circle cx="185.8" cy="1135.6" r="3.2"/><circle cx="47.6" cy="1184.5" r="3.2"/><circle cx="76.7" cy="1173.5" r="3.2"/><circle cx="202.5" cy="1128.7" r="3.2"/><circle cx="73" cy="1173.2" r="3.2"/><circle cx="85.4" cy="1166.8" r="3.2"/><circle cx="62.1" cy="1179.2" r="3.2"/><circle cx="74.7" cy="1174.4" r="3.2"/><circle cx="118.5" cy="1162.6" r="3.2"/><circle cx="274.4" cy="1104.9" r="3.2"/><circle cx="239.8" cy="1117.3" r="3.2"/><circle cx="257.7" cy="1107.5" r="3.2"/><circle cx="159.4" cy="1143" r="3.2"/><circle cx="107.4" cy="1163.8" r="3.2"/><circle cx="75.6" cy="1172.6" r="3.2"/><circle cx="64.3" cy="1175.5" r="3.2"/><circle cx="57" cy="1180.5" r="3.2"/><circle cx="69.5" cy="1173.8" r="3.2"/><circle cx="209.6" cy="1127.7" r="3.2"/><circle cx="128.5" cy="1159.2" r="3.2"/><circle cx="81.2" cy="1170.8" r="3.2"/><circle cx="63.3" cy="1177.8" r="3.2"/><circle cx="100" cy="1166.4" r="3.2"/><circle cx="166.1" cy="1142.4" r="3.2"/><circle cx="192.9" cy="1133.2" r="3.2"/><circle cx="112.7" cy="1160.5" r="3.2"/><circle cx="63.6" cy="1177.4" r="3.2"/><circle cx="269.5" cy="1107.6" r="3.2"/><circle cx="183.4" cy="1135.6" r="3.2"/><circle cx="190.5" cy="1134.1" r="3.2"/><circle cx="69.3" cy="1176.3" r="3.2"/><circle cx="48.7" cy="1183.3" r="3.2"/><circle cx="263.9" cy="1106.2" r="3.2"/><circle cx="83.9" cy="1168.7" r="3.2"/><circle cx="102.3" cy="1163.9" r="3.2"/><circle cx="70.4" cy="1175.7" r="3.2"/><circle cx="99.4" cy="1166.8" r="3.2"/><circle cx="237.1" cy="1119.1" r="3.2"/><circle cx="196.1" cy="1133.8" r="3.2"/><circle cx="72.4" cy="1173.9" r="3.2"/><circle cx="82.2" cy="1170.4" r="3.2"/><circle cx="154.9" cy="1147.9" r="3.2"/><circle cx="114" cy="1161.6" r="3.2"/><circle cx="218.2" cy="1128.6" r="3.2"/><circle cx="105" cy="1164" r="3.2"/><circle cx="240" cy="1116.5" r="3.2"/><circle cx="214.3" cy="1127.8" r="3.2"/><circle cx="194.4" cy="1133.2" r="3.2"/><circle cx="261.1" cy="1111.2" r="3.2"/><circle cx="113.8" cy="1161.6" r="3.2"/><circle cx="102.2" cy="1166.2" r="3.2"/><circle cx="180.1" cy="1137.7" r="3.2"/><circle cx="239.2" cy="1119.1" r="3.2"/><circle cx="132.4" cy="1152.6" r="3.2"/><circle cx="272.4" cy="1107.7" r="3.2"/><circle cx="84.1" cy="1170.8" r="3.2"/><circle cx="142.3" cy="1153" r="3.2"/><circle cx="173.7" cy="1138.6" r="3.2"/><circle cx="194.2" cy="1131.4" r="3.2"/><circle cx="67.6" cy="1176.4" r="3.2"/><circle cx="137" cy="1151.6" r="3.2"/><circle cx="62.6" cy="1177.5" r="3.2"/><circle cx="108" cy="1163.6" r="3.2"/><circle cx="55" cy="1180.6" r="3.2"/><circle cx="181.4" cy="1137.2" r="3.2"/><circle cx="58.7" cy="1182" r="3.2"/><circle cx="191.5" cy="1136.3" r="3.2"/><circle cx="150" cy="1149.6" r="3.2"/><circle cx="65.3" cy="1177.1" r="3.2"/><circle cx="275.4" cy="1098" r="3.2"/><circle cx="140.3" cy="1154.3" r="3.2"/><circle cx="124.9" cy="1157.2" r="3.2"/><circle cx="115.4" cy="1161.9" r="3.2"/><circle cx="168.7" cy="1142.3" r="3.2"/><circle cx="55.6" cy="1181.8" r="3.2"/><circle cx="106.8" cy="1165.1" r="3.2"/><circle cx="177" cy="1138.7" r="3.2"/><circle cx="212.1" cy="1127.2" r="3.2"/><circle cx="94.8" cy="1164.7" r="3.2"/><circle cx="283.2" cy="1099.7" r="3.2"/><circle cx="218.2" cy="1125.5" r="3.2"/><circle cx="259.5" cy="1109.6" r="3.2"/><circle cx="285.5" cy="1102.1" r="3.2"/><circle cx="92.7" cy="1167.4" r="3.2"/><circle cx="171.8" cy="1140.1" r="3.2"/><circle cx="91.4" cy="1165.7" r="3.2"/><circle cx="245.8" cy="1110.5" r="3.2"/><circle cx="88.5" cy="1168.4" r="3.2"/><circle cx="47.6" cy="1183.8" r="3.2"/><circle cx="123.3" cy="1159.2" r="3.2"/><circle cx="122.6" cy="1159.5" r="3.2"/><circle cx="68.2" cy="1175.2" r="3.2"/><circle cx="134.4" cy="1155.6" r="3.2"/><circle cx="103" cy="1164.7" r="3.2"/><circle cx="117.6" cy="1160.4" r="3.2"/><circle cx="126.9" cy="1156.6" r="3.2"/><circle cx="89.8" cy="1167.5" r="3.2"/><circle cx="247.6" cy="1111.8" r="3.2"/><circle cx="234.7" cy="1122.5" r="3.2"/><circle cx="58.8" cy="1179.6" r="3.2"/><circle cx="56" cy="1180.8" r="3.2"/><circle cx="149.1" cy="1150.9" r="3.2"/><circle cx="103.9" cy="1163.8" r="3.2"/><circle cx="70.8" cy="1174.9" r="3.2"/><circle cx="276.7" cy="1100.9" r="3.2"/><circle cx="93.6" cy="1167.5" r="3.2"/><circle cx="239.9" cy="1115.4" r="3.2"/><circle cx="112.8" cy="1161.3" r="3.2"/><circle cx="276.6" cy="1102.4" r="3.2"/><circle cx="223.5" cy="1125.2" r="3.2"/><circle cx="147.4" cy="1151.8" r="3.2"/><circle cx="121.5" cy="1160.1" r="3.2"/><circle cx="149.7" cy="1149.1" r="3.2"/><circle cx="140.8" cy="1152.8" r="3.2"/><circle cx="85.5" cy="1170.1" r="3.2"/><circle cx="284.2" cy="1101.4" r="3.2"/><circle cx="267.5" cy="1106.6" r="3.2"/><circle cx="94.8" cy="1167.3" r="3.2"/><circle cx="73.3" cy="1174.8" r="3.2"/><circle cx="259.5" cy="1110.7" r="3.2"/><circle cx="205.8" cy="1129.4" r="3.2"/><circle cx="98.2" cy="1165.8" r="3.2"/><circle cx="63.1" cy="1177.8" r="3.2"/><circle cx="229.7" cy="1120.5" r="3.2"/><circle cx="119.2" cy="1162.2" r="3.2"/><circle cx="204.4" cy="1129" r="3.2"/><circle cx="110.6" cy="1163" r="3.2"/><circle cx="54" cy="1180.9" r="3.2"/><circle cx="104.6" cy="1163.3" r="3.2"/><circle cx="86.6" cy="1170.3" r="3.2"/><circle cx="133.6" cy="1155.2" r="3.2"/><circle cx="240" cy="1116.9" r="3.2"/><circle cx="278.1" cy="1103.1" r="3.2"/><circle cx="218.9" cy="1125.8" r="3.2"/><circle cx="111.9" cy="1161.4" r="3.2"/><circle cx="135" cy="1154.8" r="3.2"/><circle cx="228.1" cy="1122.2" r="3.2"/><circle cx="171.2" cy="1142.3" r="3.2"/><circle cx="68.7" cy="1176.4" r="3.2"/><circle cx="70.7" cy="1176.2" r="3.2"/><circle cx="88.9" cy="1169.2" r="3.2"/><circle cx="64.5" cy="1178.6" r="3.2"/><circle cx="53.4" cy="1181.8" r="3.2"/><circle cx="253.9" cy="1114.3" r="3.2"/><circle cx="97.3" cy="1166.8" r="3.2"/><circle cx="140.4" cy="1150" r="3.2"/><circle cx="77.5" cy="1172.3" r="3.2"/><circle cx="163.9" cy="1142" r="3.2"/><circle cx="146.5" cy="1151.6" r="3.2"/><circle cx="69.6" cy="1175.4" r="3.2"/><circle cx="171.4" cy="1139.2" r="3.2"/><circle cx="58.8" cy="1178.9" r="3.2"/><circle cx="54.8" cy="1180.9" r="3.2"/><circle cx="207.4" cy="1130.6" r="3.2"/><circle cx="103.9" cy="1165.8" r="3.2"/><circle cx="162.3" cy="1148.2" r="3.2"/><circle cx="253.7" cy="1113.3" r="3.2"/><circle cx="134.6" cy="1153.7" r="3.2"/><circle cx="120.8" cy="1160.5" r="3.2"/><circle cx="190.5" cy="1137.2" r="3.2"/><circle cx="214.3" cy="1126.3" r="3.2"/><circle cx="79.6" cy="1171.1" r="3.2"/><circle cx="271.1" cy="1107.4" r="3.2"/><circle cx="247.9" cy="1117.4" r="3.2"/><circle cx="145" cy="1151.2" r="3.2"/><circle cx="138.4" cy="1154.9" r="3.2"/><circle cx="91.2" cy="1168" r="3.2"/><circle cx="161.6" cy="1142.7" r="3.2"/><circle cx="122.6" cy="1160.4" r="3.2"/><circle cx="199.8" cy="1130.3" r="3.2"/><circle cx="80.4" cy="1170.3" r="3.2"/><circle cx="92.6" cy="1167.2" r="3.2"/><circle cx="112.5" cy="1161" r="3.2"/><circle cx="255.3" cy="1111.3" r="3.2"/><circle cx="112.8" cy="1162.3" r="3.2"/><circle cx="82.6" cy="1170" r="3.2"/><circle cx="53.8" cy="1180.6" r="3.2"/><circle cx="136.9" cy="1154.2" r="3.2"/><circle cx="149.3" cy="1149.8" r="3.2"/><circle cx="67.7" cy="1175.7" r="3.2"/><circle cx="162.3" cy="1143.8" r="3.2"/><circle cx="147.5" cy="1149.7" r="3.2"/><circle cx="105.2" cy="1163" r="3.2"/><circle cx="182.8" cy="1136.4" r="3.2"/><circle cx="74.5" cy="1172.8" r="3.2"/><circle cx="174.7" cy="1140" r="3.2"/><circle cx="78.6" cy="1171.5" r="3.2"/><circle cx="214.5" cy="1126.7" r="3.2"/><circle cx="95.6" cy="1165.2" r="3.2"/><circle cx="190.5" cy="1135.9" r="3.2"/><circle cx="278" cy="1101.5" r="3.2"/><circle cx="56.6" cy="1180.5" r="3.2"/><circle cx="116.3" cy="1162.6" r="3.2"/><circle cx="59.9" cy="1179.1" r="3.2"/><circle cx="82.5" cy="1170" r="3.2"/><circle cx="163.6" cy="1143.7" r="3.2"/><circle cx="162.2" cy="1144.8" r="3.2"/><circle cx="204.5" cy="1131" r="3.2"/><circle cx="222.1" cy="1121.9" r="3.2"/><circle cx="168.5" cy="1141.4" r="3.2"/><circle cx="238.4" cy="1118" r="3.2"/><circle cx="134.4" cy="1154" r="3.2"/><circle cx="107.6" cy="1162.4" r="3.2"/><circle cx="175.3" cy="1138.6" r="3.2"/><circle cx="69.9" cy="1176.2" r="3.2"/><circle cx="184.7" cy="1135.8" r="3.2"/><circle cx="185.3" cy="1137.1" r="3.2"/><circle cx="55.5" cy="1180.6" r="3.2"/><circle cx="237.4" cy="1118.8" r="3.2"/><circle cx="76.5" cy="1172.6" r="3.2"/><circle cx="182.3" cy="1137.4" r="3.2"/><circle cx="48.3" cy="1183.9" r="3.2"/><circle cx="145.8" cy="1151.3" r="3.2"/><circle cx="78.4" cy="1171.6" r="3.2"/><circle cx="155.2" cy="1146.6" r="3.2"/><circle cx="194.5" cy="1129.4" r="3.2"/><circle cx="96.2" cy="1165" r="3.2"/><circle cx="125.7" cy="1157" r="3.2"/><circle cx="73.8" cy="1174.4" r="3.2"/><circle cx="252" cy="1112.9" r="3.2"/><circle cx="220.8" cy="1125.2" r="3.2"/><circle cx="156.9" cy="1147.8" r="3.2"/><circle cx="60.4" cy="1179.3" r="3.2"/><circle cx="96.6" cy="1166.7" r="3.2"/><circle cx="236.6" cy="1119.2" r="3.2"/><circle cx="109.9" cy="1163.7" r="3.2"/><circle cx="139.4" cy="1152.8" r="3.2"/><circle cx="234.9" cy="1120.5" r="3.2"/><circle cx="124.5" cy="1158.9" r="3.2"/><circle cx="156.3" cy="1148.1" r="3.2"/><circle cx="70.5" cy="1175.1" r="3.2"/><circle cx="69.6" cy="1175.8" r="3.2"/><circle cx="180" cy="1138.4" r="3.2"/><circle cx="278.2" cy="1103" r="3.2"/><circle cx="160.4" cy="1145.5" r="3.2"/><circle cx="149.9" cy="1149.3" r="3.2"/><circle cx="53.7" cy="1182" r="3.2"/><circle cx="163.4" cy="1142.2" r="3.2"/><circle cx="230.2" cy="1122.1" r="3.2"/><circle cx="214" cy="1126.3" r="3.2"/><circle cx="206.6" cy="1128" r="3.2"/><circle cx="61.6" cy="1179" r="3.2"/><circle cx="99.6" cy="1166.2" r="3.2"/><circle cx="103.4" cy="1164.6" r="3.2"/><circle cx="124" cy="1158" r="3.2"/><circle cx="59.9" cy="1179.7" r="3.2"/><circle cx="124.9" cy="1158.7" r="3.2"/><circle cx="174.6" cy="1140.4" r="3.2"/><circle cx="129.7" cy="1157.2" r="3.2"/><circle cx="59.6" cy="1179.6" r="3.2"/><circle cx="78.8" cy="1171" r="3.2"/><circle cx="243.3" cy="1116.3" r="3.2"/><circle cx="93.9" cy="1166.5" r="3.2"/><circle cx="100.2" cy="1164" r="3.2"/><circle cx="143" cy="1151.3" r="3.2"/><circle cx="121.1" cy="1158.4" r="3.2"/><circle cx="260.9" cy="1111.6" r="3.2"/><circle cx="93.4" cy="1166.9" r="3.2"/><circle cx="189.6" cy="1136.4" r="3.2"/><circle cx="222.3" cy="1125.1" r="3.2"/><circle cx="136.1" cy="1154" r="3.2"/><circle cx="57.8" cy="1180.6" r="3.2"/><circle cx="221.6" cy="1125.5" r="3.2"/><circle cx="134.7" cy="1151.7" r="3.2"/><circle cx="122.1" cy="1158.6" r="3.2"/><circle cx="138.7" cy="1153.6" r="3.2"/><circle cx="200.5" cy="1127.4" r="3.2"/><circle cx="179.4" cy="1136.9" r="3.2"/><circle cx="139" cy="1154.3" r="3.2"/><circle cx="103.1" cy="1165.8" r="3.2"/><circle cx="99.1" cy="1166.4" r="3.2"/><circle cx="50.4" cy="1182.5" r="3.2"/><circle cx="222.4" cy="1127.9" r="3.2"/><circle cx="198.8" cy="1132.7" r="3.2"/><circle cx="73.8" cy="1175" r="3.2"/><circle cx="178.4" cy="1137.1" r="3.2"/><circle cx="147.3" cy="1150.2" r="3.2"/><circle cx="185.3" cy="1137.1" r="3.2"/><circle cx="207.2" cy="1130.5" r="3.2"/><circle cx="167.1" cy="1140.9" r="3.2"/><circle cx="166.9" cy="1143.3" r="3.2"/><circle cx="177.8" cy="1136.3" r="3.2"/><circle cx="60.3" cy="1178.1" r="3.2"/><circle cx="134.5" cy="1155.6" r="3.2"/><circle cx="216.1" cy="1127.3" r="3.2"/><circle cx="105.7" cy="1163.7" r="3.2"/><circle cx="148.4" cy="1152.1" r="3.2"/><circle cx="219.6" cy="1125.9" r="3.2"/><circle cx="148.8" cy="1151.8" r="3.2"/><circle cx="141.8" cy="1152.8" r="3.2"/><circle cx="123.3" cy="1158.7" r="3.2"/><circle cx="132.5" cy="1155.2" r="3.2"/><circle cx="129.3" cy="1154.3" r="3.2"/><circle cx="125.1" cy="1158.3" r="3.2"/><circle cx="83.9" cy="1170.7" r="3.2"/><circle cx="239.7" cy="1120.7" r="3.2"/><circle cx="219" cy="1125.6" r="3.2"/><circle cx="162.9" cy="1144.4" r="3.2"/><circle cx="55.6" cy="1181" r="3.2"/><circle cx="147.5" cy="1151.7" r="3.2"/><circle cx="186.8" cy="1134.7" r="3.2"/><circle cx="201.5" cy="1132.1" r="3.2"/><circle cx="139.1" cy="1153.5" r="3.2"/><circle cx="94.9" cy="1165.7" r="3.2"/><circle cx="97" cy="1166.1" r="3.2"/><circle cx="87.5" cy="1168.4" r="3.2"/><circle cx="177.4" cy="1139.1" r="3.2"/><circle cx="176.8" cy="1140.8" r="3.2"/><circle cx="154" cy="1148.4" r="3.2"/><circle cx="107.1" cy="1164.1" r="3.2"/><circle cx="253.3" cy="1109.5" r="3.2"/><circle cx="48.5" cy="1183.3" r="3.2"/><circle cx="283.5" cy="1100.1" r="3.2"/><circle cx="199.5" cy="1128.8" r="3.2"/><circle cx="182.4" cy="1136.6" r="3.2"/><circle cx="61.9" cy="1177.1" r="3.2"/><circle cx="168.3" cy="1141.5" r="3.2"/><circle cx="275.8" cy="1099" r="3.2"/><circle cx="281" cy="1102.7" r="3.2"/><circle cx="283.1" cy="1109.2" r="3.2"/><circle cx="286.1" cy="1100.5" r="3.2"/><circle cx="294.1" cy="1097.6" r="3.2"/><circle cx="298.5" cy="1096.1" r="3.2"/><circle cx="302.8" cy="1094.6" r="3.2"/><circle cx="312.3" cy="1091.7" r="3.2"/><circle cx="323.3" cy="1085.1" r="3.2"/><circle cx="329.9" cy="1085.1" r="3.2"/><circle cx="336.4" cy="1083" r="3.2"/><circle cx="329.9" cy="1106.3" r="3.2"/><circle cx="375.2" cy="1069.1" r="3.2"/><circle cx="380.3" cy="1057.4" r="3.2"/><circle cx="388.4" cy="1064.7" r="3.2"/><circle cx="404.4" cy="1058.9" r="3.2"/><circle cx="411" cy="1056.7" r="3.2"/><circle cx="425.6" cy="1051.6" r="3.2"/><circle cx="494.3" cy="1026.8" r="3.2"/><circle cx="511.1" cy="1021.4" r="3.2"/><circle cx="517.7" cy="1013" r="3.2"/><circle cx="523.5" cy="1016.6" r="3.2"/><circle cx="526.4" cy="1015.1" r="3.2"/><circle cx="532.3" cy="1010" r="3.2"/><circle cx="533" cy="1013.7" r="3.2"/><circle cx="538.8" cy="1011.5" r="3.2"/><circle cx="546.9" cy="1008.6" r="3.2"/><circle cx="556.4" cy="1004.9" r="3.2"/><circle cx="555.8" cy="1005.3" r="3.2"/><circle cx="559.5" cy="1003.8" r="3.2"/><circle cx="563.9" cy="1011.1" r="3.2"/><circle cx="581.4" cy="996.5" r="3.2"/>
</g>
</g>
<g stroke="#ff1a1a" stroke-width="2" fill="none">
<line x1="47.3" y1="1190.8" x2="583.2" y2="893.1" stroke-dasharray="6.3 6.428" stroke-dashoffset="0.15"/>
<line x1="47.3" y1="1190.8" x2="646.4" y2="922.7" stroke-dasharray="6.3 6.428" stroke-dashoffset="-1.15"/>
<line x1="47.3" y1="1190.8" x2="646.4" y2="893.1"/>
</g>
<rect x="47.3" y="893.1" width="599.1" height="295.9" fill="none" stroke="#6e6e6e" stroke-width="1.4"/>
<path d="M87.2 1189v-2.2M87.2 893.1v2.2M47.3 1169.3h2.2M646.4 1169.3h-2.2M127.2 1189v-2.2M127.2 893.1v2.2M47.3 1149.5h2.2M646.4 1149.5h-2.2M167.1 1189v-2.2M167.1 893.1v2.2M47.3 1129.8h2.2M646.4 1129.8h-2.2M207.1 1189v-2.2M207.1 893.1v2.2M47.3 1110.1h2.2M646.4 1110.1h-2.2M247 1189v-4.6M247 893.1v4.6M47.3 1090.4h4.6M646.4 1090.4h-4.6M286.9 1189v-2.2M286.9 893.1v2.2M47.3 1070.6h2.2M646.4 1070.6h-2.2M326.9 1189v-2.2M326.9 893.1v2.2M47.3 1050.9h2.2M646.4 1050.9h-2.2M366.8 1189v-2.2M366.8 893.1v2.2M47.3 1031.2h2.2M646.4 1031.2h-2.2M406.8 1189v-2.2M406.8 893.1v2.2M47.3 1011.5h2.2M646.4 1011.5h-2.2M446.7 1189v-4.6M446.7 893.1v4.6M47.3 991.7h4.6M646.4 991.7h-4.6M486.6 1189v-2.2M486.6 893.1v2.2M47.3 972h2.2M646.4 972h-2.2M526.6 1189v-2.2M526.6 893.1v2.2M47.3 952.3h2.2M646.4 952.3h-2.2M566.5 1189v-2.2M566.5 893.1v2.2M47.3 932.6h2.2M646.4 932.6h-2.2M606.5 1189v-2.2M606.5 893.1v2.2M47.3 912.8h2.2M646.4 912.8h-2.2" stroke="#6e6e6e" stroke-width="1.1" fill="none"/>
<g font-family="Liberation Serif" font-weight="bold" font-size="14.6" fill="#1a1a1a"><text x="47.3" y="1206.9" text-anchor="middle" textLength="6.5" lengthAdjust="spacingAndGlyphs">0</text><text x="42.7" y="1194.1" text-anchor="end" textLength="6.5" lengthAdjust="spacingAndGlyphs">0</text><text x="247" y="1206.9" text-anchor="middle" textLength="19.6" lengthAdjust="spacingAndGlyphs">500</text><text x="42.7" y="1095.5" text-anchor="end" textLength="19.6" lengthAdjust="spacingAndGlyphs">500</text><text x="446.7" y="1206.9" text-anchor="middle" textLength="26.2" lengthAdjust="spacingAndGlyphs">1000</text><text x="42.7" y="996.8" text-anchor="end" textLength="26.2" lengthAdjust="spacingAndGlyphs">1000</text><text x="646.4" y="1206.9" text-anchor="middle" textLength="26.2" lengthAdjust="spacingAndGlyphs">1500</text><text x="42.7" y="898.2" text-anchor="end" textLength="26.2" lengthAdjust="spacingAndGlyphs">1500</text></g>
<text x="268.7" y="1224.4" font-family="Liberation Serif" font-weight="bold" font-size="15.0" fill="#1a1a1a" textLength="156.2" lengthAdjust="spacingAndGlyphs">Actual stock price (RMB)</text>
<text transform="translate(12.5 1128.4) rotate(-90)" font-family="Liberation Serif" font-weight="bold" font-size="14.8" fill="#1a1a1a" textLength="174.4" lengthAdjust="spacingAndGlyphs">Predicted stock price (RMB)</text>
<text x="151.2" y="850.4" font-family="Liberation Serif" font-weight="bold" font-size="31.0" fill="#000">(c)</text>
<text x="200.3" y="850.4" font-family="Liberation Serif" font-size="22" fill="#000" textLength="385.2" lengthAdjust="spacingAndGlyphs">The Prediction Results of the GBDT Model</text>
<g font-family="Liberation Sans" font-weight="bold" font-size="14.4" fill="#ff2020"><text x="479.9" y="917.9" textLength="38.6" lengthAdjust="spacingAndGlyphs">+10%</text><text x="572.6" y="977.3" textLength="35" lengthAdjust="spacingAndGlyphs">-10%</text></g>
<rect x="449.4" y="1106.1" width="159" height="63.8" fill="#fff" stroke="#7a7a7a" stroke-width="1"/>
<circle cx="492.4" cy="1121.9" r="3.3" fill="#0000f8" stroke="#000010" stroke-width="0.9"/>
<circle cx="492.4" cy="1137.7" r="3.3" fill="#ffff00" stroke="#f0a000" stroke-width="1.0"/>
<line x1="471.6" y1="1151.6" x2="495.2" y2="1151.6" stroke="#ff1a1a" stroke-width="2"/>
<g font-family="Liberation Serif" font-weight="bold" font-size="12.7" fill="#1a1a1a"><text x="511" y="1126.4" font-size="13.5" textLength="65" lengthAdjust="spacingAndGlyphs">Training set</text><text x="511" y="1142.2" font-size="13.5" textLength="39.6" lengthAdjust="spacingAndGlyphs">Test set</text><text x="508.5" y="1156.6" font-size="14.6">y=x</text></g>
<g>
<g fill="#0000f8" stroke="#000010" stroke-width="0.9">
<circle cx="69.1" cy="1600.9" r="3.2"/><circle cx="74.7" cy="1601" r="3.2"/><circle cx="78" cy="1601.1" r="3.2"/><circle cx="80.7" cy="1601.5" r="3.2"/><circle cx="85.6" cy="1601.1" r="3.2"/><circle cx="87.9" cy="1601.3" r="3.2"/><circle cx="82.5" cy="1594.7" r="3.2"/><circle cx="86.8" cy="1594.5" r="3.2"/><circle cx="88.7" cy="1594.9" r="3.2"/><circle cx="91.9" cy="1594.7" r="3.2"/><circle cx="94.1" cy="1594.7" r="3.2"/><circle cx="96.6" cy="1594.8" r="3.2"/><circle cx="98.9" cy="1594.5" r="3.2"/><circle cx="101.1" cy="1595" r="3.2"/><circle cx="105.4" cy="1594.7" r="3.2"/><circle cx="117.8" cy="1594.8" r="3.2"/><circle cx="93.3" cy="1586.5" r="3.2"/><circle cx="97.6" cy="1586.5" r="3.2"/><circle cx="99.9" cy="1586.4" r="3.2"/><circle cx="102.3" cy="1586.7" r="3.2"/><circle cx="106" cy="1586.6" r="3.2"/><circle cx="110.6" cy="1586.3" r="3.2"/><circle cx="114.5" cy="1586.3" r="3.2"/><circle cx="119.7" cy="1586.9" r="3.2"/><circle cx="121.6" cy="1586.8" r="3.2"/><circle cx="124.1" cy="1586.8" r="3.2"/><circle cx="127.5" cy="1586.6" r="3.2"/><circle cx="130" cy="1586.5" r="3.2"/><circle cx="132.2" cy="1586.5" r="3.2"/><circle cx="111.3" cy="1574.8" r="3.2"/><circle cx="115.4" cy="1574.9" r="3.2"/><circle cx="119.6" cy="1574.8" r="3.2"/><circle cx="122.3" cy="1574.4" r="3.2"/><circle cx="125.8" cy="1574.7" r="3.2"/><circle cx="129.9" cy="1575" r="3.2"/><circle cx="132.2" cy="1574.9" r="3.2"/><circle cx="136.9" cy="1574.8" r="3.2"/><circle cx="139.1" cy="1574.8" r="3.2"/><circle cx="140.9" cy="1574.4" r="3.2"/><circle cx="143.8" cy="1574.5" r="3.2"/><circle cx="147.9" cy="1574.9" r="3.2"/><circle cx="152" cy="1574.9" r="3.2"/><circle cx="154.8" cy="1575" r="3.2"/><circle cx="157.3" cy="1574.7" r="3.2"/><circle cx="160.9" cy="1574.6" r="3.2"/><circle cx="165.1" cy="1574.6" r="3.2"/><circle cx="133.9" cy="1555.8" r="3.2"/><circle cx="138.4" cy="1555.9" r="3.2"/><circle cx="140.2" cy="1555.8" r="3.2"/><circle cx="143.9" cy="1555.6" r="3.2"/><circle cx="147.1" cy="1555.6" r="3.2"/><circle cx="148.8" cy="1555.8" r="3.2"/><circle cx="153" cy="1555.5" r="3.2"/><circle cx="155.1" cy="1555.4" r="3.2"/><circle cx="157.9" cy="1555.5" r="3.2"/><circle cx="160.2" cy="1555.4" r="3.2"/><circle cx="134.1" cy="1553.8" r="3.2"/><circle cx="136.6" cy="1553.3" r="3.2"/><circle cx="141" cy="1553.6" r="3.2"/><circle cx="144" cy="1553.8" r="3.2"/><circle cx="147" cy="1553.7" r="3.2"/><circle cx="152.6" cy="1553.8" r="3.2"/><circle cx="155.4" cy="1553.4" r="3.2"/><circle cx="157.7" cy="1553.6" r="3.2"/><circle cx="161.2" cy="1553.4" r="3.2"/><circle cx="164.2" cy="1553.8" r="3.2"/><circle cx="168.1" cy="1553.7" r="3.2"/><circle cx="172.8" cy="1553.4" r="3.2"/><circle cx="175.1" cy="1553.8" r="3.2"/><circle cx="177.7" cy="1553.8" r="3.2"/><circle cx="183.1" cy="1553.5" r="3.2"/><circle cx="187.4" cy="1553.6" r="3.2"/><circle cx="189.9" cy="1553.9" r="3.2"/><circle cx="193.7" cy="1553.7" r="3.2"/><circle cx="198.3" cy="1553.4" r="3.2"/><circle cx="201.3" cy="1553.5" r="3.2"/><circle cx="205" cy="1553.4" r="3.2"/><circle cx="209.8" cy="1553.6" r="3.2"/><circle cx="212.5" cy="1553.3" r="3.2"/><circle cx="217.1" cy="1553.9" r="3.2"/><circle cx="220.8" cy="1553.9" r="3.2"/><circle cx="224.5" cy="1553.8" r="3.2"/><circle cx="228.4" cy="1553.3" r="3.2"/><circle cx="228.8" cy="1553.3" r="3.2"/><circle cx="234.5" cy="1553.6" r="3.2"/><circle cx="243.5" cy="1553.6" r="3.2"/><circle cx="195.9" cy="1528.7" r="3.2"/><circle cx="198.2" cy="1528.7" r="3.2"/><circle cx="200.3" cy="1529" r="3.2"/><circle cx="203.2" cy="1528.8" r="3.2"/><circle cx="206.7" cy="1528.9" r="3.2"/><circle cx="210.1" cy="1528.8" r="3.2"/><circle cx="213" cy="1529.1" r="3.2"/><circle cx="214.9" cy="1529.1" r="3.2"/><circle cx="217.2" cy="1528.6" r="3.2"/><circle cx="220.8" cy="1529.1" r="3.2"/><circle cx="223.2" cy="1528.7" r="3.2"/><circle cx="224.8" cy="1529" r="3.2"/><circle cx="228.9" cy="1528.8" r="3.2"/><circle cx="231" cy="1528.6" r="3.2"/><circle cx="197.9" cy="1515.9" r="3.2"/><circle cx="201" cy="1515.3" r="3.2"/><circle cx="205.9" cy="1515.6" r="3.2"/><circle cx="209.7" cy="1515.5" r="3.2"/><circle cx="212.9" cy="1515.4" r="3.2"/><circle cx="218.5" cy="1515.5" r="3.2"/><circle cx="221.8" cy="1515.6" r="3.2"/><circle cx="224.5" cy="1515.7" r="3.2"/><circle cx="228.3" cy="1515.4" r="3.2"/><circle cx="232" cy="1515.8" r="3.2"/><circle cx="235.1" cy="1515.7" r="3.2"/><circle cx="239.2" cy="1515.3" r="3.2"/><circle cx="241.8" cy="1515.5" r="3.2"/><circle cx="246.5" cy="1515.6" r="3.2"/><circle cx="251.5" cy="1515.3" r="3.2"/><circle cx="253.9" cy="1515.4" r="3.2"/><circle cx="258.7" cy="1515.8" r="3.2"/><circle cx="263.2" cy="1515.4" r="3.2"/><circle cx="267.6" cy="1515.9" r="3.2"/><circle cx="271.6" cy="1515.6" r="3.2"/><circle cx="274.5" cy="1515.4" r="3.2"/><circle cx="277.7" cy="1515.6" r="3.2"/><circle cx="280.8" cy="1515.9" r="3.2"/><circle cx="283.1" cy="1515.5" r="3.2"/><circle cx="287.3" cy="1515.4" r="3.2"/><circle cx="289.6" cy="1515.4" r="3.2"/><circle cx="292" cy="1515.3" r="3.2"/><circle cx="295.2" cy="1515.9" r="3.2"/><circle cx="297" cy="1515.5" r="3.2"/><circle cx="301.1" cy="1515.7" r="3.2"/><circle cx="305.3" cy="1515.9" r="3.2"/><circle cx="308.3" cy="1515.9" r="3.2"/><circle cx="310.9" cy="1515.4" r="3.2"/><circle cx="314.6" cy="1515.6" r="3.2"/><circle cx="319" cy="1515.7" r="3.2"/><circle cx="322" cy="1515.7" r="3.2"/><circle cx="325.1" cy="1515.8" r="3.2"/><circle cx="328.8" cy="1515.3" r="3.2"/><circle cx="332" cy="1515.4" r="3.2"/><circle cx="335.1" cy="1515.5" r="3.2"/><circle cx="339.1" cy="1515.4" r="3.2"/><circle cx="341.2" cy="1515.4" r="3.2"/><circle cx="344.4" cy="1515.5" r="3.2"/><circle cx="346.9" cy="1515.5" r="3.2"/><circle cx="349.7" cy="1515.8" r="3.2"/><circle cx="354.5" cy="1515.7" r="3.2"/><circle cx="357.9" cy="1515.6" r="3.2"/><circle cx="361.2" cy="1515.9" r="3.2"/><circle cx="334" cy="1482.6" r="3.2"/><circle cx="338" cy="1482.6" r="3.2"/><circle cx="342" cy="1482.6" r="3.2"/><circle cx="346" cy="1482.6" r="3.2"/><circle cx="350" cy="1482.6" r="3.2"/><circle cx="354" cy="1482.6" r="3.2"/><circle cx="310" cy="1463" r="3.2"/><circle cx="319.8" cy="1463" r="3.2"/><circle cx="337.2" cy="1462.8" r="3.2"/><circle cx="341.2" cy="1462.8" r="3.2"/><circle cx="361" cy="1466.6" r="3.2"/><circle cx="321.3" cy="1454.6" r="3.2"/><circle cx="318.5" cy="1459" r="3.2"/><circle cx="333.8" cy="1454.6" r="3.2"/><circle cx="337.8" cy="1454.9" r="3.2"/><circle cx="340.5" cy="1455.1" r="3.2"/><circle cx="343.9" cy="1454.6" r="3.2"/><circle cx="347.6" cy="1454.8" r="3.2"/><circle cx="351.9" cy="1454.5" r="3.2"/><circle cx="355.5" cy="1454.6" r="3.2"/><circle cx="358.4" cy="1454.6" r="3.2"/><circle cx="362.4" cy="1454.5" r="3.2"/><circle cx="365.4" cy="1455.1" r="3.2"/><circle cx="368.5" cy="1455.1" r="3.2"/><circle cx="372.5" cy="1454.9" r="3.2"/><circle cx="376.9" cy="1454.7" r="3.2"/><circle cx="378.9" cy="1455" r="3.2"/><circle cx="381.5" cy="1454.7" r="3.2"/><circle cx="383.5" cy="1454.7" r="3.2"/><circle cx="385.6" cy="1454.7" r="3.2"/><circle cx="387.6" cy="1454.9" r="3.2"/><circle cx="390.3" cy="1454.8" r="3.2"/><circle cx="393" cy="1454.9" r="3.2"/><circle cx="397.3" cy="1455" r="3.2"/><circle cx="399.7" cy="1454.9" r="3.2"/><circle cx="402.3" cy="1454.6" r="3.2"/><circle cx="403.9" cy="1454.8" r="3.2"/><circle cx="408" cy="1455" r="3.2"/><circle cx="412.3" cy="1454.8" r="3.2"/><circle cx="416.1" cy="1454.8" r="3.2"/><circle cx="420.2" cy="1454.7" r="3.2"/><circle cx="421.9" cy="1454.9" r="3.2"/><circle cx="424.3" cy="1455" r="3.2"/><circle cx="426.4" cy="1454.6" r="3.2"/><circle cx="429.3" cy="1454.7" r="3.2"/><circle cx="431.5" cy="1455.1" r="3.2"/><circle cx="433.6" cy="1454.5" r="3.2"/><circle cx="436.6" cy="1454.8" r="3.2"/><circle cx="441.2" cy="1455" r="3.2"/><circle cx="443.7" cy="1454.7" r="3.2"/><circle cx="444.2" cy="1454.8" r="3.2"/><circle cx="441.5" cy="1449.2" r="3.2"/><circle cx="449" cy="1380" r="3.2"/><circle cx="452.2" cy="1380" r="3.2"/><circle cx="456.5" cy="1379.7" r="3.2"/><circle cx="459.6" cy="1379.5" r="3.2"/><circle cx="461.7" cy="1379.5" r="3.2"/><circle cx="464.6" cy="1379.7" r="3.2"/><circle cx="467.3" cy="1379.9" r="3.2"/><circle cx="469.3" cy="1379.8" r="3.2"/><circle cx="471.8" cy="1379.6" r="3.2"/><circle cx="474.7" cy="1379.7" r="3.2"/><circle cx="477" cy="1380" r="3.2"/><circle cx="480.9" cy="1379.9" r="3.2"/><circle cx="483" cy="1379.9" r="3.2"/><circle cx="487.2" cy="1379.9" r="3.2"/><circle cx="490.3" cy="1379.8" r="3.2"/><circle cx="493" cy="1379.7" r="3.2"/><circle cx="494.8" cy="1379.9" r="3.2"/><circle cx="497.1" cy="1379.5" r="3.2"/><circle cx="501.1" cy="1379.9" r="3.2"/><circle cx="503.8" cy="1379.7" r="3.2"/><circle cx="506.4" cy="1379.7" r="3.2"/><circle cx="509" cy="1379.8" r="3.2"/><circle cx="512.5" cy="1379.9" r="3.2"/><circle cx="514.8" cy="1379.5" r="3.2"/><circle cx="517.6" cy="1380" r="3.2"/><circle cx="519.5" cy="1379.6" r="3.2"/><circle cx="521.7" cy="1379.7" r="3.2"/><circle cx="523.6" cy="1379.6" r="3.2"/><circle cx="528.3" cy="1379.7" r="3.2"/><circle cx="531.4" cy="1379.5" r="3.2"/><circle cx="535.7" cy="1379.5" r="3.2"/><circle cx="538.3" cy="1379.7" r="3.2"/><circle cx="541" cy="1379.7" r="3.2"/><circle cx="545.2" cy="1379.8" r="3.2"/><circle cx="549.4" cy="1379.8" r="3.2"/><circle cx="552.5" cy="1379.5" r="3.2"/><circle cx="555.7" cy="1379.5" r="3.2"/><circle cx="558.1" cy="1380" r="3.2"/><circle cx="562.4" cy="1379.8" r="3.2"/><circle cx="566.5" cy="1379.8" r="3.2"/><circle cx="570.3" cy="1379.9" r="3.2"/><circle cx="572.9" cy="1379.7" r="3.2"/><circle cx="575.6" cy="1379.5" r="3.2"/><circle cx="578" cy="1379.6" r="3.2"/><circle cx="580.3" cy="1379.6" r="3.2"/><circle cx="581.9" cy="1379.9" r="3.2"/><circle cx="583.9" cy="1379.8" r="3.2"/><circle cx="586.9" cy="1379.9" r="3.2"/><circle cx="590" cy="1380" r="3.2"/><circle cx="592.1" cy="1379.9" r="3.2"/><circle cx="603.8" cy="1379.7" r="3.2"/><circle cx="627.1" cy="1379.9" r="3.2"/><circle cx="632" cy="1379.6" r="3.2"/><circle cx="636" cy="1380" r="3.2"/><circle cx="641.4" cy="1379.4" r="3.2"/><circle cx="643.8" cy="1379.7" r="3.2"/><circle cx="646.5" cy="1380" r="3.2"/><circle cx="650.1" cy="1379.6" r="3.2"/><circle cx="653.7" cy="1379.8" r="3.2"/><circle cx="669.5" cy="1379.7" r="3.2"/>
</g>
<g fill="#ffff00" stroke="#f0a000" stroke-width="0.85">
<circle cx="69" cy="1601.2" r="3.2"/><circle cx="71.7" cy="1601.2" r="3.2"/><circle cx="74.1" cy="1601.1" r="3.2"/><circle cx="79.5" cy="1601.1" r="3.2"/><circle cx="84" cy="1601.3" r="3.2"/><circle cx="86.9" cy="1601.4" r="3.2"/><circle cx="88.3" cy="1601.4" r="3.2"/><circle cx="86.2" cy="1595" r="3.2"/><circle cx="90.3" cy="1595" r="3.2"/><circle cx="92.7" cy="1594.7" r="3.2"/><circle cx="96.2" cy="1594.9" r="3.2"/><circle cx="100.4" cy="1594.9" r="3.2"/><circle cx="102.1" cy="1594.6" r="3.2"/><circle cx="97.3" cy="1586.5" r="3.2"/><circle cx="99" cy="1586.9" r="3.2"/><circle cx="104.9" cy="1586.6" r="3.2"/><circle cx="107.1" cy="1586.4" r="3.2"/><circle cx="109.4" cy="1586.7" r="3.2"/><circle cx="111.8" cy="1586.4" r="3.2"/><circle cx="116.3" cy="1586.6" r="3.2"/><circle cx="121.3" cy="1586.8" r="3.2"/><circle cx="126" cy="1586.3" r="3.2"/><circle cx="128.1" cy="1586.7" r="3.2"/><circle cx="114.8" cy="1574.4" r="3.2"/><circle cx="120.4" cy="1574.7" r="3.2"/><circle cx="122.1" cy="1574.4" r="3.2"/><circle cx="124.8" cy="1574.9" r="3.2"/><circle cx="129.7" cy="1574.6" r="3.2"/><circle cx="131.8" cy="1574.6" r="3.2"/><circle cx="135" cy="1574.8" r="3.2"/><circle cx="138" cy="1574.9" r="3.2"/><circle cx="142.7" cy="1574.7" r="3.2"/><circle cx="147.9" cy="1574.7" r="3.2"/><circle cx="152.2" cy="1574.5" r="3.2"/><circle cx="154.5" cy="1574.8" r="3.2"/><circle cx="159.6" cy="1574.8" r="3.2"/><circle cx="159.8" cy="1574.6" r="3.2"/><circle cx="139" cy="1553.7" r="3.2"/><circle cx="140.8" cy="1553.4" r="3.2"/><circle cx="144.2" cy="1553.5" r="3.2"/><circle cx="149.3" cy="1553.6" r="3.2"/><circle cx="153.9" cy="1553.7" r="3.2"/><circle cx="157.4" cy="1553.6" r="3.2"/><circle cx="159.4" cy="1553.3" r="3.2"/><circle cx="163.1" cy="1553.5" r="3.2"/><circle cx="167.5" cy="1553.5" r="3.2"/><circle cx="171.9" cy="1553.8" r="3.2"/><circle cx="175.5" cy="1553.4" r="3.2"/><circle cx="178.3" cy="1553.6" r="3.2"/><circle cx="181" cy="1553.6" r="3.2"/><circle cx="184.4" cy="1553.9" r="3.2"/><circle cx="187" cy="1553.5" r="3.2"/><circle cx="192.6" cy="1553.8" r="3.2"/><circle cx="194.6" cy="1553.6" r="3.2"/><circle cx="198.8" cy="1553.7" r="3.2"/><circle cx="201.6" cy="1553.6" r="3.2"/><circle cx="204.7" cy="1553.8" r="3.2"/><circle cx="208.5" cy="1553.6" r="3.2"/><circle cx="211.1" cy="1553.7" r="3.2"/><circle cx="215.4" cy="1553.5" r="3.2"/><circle cx="219.2" cy="1553.4" r="3.2"/><circle cx="222.8" cy="1553.5" r="3.2"/><circle cx="226" cy="1553.7" r="3.2"/><circle cx="217.5" cy="1528.9" r="3.2"/><circle cx="203" cy="1528.9" r="3.2"/><circle cx="201.2" cy="1515.4" r="3.2"/><circle cx="202.5" cy="1515.5" r="3.2"/><circle cx="205.6" cy="1515.4" r="3.2"/><circle cx="211.4" cy="1515.9" r="3.2"/><circle cx="213.2" cy="1515.5" r="3.2"/><circle cx="217.3" cy="1515.5" r="3.2"/><circle cx="219.8" cy="1515.8" r="3.2"/><circle cx="224.1" cy="1515.3" r="3.2"/><circle cx="228.7" cy="1515.6" r="3.2"/><circle cx="232.7" cy="1515.4" r="3.2"/><circle cx="235" cy="1515.9" r="3.2"/><circle cx="239.1" cy="1515.5" r="3.2"/><circle cx="243.8" cy="1515.7" r="3.2"/><circle cx="245.5" cy="1515.3" r="3.2"/><circle cx="249.6" cy="1515.5" r="3.2"/><circle cx="251" cy="1515.4" r="3.2"/><circle cx="254.2" cy="1515.8" r="3.2"/><circle cx="257.2" cy="1515.8" r="3.2"/><circle cx="259.5" cy="1515.7" r="3.2"/><circle cx="263.2" cy="1515.4" r="3.2"/><circle cx="267.4" cy="1515.8" r="3.2"/><circle cx="271.6" cy="1515.8" r="3.2"/><circle cx="275.7" cy="1515.8" r="3.2"/><circle cx="279.9" cy="1515.8" r="3.2"/><circle cx="284.2" cy="1515.6" r="3.2"/><circle cx="289.2" cy="1515.7" r="3.2"/><circle cx="293.4" cy="1515.4" r="3.2"/><circle cx="296.9" cy="1515.5" r="3.2"/><circle cx="301.6" cy="1515.4" r="3.2"/><circle cx="304" cy="1515.6" r="3.2"/><circle cx="309.3" cy="1515.6" r="3.2"/><circle cx="313.1" cy="1515.4" r="3.2"/><circle cx="316.1" cy="1515.6" r="3.2"/><circle cx="318.9" cy="1515.4" r="3.2"/><circle cx="321.3" cy="1515.7" r="3.2"/><circle cx="327.2" cy="1515.7" r="3.2"/><circle cx="329.8" cy="1515.4" r="3.2"/><circle cx="329.7" cy="1515.6" r="3.2"/><circle cx="353.5" cy="1515.6" r="3.2"/><circle cx="360.5" cy="1515.6" r="3.2"/><circle cx="306.5" cy="1482.6" r="3.2"/><circle cx="318" cy="1482.6" r="3.2"/><circle cx="334.5" cy="1482.6" r="3.2"/><circle cx="320.5" cy="1464.5" r="3.2"/><circle cx="335.5" cy="1454.8" r="3.2"/><circle cx="346" cy="1454.8" r="3.2"/><circle cx="353" cy="1454.8" r="3.2"/><circle cx="400" cy="1454.8" r="3.2"/><circle cx="404" cy="1454.8" r="3.2"/><circle cx="412" cy="1454.8" r="3.2"/><circle cx="428" cy="1454.8" r="3.2"/><circle cx="432" cy="1454.8" r="3.2"/><circle cx="449.5" cy="1448.4" r="3.2"/><circle cx="434.7" cy="1379.7" r="3.2"/><circle cx="519.8" cy="1379.7" r="3.2"/><circle cx="536" cy="1379.7" r="3.2"/><circle cx="543" cy="1379.7" r="3.2"/><circle cx="548.8" cy="1379.7" r="3.2"/><circle cx="554.6" cy="1379.7" r="3.2"/><circle cx="563.9" cy="1379.7" r="3.2"/><circle cx="572.8" cy="1379.7" r="3.2"/><circle cx="579.4" cy="1379.7" r="3.2"/><circle cx="585.6" cy="1379.7" r="3.2"/><circle cx="590.2" cy="1379.7" r="3.2"/><circle cx="608.4" cy="1379.7" r="3.2"/>
</g>
</g>
<g stroke="#ff1a1a" stroke-width="2" fill="none">
<line x1="67.9" y1="1609.3" x2="609" y2="1307.2" stroke-dasharray="6.3 6.428" stroke-dashoffset="-5.55"/>
<line x1="67.9" y1="1609.3" x2="672.8" y2="1335.1" stroke-dasharray="6.3 6.428" stroke-dashoffset="-6.15"/>
<line x1="67.9" y1="1609.3" x2="672.8" y2="1307.2"/>
</g>
<rect x="67.9" y="1307.2" width="604.9" height="298.6" fill="none" stroke="#6e6e6e" stroke-width="1.4"/>
<path d="M108.2 1605.8v-2.2M108.2 1307.2v2.2M67.9 1585.9h2.2M672.8 1585.9h-2.2M148.6 1605.8v-2.2M148.6 1307.2v2.2M67.9 1566h2.2M672.8 1566h-2.2M188.9 1605.8v-2.2M188.9 1307.2v2.2M67.9 1546.1h2.2M672.8 1546.1h-2.2M229.2 1605.8v-2.2M229.2 1307.2v2.2M67.9 1526.2h2.2M672.8 1526.2h-2.2M269.5 1605.8v-4.6M269.5 1307.2v4.6M67.9 1506.3h4.6M672.8 1506.3h-4.6M309.9 1605.8v-2.2M309.9 1307.2v2.2M67.9 1486.4h2.2M672.8 1486.4h-2.2M350.2 1605.8v-2.2M350.2 1307.2v2.2M67.9 1466.5h2.2M672.8 1466.5h-2.2M390.5 1605.8v-2.2M390.5 1307.2v2.2M67.9 1446.5h2.2M672.8 1446.5h-2.2M430.8 1605.8v-2.2M430.8 1307.2v2.2M67.9 1426.6h2.2M672.8 1426.6h-2.2M471.2 1605.8v-4.6M471.2 1307.2v4.6M67.9 1406.7h4.6M672.8 1406.7h-4.6M511.5 1605.8v-2.2M511.5 1307.2v2.2M67.9 1386.8h2.2M672.8 1386.8h-2.2M551.8 1605.8v-2.2M551.8 1307.2v2.2M67.9 1366.9h2.2M672.8 1366.9h-2.2M592.1 1605.8v-2.2M592.1 1307.2v2.2M67.9 1347h2.2M672.8 1347h-2.2M632.5 1605.8v-2.2M632.5 1307.2v2.2M67.9 1327.1h2.2M672.8 1327.1h-2.2" stroke="#6e6e6e" stroke-width="1.1" fill="none"/>
<g font-family="Liberation Serif" font-weight="bold" font-size="14.6" fill="#1a1a1a"><text x="67.9" y="1623.7" text-anchor="middle" textLength="6.5" lengthAdjust="spacingAndGlyphs">0</text><text x="63.3" y="1610.9" text-anchor="end" textLength="6.5" lengthAdjust="spacingAndGlyphs">0</text><text x="269.5" y="1623.7" text-anchor="middle" textLength="19.6" lengthAdjust="spacingAndGlyphs">500</text><text x="63.3" y="1511.4" text-anchor="end" textLength="19.6" lengthAdjust="spacingAndGlyphs">500</text><text x="471.2" y="1623.7" text-anchor="middle" textLength="26.2" lengthAdjust="spacingAndGlyphs">1000</text><text x="63.3" y="1411.8" text-anchor="end" textLength="26.2" lengthAdjust="spacingAndGlyphs">1000</text><text x="672.8" y="1623.7" text-anchor="middle" textLength="26.2" lengthAdjust="spacingAndGlyphs">1500</text><text x="63.3" y="1312.3" text-anchor="end" textLength="26.2" lengthAdjust="spacingAndGlyphs">1500</text></g>
<text x="292" y="1641.3" font-family="Liberation Serif" font-weight="bold" font-size="15.0" fill="#1a1a1a" textLength="157.4" lengthAdjust="spacingAndGlyphs">Actual stock price (RMB)</text>
<text transform="translate(31.2 1545) rotate(-90)" font-family="Liberation Serif" font-weight="bold" font-size="14.8" fill="#1a1a1a" textLength="176.2" lengthAdjust="spacingAndGlyphs">Predicted stock price (RMB)</text>
<text x="136.7" y="1268.3" font-family="Liberation Serif" font-weight="bold" font-size="34.0" fill="#000">(d)</text>
<text x="188.2" y="1268.3" font-family="Liberation Serif" font-size="22" fill="#000" textLength="410.6" lengthAdjust="spacingAndGlyphs">The Prediction Results of the Adaboost Model</text>
<g font-family="Liberation Sans" font-weight="bold" font-size="14.4" fill="#ff2020"><text x="504.4" y="1331.4" textLength="38.6" lengthAdjust="spacingAndGlyphs">+10%</text><text x="598.3" y="1391.8" textLength="35" lengthAdjust="spacingAndGlyphs">-10%</text></g>
<rect x="467.8" y="1521.3" width="161.3" height="63.8" fill="#fff" stroke="#7a7a7a" stroke-width="1"/>
<circle cx="514.5" cy="1537" r="3.3" fill="#0000f8" stroke="#000010" stroke-width="0.9"/>
<circle cx="514.5" cy="1553.9" r="3.3" fill="#ffff00" stroke="#f0a000" stroke-width="1.0"/>
<line x1="497" y1="1569.6" x2="520.3" y2="1569.6" stroke="#ff1a1a" stroke-width="2"/>
<g font-family="Liberation Serif" font-weight="bold" font-size="13.0" fill="#1a1a1a"><text x="534" y="1541.5" font-size="13.8" textLength="66.5" lengthAdjust="spacingAndGlyphs">Training set</text><text x="534" y="1558.4" font-size="13.8" textLength="40.5" lengthAdjust="spacingAndGlyphs">Test set</text><text x="533.4" y="1574.6" font-size="14.6">y=x</text></g>
</svg></body></html>
